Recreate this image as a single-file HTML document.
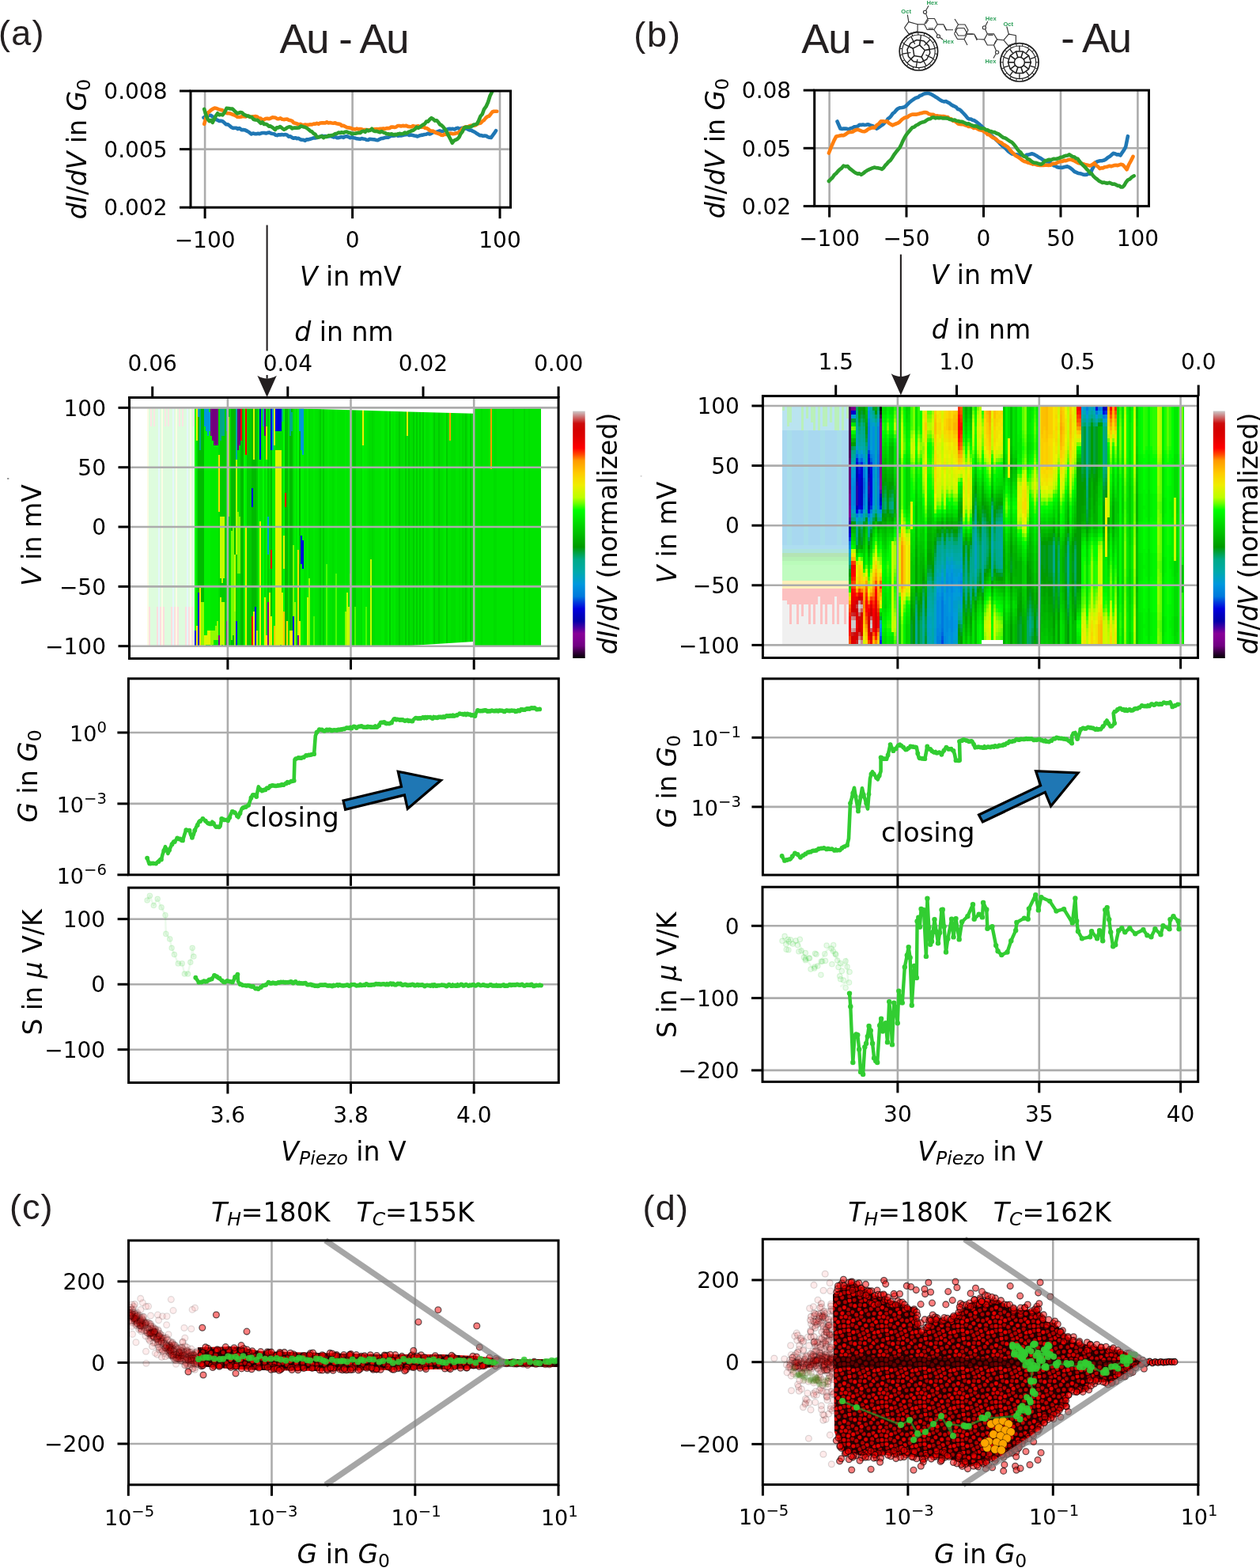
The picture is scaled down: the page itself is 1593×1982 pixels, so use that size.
<!DOCTYPE html><html><head><meta charset="utf-8"><style>html,body{margin:0;padding:0;background:#fff;}svg{display:block;}</style></head><body><svg xmlns="http://www.w3.org/2000/svg" width="1593" height="1982" viewBox="0 0 1593 1982" font-family="'DejaVu Sans', sans-serif"><rect width="1593" height="1982" fill="#fff"/>
<text x="-2.1" y="56.8" font-size="45" text-anchor="start" letter-spacing="1.3" font-family="'Liberation Sans', Arial, sans-serif" fill="#231f20">(a)</text>
<text x="801.3" y="59" font-size="45" text-anchor="start" letter-spacing="1.8" font-family="'Liberation Sans', Arial, sans-serif" fill="#231f20">(b)</text>
<text x="353.6" y="66.5" font-size="52.6" text-anchor="start" letter-spacing="-1.45" font-family="'Liberation Sans', Arial, sans-serif" fill="#231f20">Au - Au</text>
<text x="1013.2" y="66.5" font-size="52.6" text-anchor="start" letter-spacing="-1.0" font-family="'Liberation Sans', Arial, sans-serif" fill="#231f20">Au -</text>
<text x="1341.3" y="66.3" font-size="52.6" text-anchor="start" letter-spacing="-1.3" font-family="'Liberation Sans', Arial, sans-serif" fill="#231f20">- Au</text>
<line x1="259.1" y1="115" x2="259.1" y2="262.2" stroke="#acacac" stroke-width="2.6"/>
<line x1="445.6" y1="115" x2="445.6" y2="262.2" stroke="#acacac" stroke-width="2.6"/>
<line x1="632" y1="115" x2="632" y2="262.2" stroke="#acacac" stroke-width="2.6"/>
<line x1="241" y1="188.6" x2="645.5" y2="188.6" stroke="#acacac" stroke-width="2.6"/>
<line x1="1048.6" y1="114.1" x2="1048.6" y2="260.6" stroke="#acacac" stroke-width="2.6"/>
<line x1="1146" y1="114.1" x2="1146" y2="260.6" stroke="#acacac" stroke-width="2.6"/>
<line x1="1243.5" y1="114.1" x2="1243.5" y2="260.6" stroke="#acacac" stroke-width="2.6"/>
<line x1="1341" y1="114.1" x2="1341" y2="260.6" stroke="#acacac" stroke-width="2.6"/>
<line x1="1438.4" y1="114.1" x2="1438.4" y2="260.6" stroke="#acacac" stroke-width="2.6"/>
<line x1="1029.7" y1="187.3" x2="1452.5" y2="187.3" stroke="#acacac" stroke-width="2.6"/>
<line x1="287.9" y1="857.8" x2="287.9" y2="1105.8" stroke="#acacac" stroke-width="2.6"/>
<line x1="443.5" y1="857.8" x2="443.5" y2="1105.8" stroke="#acacac" stroke-width="2.6"/>
<line x1="599.2" y1="857.8" x2="599.2" y2="1105.8" stroke="#acacac" stroke-width="2.6"/>
<line x1="162.4" y1="926" x2="706.3" y2="926" stroke="#acacac" stroke-width="2.6"/>
<line x1="162.4" y1="1015.9" x2="706.3" y2="1015.9" stroke="#acacac" stroke-width="2.6"/>
<line x1="287.9" y1="1122.1" x2="287.9" y2="1368.5" stroke="#acacac" stroke-width="2.6"/>
<line x1="443.5" y1="1122.1" x2="443.5" y2="1368.5" stroke="#acacac" stroke-width="2.6"/>
<line x1="599.2" y1="1122.1" x2="599.2" y2="1368.5" stroke="#acacac" stroke-width="2.6"/>
<line x1="162.6" y1="1161.7" x2="706.3" y2="1161.7" stroke="#acacac" stroke-width="2.6"/>
<line x1="162.6" y1="1244.2" x2="706.3" y2="1244.2" stroke="#acacac" stroke-width="2.6"/>
<line x1="162.6" y1="1326.7" x2="706.3" y2="1326.7" stroke="#acacac" stroke-width="2.6"/>
<line x1="1134.9" y1="857.9" x2="1134.9" y2="1106" stroke="#acacac" stroke-width="2.6"/>
<line x1="1313.8" y1="857.9" x2="1313.8" y2="1106" stroke="#acacac" stroke-width="2.6"/>
<line x1="1492.6" y1="857.9" x2="1492.6" y2="1106" stroke="#acacac" stroke-width="2.6"/>
<line x1="964.4" y1="932.3" x2="1514.7" y2="932.3" stroke="#acacac" stroke-width="2.6"/>
<line x1="964.4" y1="1019.9" x2="1514.7" y2="1019.9" stroke="#acacac" stroke-width="2.6"/>
<line x1="1134.9" y1="1121.2" x2="1134.9" y2="1367.4" stroke="#acacac" stroke-width="2.6"/>
<line x1="1313.8" y1="1121.2" x2="1313.8" y2="1367.4" stroke="#acacac" stroke-width="2.6"/>
<line x1="1492.6" y1="1121.2" x2="1492.6" y2="1367.4" stroke="#acacac" stroke-width="2.6"/>
<line x1="964" y1="1170.3" x2="1514.7" y2="1170.3" stroke="#acacac" stroke-width="2.6"/>
<line x1="964" y1="1261.6" x2="1514.7" y2="1261.6" stroke="#acacac" stroke-width="2.6"/>
<line x1="964" y1="1352.9" x2="1514.7" y2="1352.9" stroke="#acacac" stroke-width="2.6"/>
<line x1="343.5" y1="1568" x2="343.5" y2="1876.8" stroke="#acacac" stroke-width="2.6"/>
<line x1="524.8" y1="1568" x2="524.8" y2="1876.8" stroke="#acacac" stroke-width="2.6"/>
<line x1="162.5" y1="1619.8" x2="706" y2="1619.8" stroke="#acacac" stroke-width="2.6"/>
<line x1="162.5" y1="1722.4" x2="706" y2="1722.4" stroke="#acacac" stroke-width="2.6"/>
<line x1="162.5" y1="1825" x2="706" y2="1825" stroke="#acacac" stroke-width="2.6"/>
<line x1="1147.9" y1="1566.3" x2="1147.9" y2="1876.6" stroke="#acacac" stroke-width="2.6"/>
<line x1="1331.3" y1="1566.3" x2="1331.3" y2="1876.6" stroke="#acacac" stroke-width="2.6"/>
<line x1="964.3" y1="1618" x2="1515" y2="1618" stroke="#acacac" stroke-width="2.6"/>
<line x1="964.3" y1="1721.7" x2="1515" y2="1721.7" stroke="#acacac" stroke-width="2.6"/>
<line x1="964.3" y1="1825.4" x2="1515" y2="1825.4" stroke="#acacac" stroke-width="2.6"/>
<polyline points="257.5,148.6 259.7,147.5 261.9,147.5 264.1,145.8 266.3,145.8 268.5,147.2 270.7,148.4 272.9,150.9 275.1,151.9 277.2,152.9 279.3,152.8 281.4,153.2 283.7,155.2 285.9,157.2 288.2,157.4 290.4,159 292.7,161 294.7,161.9 296.7,161.7 298.7,161.8 300.7,163.1 302.7,162 305.2,164.1 307.8,164 310.3,164.6 312.8,165.9 315.3,167.4 317.8,169.5 319.9,168.5 322,169.1 324.1,169.2 326.2,168.8 328.3,169.1 330.4,168.3 332.4,168 334.4,168 336.4,168.5 338.4,167.8 340.4,167.4 342.4,168.5 344.4,168.9 346.4,169.2 348.4,170.7 350.4,171.1 352.4,170.2 354.4,170.4 356.5,170.1 358.5,170.4 360.5,170 362.7,170.4 364.9,172.6 367.1,172.3 369.3,173.9 371.3,174.8 373.4,174.2 375.4,175.1 377.5,174.8 379.5,176.2 381.5,176.7 383.6,176.8 385.6,177.7 387.8,176.3 389.9,176.4 392.1,175.7 394.2,175.1 396.4,174.4 398.5,174.5 400.7,174.1 402.8,173 404.9,173 406.9,171.7 409,172.5 411.1,172.1 413.2,172.3 415.4,172.5 417.5,172 419.7,172.6 421.8,173.5 424,173 426.1,174.1 428.3,174.1 430.3,173.6 432.3,173.1 434.3,173.9 436.3,172.5 438.3,172.3 440.5,173 442.8,174.2 445,173.3 447,174.2 449.1,174.6 451.1,175.3 453.1,175.5 455.2,175.8 457.2,175.1 459.3,175.5 461.3,175.7 463.3,176.7 465.4,177 467.4,175.8 469.5,176 471.5,176.3 473.5,176.4 475.6,177 477.6,177.3 479.8,176.1 482,175 484.2,174.9 486.4,174.1 488.6,173.7 490.8,173.6 493,172.5 495.2,171.5 497.2,171.6 499.2,171.5 501.2,170.4 503.2,171.7 505.2,171.3 507.3,171.4 509.3,171.1 511.3,170.4 513.3,170.3 515.3,169.7 517.4,170.9 519.5,170.4 521.6,170.9 523.7,171.5 525.8,171.8 527.9,172.5 530.1,171.5 532.3,170.9 534.5,170.6 536.6,170 538.8,169.8 541,168.7 543.2,169.5 545.4,168.6 547.5,167.3 549.6,167 551.7,166.7 553.8,166.2 555.9,165.4 558,166 560.1,165.8 562.2,164.4 564.3,164 566.4,163.1 568.5,162.9 570.6,163.1 572.7,162.8 574.7,163.5 576.8,162.2 578.9,161.8 581,163 583.1,162.1 585.2,161.9 587.3,162.8 589.4,162.3 591.5,163.4 593.6,164.4 595.7,164.6 597.9,165.9 600.1,166.8 602.3,168.5 604.5,169.8 606.5,171.1 608.6,171.1 610.6,171.9 612.6,171.6 614.7,171.8 616.7,173.1 618.8,173.8 620.8,174 622.9,171.2 624.9,168.4 627,165.2" fill="none" stroke="#1f77b4" stroke-width="4.6" stroke-linejoin="round" stroke-linecap="round"/>
<polyline points="258.2,156.8 260.4,149.1 262.6,142.6 264.8,141 267,139 269.1,137.6 271.3,136.6 273.8,137 276.4,138.1 278.9,138.9 281.1,139.2 283.3,141.1 285.5,142.3 287.7,143.3 289.8,143.2 291.9,143.8 293.9,144.7 296,145.4 298.1,146.3 300.2,147.8 302.3,148 304.4,147.7 306.5,147 308.5,147.2 310.6,147.5 312.6,146.3 314.6,147.3 316.7,147.7 318.7,147.5 320.8,147.4 322.8,147 325,147.4 327.2,149.4 329.4,149.6 331.6,151.3 333.7,151.2 335.8,150 337.9,149.7 340,150.2 342.1,149.6 344.2,148.4 346.3,148.5 348.4,148.8 350.5,150.2 352.6,150.2 354.6,149.4 356.7,150.7 358.8,151.1 360.9,150.8 363,150.6 365.1,151.8 367.2,152.1 369.2,152.8 371.3,155.3 373.4,155.7 375.5,156.4 377.6,157.4 379.7,156.9 381.8,157.9 383.9,158.2 386,157.5 388.1,157.9 390.2,157.7 392.3,157.3 394.4,157.5 396.5,156.6 398.6,156.6 400.6,155.8 402.7,156.7 404.8,155.5 406.9,155.4 409,155.3 411.1,155.5 413.2,154.4 415.3,155.5 417.4,155.1 419.5,155.5 421.6,155.8 423.7,155.3 425.8,156.3 427.9,156.6 430.1,157 432.2,159 434.3,158.7 436.5,159.9 438.6,161 440.7,161.4 442.9,161.7 445,162.7 447,163 449.1,163.5 451.1,162.6 453.1,163.4 455.2,163.1 457.2,163.3 459.3,164.3 461.3,164 463.4,164 465.6,164.2 467.7,164.3 469.9,163.4 472,163.5 474.1,163.2 476.3,163.1 478.4,163.3 480.6,162.8 482.7,162.8 484.7,162.4 486.7,162.8 488.7,162.1 490.7,162.1 492.8,161.9 494.8,160.5 496.8,160.6 498.8,160.9 500.8,160.5 502.8,159 505,159 507.1,159.5 509.3,158.9 511.5,159.2 513.6,158.9 515.8,159.9 517.9,160.1 520.1,160.2 522.3,159 524.4,159.9 526.6,159.9 528.8,159.2 531,160.5 533.2,160.8 535.4,159.8 537.4,161.9 539.4,162 541.4,163.2 543.4,165 545.4,165.7 547.5,165.6 549.6,167 551.7,168.1 553.8,168.7 555.9,169.5 558,170.6 560.1,170.9 562.2,169.5 564.3,170 566.4,169.5 568.5,168.5 570.6,168.7 572.7,169.2 574.7,169 576.8,168.3 578.8,168.3 580.8,166.5 582.9,165.3 584.9,162.4 586.9,161.1 589,160.2 591.1,160.8 593.2,159.5 595.3,158.7 597.3,158.6 599.4,158.8 601.5,158.1 603.6,156.7 605.7,155.9 607.8,155.5 609.9,153.2 612,151.8 614.1,149.1 616.2,147.4 618.3,146.7 620.4,144.2 622.4,141.5 624.5,140.8 628.3,140.8" fill="none" stroke="#ff7f0e" stroke-width="4.6" stroke-linejoin="round" stroke-linecap="round"/>
<polyline points="258.2,137.9 260.4,145.3 262.6,150.3 264.7,153.2 266.7,151.9 268.8,154.8 270.9,150.2 273,146.3 275.1,143.3 277.2,145.4 279.3,144.7 281.4,145.4 283.9,142.1 286.4,136.9 288.9,137 291.4,137.5 293.9,137.6 296,139.7 298.1,141.7 300.2,143.4 304,142 306.1,142.5 308.2,144.7 310.3,145.6 312.3,146.7 314.3,146.6 316.3,148 318.3,148.1 320.3,150.7 322.8,151.5 325.3,151.8 327.8,153.8 329.8,155.8 331.8,154.4 333.9,157 335.9,156.8 337.9,157.7 339.9,159.6 341.9,159.4 343.9,160.7 345.9,162.2 347.9,164 350,161.2 352.1,161.4 354.2,160 356.7,162.1 359.2,163.7 361.3,162.7 363.4,161.1 365.5,160.4 367.5,160.5 369.5,162.5 371.5,161.5 373.5,161.6 375.5,161.6 378.1,161.4 380.6,159.3 383.1,160.2 385.6,160.7 388.1,162 390.2,163.7 392.3,165.7 394.4,166.5 396.5,168.8 398.6,169.9 400.7,173.3 402.8,173.5 404.9,172.7 406.9,172.1 409,174.2 411.1,172.7 413.2,173 415.3,171.4 417.4,171.6 419.5,171.1 421.6,170.5 423.7,169 425.8,169 427.9,167.5 430,168 432.1,167.3 434.1,167.9 436.2,166.7 438.3,166.5 440.5,167.6 442.8,167.9 445,169.2 447.1,168.7 449.2,168.8 451.3,168.2 453.4,167.9 455.5,167.9 457.6,166.2 459.6,165.6 461.7,166.9 463.8,164.3 465.9,165.4 468,164.8 470.1,162.8 472.2,165.4 474.3,166 476.4,165.8 478.5,166.6 480.5,167.3 482.6,166 484.7,167.5 486.8,167.9 488.9,169.3 491,169.4 493.1,169.7 495.2,169.3 497.3,170.3 499.4,169.9 501.5,170.2 503.6,169.2 505.7,168.9 507.8,169.3 509.9,169 512.1,167.5 514.2,168.5 516.4,166.9 518.5,166.1 520.7,165.2 522.8,164.5 524.8,163 526.8,160.7 528.9,161.8 530.9,160.6 532.9,159 535,157.6 537.1,156.5 539.1,153.5 541.2,153.7 543.3,151 545.4,149.1 547.6,150.5 549.8,152.6 552,152.2 554.2,154.5 556.2,157.4 558.2,158.4 560.3,160.4 562.3,162.9 564.3,165.7 566.8,170.9 569.3,175.6 571.8,180.7 573.9,177.9 576,176.8 578.1,175.9 580.3,173.7 582.5,169.1 584.7,166.3 586.9,161.4 588.9,160.8 591,160.5 593,160.8 595,160.1 597.1,159.3 599.1,157.5 601.2,157.3 603.2,156.4 605.4,152 607.6,146.7 609.8,144.3 612,138.1 614.5,134.7 617,129.2 619.5,121.3 622,116.3" fill="none" stroke="#2ca02c" stroke-width="4.6" stroke-linejoin="round" stroke-linecap="round"/>
<polyline points="1058.5,153.5 1062.4,162.5 1064.5,162.9 1066.6,162.6 1068.8,162.6 1070.9,162.8 1073,163.9 1075.3,162.2 1077.5,161.8 1079.8,160.4 1082,160.1 1084.3,159.7 1086.5,157.9 1088.8,157.9 1090.9,157.5 1093,158 1095.1,157.7 1097.2,157.2 1099.3,158 1101.6,158.8 1103.9,159.5 1106.2,160.8 1108.5,162.7 1110.5,161.3 1112.5,159.9 1114.5,158.4 1116.5,157.3 1118.5,155 1120.6,153.4 1122.6,150.1 1124.7,148.7 1126.7,146.5 1128.8,143.4 1130.8,142.1 1132.9,139.5 1134.9,137.5 1137.5,136.3 1140.2,136 1142.8,135.6 1145.1,134.3 1147.4,131.9 1149.7,129.6 1152,127.7 1154.2,126.2 1156.4,124.6 1158.6,123.4 1160.8,122.9 1163,121 1165.2,120.4 1167.4,118.9 1169.6,118.3 1171.8,117.9 1174,118 1176.2,118.6 1178.4,119.7 1180.6,121.1 1182.8,122.4 1185,123.7 1187.2,125.4 1189.4,126.9 1191.6,127.9 1193.8,128.5 1196,128.1 1198.2,129.4 1200.3,130.4 1202.5,132.2 1204.6,133.5 1206.8,134.4 1208.9,135.6 1211,138 1213.2,138.5 1215.3,140.3 1217.9,143 1220.6,145.8 1223.2,149.2 1225.3,150.4 1227.4,150.5 1229.6,151.8 1231.7,152.3 1233.8,153.6 1236,155.3 1238.1,157 1240.3,158.9 1242.4,160.9 1244.6,163.7 1246.7,165.1 1248.9,166.7 1251,169.5 1253.2,171.5 1255.4,173 1257.6,174.8 1259.8,177.1 1262,179.1 1264.2,181.6 1266.4,183.5 1268.6,185.5 1270.8,187.2 1273,189.4 1275.1,191.5 1277.3,193.1 1279.5,194.5 1281.8,194.9 1284,195.4 1286.3,195.6 1288.6,195.9 1290.9,195.9 1293.1,196.6 1295.4,197.8 1297.7,195.9 1300,195.6 1302.3,194.9 1304.6,194.3 1306.9,194.9 1309.2,196.3 1311.5,197.6 1313.8,199.1 1316.2,200.3 1318.6,202.1 1320.9,203.2 1323.3,204.4 1325.7,204.5 1327.9,205.8 1330.1,207.8 1332.3,209.2 1334.5,209.9 1336.7,211.3 1338.9,211.8 1341,211.7 1343.1,211.9 1345.2,211.2 1347.3,210.7 1349.4,210.4 1351.7,211.3 1354,212.9 1356.3,214.8 1358.6,217 1360.8,217.9 1363,218.9 1365.2,219.3 1367.4,219.8 1369.6,220.7 1371.8,220.9 1374,220.6 1376.2,219.5 1378.4,219.9 1380.6,214.4 1382.8,210.4 1385,205.3 1387.2,204.3 1389.4,203.6 1391.6,203.2 1393.8,203.1 1396,202.6 1398.2,201.3 1400.5,199.3 1402.8,197.9 1405.1,196 1407.4,193.8 1409.7,194.2 1412,195.4 1414.3,195.3 1416.6,196.4 1418.8,192.8 1421,189.7 1423.2,185.6 1425.9,172.2" fill="none" stroke="#1f77b4" stroke-width="4.6" stroke-linejoin="round" stroke-linecap="round"/>
<polyline points="1047.9,193.5 1049.9,188.4 1051.9,183.5 1054.5,177.6 1057.1,172.6 1059.4,172.1 1061.8,171.4 1064.1,170.9 1066.4,171.3 1069,169.9 1071.6,167.9 1073.8,167 1076,166.9 1078.2,166.5 1080.4,165 1082.6,164.1 1084.8,163.8 1087.4,164.8 1090.1,166 1092.7,166.3 1095.3,165.1 1098,163 1100.6,162.1 1103.3,161.1 1105.9,161.4 1108.5,158.1 1111.2,156.3 1113.8,153.2 1116.4,153.2 1119.1,153.8 1121.7,153.3 1123.9,155.8 1126.1,157 1128.3,158.4 1130.5,157.4 1132.7,156.5 1134.9,155.7 1137.5,154 1140.2,151.1 1142.8,149.4 1145.1,148.2 1147.4,148.1 1149.7,146.1 1152,145.1 1154.3,144.6 1156.7,144.5 1159,144.6 1161.3,144.1 1163.5,143.2 1165.7,142.9 1167.9,142.1 1170.1,142.1 1172.3,142.6 1174.5,144.1 1177.1,144.8 1179.8,144.8 1182.4,146.5 1184.7,146.4 1186.9,146.7 1189.2,146.9 1191.4,147 1193.7,147.1 1195.9,147.7 1198.2,148 1200.4,150.1 1202.6,150.4 1204.8,152.7 1207,153.1 1209.2,154.6 1211.4,156.5 1213.6,157 1215.8,157.1 1218,157.2 1220.2,158.3 1222.4,158.7 1224.6,159.9 1226.8,159.7 1229,160.6 1231.2,162 1233.4,161.6 1235.6,162.8 1237.8,164 1240,164.6 1242.2,165.1 1244.4,166.4 1246.6,167.7 1248.8,170.1 1251,170.6 1253.2,172.5 1255.4,174.1 1257.6,174.9 1259.8,176.3 1262,178.6 1264.2,179.7 1266.4,180.7 1268.6,182.7 1270.8,183.7 1273,185.1 1275.2,187 1277.4,190.1 1279.5,192.4 1281.7,194.3 1283.9,196.8 1286.1,197.9 1288.3,199.4 1290.5,200.9 1292.7,202.7 1294.9,203.9 1297.1,204.4 1299.3,205.5 1301.5,206.1 1303.7,206.7 1305.9,207.6 1308.1,207.2 1310.3,208.3 1312.5,208.7 1314.7,208.9 1316.9,209 1319.1,208.9 1321.3,208.7 1323.5,208.8 1325.7,208.9 1327.9,208.8 1330.1,207.3 1332.3,206.7 1334.5,206.7 1336.7,205.5 1338.9,204.6 1341.1,203.9 1343.3,203.9 1345.5,202.9 1347.6,203.1 1349.8,202.3 1352,201.8 1354.2,201.8 1356.4,202.5 1358.6,203.4 1360.8,204.7 1363,205.9 1365.2,206.4 1367.4,206.6 1369.6,207.3 1371.8,207.9 1374,208.4 1376.2,209 1378.4,209.5 1381.1,208 1383.7,206 1385.9,209.1 1388.1,210.6 1390.3,213.1 1392.4,212.4 1394.4,212.4 1396.5,211.3 1398.6,210.9 1400.7,210.4 1402.7,209.8 1404.8,210.3 1406.9,209.6 1408.9,209 1411,208.8 1413.1,209.2 1415.2,208.4 1417.2,207.8 1419.3,208.2 1421.9,210.9 1424.6,214.3 1427.2,208 1429.9,203.1 1432.5,197.9" fill="none" stroke="#ff7f0e" stroke-width="4.6" stroke-linejoin="round" stroke-linecap="round"/>
<polyline points="1047.9,229 1050.2,226.7 1052.5,224.5 1054.8,221.1 1057.1,219.2 1059.4,216.5 1061.8,214.1 1064.1,212.5 1066.4,209.6 1069,210.4 1071.6,210 1074.2,213 1076.9,214.9 1079.5,217.1 1081.8,218.6 1084.2,219.6 1086.5,219.4 1088.8,220.8 1091.4,219.1 1094.1,216.9 1096.7,215.3 1099,214.1 1101.3,213.1 1103.6,212.2 1105.9,211.6 1108.2,212.3 1110.5,212.4 1112.8,212.9 1115.1,213.9 1117.2,212 1119.3,209 1121.5,206.8 1123.6,204.3 1125.7,202.7 1128.1,199.2 1130.4,195.5 1132.8,192.3 1135.1,189.5 1137.5,186.6 1139.5,182.7 1141.5,178.1 1143.5,174.2 1145.5,170.8 1148.1,167.4 1150.8,164.2 1153.4,161.2 1155.8,160.6 1158.1,158.5 1160.5,157.5 1162.8,155.9 1165.2,154.7 1167.4,154.3 1169.6,153.4 1171.8,151.7 1174,150.5 1176.2,150.2 1178.4,148.5 1180.6,148.3 1182.8,149.4 1185,148.8 1187.2,149.3 1189.4,148.8 1191.6,149.4 1193.8,149.3 1196,149.4 1198.2,149.6 1200.4,150.7 1202.6,151.2 1204.8,152 1207,151.6 1209.2,152.7 1211.4,153 1213.6,153.7 1215.8,153.8 1218,154.5 1220.2,155.5 1222.4,156.6 1224.5,156.3 1226.7,157.5 1228.9,158.5 1231.1,159.4 1233.3,159.1 1235.5,159.8 1237.8,161.4 1240,162.2 1242.2,162.3 1244.4,162.5 1246.6,164.3 1248.8,164.4 1251,165.8 1253.2,166.1 1255.4,167.1 1257.6,167.1 1259.8,168.5 1262,169.2 1264.2,170.7 1266.4,172.6 1268.6,173.9 1270.7,174.4 1272.9,175.8 1275.1,177.3 1277.3,178.8 1279.5,180 1281.7,182.3 1283.9,185.1 1286.1,188.3 1288.3,191.1 1290.5,192.7 1292.7,196 1294.9,197.7 1297.1,198.4 1299.3,200.9 1301.5,201.6 1303.7,203.7 1305.9,205.2 1308,205.8 1310.1,205.9 1312.3,206.6 1314.4,207.4 1316.5,207.7 1319.1,205.7 1321.7,203.1 1323.9,202.7 1326,201.8 1328.2,202.1 1330.3,201.5 1332.5,200.8 1334.6,201 1336.8,200.6 1338.9,199.8 1341.1,198.8 1343.3,198.5 1345.5,197.4 1347.6,196.8 1349.8,196.5 1352,195.4 1354.1,196.9 1356.2,198 1358.4,198.5 1360.5,200.3 1362.6,200.7 1364.9,204.1 1367.2,206.8 1369.5,209.1 1371.8,211.2 1373.9,213.8 1376,215.8 1378.2,218.6 1380.3,219.7 1382.4,222.7 1384.7,224.9 1387,226.5 1389.3,228.6 1391.6,229.8 1393.8,231 1396,230.6 1398.2,231.4 1400.4,231.6 1402.6,230.9 1404.8,231.8 1406.9,232.8 1408.9,232.5 1411,233.6 1413.1,234.8 1415.2,234.9 1417.2,236.5 1419.3,236.5 1421.5,234.1 1423.7,230.2 1425.9,227.5 1428.5,226.3 1431.2,223.7 1433.8,222.3" fill="none" stroke="#2ca02c" stroke-width="4.6" stroke-linejoin="round" stroke-linecap="round"/>
<path d="M186 515h2v303h-2zM204 515h2v303h-2zM222 515h2v303h-2zM240 515h2v303h-2z" fill="#fcfce4" shape-rendering="crispEdges"/>
<path d="M188 515h2v252h-2zM190 539h2v279h-2zM192 515h2v303h-2zM194 539h2v279h-2zM196 515h2v303h-2zM198 515h2v252h-2zM202 515h2v252h-2zM206 515h2v252h-2zM208 539h2v279h-2zM210 515h2v303h-2zM212 539h2v279h-2zM214 515h2v303h-2zM216 515h2v252h-2zM220 515h2v252h-2zM224 515h2v252h-2zM226 539h2v279h-2zM228 515h2v303h-2zM230 539h2v279h-2zM232 515h2v303h-2zM234 515h2v252h-2zM238 515h2v252h-2zM242 515h2v252h-2zM244 539h2v279h-2z" fill="#defcde" shape-rendering="crispEdges"/>
<path d="M188 767h2v51h-2zM198 767h2v51h-2zM202 767h2v51h-2zM206 767h2v51h-2zM216 767h2v51h-2zM220 767h2v51h-2zM224 767h2v51h-2zM234 767h2v51h-2zM238 767h2v51h-2zM242 767h2v51h-2z" fill="#fcdede" shape-rendering="crispEdges"/>
<path d="M190 515h2v24h-2zM194 515h2v24h-2zM208 515h2v24h-2zM212 515h2v24h-2zM226 515h2v24h-2zM230 515h2v24h-2zM244 515h2v24h-2z" fill="#fce4e4" shape-rendering="crispEdges"/>
<path d="M200 515h2v303h-2zM218 515h2v303h-2zM236 515h2v303h-2z" fill="#e4f6fc" shape-rendering="crispEdges"/>
<path d="M246 515h2v282h-2zM308 515h2v303h-2zM332 539h2v279h-2zM358 515h2v162h-2zM358 719h2v54h-2zM376 515h2v180h-2z" fill="#00fc00" shape-rendering="crispEdges"/>
<path d="M246 797h2v21h-2zM250 749h2v69h-2zM298 785h2v33h-2zM318 617h2v24h-2zM322 767h2v51h-2zM328 515h2v66h-2zM342 515h2v54h-2zM348 515h2v30h-2zM350 515h2v30h-2zM352 515h2v30h-2zM354 515h2v30h-2zM370 779h2v39h-2zM380 677h2v36h-2zM382 683h2v36h-2z" fill="#0000de" shape-rendering="crispEdges"/>
<path d="M248 515h2v42h-2zM248 791h2v27h-2zM310 665h2v153h-2zM320 773h2v45h-2zM328 659h2v159h-2zM334 755h2v63h-2zM336 803h2v15h-2zM342 779h2v39h-2zM346 515h2v48h-2zM366 797h2v21h-2zM368 797h2v21h-2zM378 785h2v33h-2zM458 515h2v48h-2zM514 515h2v36h-2z" fill="#f0f000" shape-rendering="crispEdges"/>
<path d="M248 557h2v234h-2zM276 515h2v60h-2zM276 647h2v156h-2zM286 545h2v240h-2zM290 515h2v303h-2zM300 569h2v78h-2zM300 725h2v93h-2zM302 563h2v90h-2zM302 725h2v93h-2zM334 551h2v204h-2zM340 515h2v234h-2zM348 545h2v24h-2zM350 545h2v24h-2zM352 545h2v24h-2zM354 545h2v24h-2zM354 815h2v3h-2zM356 533h2v216h-2zM364 515h2v303h-2zM370 515h2v174h-2zM390 515h2v216h-2zM402 515h2v303h-2zM420 515h2v303h-2zM456 515h2v303h-2zM466 515h2v303h-2zM468 515h2v192h-2zM472 515h2v303h-2zM486 515h2v303h-2zM488 515h2v303h-2zM500 515h2v303h-2zM502 515h2v303h-2zM506 515h2v303h-2zM508 515h2v303h-2zM518 515h2v303h-2zM520 515h2v303h-2zM538 515h2v303h-2zM540 515h2v303h-2zM550 515h2v303h-2zM552 515h2v303h-2zM556 515h2v303h-2zM558 515h2v303h-2zM570 515h2v303h-2zM572 515h2v303h-2zM574 515h2v303h-2zM580 515h2v303h-2zM586 515h2v303h-2zM590 515h2v303h-2zM596 515h2v303h-2zM608 515h2v303h-2zM624 515h2v303h-2zM626 515h2v303h-2zM668 515h2v303h-2z" fill="#00de00" shape-rendering="crispEdges"/>
<path d="M250 515h2v12h-2zM332 515h2v24h-2zM344 515h2v54h-2zM378 515h2v30h-2z" fill="#00a2c0" shape-rendering="crispEdges"/>
<path d="M250 527h2v222h-2zM252 569h2v174h-2zM254 515h2v246h-2zM256 515h2v246h-2zM292 515h2v156h-2zM292 809h2v9h-2zM294 515h2v150h-2zM294 803h2v15h-2zM296 515h2v186h-2zM304 557h2v261h-2zM306 515h2v303h-2zM318 515h2v102h-2zM318 641h2v138h-2zM320 581h2v192h-2zM322 515h2v252h-2zM342 569h2v126h-2zM342 719h2v60h-2zM360 515h2v108h-2zM360 641h2v177h-2zM362 515h2v270h-2zM366 551h2v246h-2zM368 515h2v6h-2zM368 545h2v252h-2zM378 545h2v240h-2z" fill="#00ba00" shape-rendering="crispEdges"/>
<path d="M252 515h2v54h-2zM278 515h2v42h-2zM280 515h2v36h-2zM282 515h2v36h-2zM356 515h2v18h-2zM366 515h2v36h-2zM368 521h2v24h-2z" fill="#00a88a" shape-rendering="crispEdges"/>
<path d="M252 743h2v75h-2zM276 575h2v72h-2zM336 539h2v42h-2zM362 785h2v33h-2zM376 695h2v108h-2z" fill="#f6de00" shape-rendering="crispEdges"/>
<path d="M254 761h2v57h-2zM256 761h2v57h-2zM266 797h2v21h-2zM268 797h2v18h-2zM270 797h2v12h-2zM272 791h2v18h-2zM274 785h2v24h-2zM296 773h2v45h-2zM372 761h2v57h-2zM390 731h2v87h-2zM436 773h2v45h-2zM442 725h2v93h-2z" fill="#90fc00" shape-rendering="crispEdges"/>
<path d="M258 515h2v24h-2zM260 515h2v30h-2zM262 515h2v36h-2zM264 521h2v24h-2zM286 515h2v30h-2zM338 653h2v48h-2zM380 515h2v54h-2zM382 515h2v60h-2z" fill="#0096de" shape-rendering="crispEdges"/>
<path d="M258 539h2v264h-2zM260 545h2v258h-2zM260 815h2v3h-2zM262 551h2v246h-2zM262 815h2v3h-2zM264 515h2v6h-2zM264 545h2v252h-2zM264 815h2v3h-2zM310 575h2v90h-2zM326 515h2v303h-2zM336 515h2v24h-2zM336 581h2v222h-2zM344 569h2v249h-2zM372 515h2v246h-2zM380 569h2v108h-2zM380 713h2v105h-2zM382 575h2v108h-2zM382 719h2v99h-2zM388 515h2v240h-2zM458 563h2v255h-2zM490 515h2v303h-2z" fill="#00f000" shape-rendering="crispEdges"/>
<path d="M258 803h2v15h-2zM260 803h2v12h-2zM262 797h2v18h-2zM264 797h2v18h-2zM320 515h2v66h-2zM340 749h2v69h-2zM348 569h2v249h-2zM350 569h2v249h-2zM352 569h2v249h-2zM354 569h2v246h-2zM356 749h2v69h-2zM358 677h2v42h-2z" fill="#def600" shape-rendering="crispEdges"/>
<path d="M266 515h2v36h-2zM268 515h2v42h-2zM270 515h2v48h-2zM272 515h2v48h-2zM274 515h2v48h-2zM300 515h2v54h-2zM302 515h2v48h-2zM334 515h2v36h-2z" fill="#72007e" shape-rendering="crispEdges"/>
<path d="M266 551h2v246h-2zM268 557h2v240h-2zM268 815h2v3h-2zM270 563h2v234h-2zM270 809h2v9h-2zM272 563h2v228h-2zM272 809h2v9h-2zM274 563h2v222h-2zM274 809h2v9h-2zM346 563h2v228h-2zM396 515h2v264h-2zM414 515h2v303h-2zM424 515h2v210h-2zM436 515h2v258h-2zM442 515h2v210h-2zM460 515h2v303h-2zM462 515h2v252h-2zM482 515h2v303h-2zM484 515h2v303h-2zM494 515h2v303h-2zM498 515h2v303h-2zM536 515h2v303h-2zM544 515h2v303h-2zM562 515h2v303h-2zM592 515h2v303h-2z" fill="#00ea00" shape-rendering="crispEdges"/>
<path d="M276 803h2v15h-2zM286 785h2v33h-2zM338 761h2v57h-2zM376 803h2v15h-2z" fill="#840096" shape-rendering="crispEdges"/>
<path d="M278 557h2v96h-2zM278 731h2v24h-2zM280 551h2v102h-2zM280 737h2v24h-2zM280 815h2v3h-2zM282 551h2v102h-2zM282 731h2v30h-2zM284 515h2v303h-2zM288 515h2v12h-2zM288 653h2v165h-2zM298 701h2v84h-2zM312 515h2v303h-2zM314 515h2v303h-2zM316 515h2v303h-2zM324 515h2v282h-2zM338 515h2v138h-2zM338 701h2v60h-2zM404 515h2v303h-2zM408 515h2v303h-2zM446 515h2v303h-2zM448 515h2v252h-2zM492 515h2v303h-2zM504 515h2v303h-2zM512 515h2v303h-2zM516 515h2v303h-2zM522 515h2v303h-2zM526 515h2v303h-2zM530 515h2v303h-2zM534 515h2v303h-2zM548 515h2v303h-2zM554 515h2v303h-2zM564 515h2v303h-2zM588 515h2v303h-2zM594 515h2v303h-2z" fill="#00cc00" shape-rendering="crispEdges"/>
<path d="M278 653h2v78h-2zM278 755h2v63h-2zM280 653h2v84h-2zM280 761h2v54h-2zM282 653h2v78h-2zM282 761h2v57h-2zM288 527h2v126h-2zM324 797h2v21h-2zM388 755h2v63h-2zM438 749h2v69h-2zM440 767h2v51h-2zM468 707h2v111h-2z" fill="#c6fc00" shape-rendering="crispEdges"/>
<path d="M292 671h2v138h-2zM294 665h2v138h-2zM300 647h2v78h-2zM302 653h2v72h-2zM370 689h2v90h-2z" fill="#78fc00" shape-rendering="crispEdges"/>
<path d="M296 701h2v72h-2zM298 581h2v120h-2z" fill="#bafc00" shape-rendering="crispEdges"/>
<path d="M298 515h2v66h-2z" fill="#00a8a8" shape-rendering="crispEdges"/>
<path d="M304 515h2v42h-2zM310 515h2v60h-2zM318 779h2v39h-2zM342 695h2v24h-2zM360 623h2v18h-2z" fill="#fc0000" shape-rendering="crispEdges"/>
<path d="M328 581h2v78h-2zM330 515h2v303h-2zM374 515h2v303h-2zM384 515h2v303h-2zM386 515h2v303h-2zM392 515h2v303h-2zM394 515h2v303h-2zM398 515h2v303h-2zM400 515h2v303h-2zM406 515h2v303h-2zM410 515h2v303h-2zM412 515h2v198h-2zM416 515h2v303h-2zM418 515h2v303h-2zM422 515h2v303h-2zM426 515h2v303h-2zM428 515h2v303h-2zM430 515h2v303h-2zM432 515h2v303h-2zM434 515h2v303h-2zM438 515h2v234h-2zM440 515h2v252h-2zM444 515h2v303h-2zM450 515h2v303h-2zM452 515h2v303h-2zM454 515h2v303h-2zM464 515h2v303h-2zM474 515h2v303h-2zM476 515h2v303h-2zM478 515h2v303h-2zM480 515h2v303h-2zM496 515h2v303h-2zM510 515h2v303h-2zM514 551h2v267h-2zM524 515h2v303h-2zM528 515h2v303h-2zM532 515h2v303h-2zM542 515h2v303h-2zM546 515h2v303h-2zM560 515h2v303h-2zM566 515h2v303h-2zM568 557h2v261h-2zM576 515h2v303h-2zM578 515h2v303h-2zM582 515h2v303h-2zM598 515h2v303h-2zM600 515h2v303h-2zM602 515h2v303h-2zM604 515h2v303h-2zM606 515h2v303h-2zM610 515h2v303h-2zM612 515h2v303h-2zM614 515h2v303h-2zM616 515h2v303h-2zM618 515h2v303h-2zM620 593h2v225h-2zM622 515h2v303h-2zM628 515h2v303h-2zM630 515h2v303h-2zM632 515h2v303h-2zM634 515h2v303h-2zM636 515h2v303h-2zM638 515h2v303h-2zM640 515h2v303h-2zM642 515h2v303h-2zM644 515h2v303h-2zM646 515h2v303h-2zM650 515h2v303h-2zM652 515h2v303h-2zM654 515h2v303h-2zM656 515h2v303h-2zM658 515h2v303h-2zM660 515h2v303h-2zM664 515h2v303h-2zM666 515h2v303h-2zM670 515h2v303h-2zM672 515h2v303h-2zM674 515h2v303h-2zM676 515h2v303h-2zM678 515h2v303h-2zM680 515h2v303h-2zM682 515h2v303h-2z" fill="#00e400" shape-rendering="crispEdges"/>
<path d="M346 791h2v27h-2zM358 773h2v45h-2z" fill="#fccc00" shape-rendering="crispEdges"/>
<path d="M396 779h2v39h-2zM412 713h2v105h-2zM424 725h2v93h-2zM448 767h2v51h-2zM462 767h2v51h-2z" fill="#48fc00" shape-rendering="crispEdges"/>
<path d="M470 515h2v303h-2zM584 515h2v303h-2zM648 515h2v303h-2zM662 515h2v303h-2z" fill="#00d800" shape-rendering="crispEdges"/>
<path d="M568 515h2v42h-2zM620 515h2v78h-2z" fill="#fc9c00" shape-rendering="crispEdges"/>
<polygon points="384,514 599,514 599,522.8 384,516.6" fill="#fff"/>
<polygon points="520,818 599,818 599,811 520,816" fill="#fff"/>
<rect x="246" y="816.8" width="440" height="2" fill="#fff"/>
<rect x="186" y="514" width="500" height="2.2" fill="#fff"/>
<path d="M989 514h3v5h-3zM995 514h3v25h-3zM998 514h3v20h-3zM1013 514h3v30h-3zM1019 514h3v15h-3zM1025 514h3v20h-3zM1028 514h3v30h-3zM1034 514h3v30h-3zM1040 514h3v25h-3zM1043 514h3v25h-3zM1049 514h3v20h-3zM1055 514h3v30h-3zM1058 514h3v30h-3zM1064 514h3v30h-3zM1070 514h3v15h-3z" fill="#baf0ba" shape-rendering="crispEdges"/>
<path d="M989 519h3v25h-3zM992 514h3v30h-3zM995 539h3v5h-3zM998 534h3v10h-3zM1001 514h3v30h-3zM1004 514h3v30h-3zM1007 514h3v30h-3zM1010 514h3v30h-3zM1016 514h3v30h-3zM1019 529h3v15h-3zM1022 514h3v30h-3zM1025 534h3v10h-3zM1031 514h3v30h-3zM1037 514h3v30h-3zM1040 539h3v5h-3zM1043 539h3v5h-3zM1046 514h3v30h-3zM1049 534h3v10h-3zM1052 514h3v30h-3zM1061 514h3v30h-3zM1067 514h3v30h-3zM1070 529h3v15h-3z" fill="#bae4f0" shape-rendering="crispEdges"/>
<path d="M989 544h3v145h-3zM992 544h3v145h-3zM1001 544h3v145h-3zM1004 544h3v145h-3zM1007 544h3v145h-3zM1010 544h3v145h-3zM1013 544h3v145h-3zM1022 544h3v145h-3zM1025 544h3v145h-3zM1028 544h3v145h-3zM1031 544h3v145h-3zM1034 544h3v145h-3zM1043 544h3v145h-3zM1046 544h3v145h-3zM1049 544h3v145h-3zM1052 544h3v145h-3zM1055 544h3v145h-3zM1064 544h3v145h-3zM1067 544h3v145h-3zM1070 544h3v145h-3z" fill="#a8d8f0" shape-rendering="crispEdges"/>
<path d="M989 689h3v5h-3zM992 689h3v5h-3zM995 689h3v5h-3zM998 689h3v5h-3zM1001 689h3v5h-3zM1004 689h3v5h-3zM1007 689h3v5h-3zM1010 689h3v5h-3zM1013 689h3v5h-3zM1016 689h3v5h-3zM1019 689h3v5h-3zM1022 689h3v5h-3zM1025 689h3v5h-3zM1028 689h3v5h-3zM1031 689h3v5h-3zM1034 689h3v5h-3zM1037 689h3v5h-3zM1040 689h3v5h-3zM1043 689h3v5h-3zM1046 689h3v5h-3zM1049 689h3v5h-3zM1052 689h3v5h-3zM1055 689h3v5h-3zM1058 689h3v5h-3zM1061 689h3v5h-3zM1064 689h3v5h-3zM1067 689h3v5h-3zM1070 689h3v5h-3z" fill="#aedef0" shape-rendering="crispEdges"/>
<path d="M989 694h3v5h-3zM992 694h3v5h-3zM995 694h3v5h-3zM998 694h3v5h-3zM1001 694h3v5h-3zM1004 694h3v5h-3zM1007 694h3v5h-3zM1010 694h3v5h-3zM1013 694h3v5h-3zM1016 694h3v5h-3zM1019 694h3v5h-3zM1022 694h3v5h-3zM1025 694h3v5h-3zM1028 694h3v5h-3zM1031 694h3v5h-3zM1034 694h3v5h-3zM1037 694h3v5h-3zM1040 694h3v5h-3zM1043 694h3v5h-3zM1046 694h3v5h-3zM1049 694h3v5h-3zM1052 694h3v5h-3zM1055 694h3v5h-3zM1058 694h3v5h-3zM1061 694h3v5h-3zM1064 694h3v5h-3zM1067 694h3v5h-3zM1070 694h3v5h-3z" fill="#aee4de" shape-rendering="crispEdges"/>
<path d="M989 699h3v5h-3zM992 699h3v5h-3zM995 699h3v5h-3zM998 699h3v5h-3zM1001 699h3v5h-3zM1004 699h3v5h-3zM1007 699h3v5h-3zM1010 699h3v5h-3zM1013 699h3v5h-3zM1016 699h3v5h-3zM1019 699h3v5h-3zM1022 699h3v5h-3zM1025 699h3v5h-3zM1028 699h3v5h-3zM1031 699h3v5h-3zM1034 699h3v5h-3zM1037 699h3v5h-3zM1040 699h3v5h-3zM1043 699h3v5h-3zM1046 699h3v5h-3zM1049 699h3v5h-3zM1052 699h3v5h-3zM1055 699h3v5h-3zM1058 699h3v5h-3zM1061 699h3v5h-3zM1064 699h3v5h-3zM1067 699h3v5h-3zM1070 699h3v5h-3z" fill="#b4e4b4" shape-rendering="crispEdges"/>
<path d="M989 704h3v5h-3zM992 704h3v5h-3zM995 704h3v5h-3zM998 704h3v5h-3zM1001 704h3v5h-3zM1004 704h3v5h-3zM1007 704h3v5h-3zM1010 704h3v5h-3zM1013 704h3v5h-3zM1016 704h3v5h-3zM1019 704h3v5h-3zM1022 704h3v5h-3zM1025 704h3v5h-3zM1028 704h3v5h-3zM1031 704h3v5h-3zM1034 704h3v5h-3zM1037 704h3v5h-3zM1040 704h3v5h-3zM1043 704h3v5h-3zM1046 704h3v5h-3zM1049 704h3v5h-3zM1052 704h3v5h-3zM1055 704h3v5h-3zM1058 704h3v5h-3zM1061 704h3v5h-3zM1064 704h3v5h-3zM1067 704h3v5h-3zM1070 704h3v5h-3z" fill="#b4f0b4" shape-rendering="crispEdges"/>
<path d="M989 709h3v5h-3zM992 709h3v5h-3zM995 709h3v5h-3zM998 709h3v5h-3zM1001 709h3v5h-3zM1004 709h3v5h-3zM1007 709h3v5h-3zM1010 709h3v5h-3zM1013 709h3v5h-3zM1016 709h3v5h-3zM1019 709h3v5h-3zM1022 709h3v5h-3zM1025 709h3v5h-3zM1028 709h3v5h-3zM1031 709h3v5h-3zM1034 709h3v5h-3zM1037 709h3v5h-3zM1040 709h3v5h-3zM1043 709h3v5h-3zM1046 709h3v5h-3zM1049 709h3v5h-3zM1052 709h3v5h-3zM1055 709h3v5h-3zM1058 709h3v5h-3zM1061 709h3v5h-3zM1064 709h3v5h-3zM1067 709h3v5h-3zM1070 709h3v5h-3z" fill="#bafcba" shape-rendering="crispEdges"/>
<path d="M989 714h3v20h-3zM992 714h3v20h-3zM995 714h3v20h-3zM998 714h3v20h-3zM1001 714h3v20h-3zM1004 714h3v20h-3zM1007 714h3v20h-3zM1010 714h3v20h-3zM1013 714h3v20h-3zM1016 714h3v20h-3zM1019 714h3v20h-3zM1022 714h3v20h-3zM1025 714h3v20h-3zM1028 714h3v20h-3zM1031 714h3v20h-3zM1034 714h3v20h-3zM1037 714h3v20h-3zM1040 714h3v20h-3zM1043 714h3v20h-3zM1046 714h3v20h-3zM1049 714h3v20h-3zM1052 714h3v20h-3zM1055 714h3v20h-3zM1058 714h3v20h-3zM1061 714h3v20h-3zM1064 714h3v20h-3zM1067 714h3v20h-3zM1070 714h3v20h-3z" fill="#c0fcc0" shape-rendering="crispEdges"/>
<path d="M989 734h3v10h-3zM992 734h3v10h-3zM995 734h3v10h-3zM998 734h3v10h-3zM1001 734h3v10h-3zM1004 734h3v10h-3zM1007 734h3v10h-3zM1010 734h3v10h-3zM1013 734h3v10h-3zM1016 734h3v10h-3zM1019 734h3v10h-3zM1022 734h3v10h-3zM1025 734h3v10h-3zM1028 734h3v10h-3zM1031 734h3v10h-3zM1034 734h3v10h-3zM1037 734h3v10h-3zM1040 734h3v10h-3zM1043 734h3v10h-3zM1046 734h3v10h-3zM1049 734h3v10h-3zM1052 734h3v10h-3zM1055 734h3v10h-3zM1058 734h3v10h-3zM1061 734h3v10h-3zM1064 734h3v10h-3zM1067 734h3v10h-3zM1070 734h3v10h-3z" fill="#fcf0ba" shape-rendering="crispEdges"/>
<path d="M989 744h3v15h-3zM992 744h3v15h-3zM995 744h3v20h-3zM998 744h3v45h-3zM1001 744h3v20h-3zM1004 744h3v20h-3zM1007 744h3v45h-3zM1010 744h3v20h-3zM1013 744h3v35h-3zM1016 744h3v20h-3zM1019 744h3v20h-3zM1022 744h3v45h-3zM1025 744h3v20h-3zM1028 744h3v45h-3zM1031 744h3v20h-3zM1034 744h3v10h-3zM1037 744h3v45h-3zM1040 744h3v20h-3zM1043 744h3v45h-3zM1046 744h3v20h-3zM1049 744h3v20h-3zM1052 744h3v45h-3zM1055 744h3v10h-3zM1058 744h3v45h-3zM1061 744h3v20h-3zM1064 744h3v20h-3zM1067 744h3v45h-3zM1070 744h3v20h-3z" fill="#fcc0c0" shape-rendering="crispEdges"/>
<path d="M989 759h3v57h-3zM992 759h3v57h-3zM995 764h3v52h-3zM998 789h3v27h-3zM1001 764h3v52h-3zM1004 764h3v52h-3zM1007 789h3v27h-3zM1010 764h3v52h-3zM1013 779h3v37h-3zM1016 764h3v52h-3zM1019 764h3v52h-3zM1022 789h3v27h-3zM1025 764h3v52h-3zM1028 789h3v27h-3zM1031 764h3v52h-3zM1034 754h3v62h-3zM1037 789h3v27h-3zM1040 764h3v52h-3zM1043 789h3v27h-3zM1046 764h3v52h-3zM1049 764h3v52h-3zM1052 789h3v27h-3zM1055 754h3v62h-3zM1058 789h3v27h-3zM1061 764h3v52h-3zM1064 764h3v52h-3zM1067 789h3v27h-3zM1070 764h3v52h-3z" fill="#f0f0f0" shape-rendering="crispEdges"/>
<path d="M995 544h3v145h-3zM998 544h3v145h-3zM1016 544h3v145h-3zM1019 544h3v145h-3zM1037 544h3v145h-3zM1040 544h3v145h-3zM1058 544h3v145h-3zM1061 544h3v145h-3z" fill="#a8deea" shape-rendering="crispEdges"/>
<path d="M1073 514h3v55h-3z" fill="#480054" shape-rendering="crispEdges"/>
<path d="M1073 569h3v10h-3z" fill="#540060" shape-rendering="crispEdges"/>
<path d="M1073 579h3v10h-3z" fill="#60006c" shape-rendering="crispEdges"/>
<path d="M1073 589h3v30h-3zM1112 529h3v5h-3z" fill="#660078" shape-rendering="crispEdges"/>
<path d="M1073 619h3v5h-3z" fill="#72007e" shape-rendering="crispEdges"/>
<path d="M1073 624h3v15h-3zM1076 514h3v5h-3zM1079 514h3v5h-3zM1112 534h3v5h-3z" fill="#78008a" shape-rendering="crispEdges"/>
<path d="M1073 639h3v5h-3zM1112 539h3v60h-3z" fill="#7e0090" shape-rendering="crispEdges"/>
<path d="M1073 644h3v5h-3zM1112 599h3v5h-3z" fill="#840090" shape-rendering="crispEdges"/>
<path d="M1073 649h3v5h-3zM1112 604h3v10h-3z" fill="#840096" shape-rendering="crispEdges"/>
<path d="M1073 654h3v5h-3z" fill="#60009c" shape-rendering="crispEdges"/>
<path d="M1073 659h3v5h-3z" fill="#3600a2" shape-rendering="crispEdges"/>
<path d="M1073 664h3v5h-3zM1097 594h3v5h-3zM1097 634h3v5h-3z" fill="#0000a8" shape-rendering="crispEdges"/>
<path d="M1073 669h3v5h-3zM1088 604h3v10h-3zM1097 584h3v5h-3zM1397 514h3v5h-3z" fill="#0000c0" shape-rendering="crispEdges"/>
<path d="M1073 674h3v5h-3zM1085 604h3v5h-3zM1088 589h3v5h-3zM1100 604h3v20h-3zM1112 814h3v2h-3z" fill="#0000d8" shape-rendering="crispEdges"/>
<path d="M1073 679h3v5h-3zM1100 584h3v5h-3zM1100 639h3v5h-3z" fill="#0036de" shape-rendering="crispEdges"/>
<path d="M1073 684h3v5h-3zM1082 574h3v5h-3zM1091 624h3v5h-3zM1097 564h3v5h-3zM1097 649h3v5h-3zM1109 584h3v10h-3zM1190 794h3v5h-3z" fill="#0072de" shape-rendering="crispEdges"/>
<path d="M1073 689h3v5h-3zM1079 614h3v25h-3zM1085 579h3v5h-3zM1091 584h3v5h-3zM1091 639h3v5h-3zM1097 529h3v5h-3zM1103 584h3v10h-3zM1109 539h3v30h-3zM1109 614h3v25h-3zM1112 794h3v5h-3zM1184 794h3v10h-3zM1187 799h3v10h-3zM1190 749h3v5h-3zM1193 814h3v2h-3zM1214 734h3v10h-3zM1397 524h3v5h-3z" fill="#0084de" shape-rendering="crispEdges"/>
<path d="M1073 694h3v5h-3zM1076 599h3v5h-3zM1079 524h3v5h-3zM1079 594h3v5h-3zM1082 654h3v5h-3zM1085 649h3v5h-3zM1088 569h3v5h-3zM1094 594h3v5h-3zM1094 629h3v10h-3zM1097 514h3v5h-3zM1100 564h3v5h-3zM1100 649h3v5h-3zM1103 639h3v5h-3zM1181 809h3v7h-3zM1184 739h3v5h-3zM1187 744h3v5h-3zM1190 724h3v5h-3zM1193 749h3v10h-3zM1196 714h3v5h-3zM1199 724h3v5h-3zM1199 754h3v20h-3zM1199 804h3v10h-3zM1202 714h3v5h-3zM1205 729h3v5h-3zM1205 749h3v10h-3zM1205 774h3v10h-3zM1205 799h3v10h-3zM1208 729h3v10h-3zM1208 744h3v10h-3zM1208 774h3v10h-3zM1208 794h3v10h-3zM1211 724h3v5h-3zM1211 749h3v5h-3zM1214 719h3v5h-3zM1367 514h3v5h-3zM1385 524h3v5h-3zM1388 519h3v5h-3z" fill="#009cd8" shape-rendering="crispEdges"/>
<path d="M1073 699h3v5h-3zM1079 584h3v5h-3zM1082 554h3v5h-3zM1091 569h3v5h-3zM1106 539h3v30h-3zM1106 609h3v30h-3zM1112 649h3v5h-3zM1172 779h3v5h-3zM1172 799h3v5h-3zM1175 779h3v5h-3zM1175 804h3v5h-3zM1181 754h3v5h-3zM1184 724h3v5h-3zM1205 709h3v5h-3zM1214 704h3v5h-3zM1232 684h3v5h-3zM1232 714h3v5h-3zM1373 529h3v5h-3z" fill="#00a2ba" shape-rendering="crispEdges"/>
<path d="M1073 704h3v5h-3zM1076 649h3v5h-3zM1079 649h3v5h-3zM1082 539h3v5h-3zM1088 554h3v5h-3zM1091 559h3v5h-3zM1094 574h3v5h-3zM1094 644h3v5h-3zM1097 664h3v5h-3zM1166 789h3v5h-3zM1172 754h3v5h-3zM1175 754h3v5h-3zM1178 769h3v5h-3zM1178 809h3v7h-3zM1184 709h3v5h-3zM1190 694h3v5h-3zM1205 699h3v5h-3zM1208 699h3v5h-3zM1214 689h3v5h-3zM1214 774h3v5h-3zM1232 664h3v5h-3zM1241 689h3v25h-3zM1253 659h3v5h-3zM1253 714h3v5h-3zM1265 689h3v5h-3zM1370 524h3v5h-3zM1376 524h3v5h-3zM1382 524h3v5h-3zM1391 524h3v5h-3zM1394 534h3v5h-3z" fill="#00a8a2" shape-rendering="crispEdges"/>
<path d="M1073 709h3v5h-3zM1082 529h3v5h-3zM1082 664h3v5h-3zM1085 549h3v10h-3zM1088 539h3v5h-3zM1091 549h3v5h-3zM1091 654h3v5h-3zM1094 569h3v5h-3zM1106 529h3v5h-3zM1106 644h3v5h-3zM1157 779h3v10h-3zM1166 764h3v10h-3zM1166 814h3v2h-3zM1172 739h3v10h-3zM1175 739h3v5h-3zM1178 749h3v10h-3zM1181 719h3v5h-3zM1184 689h3v10h-3zM1187 694h3v10h-3zM1193 699h3v10h-3zM1196 684h3v5h-3zM1199 689h3v5h-3zM1202 684h3v5h-3zM1205 689h3v5h-3zM1208 689h3v5h-3zM1211 684h3v5h-3zM1214 674h3v5h-3zM1220 709h3v15h-3zM1220 749h3v5h-3zM1226 714h3v10h-3zM1226 744h3v10h-3zM1229 679h3v45h-3zM1232 649h3v5h-3zM1232 744h3v5h-3zM1241 669h3v10h-3zM1241 729h3v10h-3zM1244 679h3v20h-3zM1253 644h3v10h-3zM1253 719h3v5h-3zM1259 669h3v15h-3zM1259 694h3v15h-3zM1262 664h3v10h-3zM1262 704h3v10h-3zM1265 659h3v10h-3zM1265 714h3v5h-3zM1301 789h3v5h-3zM1313 684h3v5h-3zM1313 714h3v15h-3zM1349 699h3v30h-3zM1370 529h3v5h-3zM1373 594h3v10h-3zM1376 529h3v5h-3zM1382 529h3v5h-3z" fill="#00a890" shape-rendering="crispEdges"/>
<path d="M1073 714h3v5h-3zM1076 564h3v5h-3zM1097 679h3v5h-3zM1103 654h3v5h-3zM1115 634h3v10h-3zM1118 624h3v5h-3zM1124 629h3v5h-3zM1127 624h3v5h-3zM1127 644h3v5h-3zM1133 644h3v5h-3zM1157 759h3v5h-3zM1163 779h3v5h-3zM1169 789h3v5h-3zM1172 724h3v5h-3zM1175 724h3v5h-3zM1178 734h3v5h-3zM1211 669h3v5h-3zM1214 789h3v5h-3zM1217 724h3v5h-3zM1223 734h3v10h-3zM1226 689h3v5h-3zM1229 659h3v5h-3zM1229 739h3v5h-3zM1232 634h3v5h-3zM1235 669h3v5h-3zM1235 729h3v5h-3zM1238 684h3v5h-3zM1247 674h3v5h-3zM1253 634h3v5h-3zM1256 669h3v5h-3zM1256 709h3v5h-3zM1262 649h3v5h-3zM1298 779h3v5h-3zM1301 764h3v5h-3zM1301 814h3v2h-3zM1304 779h3v5h-3zM1304 794h3v5h-3zM1310 779h3v5h-3zM1310 794h3v5h-3zM1313 759h3v5h-3zM1331 739h3v5h-3zM1337 739h3v5h-3zM1349 764h3v5h-3zM1358 689h3v5h-3zM1358 734h3v10h-3zM1367 539h3v50h-3zM1373 644h3v5h-3zM1379 529h3v5h-3zM1394 609h3v5h-3zM1397 599h3v5h-3z" fill="#00a254" shape-rendering="crispEdges"/>
<path d="M1073 719h3v5h-3zM1085 664h3v5h-3zM1088 684h3v5h-3zM1097 684h3v5h-3zM1109 659h3v5h-3zM1115 619h3v5h-3zM1121 634h3v10h-3zM1124 619h3v5h-3zM1127 649h3v5h-3zM1151 784h3v5h-3zM1157 749h3v5h-3zM1163 764h3v5h-3zM1169 769h3v5h-3zM1169 814h3v2h-3zM1172 714h3v5h-3zM1175 714h3v5h-3zM1178 724h3v5h-3zM1181 689h3v5h-3zM1184 674h3v5h-3zM1193 679h3v5h-3zM1205 674h3v5h-3zM1208 674h3v5h-3zM1211 659h3v5h-3zM1214 799h3v5h-3zM1217 704h3v5h-3zM1220 684h3v5h-3zM1223 709h3v5h-3zM1223 749h3v5h-3zM1229 649h3v5h-3zM1229 744h3v5h-3zM1232 624h3v5h-3zM1238 669h3v5h-3zM1250 679h3v5h-3zM1250 694h3v5h-3zM1253 629h3v5h-3zM1256 654h3v5h-3zM1262 639h3v5h-3zM1262 724h3v5h-3zM1277 709h3v5h-3zM1277 719h3v5h-3zM1286 789h3v27h-3zM1298 764h3v5h-3zM1301 749h3v5h-3zM1304 764h3v5h-3zM1304 814h3v2h-3zM1310 764h3v5h-3zM1310 814h3v2h-3zM1313 669h3v5h-3zM1313 784h3v5h-3zM1319 689h3v30h-3zM1325 724h3v5h-3zM1328 724h3v5h-3zM1331 674h3v5h-3zM1331 764h3v5h-3zM1337 679h3v5h-3zM1337 764h3v5h-3zM1346 699h3v5h-3zM1346 724h3v10h-3zM1349 779h3v5h-3zM1355 709h3v15h-3zM1358 759h3v5h-3zM1367 604h3v5h-3zM1370 594h3v5h-3zM1376 599h3v5h-3zM1385 539h3v50h-3zM1394 629h3v5h-3zM1397 614h3v5h-3z" fill="#009c1e" shape-rendering="crispEdges"/>
<path d="M1073 724h3v5h-3zM1076 559h3v5h-3zM1079 559h3v5h-3zM1085 519h3v5h-3zM1085 674h3v10h-3zM1091 514h3v5h-3zM1094 539h3v5h-3zM1097 689h3v5h-3zM1100 674h3v5h-3zM1112 659h3v5h-3zM1115 609h3v5h-3zM1115 649h3v5h-3zM1118 604h3v5h-3zM1118 654h3v5h-3zM1121 619h3v10h-3zM1121 644h3v5h-3zM1124 609h3v10h-3zM1127 609h3v5h-3zM1127 654h3v5h-3zM1133 609h3v5h-3zM1151 769h3v10h-3zM1154 779h3v37h-3zM1157 739h3v5h-3zM1160 764h3v10h-3zM1163 754h3v5h-3zM1166 729h3v5h-3zM1169 759h3v5h-3zM1172 699h3v10h-3zM1175 699h3v10h-3zM1178 714h3v10h-3zM1181 684h3v5h-3zM1184 669h3v5h-3zM1193 674h3v5h-3zM1205 669h3v5h-3zM1208 669h3v5h-3zM1211 649h3v5h-3zM1211 799h3v5h-3zM1214 644h3v5h-3zM1214 809h3v5h-3zM1217 689h3v10h-3zM1217 759h3v5h-3zM1220 779h3v5h-3zM1223 694h3v10h-3zM1223 759h3v5h-3zM1226 779h3v5h-3zM1229 639h3v10h-3zM1229 749h3v5h-3zM1232 614h3v5h-3zM1235 649h3v5h-3zM1235 744h3v5h-3zM1238 659h3v5h-3zM1238 739h3v5h-3zM1241 634h3v5h-3zM1244 639h3v5h-3zM1244 724h3v5h-3zM1247 649h3v5h-3zM1247 719h3v5h-3zM1250 659h3v10h-3zM1250 709h3v10h-3zM1256 644h3v10h-3zM1256 719h3v5h-3zM1262 634h3v5h-3zM1262 729h3v5h-3zM1265 634h3v5h-3zM1265 729h3v5h-3zM1277 589h3v5h-3zM1277 689h3v10h-3zM1277 729h3v15h-3zM1277 789h3v27h-3zM1286 769h3v10h-3zM1289 759h3v15h-3zM1298 714h3v40h-3zM1301 729h3v15h-3zM1304 749h3v10h-3zM1307 779h3v20h-3zM1310 749h3v10h-3zM1313 664h3v5h-3zM1313 799h3v15h-3zM1316 684h3v5h-3zM1316 719h3v15h-3zM1319 684h3v5h-3zM1319 729h3v15h-3zM1322 684h3v5h-3zM1322 714h3v15h-3zM1325 679h3v5h-3zM1325 739h3v15h-3zM1328 679h3v5h-3zM1328 739h3v15h-3zM1331 669h3v5h-3zM1331 779h3v15h-3zM1337 674h3v5h-3zM1337 774h3v10h-3zM1346 684h3v5h-3zM1346 744h3v15h-3zM1349 669h3v5h-3zM1355 684h3v5h-3zM1355 739h3v15h-3zM1358 674h3v5h-3zM1358 774h3v10h-3zM1361 589h3v155h-3zM1364 589h3v155h-3zM1367 614h3v25h-3zM1370 604h3v15h-3zM1376 609h3v20h-3zM1379 539h3v50h-3zM1382 609h3v10h-3zM1385 599h3v10h-3zM1388 534h3v5h-3zM1394 664h3v5h-3z" fill="#009c00" shape-rendering="crispEdges"/>
<path d="M1073 729h3v5h-3zM1076 664h3v5h-3zM1079 664h3v5h-3zM1085 689h3v5h-3zM1091 674h3v5h-3zM1094 529h3v5h-3zM1094 659h3v5h-3zM1097 694h3v5h-3zM1100 679h3v5h-3zM1106 514h3v5h-3zM1115 594h3v5h-3zM1115 659h3v5h-3zM1118 589h3v5h-3zM1121 604h3v5h-3zM1124 599h3v5h-3zM1127 594h3v5h-3zM1127 659h3v5h-3zM1130 624h3v5h-3zM1130 644h3v5h-3zM1133 594h3v5h-3zM1133 659h3v5h-3zM1151 754h3v5h-3zM1154 764h3v5h-3zM1157 689h3v5h-3zM1160 754h3v5h-3zM1163 744h3v5h-3zM1166 714h3v5h-3zM1169 744h3v5h-3zM1172 674h3v10h-3zM1175 674h3v10h-3zM1178 699h3v5h-3zM1187 664h3v5h-3zM1211 639h3v5h-3zM1211 814h3v2h-3zM1214 634h3v5h-3zM1217 684h3v5h-3zM1217 774h3v5h-3zM1220 519h3v5h-3zM1220 794h3v5h-3zM1223 769h3v5h-3zM1226 519h3v5h-3zM1226 794h3v5h-3zM1229 629h3v5h-3zM1229 754h3v5h-3zM1238 644h3v5h-3zM1241 619h3v5h-3zM1241 759h3v5h-3zM1250 649h3v5h-3zM1250 719h3v5h-3zM1253 619h3v5h-3zM1253 744h3v5h-3zM1259 629h3v5h-3zM1262 734h3v5h-3zM1268 589h3v5h-3zM1268 689h3v5h-3zM1268 734h3v10h-3zM1268 789h3v27h-3zM1277 574h3v5h-3zM1277 599h3v5h-3zM1277 674h3v5h-3zM1277 749h3v5h-3zM1277 774h3v5h-3zM1283 699h3v10h-3zM1283 719h3v10h-3zM1286 744h3v10h-3zM1289 709h3v30h-3zM1292 779h3v10h-3zM1298 704h3v5h-3zM1301 699h3v10h-3zM1304 724h3v10h-3zM1307 759h3v5h-3zM1307 814h3v2h-3zM1310 724h3v10h-3zM1316 754h3v10h-3zM1319 674h3v5h-3zM1319 764h3v10h-3zM1322 749h3v10h-3zM1325 774h3v10h-3zM1328 774h3v5h-3zM1331 814h3v2h-3zM1334 684h3v5h-3zM1334 749h3v10h-3zM1337 664h3v5h-3zM1343 704h3v20h-3zM1346 674h3v5h-3zM1346 774h3v10h-3zM1349 654h3v5h-3zM1355 774h3v5h-3zM1361 749h3v5h-3zM1364 584h3v5h-3zM1364 749h3v5h-3zM1367 659h3v5h-3zM1370 649h3v10h-3zM1373 674h3v5h-3zM1376 654h3v10h-3zM1379 604h3v5h-3zM1382 649h3v10h-3zM1385 624h3v10h-3zM1406 634h3v5h-3z" fill="#00ae00" shape-rendering="crispEdges"/>
<path d="M1073 734h3v5h-3zM1076 554h3v5h-3zM1076 669h3v5h-3zM1079 669h3v5h-3zM1091 684h3v5h-3zM1094 519h3v5h-3zM1097 699h3v5h-3zM1100 684h3v5h-3zM1112 664h3v5h-3zM1115 584h3v5h-3zM1115 664h3v5h-3zM1118 579h3v5h-3zM1118 669h3v5h-3zM1121 594h3v5h-3zM1121 659h3v5h-3zM1124 564h3v30h-3zM1127 664h3v5h-3zM1130 614h3v5h-3zM1130 649h3v5h-3zM1133 664h3v5h-3zM1151 744h3v5h-3zM1154 754h3v5h-3zM1157 669h3v10h-3zM1160 744h3v5h-3zM1163 699h3v10h-3zM1166 699h3v5h-3zM1172 659h3v5h-3zM1175 659h3v5h-3zM1178 674h3v10h-3zM1181 669h3v5h-3zM1184 659h3v5h-3zM1187 659h3v5h-3zM1190 654h3v5h-3zM1214 629h3v5h-3zM1217 784h3v5h-3zM1220 529h3v5h-3zM1220 674h3v5h-3zM1220 804h3v5h-3zM1223 779h3v5h-3zM1226 674h3v5h-3zM1229 619h3v5h-3zM1229 759h3v5h-3zM1232 599h3v5h-3zM1235 629h3v5h-3zM1238 634h3v5h-3zM1241 764h3v5h-3zM1250 639h3v5h-3zM1250 724h3v5h-3zM1253 614h3v5h-3zM1253 749h3v5h-3zM1259 624h3v5h-3zM1262 739h3v5h-3zM1268 579h3v5h-3zM1268 599h3v5h-3zM1268 679h3v5h-3zM1268 749h3v5h-3zM1268 779h3v5h-3zM1274 699h3v10h-3zM1274 724h3v10h-3zM1277 564h3v5h-3zM1277 609h3v5h-3zM1277 664h3v5h-3zM1277 759h3v10h-3zM1280 689h3v10h-3zM1280 729h3v10h-3zM1283 584h3v5h-3zM1283 684h3v5h-3zM1283 784h3v5h-3zM1292 764h3v5h-3zM1295 774h3v5h-3zM1298 694h3v5h-3zM1301 679h3v5h-3zM1304 699h3v10h-3zM1307 744h3v5h-3zM1310 699h3v10h-3zM1316 669h3v5h-3zM1316 779h3v10h-3zM1319 669h3v5h-3zM1319 784h3v10h-3zM1322 774h3v10h-3zM1325 799h3v10h-3zM1328 794h3v10h-3zM1334 769h3v5h-3zM1337 649h3v10h-3zM1343 684h3v5h-3zM1343 749h3v10h-3zM1349 639h3v5h-3zM1352 739h3v10h-3zM1355 669h3v5h-3zM1355 789h3v27h-3zM1358 654h3v5h-3zM1358 784h3v32h-3zM1361 759h3v5h-3zM1364 759h3v5h-3zM1373 679h3v5h-3zM1379 629h3v15h-3zM1385 664h3v5h-3zM1388 594h3v10h-3zM1391 539h3v55h-3zM1406 624h3v5h-3zM1436 609h3v15h-3zM1436 659h3v15h-3zM1436 729h3v20h-3zM1493 714h3v35h-3z" fill="#00ba00" shape-rendering="crispEdges"/>
<path d="M1073 739h3v5h-3zM1079 679h3v5h-3zM1085 694h3v5h-3zM1091 699h3v5h-3zM1094 674h3v5h-3zM1100 694h3v5h-3zM1103 674h3v5h-3zM1109 679h3v5h-3zM1115 569h3v5h-3zM1115 684h3v5h-3zM1118 564h3v5h-3zM1118 689h3v5h-3zM1118 764h3v5h-3zM1118 814h3v2h-3zM1121 579h3v5h-3zM1121 674h3v5h-3zM1124 554h3v5h-3zM1127 674h3v5h-3zM1130 599h3v5h-3zM1133 674h3v5h-3zM1136 529h3v5h-3zM1136 644h3v5h-3zM1145 514h3v5h-3zM1145 589h3v55h-3zM1145 789h3v27h-3zM1151 689h3v10h-3zM1154 704h3v10h-3zM1157 619h3v5h-3zM1160 684h3v5h-3zM1163 669h3v5h-3zM1166 664h3v5h-3zM1169 714h3v5h-3zM1175 639h3v5h-3zM1187 654h3v5h-3zM1190 649h3v5h-3zM1199 649h3v5h-3zM1211 624h3v5h-3zM1217 524h3v5h-3zM1217 799h3v5h-3zM1220 544h3v5h-3zM1223 524h3v5h-3zM1223 799h3v5h-3zM1226 669h3v5h-3zM1229 604h3v5h-3zM1229 774h3v5h-3zM1235 609h3v5h-3zM1235 764h3v5h-3zM1238 619h3v5h-3zM1238 759h3v5h-3zM1241 599h3v5h-3zM1244 619h3v5h-3zM1244 744h3v5h-3zM1247 624h3v5h-3zM1247 739h3v5h-3zM1250 629h3v5h-3zM1253 599h3v5h-3zM1262 614h3v5h-3zM1262 749h3v5h-3zM1265 749h3v5h-3zM1268 614h3v5h-3zM1268 659h3v5h-3zM1271 689h3v10h-3zM1271 729h3v10h-3zM1271 789h3v27h-3zM1274 674h3v5h-3zM1274 749h3v5h-3zM1274 774h3v5h-3zM1277 649h3v5h-3zM1280 574h3v5h-3zM1280 604h3v5h-3zM1280 674h3v5h-3zM1280 754h3v5h-3zM1280 774h3v5h-3zM1283 609h3v5h-3zM1283 759h3v5h-3zM1286 689h3v5h-3zM1295 714h3v30h-3zM1301 654h3v5h-3zM1304 664h3v10h-3zM1307 699h3v10h-3zM1310 669h3v5h-3zM1313 639h3v5h-3zM1316 659h3v5h-3zM1325 654h3v5h-3zM1328 654h3v5h-3zM1331 644h3v5h-3zM1334 664h3v5h-3zM1340 679h3v5h-3zM1340 764h3v5h-3zM1343 784h3v5h-3zM1346 644h3v5h-3zM1349 624h3v5h-3zM1352 674h3v5h-3zM1352 779h3v5h-3zM1355 649h3v5h-3zM1361 574h3v5h-3zM1364 574h3v5h-3zM1364 769h3v5h-3zM1370 674h3v5h-3zM1373 689h3v5h-3zM1376 674h3v5h-3zM1382 674h3v5h-3zM1385 674h3v5h-3zM1388 629h3v10h-3zM1391 619h3v10h-3zM1394 684h3v5h-3zM1400 704h3v10h-3zM1403 639h3v30h-3zM1406 599h3v10h-3zM1406 699h3v5h-3zM1409 629h3v5h-3zM1409 669h3v5h-3zM1412 599h3v10h-3zM1412 679h3v50h-3zM1412 754h3v15h-3zM1412 809h3v7h-3zM1418 614h3v15h-3zM1418 649h3v20h-3zM1418 734h3v10h-3zM1427 604h3v10h-3zM1427 669h3v20h-3zM1427 719h3v20h-3zM1427 744h3v20h-3zM1436 529h3v10h-3zM1436 564h3v10h-3z" fill="#00d200" shape-rendering="crispEdges"/>
<path d="M1073 744h3v5h-3zM1076 689h3v5h-3zM1082 704h3v5h-3zM1085 699h3v5h-3zM1094 704h3v5h-3zM1097 724h3v5h-3zM1100 709h3v5h-3zM1103 689h3v5h-3zM1109 694h3v5h-3zM1112 689h3v5h-3zM1112 769h3v5h-3zM1115 529h3v5h-3zM1115 544h3v5h-3zM1115 714h3v10h-3zM1115 789h3v5h-3zM1118 534h3v10h-3zM1121 524h3v5h-3zM1121 704h3v5h-3zM1121 734h3v10h-3zM1121 779h3v5h-3zM1121 799h3v5h-3zM1124 534h3v10h-3zM1124 689h3v30h-3zM1124 774h3v10h-3zM1124 794h3v5h-3zM1130 674h3v5h-3zM1133 779h3v10h-3zM1133 794h3v5h-3zM1142 524h3v10h-3zM1142 579h3v5h-3zM1142 644h3v5h-3zM1142 779h3v5h-3zM1145 659h3v5h-3zM1145 759h3v5h-3zM1148 559h3v5h-3zM1151 609h3v10h-3zM1154 624h3v5h-3zM1157 554h3v5h-3zM1157 569h3v5h-3zM1160 604h3v15h-3zM1163 519h3v25h-3zM1163 584h3v5h-3zM1166 629h3v10h-3zM1169 659h3v5h-3zM1172 564h3v10h-3zM1172 604h3v15h-3zM1175 559h3v20h-3zM1175 604h3v10h-3zM1178 619h3v10h-3zM1187 644h3v5h-3zM1190 639h3v5h-3zM1196 629h3v5h-3zM1199 634h3v5h-3zM1202 629h3v5h-3zM1208 639h3v5h-3zM1217 549h3v5h-3zM1217 664h3v5h-3zM1220 564h3v5h-3zM1220 654h3v5h-3zM1223 549h3v5h-3zM1226 564h3v5h-3zM1226 654h3v5h-3zM1229 584h3v5h-3zM1232 529h3v5h-3zM1232 554h3v10h-3zM1235 589h3v5h-3zM1238 594h3v5h-3zM1238 789h3v27h-3zM1241 574h3v5h-3zM1244 594h3v5h-3zM1244 759h3v5h-3zM1247 604h3v5h-3zM1247 754h3v5h-3zM1250 614h3v5h-3zM1250 749h3v5h-3zM1253 579h3v5h-3zM1253 779h3v10h-3zM1253 794h3v10h-3zM1256 599h3v10h-3zM1259 589h3v5h-3zM1259 764h3v5h-3zM1262 764h3v5h-3zM1265 584h3v5h-3zM1265 769h3v5h-3zM1271 614h3v10h-3zM1271 659h3v5h-3zM1274 629h3v5h-3zM1274 644h3v5h-3zM1280 634h3v5h-3zM1280 644h3v5h-3zM1283 639h3v5h-3zM1286 589h3v5h-3zM1286 674h3v5h-3zM1289 594h3v5h-3zM1289 669h3v5h-3zM1295 684h3v5h-3zM1298 599h3v5h-3zM1301 589h3v5h-3zM1301 629h3v5h-3zM1304 579h3v5h-3zM1304 634h3v5h-3zM1307 654h3v5h-3zM1310 539h3v5h-3zM1310 579h3v5h-3zM1310 634h3v5h-3zM1313 624h3v5h-3zM1316 639h3v5h-3zM1319 639h3v5h-3zM1331 629h3v5h-3zM1334 629h3v5h-3zM1337 604h3v10h-3zM1340 649h3v10h-3zM1343 634h3v5h-3zM1346 619h3v5h-3zM1349 594h3v10h-3zM1352 639h3v5h-3zM1355 619h3v5h-3zM1358 609h3v5h-3zM1361 564h3v5h-3zM1361 784h3v5h-3zM1361 794h3v5h-3zM1364 564h3v5h-3zM1364 784h3v5h-3zM1364 794h3v5h-3zM1367 704h3v40h-3zM1370 689h3v15h-3zM1373 769h3v5h-3zM1376 694h3v15h-3zM1382 689h3v15h-3zM1385 689h3v15h-3zM1391 674h3v5h-3zM1394 754h3v10h-3zM1397 749h3v5h-3zM1400 559h3v5h-3zM1400 769h3v5h-3zM1403 599h3v10h-3zM1403 694h3v10h-3zM1406 764h3v5h-3zM1409 589h3v10h-3zM1409 704h3v10h-3zM1415 604h3v15h-3zM1415 659h3v105h-3zM1415 814h3v2h-3zM1424 524h3v55h-3zM1430 519h3v15h-3zM1430 569h3v15h-3zM1442 514h3v60h-3zM1445 579h3v40h-3zM1445 664h3v30h-3zM1445 739h3v30h-3zM1445 814h3v2h-3zM1448 569h3v15h-3zM1454 569h3v15h-3zM1457 579h3v45h-3zM1457 659h3v40h-3zM1457 734h3v40h-3zM1457 809h3v7h-3zM1460 579h3v45h-3zM1460 659h3v40h-3zM1460 734h3v40h-3zM1460 809h3v7h-3zM1472 574h3v15h-3zM1475 614h3v50h-3zM1475 689h3v50h-3zM1475 764h3v50h-3zM1478 574h3v40h-3zM1478 664h3v25h-3zM1478 739h3v25h-3zM1478 814h3v2h-3zM1481 514h3v65h-3zM1490 579h3v45h-3zM1490 659h3v40h-3zM1490 734h3v40h-3zM1490 809h3v7h-3z" fill="#00fc00" shape-rendering="crispEdges"/>
<path d="M1073 749h3v5h-3zM1079 694h3v5h-3zM1082 709h3v5h-3zM1091 724h3v5h-3zM1130 534h3v10h-3zM1130 779h3v5h-3zM1130 794h3v5h-3zM1136 679h3v5h-3zM1139 534h3v5h-3zM1139 574h3v5h-3zM1139 774h3v5h-3zM1145 674h3v5h-3zM1151 554h3v5h-3zM1160 569h3v5h-3zM1166 584h3v5h-3zM1166 594h3v5h-3zM1172 539h3v5h-3zM1178 524h3v5h-3zM1187 629h3v5h-3zM1193 634h3v5h-3zM1199 619h3v5h-3zM1220 589h3v5h-3zM1220 634h3v5h-3zM1223 569h3v5h-3zM1229 554h3v5h-3zM1235 524h3v5h-3zM1238 514h3v5h-3zM1238 574h3v5h-3zM1244 784h3v5h-3zM1244 794h3v5h-3zM1247 774h3v5h-3zM1250 589h3v5h-3zM1253 564h3v5h-3zM1298 624h3v5h-3zM1307 589h3v5h-3zM1331 614h3v5h-3zM1337 574h3v5h-3zM1340 624h3v5h-3zM1346 589h3v5h-3zM1349 514h3v5h-3zM1349 559h3v5h-3zM1358 574h3v5h-3zM1373 804h3v5h-3zM1379 749h3v5h-3zM1388 699h3v5h-3zM1400 799h3v5h-3zM1403 564h3v5h-3zM1403 759h3v5h-3zM1421 524h3v5h-3zM1421 574h3v5h-3zM1433 589h3v5h-3zM1433 779h3v20h-3zM1463 569h3v5h-3z" fill="#bafc00" shape-rendering="crispEdges"/>
<path d="M1073 754h3v5h-3zM1076 699h3v5h-3zM1079 699h3v5h-3zM1082 729h3v10h-3zM1091 799h3v5h-3zM1094 814h3v2h-3zM1109 724h3v5h-3zM1139 754h3v5h-3zM1142 679h3v5h-3zM1148 689h3v50h-3zM1169 554h3v5h-3zM1169 589h3v5h-3zM1181 619h3v5h-3zM1184 524h3v5h-3zM1184 544h3v5h-3zM1187 519h3v5h-3zM1187 549h3v5h-3zM1193 554h3v5h-3zM1193 584h3v10h-3zM1196 554h3v5h-3zM1199 564h3v5h-3zM1202 554h3v5h-3zM1205 564h3v10h-3zM1208 569h3v10h-3zM1217 614h3v5h-3zM1223 604h3v20h-3zM1244 554h3v10h-3zM1250 574h3v5h-3zM1259 544h3v10h-3zM1262 539h3v5h-3zM1265 534h3v5h-3zM1292 619h3v10h-3zM1292 644h3v5h-3zM1295 649h3v5h-3zM1316 609h3v5h-3zM1319 604h3v5h-3zM1322 609h3v5h-3zM1325 599h3v5h-3zM1328 599h3v5h-3zM1331 544h3v10h-3zM1334 569h3v5h-3zM1340 594h3v5h-3zM1343 579h3v5h-3zM1346 529h3v20h-3zM1352 584h3v5h-3zM1355 524h3v10h-3zM1355 544h3v10h-3zM1361 549h3v5h-3zM1364 549h3v5h-3zM1370 809h3v7h-3zM1379 784h3v5h-3zM1382 814h3v2h-3zM1385 789h3v27h-3zM1391 764h3v5h-3zM1403 789h3v5h-3zM1406 539h3v5h-3zM1409 549h3v5h-3zM1409 799h3v10h-3z" fill="#f0e400" shape-rendering="crispEdges"/>
<path d="M1073 759h3v5h-3zM1076 704h3v5h-3zM1091 744h3v5h-3zM1091 779h3v5h-3zM1097 754h3v5h-3zM1103 734h3v5h-3zM1109 739h3v5h-3zM1205 534h3v10h-3zM1208 534h3v10h-3zM1214 574h3v5h-3zM1247 519h3v5h-3zM1250 539h3v5h-3zM1340 524h3v10h-3zM1340 549h3v10h-3zM1403 539h3v5h-3zM1406 519h3v5h-3z" fill="#fcb400" shape-rendering="crispEdges"/>
<path d="M1073 764h3v5h-3zM1094 784h3v5h-3zM1109 764h3v5h-3zM1112 734h3v5h-3zM1214 514h3v5h-3zM1214 559h3v5h-3z" fill="#fc6000" shape-rendering="crispEdges"/>
<path d="M1073 769h3v5h-3zM1079 734h3v10h-3zM1094 779h3v5h-3zM1097 809h3v5h-3zM1109 794h3v5h-3zM1211 564h3v5h-3zM1214 554h3v5h-3z" fill="#fc4800" shape-rendering="crispEdges"/>
<path d="M1073 774h3v5h-3zM1079 729h3v5h-3zM1094 774h3v5h-3zM1106 739h3v5h-3zM1106 804h3v5h-3zM1112 739h3v5h-3zM1211 519h3v5h-3zM1214 544h3v5h-3zM1409 514h3v5h-3z" fill="#fc2400" shape-rendering="crispEdges"/>
<path d="M1073 779h3v5h-3zM1076 744h3v5h-3zM1094 769h3v5h-3zM1211 524h3v5h-3zM1214 539h3v5h-3z" fill="#fc0c00" shape-rendering="crispEdges"/>
<path d="M1073 784h3v5h-3zM1073 794h3v5h-3zM1076 724h3v5h-3zM1079 719h3v10h-3zM1079 749h3v5h-3zM1094 759h3v10h-3zM1097 804h3v5h-3zM1103 769h3v5h-3zM1103 794h3v5h-3zM1106 744h3v10h-3zM1109 779h3v5h-3zM1109 789h3v5h-3zM1211 529h3v10h-3zM1211 544h3v10h-3zM1361 514h3v5h-3zM1364 514h3v5h-3zM1403 514h3v5h-3z" fill="#fc0000" shape-rendering="crispEdges"/>
<path d="M1073 789h3v5h-3zM1076 719h3v5h-3zM1076 749h3v5h-3zM1088 749h3v5h-3zM1097 769h3v5h-3zM1100 759h3v5h-3zM1100 814h3v2h-3zM1103 774h3v5h-3zM1106 799h3v5h-3zM1109 784h3v5h-3zM1211 539h3v5h-3z" fill="#f60000" shape-rendering="crispEdges"/>
<path d="M1073 799h3v5h-3zM1076 729h3v5h-3zM1079 744h3v5h-3zM1094 754h3v5h-3zM1097 764h3v5h-3zM1103 764h3v5h-3zM1109 774h3v5h-3zM1211 554h3v5h-3zM1214 534h3v5h-3zM1361 519h3v5h-3zM1364 519h3v5h-3z" fill="#fc1800" shape-rendering="crispEdges"/>
<path d="M1073 804h3v5h-3zM1076 734h3v10h-3zM1079 709h3v5h-3zM1085 744h3v5h-3zM1100 754h3v5h-3zM1109 769h3v5h-3zM1214 524h3v5h-3zM1214 549h3v5h-3zM1361 524h3v5h-3z" fill="#fc3c00" shape-rendering="crispEdges"/>
<path d="M1073 809h3v5h-3zM1094 744h3v5h-3zM1103 754h3v5h-3zM1103 799h3v5h-3zM1106 734h3v5h-3zM1214 519h3v5h-3zM1361 529h3v5h-3zM1364 529h3v5h-3zM1403 524h3v5h-3zM1409 519h3v5h-3z" fill="#fc5400" shape-rendering="crispEdges"/>
<path d="M1073 814h3v2h-3zM1094 739h3v5h-3zM1364 534h3v5h-3z" fill="#fc6c00" shape-rendering="crispEdges"/>
<path d="M1076 519h3v5h-3zM1079 519h3v5h-3zM1085 614h3v25h-3zM1088 594h3v10h-3zM1088 639h3v5h-3zM1112 634h3v5h-3z" fill="#0000cc" shape-rendering="crispEdges"/>
<path d="M1076 524h3v5h-3zM1076 594h3v5h-3zM1082 564h3v5h-3zM1091 644h3v5h-3zM1094 589h3v5h-3zM1100 539h3v25h-3zM1103 534h3v5h-3zM1181 804h3v5h-3zM1184 734h3v5h-3zM1187 739h3v5h-3zM1199 719h3v5h-3zM1199 814h3v2h-3zM1205 724h3v5h-3zM1205 769h3v5h-3zM1208 754h3v5h-3zM1208 769h3v5h-3zM1208 804h3v5h-3zM1214 759h3v5h-3zM1373 524h3v5h-3zM1391 519h3v5h-3zM1394 529h3v5h-3z" fill="#009cd2" shape-rendering="crispEdges"/>
<path d="M1076 529h3v5h-3zM1082 689h3v5h-3zM1085 529h3v5h-3zM1088 679h3v5h-3zM1091 524h3v5h-3zM1094 549h3v5h-3zM1100 669h3v5h-3zM1115 644h3v5h-3zM1151 789h3v27h-3zM1160 784h3v5h-3zM1169 774h3v5h-3zM1169 809h3v5h-3zM1211 789h3v5h-3zM1217 709h3v5h-3zM1223 714h3v5h-3zM1226 769h3v5h-3zM1235 659h3v5h-3zM1235 739h3v5h-3zM1238 729h3v5h-3zM1241 644h3v5h-3zM1244 649h3v5h-3zM1244 719h3v5h-3zM1247 659h3v5h-3zM1247 714h3v5h-3zM1250 684h3v10h-3zM1259 644h3v5h-3zM1277 714h3v5h-3zM1289 779h3v5h-3zM1304 809h3v5h-3zM1310 809h3v5h-3zM1313 779h3v5h-3zM1325 719h3v5h-3zM1328 719h3v5h-3zM1331 759h3v5h-3zM1337 759h3v5h-3zM1346 704h3v20h-3zM1349 674h3v5h-3zM1358 754h3v5h-3zM1367 599h3v5h-3zM1382 594h3v5h-3zM1394 624h3v5h-3z" fill="#009c2a" shape-rendering="crispEdges"/>
<path d="M1076 534h3v5h-3zM1076 684h3v5h-3zM1079 684h3v5h-3zM1094 689h3v5h-3zM1097 714h3v5h-3zM1100 699h3v5h-3zM1103 679h3v5h-3zM1106 669h3v5h-3zM1112 679h3v5h-3zM1115 519h3v5h-3zM1115 559h3v5h-3zM1115 694h3v5h-3zM1115 749h3v10h-3zM1115 769h3v5h-3zM1115 804h3v5h-3zM1118 554h3v5h-3zM1118 699h3v5h-3zM1118 739h3v10h-3zM1118 774h3v5h-3zM1118 799h3v5h-3zM1121 564h3v5h-3zM1121 684h3v5h-3zM1121 814h3v2h-3zM1124 514h3v10h-3zM1124 549h3v5h-3zM1124 679h3v5h-3zM1124 734h3v5h-3zM1124 744h3v15h-3zM1124 809h3v5h-3zM1127 519h3v5h-3zM1127 804h3v5h-3zM1130 564h3v25h-3zM1130 664h3v5h-3zM1133 519h3v5h-3zM1133 679h3v5h-3zM1133 729h3v5h-3zM1133 749h3v15h-3zM1133 804h3v5h-3zM1136 554h3v15h-3zM1136 654h3v5h-3zM1136 764h3v5h-3zM1145 534h3v10h-3zM1145 574h3v5h-3zM1145 649h3v5h-3zM1145 774h3v5h-3zM1148 524h3v10h-3zM1148 579h3v5h-3zM1148 644h3v5h-3zM1148 779h3v5h-3zM1151 669h3v5h-3zM1154 674h3v10h-3zM1157 514h3v30h-3zM1157 589h3v10h-3zM1160 634h3v35h-3zM1163 619h3v10h-3zM1166 649h3v5h-3zM1169 694h3v10h-3zM1172 629h3v5h-3zM1175 629h3v5h-3zM1178 639h3v5h-3zM1184 649h3v5h-3zM1187 649h3v5h-3zM1190 644h3v5h-3zM1196 639h3v5h-3zM1199 644h3v5h-3zM1202 639h3v5h-3zM1205 644h3v5h-3zM1208 644h3v5h-3zM1211 619h3v5h-3zM1214 614h3v5h-3zM1217 539h3v5h-3zM1217 814h3v2h-3zM1220 554h3v5h-3zM1220 664h3v5h-3zM1223 534h3v5h-3zM1223 809h3v7h-3zM1226 664h3v5h-3zM1229 594h3v5h-3zM1229 784h3v32h-3zM1232 514h3v5h-3zM1232 574h3v5h-3zM1235 779h3v5h-3zM1238 609h3v5h-3zM1238 769h3v5h-3zM1241 589h3v5h-3zM1244 609h3v5h-3zM1247 744h3v5h-3zM1250 624h3v5h-3zM1250 739h3v5h-3zM1253 764h3v5h-3zM1259 604h3v10h-3zM1259 754h3v5h-3zM1262 604h3v5h-3zM1262 754h3v5h-3zM1265 599h3v5h-3zM1268 629h3v5h-3zM1268 649h3v5h-3zM1271 574h3v10h-3zM1271 599h3v5h-3zM1271 674h3v10h-3zM1271 749h3v5h-3zM1271 774h3v10h-3zM1274 514h3v40h-3zM1274 614h3v5h-3zM1274 664h3v5h-3zM1274 764h3v5h-3zM1280 514h3v50h-3zM1280 614h3v5h-3zM1280 659h3v5h-3zM1283 619h3v10h-3zM1283 654h3v5h-3zM1289 554h3v25h-3zM1289 679h3v5h-3zM1292 694h3v5h-3zM1295 699h3v5h-3zM1298 514h3v35h-3zM1298 584h3v10h-3zM1298 674h3v5h-3zM1301 519h3v15h-3zM1301 549h3v10h-3zM1301 569h3v5h-3zM1301 644h3v5h-3zM1304 654h3v5h-3zM1307 674h3v10h-3zM1310 654h3v5h-3zM1313 634h3v5h-3zM1319 649h3v5h-3zM1322 654h3v5h-3zM1334 644h3v10h-3zM1337 624h3v5h-3zM1340 669h3v5h-3zM1340 784h3v32h-3zM1343 659h3v10h-3zM1349 614h3v5h-3zM1352 664h3v5h-3zM1355 634h3v5h-3zM1358 624h3v5h-3zM1361 569h3v5h-3zM1361 809h3v7h-3zM1364 809h3v7h-3zM1367 684h3v5h-3zM1370 679h3v5h-3zM1373 714h3v40h-3zM1379 674h3v5h-3zM1382 679h3v5h-3zM1385 679h3v5h-3zM1388 669h3v5h-3zM1394 704h3v35h-3zM1400 574h3v10h-3zM1400 729h3v15h-3zM1403 624h3v5h-3zM1403 674h3v5h-3zM1406 579h3v10h-3zM1406 719h3v15h-3zM1409 619h3v5h-3zM1409 684h3v5h-3zM1412 524h3v15h-3zM1412 564h3v15h-3zM1418 514h3v15h-3zM1418 579h3v15h-3zM1418 784h3v10h-3zM1424 609h3v20h-3zM1424 649h3v30h-3zM1424 729h3v25h-3zM1427 519h3v15h-3zM1427 569h3v15h-3zM1430 614h3v55h-3zM1430 739h3v5h-3zM1439 624h3v35h-3zM1439 699h3v35h-3zM1439 774h3v35h-3zM1451 619h3v40h-3zM1451 694h3v40h-3zM1451 769h3v40h-3zM1469 579h3v50h-3zM1469 654h3v50h-3zM1469 729h3v50h-3zM1469 804h3v12h-3zM1484 574h3v10h-3zM1487 574h3v15h-3zM1496 619h1v45h-1zM1496 694h1v45h-1zM1496 769h1v45h-1z" fill="#00e400" shape-rendering="crispEdges"/>
<path d="M1076 539h3v5h-3zM1112 704h3v5h-3zM1121 539h3v5h-3zM1130 544h3v5h-3zM1136 674h3v5h-3zM1139 519h3v5h-3zM1139 584h3v5h-3zM1139 784h3v5h-3zM1151 544h3v5h-3zM1154 514h3v30h-3zM1166 614h3v5h-3zM1172 524h3v5h-3zM1175 524h3v5h-3zM1178 584h3v10h-3zM1184 634h3v5h-3zM1196 619h3v5h-3zM1199 624h3v5h-3zM1202 619h3v5h-3zM1211 604h3v5h-3zM1226 579h3v5h-3zM1226 644h3v5h-3zM1235 514h3v5h-3zM1235 574h3v5h-3zM1241 529h3v5h-3zM1241 559h3v5h-3zM1244 774h3v5h-3zM1247 764h3v5h-3zM1250 599h3v5h-3zM1253 569h3v5h-3zM1259 579h3v5h-3zM1259 779h3v5h-3zM1271 634h3v5h-3zM1286 664h3v5h-3zM1289 604h3v5h-3zM1295 544h3v5h-3zM1295 579h3v5h-3zM1298 609h3v5h-3zM1304 599h3v5h-3zM1310 599h3v5h-3zM1331 619h3v5h-3zM1349 574h3v5h-3zM1355 604h3v5h-3zM1361 559h3v5h-3zM1376 764h3v5h-3zM1379 704h3v5h-3zM1385 749h3v5h-3zM1397 769h3v5h-3zM1403 734h3v5h-3zM1406 779h3v5h-3zM1409 569h3v5h-3zM1409 749h3v5h-3zM1415 539h3v30h-3zM1421 599h3v5h-3zM1421 684h3v35h-3zM1421 759h3v10h-3zM1421 809h3v7h-3zM1433 614h3v10h-3zM1433 659h3v10h-3zM1433 739h3v5h-3zM1463 624h3v10h-3zM1463 644h3v10h-3zM1463 699h3v10h-3zM1463 719h3v10h-3zM1463 774h3v10h-3zM1463 794h3v10h-3zM1466 584h3v5h-3zM1493 514h3v55h-3z" fill="#78fc00" shape-rendering="crispEdges"/>
<path d="M1076 544h3v5h-3zM1079 544h3v5h-3zM1079 689h3v5h-3zM1094 699h3v5h-3zM1112 684h3v5h-3zM1115 549h3v5h-3zM1115 709h3v5h-3zM1115 724h3v10h-3zM1115 784h3v5h-3zM1115 794h3v5h-3zM1118 544h3v5h-3zM1118 714h3v5h-3zM1118 789h3v5h-3zM1121 519h3v5h-3zM1121 554h3v5h-3zM1121 699h3v5h-3zM1121 744h3v5h-3zM1121 774h3v5h-3zM1124 529h3v5h-3zM1124 719h3v5h-3zM1124 769h3v5h-3zM1124 799h3v5h-3zM1127 534h3v10h-3zM1130 554h3v5h-3zM1133 534h3v10h-3zM1133 689h3v30h-3zM1133 774h3v5h-3zM1136 664h3v5h-3zM1142 519h3v5h-3zM1142 584h3v5h-3zM1142 784h3v5h-3zM1148 554h3v5h-3zM1148 564h3v5h-3zM1148 654h3v5h-3zM1148 764h3v5h-3zM1151 619h3v10h-3zM1154 629h3v10h-3zM1157 549h3v5h-3zM1157 574h3v5h-3zM1160 619h3v5h-3zM1163 589h3v10h-3zM1169 664h3v10h-3zM1175 614h3v5h-3zM1184 644h3v5h-3zM1196 634h3v5h-3zM1199 639h3v5h-3zM1202 634h3v5h-3zM1205 639h3v5h-3zM1214 609h3v5h-3zM1223 544h3v5h-3zM1226 659h3v5h-3zM1232 524h3v5h-3zM1232 564h3v5h-3zM1238 599h3v5h-3zM1238 784h3v5h-3zM1241 579h3v5h-3zM1244 599h3v5h-3zM1247 609h3v5h-3zM1253 804h3v5h-3zM1256 754h3v5h-3zM1259 594h3v5h-3zM1259 759h3v5h-3zM1262 589h3v5h-3zM1265 589h3v5h-3zM1265 764h3v5h-3zM1271 514h3v55h-3zM1271 664h3v5h-3zM1271 764h3v5h-3zM1274 624h3v5h-3zM1274 649h3v5h-3zM1280 629h3v5h-3zM1283 634h3v5h-3zM1286 514h3v35h-3zM1286 584h3v5h-3zM1292 684h3v5h-3zM1295 689h3v5h-3zM1298 669h3v5h-3zM1301 584h3v5h-3zM1304 529h3v20h-3zM1304 574h3v5h-3zM1304 639h3v5h-3zM1307 659h3v5h-3zM1310 529h3v10h-3zM1310 544h3v5h-3zM1310 574h3v5h-3zM1310 639h3v5h-3zM1316 644h3v5h-3zM1322 644h3v5h-3zM1325 639h3v5h-3zM1328 639h3v5h-3zM1337 614h3v5h-3zM1340 659h3v5h-3zM1343 639h3v10h-3zM1349 604h3v5h-3zM1352 644h3v10h-3zM1355 624h3v5h-3zM1358 614h3v5h-3zM1364 799h3v5h-3zM1367 694h3v10h-3zM1376 689h3v5h-3zM1379 679h3v5h-3zM1388 674h3v5h-3zM1394 749h3v5h-3zM1397 744h3v5h-3zM1400 764h3v5h-3zM1403 609h3v5h-3zM1403 689h3v5h-3zM1406 564h3v5h-3zM1406 754h3v10h-3zM1409 599h3v5h-3zM1409 699h3v5h-3zM1415 619h3v40h-3zM1424 514h3v10h-3zM1424 579h3v10h-3zM1430 514h3v5h-3zM1430 584h3v10h-3zM1430 784h3v15h-3zM1439 514h3v60h-3zM1442 574h3v10h-3zM1445 619h3v20h-3zM1445 644h3v20h-3zM1445 694h3v20h-3zM1445 719h3v20h-3zM1445 769h3v20h-3zM1445 794h3v20h-3zM1448 584h3v40h-3zM1448 654h3v45h-3zM1448 729h3v45h-3zM1448 804h3v12h-3zM1451 514h3v60h-3zM1454 584h3v40h-3zM1454 654h3v45h-3zM1454 729h3v45h-3zM1454 804h3v12h-3zM1457 624h3v35h-3zM1457 699h3v35h-3zM1457 774h3v35h-3zM1460 624h3v35h-3zM1460 699h3v35h-3zM1460 774h3v35h-3zM1472 589h3v40h-3zM1472 649h3v55h-3zM1472 724h3v55h-3zM1472 799h3v17h-3zM1478 614h3v20h-3zM1478 644h3v20h-3zM1478 689h3v20h-3zM1478 719h3v20h-3zM1478 764h3v20h-3zM1478 794h3v20h-3zM1481 579h3v5h-3zM1490 624h3v35h-3zM1490 699h3v35h-3zM1490 774h3v35h-3zM1496 514h1v60h-1z" fill="#00f600" shape-rendering="crispEdges"/>
<path d="M1076 549h3v5h-3zM1076 679h3v5h-3zM1079 549h3v5h-3zM1082 699h3v5h-3zM1091 704h3v5h-3zM1094 679h3v5h-3zM1097 709h3v5h-3zM1106 664h3v5h-3zM1112 674h3v5h-3zM1115 564h3v5h-3zM1115 814h3v2h-3zM1118 514h3v5h-3zM1118 559h3v5h-3zM1118 754h3v10h-3zM1118 809h3v5h-3zM1121 574h3v5h-3zM1124 674h3v5h-3zM1127 814h3v2h-3zM1130 594h3v5h-3zM1130 659h3v5h-3zM1133 739h3v5h-3zM1133 814h3v2h-3zM1136 534h3v10h-3zM1136 574h3v5h-3zM1136 649h3v5h-3zM1136 774h3v5h-3zM1145 519h3v10h-3zM1145 584h3v5h-3zM1145 784h3v5h-3zM1148 514h3v5h-3zM1148 589h3v50h-3zM1148 789h3v27h-3zM1151 679h3v10h-3zM1154 694h3v10h-3zM1157 609h3v10h-3zM1160 679h3v5h-3zM1163 634h3v35h-3zM1166 659h3v5h-3zM1169 709h3v5h-3zM1172 639h3v5h-3zM1178 649h3v5h-3zM1181 659h3v5h-3zM1193 654h3v5h-3zM1196 644h3v5h-3zM1202 644h3v5h-3zM1205 649h3v5h-3zM1208 649h3v5h-3zM1214 619h3v5h-3zM1217 529h3v5h-3zM1217 674h3v5h-3zM1217 804h3v5h-3zM1223 674h3v5h-3zM1226 544h3v5h-3zM1229 779h3v5h-3zM1232 584h3v5h-3zM1235 769h3v5h-3zM1238 614h3v5h-3zM1241 784h3v5h-3zM1250 734h3v5h-3zM1253 594h3v5h-3zM1253 759h3v5h-3zM1259 614h3v5h-3zM1259 749h3v5h-3zM1265 609h3v5h-3zM1268 619h3v5h-3zM1271 584h3v10h-3zM1271 684h3v5h-3zM1271 739h3v5h-3zM1271 784h3v5h-3zM1274 604h3v5h-3zM1274 754h3v5h-3zM1277 629h3v5h-3zM1277 644h3v5h-3zM1280 569h3v5h-3zM1280 669h3v5h-3zM1280 769h3v5h-3zM1283 514h3v55h-3zM1283 614h3v5h-3zM1283 664h3v5h-3zM1283 764h3v5h-3zM1289 684h3v5h-3zM1292 704h3v5h-3zM1295 709h3v5h-3zM1298 559h3v15h-3zM1298 679h3v5h-3zM1307 689h3v10h-3zM1310 664h3v5h-3zM1319 654h3v5h-3zM1322 659h3v5h-3zM1334 659h3v5h-3zM1337 629h3v5h-3zM1340 769h3v5h-3zM1343 669h3v5h-3zM1343 789h3v27h-3zM1346 639h3v5h-3zM1352 784h3v32h-3zM1355 639h3v10h-3zM1358 629h3v5h-3zM1367 679h3v5h-3zM1373 694h3v10h-3zM1379 669h3v5h-3zM1388 639h3v30h-3zM1391 629h3v10h-3zM1394 689h3v5h-3zM1400 714h3v5h-3zM1403 634h3v5h-3zM1403 669h3v5h-3zM1406 594h3v5h-3zM1406 704h3v5h-3zM1409 674h3v5h-3zM1412 589h3v10h-3zM1412 769h3v40h-3zM1418 604h3v10h-3zM1418 669h3v65h-3zM1418 744h3v20h-3zM1418 814h3v2h-3zM1427 594h3v10h-3zM1427 689h3v30h-3zM1427 764h3v20h-3zM1427 799h3v17h-3zM1436 539h3v25h-3zM1484 709h3v20h-3zM1484 779h3v25h-3zM1487 629h3v20h-3zM1487 704h3v20h-3zM1487 779h3v20h-3z" fill="#00d800" shape-rendering="crispEdges"/>
<path d="M1076 569h3v5h-3zM1079 569h3v5h-3zM1082 524h3v5h-3zM1082 669h3v10h-3zM1085 659h3v5h-3zM1088 534h3v5h-3zM1091 544h3v5h-3zM1094 649h3v5h-3zM1097 674h3v5h-3zM1103 519h3v5h-3zM1109 654h3v5h-3zM1112 654h3v5h-3zM1127 634h3v10h-3zM1133 639h3v5h-3zM1157 774h3v5h-3zM1166 759h3v5h-3zM1172 734h3v5h-3zM1175 734h3v5h-3zM1181 714h3v5h-3zM1187 689h3v5h-3zM1190 679h3v5h-3zM1193 694h3v5h-3zM1196 679h3v5h-3zM1199 684h3v5h-3zM1202 679h3v5h-3zM1211 679h3v5h-3zM1211 779h3v5h-3zM1214 784h3v5h-3zM1220 704h3v5h-3zM1220 754h3v5h-3zM1226 704h3v10h-3zM1229 674h3v5h-3zM1229 724h3v5h-3zM1232 644h3v5h-3zM1235 689h3v30h-3zM1241 664h3v5h-3zM1244 674h3v5h-3zM1244 699h3v10h-3zM1259 664h3v5h-3zM1259 709h3v5h-3zM1262 659h3v5h-3zM1262 714h3v5h-3zM1301 779h3v10h-3zM1301 794h3v5h-3zM1313 729h3v10h-3zM1331 689h3v35h-3zM1349 689h3v10h-3zM1349 729h3v15h-3zM1373 604h3v10h-3zM1379 524h3v5h-3zM1394 539h3v55h-3z" fill="#00a88a" shape-rendering="crispEdges"/>
<path d="M1076 574h3v5h-3zM1088 544h3v5h-3zM1088 659h3v5h-3zM1091 554h3v5h-3zM1097 669h3v5h-3zM1100 659h3v5h-3zM1103 649h3v5h-3zM1109 519h3v5h-3zM1157 789h3v27h-3zM1166 774h3v5h-3zM1166 804h3v10h-3zM1172 749h3v5h-3zM1175 744h3v5h-3zM1178 759h3v5h-3zM1181 724h3v5h-3zM1184 699h3v5h-3zM1187 704h3v5h-3zM1190 684h3v5h-3zM1193 709h3v5h-3zM1205 694h3v5h-3zM1208 694h3v5h-3zM1211 689h3v5h-3zM1211 774h3v5h-3zM1214 679h3v5h-3zM1214 779h3v5h-3zM1220 724h3v10h-3zM1220 744h3v5h-3zM1226 724h3v10h-3zM1232 654h3v5h-3zM1241 679h3v5h-3zM1241 724h3v5h-3zM1259 684h3v10h-3zM1262 674h3v10h-3zM1262 694h3v10h-3zM1265 669h3v10h-3zM1265 704h3v10h-3zM1313 689h3v25h-3zM1367 529h3v5h-3zM1373 539h3v55h-3z" fill="#00a896" shape-rendering="crispEdges"/>
<path d="M1076 579h3v5h-3zM1079 579h3v5h-3zM1082 544h3v5h-3zM1082 659h3v5h-3zM1085 564h3v5h-3zM1085 654h3v5h-3zM1088 559h3v5h-3zM1091 564h3v5h-3zM1091 649h3v5h-3zM1100 514h3v10h-3zM1106 534h3v5h-3zM1106 639h3v5h-3zM1109 524h3v5h-3zM1109 649h3v5h-3zM1112 784h3v5h-3zM1172 759h3v10h-3zM1175 759h3v10h-3zM1178 774h3v10h-3zM1178 794h3v15h-3zM1181 734h3v10h-3zM1184 714h3v5h-3zM1187 714h3v10h-3zM1190 699h3v5h-3zM1193 719h3v10h-3zM1196 694h3v5h-3zM1199 699h3v5h-3zM1202 694h3v5h-3zM1205 704h3v5h-3zM1208 704h3v5h-3zM1211 699h3v10h-3zM1211 769h3v5h-3zM1214 694h3v5h-3zM1232 669h3v5h-3zM1232 729h3v10h-3zM1253 664h3v15h-3zM1253 704h3v10h-3zM1367 524h3v5h-3zM1373 534h3v5h-3zM1385 529h3v5h-3zM1388 524h3v5h-3z" fill="#00a8a8" shape-rendering="crispEdges"/>
<path d="M1076 584h3v5h-3zM1088 564h3v5h-3zM1100 524h3v5h-3zM1100 654h3v5h-3zM1103 529h3v5h-3zM1103 644h3v5h-3zM1172 774h3v5h-3zM1172 804h3v12h-3zM1175 774h3v5h-3zM1175 809h3v7h-3zM1181 749h3v5h-3zM1184 719h3v5h-3zM1187 724h3v5h-3zM1190 709h3v5h-3zM1193 729h3v5h-3zM1196 699h3v5h-3zM1199 704h3v5h-3zM1202 699h3v5h-3zM1208 709h3v5h-3zM1211 709h3v5h-3zM1211 764h3v5h-3zM1214 699h3v5h-3zM1214 769h3v5h-3zM1232 679h3v5h-3zM1232 719h3v5h-3zM1253 684h3v15h-3zM1370 519h3v5h-3zM1376 519h3v5h-3zM1382 519h3v5h-3z" fill="#00a8b4" shape-rendering="crispEdges"/>
<path d="M1076 589h3v5h-3zM1079 644h3v5h-3zM1094 584h3v5h-3zM1094 639h3v5h-3zM1106 579h3v5h-3zM1106 594h3v5h-3zM1175 789h3v5h-3zM1181 764h3v30h-3zM1184 729h3v5h-3zM1205 714h3v5h-3zM1214 709h3v5h-3zM1214 764h3v5h-3zM1397 529h3v5h-3z" fill="#00a2c6" shape-rendering="crispEdges"/>
<path d="M1076 604h3v10h-3zM1076 639h3v5h-3zM1079 604h3v5h-3zM1079 639h3v5h-3zM1094 609h3v10h-3zM1097 519h3v10h-3zM1097 654h3v5h-3zM1100 569h3v5h-3zM1103 539h3v35h-3zM1103 604h3v35h-3zM1109 534h3v5h-3zM1112 789h3v5h-3zM1184 749h3v10h-3zM1187 754h3v35h-3zM1190 734h3v5h-3zM1193 764h3v40h-3zM1196 724h3v10h-3zM1196 749h3v30h-3zM1196 799h3v17h-3zM1199 739h3v5h-3zM1199 784h3v10h-3zM1202 724h3v10h-3zM1202 749h3v30h-3zM1202 799h3v17h-3zM1211 734h3v10h-3zM1214 724h3v10h-3zM1214 749h3v5h-3zM1373 519h3v5h-3z" fill="#0090de" shape-rendering="crispEdges"/>
<path d="M1076 614h3v25h-3zM1079 609h3v5h-3zM1082 569h3v5h-3zM1088 574h3v5h-3zM1088 649h3v5h-3zM1103 574h3v10h-3zM1103 594h3v10h-3zM1109 639h3v5h-3zM1112 644h3v5h-3zM1184 759h3v35h-3zM1187 789h3v10h-3zM1190 739h3v10h-3zM1193 804h3v10h-3zM1196 734h3v15h-3zM1196 779h3v20h-3zM1202 734h3v15h-3zM1202 779h3v20h-3zM1214 744h3v5h-3z" fill="#008ade" shape-rendering="crispEdges"/>
<path d="M1076 644h3v5h-3zM1082 559h3v5h-3zM1085 569h3v5h-3zM1088 654h3v5h-3zM1097 659h3v5h-3zM1100 529h3v5h-3zM1106 569h3v10h-3zM1106 599h3v10h-3zM1172 784h3v15h-3zM1175 784h3v5h-3zM1175 794h3v10h-3zM1181 759h3v5h-3zM1187 729h3v5h-3zM1190 714h3v5h-3zM1193 734h3v5h-3zM1196 704h3v5h-3zM1199 709h3v5h-3zM1202 704h3v5h-3zM1208 714h3v5h-3zM1211 714h3v5h-3zM1211 759h3v5h-3zM1232 689h3v25h-3zM1367 519h3v5h-3z" fill="#00a2c0" shape-rendering="crispEdges"/>
<path d="M1076 654h3v5h-3zM1082 679h3v5h-3zM1109 514h3v5h-3zM1118 634h3v10h-3zM1124 634h3v10h-3zM1157 764h3v5h-3zM1166 754h3v5h-3zM1175 729h3v5h-3zM1181 709h3v5h-3zM1184 684h3v5h-3zM1193 689h3v5h-3zM1205 684h3v5h-3zM1208 684h3v5h-3zM1211 674h3v5h-3zM1226 699h3v5h-3zM1229 734h3v5h-3zM1232 639h3v5h-3zM1232 749h3v5h-3zM1235 679h3v5h-3zM1235 719h3v5h-3zM1244 664h3v5h-3zM1247 689h3v5h-3zM1256 694h3v5h-3zM1262 654h3v5h-3zM1301 774h3v5h-3zM1313 679h3v5h-3zM1313 744h3v5h-3zM1331 684h3v5h-3zM1331 724h3v5h-3zM1337 709h3v15h-3zM1349 684h3v5h-3zM1349 749h3v5h-3zM1373 619h3v10h-3zM1376 534h3v5h-3zM1394 599h3v5h-3zM1397 539h3v55h-3z" fill="#00a872" shape-rendering="crispEdges"/>
<path d="M1076 659h3v5h-3zM1091 519h3v5h-3zM1094 544h3v5h-3zM1106 519h3v5h-3zM1124 649h3v5h-3zM1151 779h3v5h-3zM1157 744h3v5h-3zM1160 774h3v5h-3zM1163 759h3v5h-3zM1169 764h3v5h-3zM1172 709h3v5h-3zM1175 709h3v5h-3zM1187 674h3v5h-3zM1190 664h3v5h-3zM1196 664h3v5h-3zM1199 669h3v5h-3zM1202 664h3v5h-3zM1211 654h3v5h-3zM1214 804h3v5h-3zM1217 699h3v5h-3zM1223 704h3v5h-3zM1223 754h3v5h-3zM1232 619h3v5h-3zM1232 759h3v5h-3zM1235 654h3v5h-3zM1247 654h3v5h-3zM1250 669h3v5h-3zM1250 704h3v5h-3zM1259 639h3v5h-3zM1277 699h3v5h-3zM1277 724h3v5h-3zM1286 779h3v5h-3zM1298 754h3v5h-3zM1310 759h3v5h-3zM1313 794h3v5h-3zM1316 714h3v5h-3zM1319 724h3v5h-3zM1322 689h3v25h-3zM1325 734h3v5h-3zM1328 734h3v5h-3zM1331 774h3v5h-3zM1349 789h3v27h-3zM1355 689h3v10h-3zM1355 734h3v5h-3zM1358 769h3v5h-3zM1367 609h3v5h-3zM1376 604h3v5h-3zM1382 604h3v5h-3zM1385 594h3v5h-3zM1394 639h3v25h-3zM1397 624h3v5h-3z" fill="#009c06" shape-rendering="crispEdges"/>
<path d="M1076 674h3v5h-3zM1091 694h3v5h-3zM1094 669h3v5h-3zM1097 704h3v5h-3zM1112 669h3v5h-3zM1115 574h3v5h-3zM1115 679h3v5h-3zM1118 569h3v5h-3zM1118 684h3v5h-3zM1121 584h3v5h-3zM1121 669h3v5h-3zM1124 669h3v5h-3zM1127 554h3v5h-3zM1130 604h3v5h-3zM1130 654h3v5h-3zM1133 554h3v5h-3zM1136 519h3v10h-3zM1136 579h3v10h-3zM1136 779h3v10h-3zM1151 699h3v10h-3zM1154 714h3v30h-3zM1157 624h3v10h-3zM1160 689h3v15h-3zM1163 674h3v10h-3zM1166 669h3v15h-3zM1169 719h3v5h-3zM1172 644h3v10h-3zM1175 644h3v5h-3zM1178 654h3v10h-3zM1184 654h3v5h-3zM1214 624h3v5h-3zM1217 519h3v5h-3zM1217 794h3v5h-3zM1220 539h3v5h-3zM1220 669h3v5h-3zM1223 519h3v5h-3zM1223 794h3v5h-3zM1226 539h3v5h-3zM1226 814h3v2h-3zM1229 609h3v5h-3zM1229 769h3v5h-3zM1232 589h3v5h-3zM1235 614h3v5h-3zM1238 624h3v5h-3zM1241 604h3v5h-3zM1241 774h3v10h-3zM1250 729h3v5h-3zM1253 604h3v5h-3zM1253 754h3v5h-3zM1256 624h3v5h-3zM1256 739h3v5h-3zM1259 619h3v5h-3zM1259 744h3v5h-3zM1265 614h3v5h-3zM1268 514h3v55h-3zM1268 609h3v5h-3zM1268 664h3v5h-3zM1268 759h3v10h-3zM1271 699h3v15h-3zM1271 719h3v10h-3zM1274 679h3v5h-3zM1274 744h3v5h-3zM1274 779h3v5h-3zM1277 624h3v5h-3zM1277 654h3v5h-3zM1280 579h3v5h-3zM1280 599h3v5h-3zM1280 679h3v5h-3zM1280 749h3v5h-3zM1280 779h3v5h-3zM1283 569h3v10h-3zM1283 604h3v5h-3zM1283 669h3v10h-3zM1283 754h3v5h-3zM1283 769h3v10h-3zM1286 694h3v5h-3zM1289 689h3v5h-3zM1292 709h3v35h-3zM1295 744h3v15h-3zM1298 684h3v5h-3zM1301 659h3v10h-3zM1304 674h3v10h-3zM1307 709h3v15h-3zM1310 674h3v10h-3zM1313 644h3v5h-3zM1316 664h3v5h-3zM1316 809h3v7h-3zM1319 659h3v5h-3zM1322 664h3v5h-3zM1322 804h3v12h-3zM1325 659h3v5h-3zM1328 659h3v5h-3zM1331 649h3v5h-3zM1334 669h3v5h-3zM1334 789h3v27h-3zM1337 634h3v5h-3zM1340 684h3v5h-3zM1340 749h3v15h-3zM1343 674h3v5h-3zM1343 774h3v10h-3zM1346 649h3v10h-3zM1349 629h3v5h-3zM1352 679h3v5h-3zM1352 769h3v10h-3zM1355 654h3v10h-3zM1358 634h3v5h-3zM1361 769h3v5h-3zM1367 674h3v5h-3zM1373 684h3v5h-3zM1379 664h3v5h-3zM1388 614h3v15h-3zM1391 609h3v10h-3zM1400 694h3v10h-3zM1406 609h3v5h-3zM1406 689h3v10h-3zM1409 634h3v35h-3zM1412 609h3v25h-3zM1412 649h3v30h-3zM1412 729h3v25h-3zM1418 629h3v20h-3zM1427 614h3v55h-3zM1427 739h3v5h-3zM1436 514h3v15h-3zM1436 574h3v15h-3z" fill="#00cc00" shape-rendering="crispEdges"/>
<path d="M1076 694h3v5h-3zM1103 704h3v5h-3zM1109 709h3v5h-3zM1136 744h3v5h-3zM1139 539h3v5h-3zM1139 649h3v5h-3zM1142 664h3v5h-3zM1151 569h3v5h-3zM1154 549h3v5h-3zM1160 559h3v5h-3zM1166 554h3v5h-3zM1166 589h3v5h-3zM1169 629h3v5h-3zM1184 624h3v5h-3zM1190 564h3v5h-3zM1190 609h3v5h-3zM1196 609h3v5h-3zM1202 609h3v5h-3zM1205 619h3v5h-3zM1217 649h3v5h-3zM1220 594h3v5h-3zM1220 629h3v5h-3zM1226 589h3v5h-3zM1226 634h3v5h-3zM1229 549h3v5h-3zM1235 564h3v5h-3zM1244 789h3v5h-3zM1256 804h3v5h-3zM1259 574h3v5h-3zM1286 654h3v5h-3zM1289 649h3v5h-3zM1298 629h3v5h-3zM1313 604h3v5h-3zM1319 624h3v5h-3zM1334 604h3v5h-3zM1343 614h3v5h-3zM1349 519h3v5h-3zM1349 554h3v5h-3zM1355 589h3v5h-3zM1373 809h3v7h-3zM1376 774h3v5h-3zM1379 754h3v5h-3zM1385 764h3v5h-3zM1388 704h3v5h-3zM1391 694h3v5h-3zM1400 549h3v5h-3zM1400 804h3v5h-3zM1406 789h3v5h-3zM1421 529h3v5h-3zM1421 569h3v5h-3zM1433 514h3v5h-3zM1433 584h3v5h-3zM1463 564h3v5h-3z" fill="#c0fc00" shape-rendering="crispEdges"/>
<path d="M1076 709h3v5h-3zM1082 749h3v5h-3zM1094 749h3v5h-3zM1103 759h3v5h-3zM1211 514h3v5h-3zM1211 559h3v5h-3zM1214 529h3v5h-3zM1364 524h3v5h-3zM1403 519h3v5h-3z" fill="#fc3000" shape-rendering="crispEdges"/>
<path d="M1076 714h3v5h-3zM1076 814h3v2h-3zM1079 714h3v5h-3zM1079 754h3v5h-3zM1079 814h3v2h-3zM1082 789h3v5h-3zM1103 779h3v5h-3zM1106 754h3v5h-3z" fill="#f00000" shape-rendering="crispEdges"/>
<path d="M1076 754h3v5h-3zM1082 754h3v5h-3zM1082 784h3v5h-3zM1085 749h3v5h-3zM1100 809h3v5h-3zM1103 784h3v10h-3zM1106 759h3v5h-3z" fill="#ea0000" shape-rendering="crispEdges"/>
<path d="M1076 759h3v5h-3zM1079 759h3v5h-3zM1079 809h3v5h-3zM1082 794h3v5h-3zM1097 774h3v5h-3zM1097 799h3v5h-3zM1106 764h3v5h-3z" fill="#e40000" shape-rendering="crispEdges"/>
<path d="M1076 764h3v5h-3zM1079 764h3v5h-3zM1079 804h3v5h-3zM1082 774h3v5h-3zM1082 799h3v5h-3zM1088 754h3v5h-3zM1088 784h3v5h-3zM1088 794h3v5h-3zM1097 779h3v5h-3zM1097 794h3v5h-3zM1100 804h3v5h-3zM1106 774h3v10h-3z" fill="#d80000" shape-rendering="crispEdges"/>
<path d="M1076 769h3v5h-3zM1076 804h3v5h-3zM1079 769h3v5h-3zM1082 759h3v5h-3zM1082 804h3v5h-3zM1085 754h3v5h-3zM1085 784h3v10h-3zM1088 779h3v5h-3zM1100 769h3v5h-3zM1106 784h3v10h-3z" fill="#d20000" shape-rendering="crispEdges"/>
<path d="M1076 774h3v5h-3zM1088 759h3v5h-3z" fill="#cc2a2a" shape-rendering="crispEdges"/>
<path d="M1076 779h3v5h-3zM1079 794h3v5h-3zM1085 759h3v5h-3zM1085 804h3v5h-3zM1088 809h3v5h-3z" fill="#cc8a8a" shape-rendering="crispEdges"/>
<path d="M1076 784h3v10h-3zM1079 784h3v10h-3zM1085 764h3v5h-3zM1085 809h3v7h-3zM1100 789h3v5h-3z" fill="#cccccc" shape-rendering="crispEdges"/>
<path d="M1076 794h3v5h-3z" fill="#cc9c9c" shape-rendering="crispEdges"/>
<path d="M1076 799h3v5h-3zM1079 774h3v5h-3zM1082 809h3v5h-3z" fill="#cc1e1e" shape-rendering="crispEdges"/>
<path d="M1076 809h3v5h-3zM1082 779h3v5h-3zM1088 789h3v5h-3zM1100 764h3v5h-3zM1106 769h3v5h-3zM1106 794h3v5h-3z" fill="#de0000" shape-rendering="crispEdges"/>
<path d="M1079 529h3v5h-3zM1088 519h3v5h-3zM1091 659h3v5h-3zM1103 514h3v5h-3zM1112 779h3v5h-3zM1115 624h3v5h-3zM1118 614h3v5h-3zM1124 624h3v5h-3zM1127 619h3v5h-3zM1133 619h3v5h-3zM1160 789h3v27h-3zM1163 769h3v5h-3zM1166 739h3v5h-3zM1169 804h3v5h-3zM1172 719h3v5h-3zM1178 729h3v5h-3zM1181 694h3v5h-3zM1190 669h3v5h-3zM1196 669h3v5h-3zM1199 674h3v5h-3zM1202 669h3v5h-3zM1214 654h3v5h-3zM1217 749h3v5h-3zM1220 769h3v5h-3zM1223 719h3v5h-3zM1229 654h3v5h-3zM1238 674h3v5h-3zM1238 724h3v5h-3zM1256 659h3v5h-3zM1265 639h3v5h-3zM1265 724h3v5h-3zM1289 784h3v5h-3zM1298 769h3v5h-3zM1301 754h3v5h-3zM1304 769h3v5h-3zM1304 804h3v5h-3zM1310 769h3v5h-3zM1310 804h3v5h-3zM1313 774h3v5h-3zM1325 689h3v30h-3zM1328 689h3v30h-3zM1331 754h3v5h-3zM1337 754h3v5h-3zM1349 774h3v5h-3zM1358 684h3v5h-3zM1370 539h3v55h-3zM1373 659h3v5h-3zM1376 594h3v5h-3zM1382 589h3v5h-3zM1394 619h3v5h-3zM1397 609h3v5h-3z" fill="#009c30" shape-rendering="crispEdges"/>
<path d="M1079 534h3v5h-3zM1091 709h3v5h-3zM1094 684h3v5h-3zM1109 684h3v5h-3zM1115 514h3v5h-3zM1115 689h3v5h-3zM1115 759h3v10h-3zM1115 809h3v5h-3zM1118 519h3v5h-3zM1118 694h3v5h-3zM1118 749h3v5h-3zM1118 769h3v5h-3zM1118 804h3v5h-3zM1121 569h3v5h-3zM1121 679h3v5h-3zM1124 739h3v5h-3zM1124 814h3v2h-3zM1127 514h3v5h-3zM1127 549h3v5h-3zM1127 679h3v5h-3zM1127 809h3v5h-3zM1130 589h3v5h-3zM1133 514h3v5h-3zM1133 549h3v5h-3zM1133 734h3v5h-3zM1133 744h3v5h-3zM1133 809h3v5h-3zM1136 544h3v10h-3zM1136 569h3v5h-3zM1136 769h3v5h-3zM1145 529h3v5h-3zM1145 579h3v5h-3zM1145 644h3v5h-3zM1145 779h3v5h-3zM1148 519h3v5h-3zM1148 584h3v5h-3zM1148 639h3v5h-3zM1148 784h3v5h-3zM1151 674h3v5h-3zM1154 684h3v10h-3zM1157 599h3v10h-3zM1160 669h3v10h-3zM1163 629h3v5h-3zM1166 654h3v5h-3zM1169 704h3v5h-3zM1172 634h3v5h-3zM1175 634h3v5h-3zM1178 644h3v5h-3zM1217 534h3v5h-3zM1217 809h3v5h-3zM1220 549h3v5h-3zM1223 529h3v5h-3zM1223 804h3v5h-3zM1226 549h3v5h-3zM1229 599h3v5h-3zM1232 579h3v5h-3zM1235 604h3v5h-3zM1235 774h3v5h-3zM1238 764h3v5h-3zM1241 594h3v5h-3zM1241 789h3v20h-3zM1244 614h3v5h-3zM1244 749h3v5h-3zM1247 619h3v5h-3zM1253 589h3v5h-3zM1256 619h3v5h-3zM1256 744h3v5h-3zM1262 609h3v5h-3zM1265 604h3v5h-3zM1265 754h3v5h-3zM1268 624h3v5h-3zM1268 654h3v5h-3zM1271 594h3v5h-3zM1271 744h3v5h-3zM1274 609h3v5h-3zM1274 669h3v5h-3zM1274 759h3v5h-3zM1274 769h3v5h-3zM1277 634h3v10h-3zM1280 564h3v5h-3zM1280 609h3v5h-3zM1280 664h3v5h-3zM1280 759h3v10h-3zM1283 659h3v5h-3zM1286 684h3v5h-3zM1292 699h3v5h-3zM1295 704h3v5h-3zM1298 549h3v10h-3zM1298 574h3v10h-3zM1301 514h3v5h-3zM1301 559h3v10h-3zM1301 649h3v5h-3zM1304 659h3v5h-3zM1307 684h3v5h-3zM1310 659h3v5h-3zM1316 654h3v5h-3zM1325 649h3v5h-3zM1328 649h3v5h-3zM1331 639h3v5h-3zM1334 654h3v5h-3zM1340 674h3v5h-3zM1340 774h3v10h-3zM1346 634h3v5h-3zM1349 619h3v5h-3zM1352 669h3v5h-3zM1361 774h3v5h-3zM1364 774h3v5h-3zM1373 704h3v10h-3zM1376 679h3v5h-3zM1391 639h3v30h-3zM1394 694h3v10h-3zM1400 584h3v5h-3zM1400 719h3v10h-3zM1403 629h3v5h-3zM1406 589h3v5h-3zM1406 709h3v10h-3zM1409 624h3v5h-3zM1409 679h3v5h-3zM1412 514h3v10h-3zM1412 579h3v10h-3zM1418 594h3v10h-3zM1418 764h3v20h-3zM1418 794h3v20h-3zM1424 629h3v20h-3zM1427 514h3v5h-3zM1427 584h3v10h-3zM1427 784h3v15h-3zM1469 629h3v25h-3zM1469 704h3v25h-3zM1469 779h3v25h-3zM1484 584h3v45h-3zM1484 729h3v50h-3zM1484 804h3v12h-3zM1487 589h3v40h-3zM1487 649h3v55h-3zM1487 724h3v55h-3zM1487 799h3v17h-3z" fill="#00de00" shape-rendering="crispEdges"/>
<path d="M1079 539h3v5h-3zM1121 534h3v5h-3zM1130 524h3v5h-3zM1130 724h3v5h-3zM1130 764h3v5h-3zM1130 804h3v5h-3zM1136 749h3v5h-3zM1139 639h3v5h-3zM1145 669h3v5h-3zM1154 589h3v5h-3zM1160 579h3v5h-3zM1163 569h3v5h-3zM1169 644h3v5h-3zM1172 549h3v5h-3zM1178 579h3v5h-3zM1178 594h3v5h-3zM1190 624h3v5h-3zM1220 579h3v5h-3zM1220 644h3v5h-3zM1223 559h3v5h-3zM1223 659h3v5h-3zM1229 519h3v5h-3zM1229 569h3v5h-3zM1247 589h3v5h-3zM1256 764h3v5h-3zM1259 804h3v5h-3zM1262 579h3v5h-3zM1262 799h3v5h-3zM1265 784h3v5h-3zM1265 794h3v5h-3zM1271 644h3v5h-3zM1286 599h3v5h-3zM1292 589h3v5h-3zM1292 674h3v5h-3zM1295 549h3v5h-3zM1298 654h3v5h-3zM1301 609h3v10h-3zM1307 539h3v5h-3zM1307 574h3v5h-3zM1328 629h3v5h-3zM1343 624h3v5h-3zM1346 604h3v5h-3zM1358 589h3v5h-3zM1370 759h3v5h-3zM1373 784h3v5h-3zM1379 699h3v5h-3zM1382 759h3v5h-3zM1388 684h3v5h-3zM1400 554h3v5h-3zM1403 579h3v5h-3zM1403 729h3v5h-3zM1409 744h3v5h-3zM1415 534h3v5h-3zM1415 569h3v5h-3zM1421 604h3v5h-3zM1421 674h3v10h-3zM1421 719h3v10h-3zM1421 749h3v10h-3zM1433 624h3v10h-3zM1433 649h3v10h-3zM1463 634h3v10h-3zM1463 709h3v10h-3zM1463 784h3v10h-3zM1466 589h3v35h-3zM1466 659h3v40h-3zM1466 734h3v40h-3zM1466 809h3v7h-3zM1493 569h3v5h-3z" fill="#66fc00" shape-rendering="crispEdges"/>
<path d="M1079 554h3v5h-3zM1082 694h3v5h-3zM1091 679h3v5h-3zM1094 524h3v5h-3zM1103 664h3v5h-3zM1109 669h3v5h-3zM1115 589h3v5h-3zM1118 584h3v5h-3zM1118 664h3v5h-3zM1121 599h3v5h-3zM1121 654h3v5h-3zM1124 594h3v5h-3zM1124 659h3v5h-3zM1127 564h3v30h-3zM1130 619h3v5h-3zM1133 564h3v30h-3zM1151 749h3v5h-3zM1154 759h3v5h-3zM1157 679h3v10h-3zM1160 749h3v5h-3zM1163 709h3v35h-3zM1166 704h3v10h-3zM1169 734h3v10h-3zM1172 664h3v10h-3zM1175 664h3v10h-3zM1178 684h3v15h-3zM1181 674h3v5h-3zM1193 664h3v5h-3zM1196 654h3v5h-3zM1199 659h3v5h-3zM1202 654h3v5h-3zM1205 659h3v5h-3zM1208 659h3v5h-3zM1211 634h3v5h-3zM1217 779h3v5h-3zM1220 524h3v5h-3zM1220 799h3v5h-3zM1223 684h3v5h-3zM1223 774h3v5h-3zM1226 524h3v5h-3zM1226 799h3v5h-3zM1229 624h3v5h-3zM1232 604h3v5h-3zM1232 774h3v10h-3zM1235 634h3v5h-3zM1235 754h3v5h-3zM1238 639h3v5h-3zM1238 749h3v5h-3zM1241 614h3v5h-3zM1244 629h3v5h-3zM1244 734h3v5h-3zM1247 634h3v5h-3zM1247 729h3v5h-3zM1250 644h3v5h-3zM1256 634h3v5h-3zM1256 729h3v5h-3zM1259 734h3v5h-3zM1262 624h3v5h-3zM1265 624h3v5h-3zM1265 739h3v5h-3zM1268 584h3v5h-3zM1268 594h3v5h-3zM1268 684h3v5h-3zM1268 744h3v5h-3zM1268 784h3v5h-3zM1274 709h3v15h-3zM1277 569h3v5h-3zM1277 604h3v5h-3zM1277 669h3v5h-3zM1277 754h3v5h-3zM1277 769h3v5h-3zM1280 699h3v30h-3zM1283 589h3v5h-3zM1283 689h3v10h-3zM1283 729h3v15h-3zM1283 789h3v27h-3zM1286 709h3v35h-3zM1289 704h3v5h-3zM1292 769h3v10h-3zM1295 779h3v37h-3zM1298 699h3v5h-3zM1301 684h3v15h-3zM1304 709h3v15h-3zM1307 749h3v10h-3zM1310 709h3v15h-3zM1313 654h3v5h-3zM1316 674h3v5h-3zM1316 764h3v15h-3zM1319 774h3v10h-3zM1322 674h3v5h-3zM1322 759h3v15h-3zM1325 669h3v5h-3zM1325 784h3v15h-3zM1328 669h3v5h-3zM1328 779h3v15h-3zM1331 659h3v5h-3zM1334 679h3v5h-3zM1334 759h3v10h-3zM1337 659h3v5h-3zM1343 689h3v15h-3zM1343 724h3v25h-3zM1346 669h3v5h-3zM1346 784h3v32h-3zM1349 644h3v10h-3zM1352 689h3v50h-3zM1355 674h3v5h-3zM1355 779h3v10h-3zM1358 659h3v10h-3zM1361 754h3v5h-3zM1364 754h3v5h-3zM1367 664h3v5h-3zM1370 659h3v10h-3zM1376 664h3v5h-3zM1379 609h3v20h-3zM1382 659h3v10h-3zM1385 634h3v30h-3zM1388 539h3v55h-3zM1394 674h3v5h-3zM1400 674h3v10h-3zM1406 629h3v5h-3zM1406 669h3v10h-3zM1436 624h3v35h-3z" fill="#00b400" shape-rendering="crispEdges"/>
<path d="M1079 564h3v5h-3zM1082 514h3v5h-3zM1088 664h3v5h-3zM1091 534h3v5h-3zM1094 559h3v5h-3zM1100 664h3v5h-3zM1106 524h3v5h-3zM1118 629h3v5h-3zM1163 784h3v5h-3zM1166 749h3v5h-3zM1181 704h3v5h-3zM1190 674h3v5h-3zM1196 674h3v5h-3zM1199 679h3v5h-3zM1202 674h3v5h-3zM1211 784h3v5h-3zM1217 729h3v5h-3zM1220 689h3v5h-3zM1226 759h3v5h-3zM1235 674h3v5h-3zM1238 689h3v30h-3zM1244 659h3v5h-3zM1247 679h3v5h-3zM1247 699h3v5h-3zM1256 674h3v5h-3zM1256 704h3v5h-3zM1259 654h3v5h-3zM1262 719h3v5h-3zM1298 784h3v5h-3zM1301 809h3v5h-3zM1304 784h3v5h-3zM1310 784h3v5h-3zM1313 754h3v5h-3zM1331 734h3v5h-3zM1337 689h3v10h-3zM1337 734h3v5h-3zM1349 759h3v5h-3zM1358 694h3v10h-3zM1358 724h3v10h-3zM1373 634h3v10h-3zM1394 604h3v5h-3zM1397 594h3v5h-3z" fill="#00a860" shape-rendering="crispEdges"/>
<path d="M1079 574h3v5h-3zM1082 534h3v5h-3zM1085 559h3v5h-3zM1088 549h3v5h-3zM1103 524h3v5h-3zM1166 779h3v10h-3zM1166 794h3v10h-3zM1175 749h3v5h-3zM1178 764h3v5h-3zM1181 729h3v5h-3zM1184 704h3v5h-3zM1187 709h3v5h-3zM1190 689h3v5h-3zM1193 714h3v5h-3zM1196 689h3v5h-3zM1199 694h3v5h-3zM1202 689h3v5h-3zM1211 694h3v5h-3zM1214 684h3v5h-3zM1220 734h3v10h-3zM1226 734h3v10h-3zM1232 659h3v5h-3zM1232 739h3v5h-3zM1241 684h3v5h-3zM1241 714h3v10h-3zM1253 654h3v5h-3zM1262 684h3v10h-3zM1265 679h3v10h-3zM1265 694h3v10h-3zM1379 519h3v5h-3zM1397 534h3v5h-3z" fill="#00a89c" shape-rendering="crispEdges"/>
<path d="M1079 589h3v5h-3zM1091 574h3v5h-3zM1100 534h3v5h-3zM1106 584h3v10h-3zM1109 529h3v5h-3zM1109 644h3v5h-3zM1181 794h3v10h-3zM1187 734h3v5h-3zM1190 719h3v5h-3zM1193 739h3v10h-3zM1196 709h3v5h-3zM1199 714h3v5h-3zM1202 709h3v5h-3zM1205 719h3v5h-3zM1205 759h3v10h-3zM1205 809h3v7h-3zM1208 719h3v10h-3zM1208 759h3v10h-3zM1208 809h3v7h-3zM1211 719h3v5h-3zM1211 754h3v5h-3zM1214 714h3v5h-3zM1370 514h3v5h-3zM1376 514h3v5h-3zM1382 514h3v5h-3z" fill="#009ccc" shape-rendering="crispEdges"/>
<path d="M1079 599h3v5h-3zM1085 574h3v5h-3zM1091 579h3v5h-3zM1094 599h3v10h-3zM1094 619h3v10h-3zM1184 744h3v5h-3zM1187 749h3v5h-3zM1190 729h3v5h-3zM1193 759h3v5h-3zM1196 719h3v5h-3zM1199 729h3v10h-3zM1199 744h3v10h-3zM1199 774h3v10h-3zM1199 794h3v10h-3zM1202 719h3v5h-3zM1205 734h3v15h-3zM1205 784h3v15h-3zM1208 739h3v5h-3zM1208 784h3v10h-3zM1211 729h3v5h-3zM1211 744h3v5h-3zM1214 754h3v5h-3z" fill="#0096de" shape-rendering="crispEdges"/>
<path d="M1079 654h3v5h-3zM1082 519h3v5h-3zM1085 544h3v5h-3zM1091 539h3v5h-3zM1094 564h3v5h-3zM1133 634h3v5h-3zM1157 769h3v5h-3zM1178 744h3v5h-3zM1214 669h3v5h-3zM1220 699h3v5h-3zM1226 754h3v5h-3zM1229 669h3v5h-3zM1229 729h3v5h-3zM1235 684h3v5h-3zM1241 659h3v5h-3zM1241 739h3v5h-3zM1244 669h3v5h-3zM1244 709h3v5h-3zM1253 639h3v5h-3zM1253 724h3v5h-3zM1256 684h3v10h-3zM1259 659h3v5h-3zM1259 714h3v5h-3zM1265 654h3v5h-3zM1301 799h3v5h-3zM1313 739h3v5h-3zM1349 744h3v5h-3zM1367 534h3v5h-3zM1373 614h3v5h-3zM1385 534h3v5h-3zM1388 529h3v5h-3zM1394 594h3v5h-3z" fill="#00a87e" shape-rendering="crispEdges"/>
<path d="M1079 659h3v5h-3zM1085 524h3v5h-3zM1085 669h3v5h-3zM1088 514h3v5h-3zM1094 654h3v5h-3zM1115 614h3v5h-3zM1118 609h3v5h-3zM1118 649h3v5h-3zM1121 629h3v5h-3zM1127 614h3v5h-3zM1133 614h3v5h-3zM1133 649h3v5h-3zM1160 779h3v5h-3zM1166 734h3v5h-3zM1211 794h3v5h-3zM1214 649h3v5h-3zM1217 754h3v5h-3zM1220 774h3v5h-3zM1226 684h3v5h-3zM1226 774h3v5h-3zM1238 664h3v5h-3zM1238 734h3v5h-3zM1241 639h3v5h-3zM1241 749h3v5h-3zM1244 644h3v5h-3zM1250 674h3v5h-3zM1250 699h3v5h-3zM1253 734h3v5h-3zM1259 724h3v5h-3zM1277 704h3v5h-3zM1286 784h3v5h-3zM1289 774h3v5h-3zM1298 759h3v5h-3zM1301 744h3v5h-3zM1304 759h3v5h-3zM1313 789h3v5h-3zM1316 689h3v25h-3zM1319 719h3v5h-3zM1325 684h3v5h-3zM1325 729h3v5h-3zM1328 684h3v5h-3zM1328 729h3v5h-3zM1331 769h3v5h-3zM1337 769h3v5h-3zM1346 689h3v10h-3zM1346 734h3v10h-3zM1349 784h3v5h-3zM1355 699h3v10h-3zM1355 724h3v10h-3zM1358 679h3v5h-3zM1358 764h3v5h-3zM1370 599h3v5h-3zM1373 664h3v5h-3zM1379 534h3v5h-3zM1382 599h3v5h-3zM1385 589h3v5h-3zM1394 634h3v5h-3zM1397 619h3v5h-3z" fill="#009c12" shape-rendering="crispEdges"/>
<path d="M1079 674h3v5h-3zM1088 694h3v5h-3zM1091 689h3v5h-3zM1094 664h3v5h-3zM1100 689h3v5h-3zM1103 669h3v5h-3zM1109 674h3v5h-3zM1112 774h3v5h-3zM1115 579h3v5h-3zM1115 674h3v5h-3zM1118 574h3v5h-3zM1118 679h3v5h-3zM1121 589h3v5h-3zM1121 664h3v5h-3zM1124 559h3v5h-3zM1127 669h3v5h-3zM1130 609h3v5h-3zM1133 669h3v5h-3zM1136 514h3v5h-3zM1136 589h3v55h-3zM1136 789h3v27h-3zM1151 709h3v35h-3zM1154 744h3v5h-3zM1157 634h3v5h-3zM1160 704h3v10h-3zM1163 684h3v5h-3zM1166 684h3v10h-3zM1169 724h3v5h-3zM1175 649h3v5h-3zM1181 664h3v5h-3zM1193 659h3v5h-3zM1196 649h3v5h-3zM1202 649h3v5h-3zM1205 654h3v5h-3zM1208 654h3v5h-3zM1211 629h3v5h-3zM1217 514h3v5h-3zM1217 789h3v5h-3zM1220 534h3v5h-3zM1220 809h3v7h-3zM1223 514h3v5h-3zM1223 679h3v5h-3zM1223 789h3v5h-3zM1226 534h3v5h-3zM1226 809h3v5h-3zM1229 764h3v5h-3zM1232 594h3v5h-3zM1235 619h3v5h-3zM1235 759h3v5h-3zM1238 629h3v5h-3zM1238 754h3v5h-3zM1244 739h3v5h-3zM1247 629h3v5h-3zM1247 734h3v5h-3zM1250 634h3v5h-3zM1253 609h3v5h-3zM1262 619h3v5h-3zM1262 744h3v5h-3zM1268 569h3v5h-3zM1268 604h3v5h-3zM1268 669h3v5h-3zM1268 754h3v5h-3zM1268 769h3v5h-3zM1271 714h3v5h-3zM1274 684h3v5h-3zM1274 739h3v5h-3zM1274 784h3v5h-3zM1277 619h3v5h-3zM1277 659h3v5h-3zM1280 584h3v5h-3zM1280 594h3v5h-3zM1280 684h3v5h-3zM1280 744h3v5h-3zM1280 784h3v5h-3zM1283 599h3v5h-3zM1283 749h3v5h-3zM1286 699h3v5h-3zM1289 694h3v5h-3zM1292 744h3v10h-3zM1295 759h3v10h-3zM1301 669h3v5h-3zM1304 684h3v5h-3zM1307 724h3v10h-3zM1310 684h3v5h-3zM1316 799h3v10h-3zM1319 664h3v5h-3zM1319 804h3v12h-3zM1322 794h3v10h-3zM1334 784h3v5h-3zM1337 639h3v5h-3zM1340 689h3v5h-3zM1340 734h3v15h-3zM1343 679h3v5h-3zM1343 764h3v10h-3zM1346 659h3v5h-3zM1352 759h3v10h-3zM1355 664h3v5h-3zM1358 639h3v10h-3zM1364 764h3v5h-3zM1370 669h3v5h-3zM1379 654h3v10h-3zM1382 669h3v5h-3zM1385 669h3v5h-3zM1388 609h3v5h-3zM1391 604h3v5h-3zM1400 689h3v5h-3zM1406 614h3v5h-3zM1406 684h3v5h-3zM1412 634h3v15h-3zM1436 589h3v10h-3zM1436 769h3v40h-3z" fill="#00c600" shape-rendering="crispEdges"/>
<path d="M1079 704h3v5h-3zM1091 784h3v5h-3zM1109 804h3v5h-3zM1181 534h3v10h-3zM1199 539h3v5h-3zM1208 529h3v5h-3zM1250 544h3v5h-3zM1322 514h3v30h-3zM1340 519h3v5h-3zM1340 559h3v5h-3zM1391 789h3v27h-3z" fill="#fcba00" shape-rendering="crispEdges"/>
<path d="M1079 779h3v5h-3z" fill="#cc7e7e" shape-rendering="crispEdges"/>
<path d="M1079 799h3v5h-3zM1085 779h3v5h-3z" fill="#cc0c0c" shape-rendering="crispEdges"/>
<path d="M1082 549h3v5h-3zM1094 579h3v5h-3zM1172 769h3v5h-3zM1175 769h3v5h-3zM1178 784h3v10h-3zM1181 744h3v5h-3zM1190 704h3v5h-3zM1232 674h3v5h-3zM1232 724h3v5h-3zM1253 679h3v5h-3zM1253 699h3v5h-3zM1379 514h3v5h-3z" fill="#00a8ae" shape-rendering="crispEdges"/>
<path d="M1082 579h3v5h-3zM1085 589h3v5h-3zM1088 584h3v5h-3zM1112 639h3v5h-3z" fill="#0024de" shape-rendering="crispEdges"/>
<path d="M1082 584h3v5h-3zM1085 609h3v5h-3zM1097 579h3v5h-3z" fill="#0000d2" shape-rendering="crispEdges"/>
<path d="M1082 589h3v5h-3zM1088 614h3v25h-3zM1097 639h3v5h-3z" fill="#0000ba" shape-rendering="crispEdges"/>
<path d="M1082 594h3v5h-3zM1112 629h3v5h-3zM1394 514h3v5h-3z" fill="#0000b4" shape-rendering="crispEdges"/>
<path d="M1082 599h3v5h-3zM1082 639h3v5h-3zM1097 589h3v5h-3z" fill="#0000ae" shape-rendering="crispEdges"/>
<path d="M1082 604h3v5h-3zM1097 599h3v5h-3zM1097 629h3v5h-3z" fill="#0c00a8" shape-rendering="crispEdges"/>
<path d="M1082 609h3v5h-3zM1097 604h3v5h-3zM1097 624h3v5h-3zM1112 624h3v5h-3z" fill="#1800a8" shape-rendering="crispEdges"/>
<path d="M1082 614h3v25h-3zM1097 609h3v5h-3zM1097 619h3v5h-3z" fill="#2400a8" shape-rendering="crispEdges"/>
<path d="M1082 644h3v5h-3zM1085 599h3v5h-3zM1085 639h3v5h-3zM1100 599h3v5h-3zM1100 624h3v5h-3z" fill="#0000de" shape-rendering="crispEdges"/>
<path d="M1082 649h3v5h-3zM1085 644h3v5h-3zM1091 594h3v10h-3zM1091 629h3v10h-3zM1097 539h3v25h-3zM1109 574h3v10h-3zM1109 594h3v10h-3zM1112 799h3v5h-3zM1184 814h3v2h-3zM1190 759h3v35h-3zM1385 519h3v5h-3zM1388 514h3v5h-3z" fill="#0078de" shape-rendering="crispEdges"/>
<path d="M1082 684h3v5h-3zM1085 539h3v5h-3zM1088 529h3v5h-3zM1127 629h3v5h-3zM1133 629h3v5h-3zM1163 789h3v27h-3zM1172 729h3v5h-3zM1178 739h3v5h-3zM1187 684h3v5h-3zM1214 664h3v5h-3zM1217 734h3v10h-3zM1220 694h3v5h-3zM1220 759h3v5h-3zM1226 694h3v5h-3zM1229 664h3v5h-3zM1235 724h3v5h-3zM1241 654h3v5h-3zM1244 714h3v5h-3zM1247 684h3v5h-3zM1247 694h3v5h-3zM1256 679h3v5h-3zM1256 699h3v5h-3zM1265 649h3v5h-3zM1265 719h3v5h-3zM1298 789h3v27h-3zM1301 769h3v5h-3zM1301 804h3v5h-3zM1304 789h3v5h-3zM1310 789h3v5h-3zM1313 749h3v5h-3zM1331 729h3v5h-3zM1337 699h3v10h-3zM1337 724h3v10h-3zM1349 754h3v5h-3zM1358 704h3v20h-3zM1370 534h3v5h-3zM1373 629h3v5h-3zM1382 534h3v5h-3zM1391 529h3v5h-3z" fill="#00a866" shape-rendering="crispEdges"/>
<path d="M1082 714h3v5h-3zM1091 729h3v5h-3zM1139 759h3v5h-3zM1145 684h3v5h-3zM1166 534h3v10h-3zM1169 564h3v5h-3zM1169 609h3v5h-3zM1181 629h3v5h-3zM1184 579h3v5h-3zM1184 594h3v5h-3zM1187 559h3v5h-3zM1187 569h3v5h-3zM1187 604h3v5h-3zM1190 529h3v5h-3zM1190 544h3v5h-3zM1193 614h3v5h-3zM1196 569h3v5h-3zM1199 589h3v5h-3zM1202 569h3v5h-3zM1205 594h3v5h-3zM1208 599h3v5h-3zM1217 589h3v5h-3zM1223 639h3v5h-3zM1238 534h3v5h-3zM1238 544h3v5h-3zM1250 579h3v5h-3zM1250 799h3v5h-3zM1265 559h3v5h-3zM1292 654h3v5h-3zM1295 604h3v5h-3zM1313 554h3v5h-3zM1340 609h3v5h-3zM1343 594h3v5h-3zM1355 569h3v5h-3zM1358 534h3v10h-3zM1367 799h3v5h-3zM1370 789h3v5h-3zM1376 794h3v5h-3zM1382 789h3v5h-3zM1385 779h3v5h-3zM1406 544h3v5h-3z" fill="#e4f000" shape-rendering="crispEdges"/>
<path d="M1082 719h3v5h-3zM1085 709h3v5h-3zM1091 804h3v5h-3zM1100 734h3v5h-3zM1103 714h3v5h-3zM1109 719h3v5h-3zM1139 664h3v5h-3zM1142 674h3v5h-3zM1142 749h3v5h-3zM1145 739h3v5h-3zM1148 684h3v5h-3zM1169 559h3v5h-3zM1169 569h3v10h-3zM1169 604h3v5h-3zM1184 554h3v5h-3zM1184 584h3v10h-3zM1187 574h3v10h-3zM1187 594h3v10h-3zM1190 534h3v10h-3zM1193 559h3v15h-3zM1193 604h3v10h-3zM1196 564h3v5h-3zM1199 579h3v10h-3zM1202 564h3v5h-3zM1205 584h3v10h-3zM1208 589h3v10h-3zM1211 594h3v5h-3zM1217 594h3v10h-3zM1217 629h3v10h-3zM1223 589h3v5h-3zM1223 634h3v5h-3zM1238 539h3v5h-3zM1250 784h3v5h-3zM1250 794h3v5h-3zM1253 519h3v10h-3zM1256 569h3v5h-3zM1259 564h3v5h-3zM1262 554h3v10h-3zM1265 549h3v10h-3zM1292 609h3v5h-3zM1295 659h3v5h-3zM1313 544h3v10h-3zM1316 614h3v5h-3zM1319 614h3v5h-3zM1325 609h3v5h-3zM1328 609h3v5h-3zM1331 564h3v30h-3zM1334 579h3v5h-3zM1340 604h3v5h-3zM1343 589h3v5h-3zM1346 514h3v5h-3zM1346 559h3v10h-3zM1352 594h3v5h-3zM1355 564h3v5h-3zM1367 804h3v10h-3zM1370 794h3v10h-3zM1376 799h3v10h-3zM1379 779h3v5h-3zM1382 794h3v10h-3zM1388 759h3v5h-3zM1391 754h3v5h-3zM1403 554h3v5h-3zM1403 779h3v5h-3zM1409 784h3v5h-3z" fill="#eaf000" shape-rendering="crispEdges"/>
<path d="M1082 724h3v5h-3zM1094 724h3v5h-3zM1097 744h3v5h-3zM1106 704h3v5h-3zM1112 719h3v5h-3zM1145 689h3v50h-3zM1151 634h3v35h-3zM1169 579h3v5h-3zM1169 599h3v5h-3zM1181 624h3v5h-3zM1184 549h3v5h-3zM1187 554h3v5h-3zM1187 584h3v10h-3zM1193 574h3v5h-3zM1193 599h3v5h-3zM1196 559h3v5h-3zM1199 574h3v5h-3zM1202 559h3v5h-3zM1205 579h3v5h-3zM1208 584h3v5h-3zM1217 604h3v5h-3zM1217 624h3v5h-3zM1223 594h3v5h-3zM1223 629h3v5h-3zM1244 564h3v5h-3zM1247 569h3v5h-3zM1250 789h3v5h-3zM1259 559h3v5h-3zM1262 549h3v5h-3zM1265 544h3v5h-3zM1274 554h3v50h-3zM1292 649h3v5h-3zM1295 654h3v5h-3zM1313 514h3v30h-3zM1322 614h3v5h-3zM1331 559h3v5h-3zM1334 574h3v5h-3zM1346 519h3v5h-3zM1346 554h3v5h-3zM1355 514h3v5h-3zM1355 559h3v5h-3zM1367 814h3v2h-3zM1376 809h3v5h-3zM1382 804h3v5h-3zM1385 784h3v5h-3zM1391 759h3v5h-3zM1397 629h3v75h-3zM1409 789h3v5h-3z" fill="#f0f000" shape-rendering="crispEdges"/>
<path d="M1082 739h3v5h-3zM1088 729h3v5h-3zM1091 734h3v5h-3zM1091 794h3v5h-3zM1097 749h3v5h-3zM1103 724h3v5h-3zM1109 729h3v5h-3zM1109 809h3v5h-3zM1139 749h3v5h-3zM1142 684h3v5h-3zM1169 529h3v5h-3zM1169 544h3v5h-3zM1181 574h3v10h-3zM1181 594h3v10h-3zM1193 529h3v10h-3zM1196 519h3v10h-3zM1196 544h3v5h-3zM1202 519h3v10h-3zM1202 544h3v5h-3zM1205 554h3v5h-3zM1208 554h3v5h-3zM1244 529h3v10h-3zM1247 554h3v10h-3zM1256 544h3v10h-3zM1259 524h3v5h-3zM1262 519h3v5h-3zM1295 634h3v10h-3zM1316 594h3v5h-3zM1319 589h3v5h-3zM1322 594h3v5h-3zM1325 554h3v10h-3zM1328 554h3v35h-3zM1334 529h3v10h-3zM1334 544h3v10h-3zM1340 579h3v5h-3zM1343 564h3v5h-3zM1352 569h3v5h-3zM1379 804h3v10h-3zM1391 774h3v5h-3zM1400 529h3v5h-3zM1403 809h3v7h-3zM1406 534h3v5h-3zM1409 544h3v5h-3z" fill="#fcd800" shape-rendering="crispEdges"/>
<path d="M1082 744h3v5h-3zM1085 739h3v5h-3zM1091 749h3v5h-3zM1091 774h3v5h-3zM1094 734h3v5h-3zM1094 794h3v5h-3zM1106 724h3v5h-3zM1106 814h3v2h-3zM1139 739h3v5h-3zM1211 574h3v5h-3zM1250 529h3v5h-3zM1340 539h3v5h-3zM1406 514h3v5h-3zM1409 534h3v5h-3z" fill="#fca800" shape-rendering="crispEdges"/>
<path d="M1082 764h3v5h-3zM1085 799h3v5h-3zM1088 804h3v5h-3z" fill="#cc3c3c" shape-rendering="crispEdges"/>
<path d="M1082 769h3v5h-3zM1085 794h3v5h-3zM1088 774h3v5h-3zM1088 799h3v5h-3zM1097 784h3v10h-3zM1100 774h3v5h-3zM1100 799h3v5h-3z" fill="#cc0000" shape-rendering="crispEdges"/>
<path d="M1082 814h3v2h-3z" fill="#cc4e4e" shape-rendering="crispEdges"/>
<path d="M1085 514h3v5h-3zM1085 684h3v5h-3zM1088 689h3v5h-3zM1091 664h3v5h-3zM1094 534h3v5h-3zM1103 659h3v5h-3zM1106 654h3v5h-3zM1115 604h3v5h-3zM1115 654h3v5h-3zM1118 599h3v5h-3zM1121 614h3v5h-3zM1127 604h3v5h-3zM1130 634h3v10h-3zM1133 604h3v5h-3zM1133 654h3v5h-3zM1151 764h3v5h-3zM1154 774h3v5h-3zM1157 704h3v35h-3zM1160 759h3v5h-3zM1163 749h3v5h-3zM1166 724h3v5h-3zM1169 754h3v5h-3zM1172 694h3v5h-3zM1175 694h3v5h-3zM1178 709h3v5h-3zM1187 669h3v5h-3zM1199 664h3v5h-3zM1211 644h3v5h-3zM1211 804h3v5h-3zM1214 639h3v5h-3zM1214 814h3v2h-3zM1217 764h3v5h-3zM1220 784h3v5h-3zM1223 689h3v5h-3zM1223 764h3v5h-3zM1226 784h3v5h-3zM1232 764h3v5h-3zM1235 644h3v5h-3zM1238 654h3v5h-3zM1241 629h3v5h-3zM1241 754h3v5h-3zM1247 644h3v5h-3zM1253 624h3v5h-3zM1253 739h3v5h-3zM1259 634h3v5h-3zM1259 729h3v5h-3zM1268 704h3v20h-3zM1277 584h3v5h-3zM1277 684h3v5h-3zM1277 784h3v5h-3zM1286 764h3v5h-3zM1289 749h3v10h-3zM1298 709h3v5h-3zM1301 719h3v10h-3zM1304 744h3v5h-3zM1307 774h3v5h-3zM1307 799h3v10h-3zM1310 744h3v5h-3zM1313 814h3v2h-3zM1316 734h3v10h-3zM1319 679h3v5h-3zM1319 744h3v10h-3zM1322 729h3v10h-3zM1325 754h3v10h-3zM1328 754h3v10h-3zM1331 794h3v10h-3zM1334 694h3v40h-3zM1337 784h3v32h-3zM1346 679h3v5h-3zM1346 759h3v10h-3zM1349 664h3v5h-3zM1355 754h3v10h-3zM1361 744h3v5h-3zM1367 639h3v10h-3zM1370 619h3v20h-3zM1373 669h3v5h-3zM1376 629h3v15h-3zM1379 589h3v10h-3zM1382 619h3v20h-3zM1385 609h3v5h-3zM1391 534h3v5h-3zM1400 654h3v15h-3z" fill="#00a200" shape-rendering="crispEdges"/>
<path d="M1085 534h3v5h-3zM1088 524h3v5h-3zM1088 669h3v5h-3zM1115 629h3v5h-3zM1133 624h3v5h-3zM1166 744h3v5h-3zM1169 784h3v5h-3zM1169 794h3v5h-3zM1181 699h3v5h-3zM1184 679h3v5h-3zM1193 684h3v5h-3zM1205 679h3v5h-3zM1208 679h3v5h-3zM1214 659h3v5h-3zM1217 719h3v5h-3zM1217 744h3v5h-3zM1220 764h3v5h-3zM1223 729h3v5h-3zM1226 764h3v5h-3zM1235 734h3v5h-3zM1238 719h3v5h-3zM1241 649h3v5h-3zM1241 744h3v5h-3zM1244 654h3v5h-3zM1247 669h3v5h-3zM1247 704h3v5h-3zM1253 729h3v5h-3zM1256 664h3v5h-3zM1259 649h3v5h-3zM1259 719h3v5h-3zM1265 644h3v5h-3zM1304 799h3v5h-3zM1310 799h3v5h-3zM1313 674h3v5h-3zM1313 764h3v5h-3zM1331 679h3v5h-3zM1331 744h3v5h-3zM1337 744h3v5h-3zM1349 679h3v5h-3zM1358 744h3v5h-3zM1367 589h3v5h-3zM1373 649h3v5h-3zM1376 539h3v50h-3z" fill="#00a248" shape-rendering="crispEdges"/>
<path d="M1085 584h3v5h-3zM1190 804h3v5h-3z" fill="#0054de" shape-rendering="crispEdges"/>
<path d="M1085 594h3v5h-3zM1097 574h3v5h-3zM1100 589h3v5h-3zM1100 634h3v5h-3zM1394 519h3v5h-3z" fill="#0012de" shape-rendering="crispEdges"/>
<path d="M1085 704h3v5h-3zM1130 689h3v25h-3zM1145 749h3v5h-3zM1154 579h3v5h-3zM1160 554h3v5h-3zM1166 579h3v5h-3zM1166 599h3v5h-3zM1169 634h3v5h-3zM1172 534h3v5h-3zM1175 534h3v10h-3zM1178 549h3v5h-3zM1190 614h3v5h-3zM1196 614h3v5h-3zM1202 614h3v5h-3zM1214 599h3v5h-3zM1217 569h3v5h-3zM1226 639h3v5h-3zM1229 529h3v5h-3zM1229 559h3v5h-3zM1241 539h3v5h-3zM1256 774h3v5h-3zM1259 789h3v5h-3zM1262 574h3v5h-3zM1286 659h3v5h-3zM1289 609h3v5h-3zM1292 669h3v5h-3zM1298 619h3v5h-3zM1298 644h3v5h-3zM1304 609h3v10h-3zM1307 629h3v5h-3zM1310 609h3v10h-3zM1313 609h3v5h-3zM1328 624h3v5h-3zM1334 609h3v5h-3zM1349 564h3v5h-3zM1352 619h3v5h-3zM1355 594h3v5h-3zM1367 774h3v5h-3zM1370 769h3v5h-3zM1373 799h3v5h-3zM1379 744h3v5h-3zM1382 769h3v5h-3zM1385 759h3v5h-3zM1388 694h3v5h-3zM1391 689h3v5h-3zM1394 779h3v5h-3zM1397 774h3v5h-3zM1400 794h3v5h-3zM1409 764h3v5h-3zM1421 519h3v5h-3zM1421 579h3v5h-3zM1433 594h3v5h-3zM1433 769h3v10h-3zM1433 799h3v10h-3zM1463 574h3v5h-3zM1466 514h3v55h-3z" fill="#aefc00" shape-rendering="crispEdges"/>
<path d="M1085 714h3v5h-3zM1088 734h3v5h-3zM1094 729h3v5h-3zM1103 814h3v2h-3zM1106 714h3v5h-3zM1112 724h3v5h-3zM1139 674h3v5h-3zM1142 739h3v5h-3zM1181 554h3v5h-3zM1181 584h3v10h-3zM1193 539h3v5h-3zM1199 549h3v5h-3zM1247 549h3v5h-3zM1256 539h3v5h-3zM1259 519h3v5h-3zM1316 589h3v5h-3zM1319 559h3v30h-3zM1325 549h3v5h-3zM1328 549h3v5h-3zM1334 539h3v5h-3zM1343 514h3v5h-3zM1379 814h3v2h-3zM1388 779h3v5h-3z" fill="#fcd200" shape-rendering="crispEdges"/>
<path d="M1085 719h3v10h-3zM1091 789h3v5h-3zM1094 804h3v5h-3zM1109 734h3v5h-3zM1112 754h3v5h-3zM1142 689h3v50h-3zM1169 534h3v10h-3zM1181 519h3v5h-3zM1181 549h3v5h-3zM1196 529h3v15h-3zM1199 519h3v10h-3zM1199 544h3v5h-3zM1202 529h3v15h-3zM1205 519h3v5h-3zM1205 549h3v5h-3zM1208 549h3v5h-3zM1211 584h3v5h-3zM1214 579h3v5h-3zM1244 519h3v10h-3zM1247 534h3v15h-3zM1250 564h3v5h-3zM1256 529h3v10h-3zM1316 554h3v35h-3zM1319 544h3v15h-3zM1322 559h3v35h-3zM1325 514h3v35h-3zM1328 514h3v35h-3zM1340 569h3v10h-3zM1343 519h3v15h-3zM1343 549h3v15h-3zM1352 514h3v10h-3zM1352 554h3v15h-3zM1361 544h3v5h-3zM1388 784h3v5h-3zM1391 779h3v5h-3zM1400 524h3v5h-3zM1403 544h3v5h-3zM1406 529h3v5h-3z" fill="#fccc00" shape-rendering="crispEdges"/>
<path d="M1085 729h3v5h-3zM1100 744h3v5h-3zM1103 729h3v5h-3zM1181 524h3v5h-3zM1208 519h3v5h-3zM1250 559h3v5h-3zM1316 549h3v5h-3zM1319 539h3v5h-3zM1322 554h3v5h-3zM1343 534h3v5h-3zM1343 544h3v5h-3zM1352 524h3v5h-3zM1352 549h3v5h-3zM1364 544h3v5h-3z" fill="#fcc600" shape-rendering="crispEdges"/>
<path d="M1085 734h3v5h-3zM1088 739h3v5h-3zM1091 739h3v5h-3zM1094 799h3v5h-3zM1103 809h3v5h-3zM1106 719h3v5h-3zM1139 679h3v5h-3zM1139 744h3v5h-3zM1181 529h3v5h-3zM1181 544h3v5h-3zM1199 529h3v10h-3zM1205 524h3v10h-3zM1205 544h3v5h-3zM1208 524h3v5h-3zM1208 544h3v5h-3zM1211 579h3v5h-3zM1247 524h3v10h-3zM1250 549h3v10h-3zM1256 519h3v10h-3zM1316 514h3v35h-3zM1319 514h3v25h-3zM1322 544h3v10h-3zM1340 514h3v5h-3zM1340 564h3v5h-3zM1343 539h3v5h-3zM1352 529h3v20h-3zM1388 789h3v27h-3zM1391 784h3v5h-3zM1400 519h3v5h-3zM1406 524h3v5h-3zM1409 539h3v5h-3z" fill="#fcc000" shape-rendering="crispEdges"/>
<path d="M1085 769h3v5h-3zM1088 764h3v5h-3z" fill="#ccaeae" shape-rendering="crispEdges"/>
<path d="M1085 774h3v5h-3zM1088 769h3v5h-3zM1100 779h3v5h-3zM1100 794h3v5h-3z" fill="#cc5a5a" shape-rendering="crispEdges"/>
<path d="M1088 579h3v5h-3zM1091 604h3v5h-3zM1091 619h3v5h-3zM1100 579h3v5h-3zM1190 799h3v5h-3z" fill="#0066de" shape-rendering="crispEdges"/>
<path d="M1088 644h3v5h-3zM1097 569h3v5h-3z" fill="#0042de" shape-rendering="crispEdges"/>
<path d="M1088 674h3v5h-3zM1091 529h3v5h-3zM1094 554h3v5h-3zM1106 649h3v5h-3zM1118 619h3v5h-3zM1118 644h3v5h-3zM1124 644h3v5h-3zM1157 754h3v5h-3zM1163 774h3v5h-3zM1169 779h3v5h-3zM1169 799h3v5h-3zM1175 719h3v5h-3zM1187 679h3v5h-3zM1211 664h3v5h-3zM1214 794h3v5h-3zM1217 714h3v5h-3zM1223 724h3v5h-3zM1223 744h3v5h-3zM1232 629h3v5h-3zM1232 754h3v5h-3zM1235 664h3v5h-3zM1238 679h3v5h-3zM1247 664h3v5h-3zM1247 709h3v5h-3zM1256 714h3v5h-3zM1262 644h3v5h-3zM1289 789h3v27h-3zM1298 774h3v5h-3zM1301 759h3v5h-3zM1304 774h3v5h-3zM1310 774h3v5h-3zM1313 769h3v5h-3zM1331 749h3v5h-3zM1337 684h3v5h-3zM1337 749h3v5h-3zM1349 769h3v5h-3zM1358 749h3v5h-3zM1367 594h3v5h-3zM1373 654h3v5h-3zM1376 589h3v5h-3zM1382 539h3v50h-3zM1394 614h3v5h-3zM1397 604h3v5h-3z" fill="#00a23c" shape-rendering="crispEdges"/>
<path d="M1088 699h3v5h-3zM1091 714h3v5h-3zM1094 694h3v5h-3zM1109 689h3v5h-3zM1115 554h3v5h-3zM1115 699h3v5h-3zM1115 739h3v10h-3zM1115 774h3v5h-3zM1115 799h3v5h-3zM1118 524h3v5h-3zM1118 549h3v5h-3zM1118 704h3v5h-3zM1118 729h3v10h-3zM1118 779h3v5h-3zM1118 794h3v5h-3zM1121 514h3v5h-3zM1121 689h3v5h-3zM1121 759h3v10h-3zM1121 809h3v5h-3zM1124 729h3v5h-3zM1124 759h3v5h-3zM1124 804h3v5h-3zM1127 524h3v5h-3zM1127 544h3v5h-3zM1130 559h3v5h-3zM1133 524h3v5h-3zM1133 544h3v5h-3zM1133 684h3v5h-3zM1133 724h3v5h-3zM1133 764h3v5h-3zM1136 659h3v5h-3zM1145 544h3v10h-3zM1145 569h3v5h-3zM1145 769h3v5h-3zM1148 534h3v10h-3zM1148 574h3v5h-3zM1148 774h3v5h-3zM1154 669h3v5h-3zM1157 544h3v5h-3zM1157 584h3v5h-3zM1160 629h3v5h-3zM1163 609h3v10h-3zM1166 644h3v5h-3zM1169 684h3v10h-3zM1172 624h3v5h-3zM1175 624h3v5h-3zM1178 634h3v5h-3zM1181 654h3v5h-3zM1193 649h3v5h-3zM1217 669h3v5h-3zM1223 539h3v5h-3zM1226 554h3v5h-3zM1235 599h3v5h-3zM1235 784h3v5h-3zM1238 604h3v5h-3zM1238 774h3v5h-3zM1244 754h3v5h-3zM1247 614h3v5h-3zM1253 584h3v5h-3zM1253 769h3v5h-3zM1256 614h3v5h-3zM1256 749h3v5h-3zM1262 599h3v5h-3zM1265 594h3v5h-3zM1265 759h3v5h-3zM1268 634h3v5h-3zM1268 644h3v5h-3zM1271 604h3v5h-3zM1271 754h3v5h-3zM1274 619h3v5h-3zM1274 659h3v5h-3zM1280 619h3v5h-3zM1280 654h3v5h-3zM1283 649h3v5h-3zM1286 559h3v15h-3zM1286 679h3v5h-3zM1289 544h3v10h-3zM1289 579h3v5h-3zM1292 689h3v5h-3zM1295 694h3v5h-3zM1301 534h3v15h-3zM1301 574h3v5h-3zM1301 639h3v5h-3zM1304 514h3v5h-3zM1304 559h3v10h-3zM1304 649h3v5h-3zM1307 669h3v5h-3zM1310 514h3v5h-3zM1310 559h3v10h-3zM1310 649h3v5h-3zM1316 649h3v5h-3zM1322 649h3v5h-3zM1325 644h3v5h-3zM1328 644h3v5h-3zM1331 634h3v5h-3zM1334 639h3v5h-3zM1337 619h3v5h-3zM1343 654h3v5h-3zM1346 629h3v5h-3zM1352 659h3v5h-3zM1355 629h3v5h-3zM1358 619h3v5h-3zM1361 779h3v5h-3zM1361 804h3v5h-3zM1364 569h3v5h-3zM1364 779h3v5h-3zM1364 804h3v5h-3zM1373 754h3v10h-3zM1376 684h3v5h-3zM1391 669h3v5h-3zM1394 739h3v5h-3zM1397 704h3v5h-3zM1400 569h3v5h-3zM1400 744h3v10h-3zM1403 619h3v5h-3zM1403 679h3v5h-3zM1406 574h3v5h-3zM1406 734h3v10h-3zM1409 614h3v5h-3zM1409 689h3v5h-3zM1412 539h3v25h-3zM1418 529h3v10h-3zM1418 569h3v10h-3zM1424 599h3v10h-3zM1424 679h3v50h-3zM1424 754h3v20h-3zM1424 809h3v7h-3zM1427 534h3v35h-3zM1430 604h3v10h-3zM1430 669h3v20h-3zM1430 719h3v20h-3zM1430 744h3v20h-3zM1439 584h3v40h-3zM1439 659h3v40h-3zM1439 734h3v40h-3zM1439 809h3v7h-3zM1442 624h3v35h-3zM1442 699h3v35h-3zM1442 774h3v35h-3zM1451 584h3v35h-3zM1451 659h3v35h-3zM1451 734h3v35h-3zM1451 809h3v7h-3zM1469 569h3v10h-3zM1481 629h3v25h-3zM1481 704h3v25h-3zM1481 779h3v25h-3zM1484 514h3v60h-3zM1487 514h3v60h-3zM1496 579h1v40h-1zM1496 664h1v30h-1zM1496 739h1v30h-1zM1496 814h1v2h-1z" fill="#00ea00" shape-rendering="crispEdges"/>
<path d="M1088 704h3v5h-3zM1094 714h3v5h-3zM1106 684h3v5h-3zM1130 759h3v5h-3zM1139 514h3v5h-3zM1139 589h3v50h-3zM1139 789h3v27h-3zM1142 559h3v10h-3zM1142 654h3v5h-3zM1142 764h3v5h-3zM1145 754h3v5h-3zM1151 584h3v5h-3zM1154 594h3v5h-3zM1160 544h3v5h-3zM1163 554h3v5h-3zM1166 619h3v5h-3zM1172 519h3v5h-3zM1175 519h3v5h-3zM1175 549h3v5h-3zM1178 559h3v5h-3zM1178 574h3v5h-3zM1178 599h3v5h-3zM1187 639h3v5h-3zM1205 629h3v5h-3zM1208 629h3v5h-3zM1238 584h3v5h-3zM1241 564h3v5h-3zM1244 584h3v5h-3zM1259 774h3v5h-3zM1262 779h3v5h-3zM1262 804h3v5h-3zM1265 799h3v5h-3zM1271 629h3v5h-3zM1289 664h3v5h-3zM1292 514h3v30h-3zM1295 554h3v5h-3zM1295 574h3v5h-3zM1304 594h3v5h-3zM1304 624h3v5h-3zM1307 534h3v5h-3zM1307 544h3v5h-3zM1307 639h3v5h-3zM1310 594h3v5h-3zM1310 624h3v5h-3zM1322 634h3v5h-3zM1325 629h3v5h-3zM1334 619h3v5h-3zM1337 589h3v5h-3zM1340 634h3v5h-3zM1349 579h3v5h-3zM1355 609h3v5h-3zM1367 764h3v5h-3zM1370 754h3v5h-3zM1376 759h3v5h-3zM1379 694h3v5h-3zM1382 754h3v5h-3zM1385 744h3v5h-3zM1400 779h3v5h-3zM1403 724h3v5h-3zM1409 574h3v5h-3zM1409 739h3v5h-3zM1415 529h3v5h-3zM1415 574h3v5h-3zM1421 609h3v5h-3zM1421 664h3v10h-3zM1421 729h3v20h-3zM1433 634h3v15h-3zM1466 624h3v10h-3zM1466 649h3v10h-3zM1466 699h3v10h-3zM1466 724h3v10h-3zM1466 774h3v10h-3zM1466 799h3v10h-3zM1475 514h3v50h-3zM1493 574h3v5h-3z" fill="#5afc00" shape-rendering="crispEdges"/>
<path d="M1088 709h3v5h-3zM1100 729h3v5h-3zM1136 739h3v5h-3zM1148 679h3v5h-3zM1154 564h3v5h-3zM1166 544h3v5h-3zM1181 634h3v5h-3zM1184 564h3v5h-3zM1184 609h3v5h-3zM1187 614h3v5h-3zM1190 519h3v5h-3zM1190 549h3v5h-3zM1193 619h3v5h-3zM1196 579h3v5h-3zM1199 604h3v5h-3zM1202 579h3v5h-3zM1205 609h3v5h-3zM1214 594h3v5h-3zM1235 539h3v5h-3zM1238 529h3v5h-3zM1238 559h3v5h-3zM1247 789h3v5h-3zM1250 774h3v5h-3zM1253 539h3v5h-3zM1256 574h3v5h-3zM1265 564h3v5h-3zM1286 624h3v5h-3zM1292 604h3v5h-3zM1313 589h3v5h-3zM1316 619h3v5h-3zM1331 599h3v5h-3zM1334 589h3v5h-3zM1337 524h3v5h-3zM1337 549h3v5h-3zM1340 614h3v5h-3zM1352 604h3v5h-3zM1358 524h3v5h-3zM1358 554h3v5h-3zM1376 784h3v5h-3zM1385 774h3v5h-3zM1388 749h3v5h-3zM1391 744h3v5h-3zM1397 789h3v27h-3zM1400 544h3v5h-3z" fill="#d8f600" shape-rendering="crispEdges"/>
<path d="M1088 714h3v5h-3zM1103 719h3v5h-3zM1109 814h3v2h-3zM1112 759h3v5h-3zM1142 744h3v5h-3zM1184 529h3v5h-3zM1187 524h3v5h-3zM1199 559h3v5h-3zM1208 564h3v5h-3zM1244 549h3v5h-3zM1256 564h3v5h-3zM1259 539h3v5h-3zM1262 534h3v5h-3zM1265 529h3v5h-3zM1292 629h3v5h-3zM1295 614h3v5h-3zM1316 604h3v5h-3zM1331 514h3v30h-3zM1334 564h3v5h-3zM1355 534h3v10h-3zM1388 769h3v5h-3zM1403 794h3v5h-3z" fill="#f6e400" shape-rendering="crispEdges"/>
<path d="M1088 719h3v5h-3zM1094 809h3v5h-3zM1100 739h3v5h-3zM1106 709h3v5h-3zM1139 669h3v5h-3zM1169 519h3v5h-3zM1169 549h3v5h-3zM1181 564h3v5h-3zM1181 609h3v10h-3zM1184 534h3v10h-3zM1187 529h3v5h-3zM1187 544h3v5h-3zM1193 519h3v10h-3zM1193 549h3v5h-3zM1196 549h3v5h-3zM1202 549h3v5h-3zM1205 559h3v5h-3zM1208 559h3v5h-3zM1211 589h3v5h-3zM1244 539h3v10h-3zM1247 564h3v5h-3zM1256 559h3v5h-3zM1259 534h3v5h-3zM1262 529h3v5h-3zM1265 524h3v5h-3zM1292 634h3v10h-3zM1295 619h3v10h-3zM1295 644h3v5h-3zM1316 599h3v5h-3zM1319 599h3v5h-3zM1322 604h3v5h-3zM1325 594h3v5h-3zM1328 594h3v5h-3zM1334 514h3v10h-3zM1334 559h3v5h-3zM1340 589h3v5h-3zM1343 574h3v5h-3zM1352 579h3v5h-3zM1379 789h3v10h-3zM1391 769h3v5h-3zM1400 534h3v5h-3zM1403 549h3v5h-3zM1403 799h3v5h-3zM1409 809h3v7h-3z" fill="#f6de00" shape-rendering="crispEdges"/>
<path d="M1088 724h3v5h-3zM1169 524h3v5h-3zM1181 559h3v5h-3zM1181 569h3v5h-3zM1181 604h3v5h-3zM1187 534h3v10h-3zM1193 544h3v5h-3zM1199 554h3v5h-3zM1214 584h3v5h-3zM1250 569h3v5h-3zM1256 554h3v5h-3zM1259 529h3v5h-3zM1262 524h3v5h-3zM1265 519h3v5h-3zM1295 629h3v5h-3zM1319 594h3v5h-3zM1322 599h3v5h-3zM1325 564h3v30h-3zM1328 589h3v5h-3zM1334 524h3v5h-3zM1334 554h3v5h-3zM1340 584h3v5h-3zM1343 569h3v5h-3zM1352 574h3v5h-3zM1379 799h3v5h-3zM1388 774h3v5h-3zM1403 804h3v5h-3z" fill="#f6d800" shape-rendering="crispEdges"/>
<path d="M1088 744h3v5h-3zM1097 759h3v5h-3zM1103 749h3v5h-3zM1109 759h3v5h-3zM1214 564h3v5h-3zM1361 534h3v5h-3zM1409 524h3v5h-3z" fill="#fc7800" shape-rendering="crispEdges"/>
<path d="M1088 814h3v2h-3zM1100 784h3v5h-3z" fill="#ccbaba" shape-rendering="crispEdges"/>
<path d="M1091 589h3v5h-3zM1097 534h3v5h-3zM1100 574h3v5h-3zM1100 644h3v5h-3zM1109 569h3v5h-3zM1109 604h3v10h-3zM1184 804h3v10h-3zM1187 809h3v7h-3zM1190 754h3v5h-3zM1373 514h3v5h-3zM1391 514h3v5h-3zM1394 524h3v5h-3z" fill="#007ede" shape-rendering="crispEdges"/>
<path d="M1091 609h3v10h-3z" fill="#0060de" shape-rendering="crispEdges"/>
<path d="M1091 669h3v5h-3zM1109 664h3v5h-3zM1115 599h3v5h-3zM1118 594h3v5h-3zM1118 659h3v5h-3zM1121 609h3v5h-3zM1121 649h3v5h-3zM1124 604h3v5h-3zM1124 654h3v5h-3zM1127 599h3v5h-3zM1130 629h3v5h-3zM1133 599h3v5h-3zM1151 759h3v5h-3zM1154 769h3v5h-3zM1157 694h3v10h-3zM1166 719h3v5h-3zM1169 749h3v5h-3zM1172 684h3v10h-3zM1175 684h3v10h-3zM1178 704h3v5h-3zM1181 679h3v5h-3zM1184 664h3v5h-3zM1190 659h3v5h-3zM1193 669h3v5h-3zM1196 659h3v5h-3zM1202 659h3v5h-3zM1205 664h3v5h-3zM1208 664h3v5h-3zM1211 809h3v5h-3zM1217 769h3v5h-3zM1220 514h3v5h-3zM1220 679h3v5h-3zM1220 789h3v5h-3zM1226 514h3v5h-3zM1226 679h3v5h-3zM1226 789h3v5h-3zM1229 634h3v5h-3zM1232 609h3v5h-3zM1232 769h3v5h-3zM1235 639h3v5h-3zM1235 749h3v5h-3zM1238 649h3v5h-3zM1238 744h3v5h-3zM1241 624h3v5h-3zM1244 634h3v5h-3zM1244 729h3v5h-3zM1247 639h3v5h-3zM1247 724h3v5h-3zM1250 654h3v5h-3zM1256 639h3v5h-3zM1256 724h3v5h-3zM1262 629h3v5h-3zM1265 629h3v5h-3zM1265 734h3v5h-3zM1268 694h3v10h-3zM1268 724h3v10h-3zM1277 579h3v5h-3zM1277 594h3v5h-3zM1277 679h3v5h-3zM1277 744h3v5h-3zM1277 779h3v5h-3zM1283 709h3v10h-3zM1286 754h3v10h-3zM1289 739h3v10h-3zM1292 789h3v27h-3zM1301 709h3v10h-3zM1304 734h3v10h-3zM1307 764h3v10h-3zM1307 809h3v5h-3zM1310 734h3v10h-3zM1313 659h3v5h-3zM1316 679h3v5h-3zM1316 744h3v10h-3zM1319 754h3v10h-3zM1322 679h3v5h-3zM1322 739h3v10h-3zM1325 674h3v5h-3zM1325 764h3v10h-3zM1328 674h3v5h-3zM1328 764h3v10h-3zM1331 664h3v5h-3zM1331 804h3v10h-3zM1334 689h3v5h-3zM1334 734h3v15h-3zM1337 669h3v5h-3zM1346 769h3v5h-3zM1349 659h3v5h-3zM1355 679h3v5h-3zM1355 764h3v10h-3zM1358 669h3v5h-3zM1361 584h3v5h-3zM1364 744h3v5h-3zM1367 649h3v10h-3zM1370 639h3v10h-3zM1376 644h3v10h-3zM1379 599h3v5h-3zM1382 639h3v10h-3zM1385 614h3v10h-3zM1394 669h3v5h-3zM1400 669h3v5h-3zM1406 639h3v30h-3z" fill="#00a800" shape-rendering="crispEdges"/>
<path d="M1091 719h3v5h-3zM1109 699h3v5h-3zM1112 694h3v5h-3zM1115 539h3v5h-3zM1121 529h3v5h-3zM1121 719h3v5h-3zM1121 789h3v5h-3zM1124 789h3v5h-3zM1130 549h3v5h-3zM1130 734h3v5h-3zM1130 744h3v5h-3zM1136 669h3v5h-3zM1142 544h3v5h-3zM1148 759h3v5h-3zM1151 594h3v5h-3zM1154 609h3v5h-3zM1160 514h3v25h-3zM1160 589h3v5h-3zM1166 624h3v5h-3zM1172 584h3v10h-3zM1175 554h3v5h-3zM1175 589h3v5h-3zM1178 614h3v5h-3zM1220 649h3v5h-3zM1223 554h3v5h-3zM1232 539h3v5h-3zM1238 589h3v5h-3zM1241 519h3v5h-3zM1241 569h3v5h-3zM1244 764h3v5h-3zM1250 609h3v5h-3zM1253 574h3v5h-3zM1256 594h3v5h-3zM1259 584h3v5h-3zM1259 769h3v5h-3zM1271 624h3v5h-3zM1286 669h3v5h-3zM1292 554h3v5h-3zM1292 574h3v5h-3zM1298 604h3v5h-3zM1301 599h3v5h-3zM1304 589h3v5h-3zM1304 629h3v5h-3zM1307 519h3v5h-3zM1307 559h3v10h-3zM1310 629h3v5h-3zM1319 634h3v5h-3zM1331 624h3v5h-3zM1340 639h3v5h-3zM1346 614h3v5h-3zM1358 599h3v5h-3zM1367 749h3v5h-3zM1370 714h3v30h-3zM1376 744h3v5h-3zM1382 739h3v5h-3zM1385 714h3v25h-3zM1391 679h3v5h-3zM1397 759h3v5h-3zM1400 774h3v5h-3zM1403 589h3v5h-3zM1406 559h3v5h-3zM1409 724h3v5h-3zM1415 514h3v5h-3zM1415 589h3v5h-3zM1415 784h3v10h-3zM1421 634h3v10h-3zM1445 514h3v55h-3zM1457 514h3v55h-3zM1460 514h3v55h-3zM1475 574h3v5h-3zM1478 514h3v50h-3zM1490 514h3v55h-3zM1493 589h3v30h-3zM1493 659h3v35h-3zM1493 749h3v20h-3zM1493 809h3v7h-3z" fill="#2afc00" shape-rendering="crispEdges"/>
<path d="M1091 754h3v5h-3zM1103 739h3v5h-3zM1103 804h3v5h-3zM1109 749h3v5h-3zM1214 569h3v5h-3zM1250 524h3v5h-3zM1361 539h3v5h-3z" fill="#fca200" shape-rendering="crispEdges"/>
<path d="M1091 759h3v5h-3zM1094 789h3v5h-3zM1097 814h3v2h-3zM1103 744h3v5h-3zM1106 729h3v5h-3z" fill="#fc9000" shape-rendering="crispEdges"/>
<path d="M1091 764h3v5h-3zM1106 809h3v5h-3zM1112 744h3v5h-3zM1211 569h3v5h-3zM1403 529h3v5h-3z" fill="#fc8400" shape-rendering="crispEdges"/>
<path d="M1091 769h3v5h-3zM1100 749h3v5h-3zM1109 754h3v5h-3zM1109 799h3v5h-3zM1139 689h3v50h-3zM1250 519h3v5h-3zM1364 539h3v5h-3zM1403 534h3v5h-3zM1409 529h3v5h-3z" fill="#fc9c00" shape-rendering="crispEdges"/>
<path d="M1091 809h3v5h-3zM1103 709h3v5h-3zM1109 714h3v5h-3zM1112 764h3v5h-3zM1136 684h3v5h-3zM1139 559h3v10h-3zM1139 654h3v5h-3zM1139 764h3v5h-3zM1142 669h3v5h-3zM1145 679h3v5h-3zM1145 744h3v5h-3zM1154 559h3v5h-3zM1166 524h3v5h-3zM1169 619h3v5h-3zM1178 539h3v5h-3zM1184 614h3v5h-3zM1187 619h3v5h-3zM1190 554h3v5h-3zM1190 584h3v10h-3zM1193 624h3v5h-3zM1196 584h3v10h-3zM1199 609h3v5h-3zM1202 584h3v10h-3zM1205 614h3v5h-3zM1208 614h3v5h-3zM1217 579h3v5h-3zM1217 644h3v5h-3zM1223 579h3v5h-3zM1223 644h3v5h-3zM1226 609h3v10h-3zM1235 534h3v5h-3zM1235 544h3v10h-3zM1238 524h3v5h-3zM1238 564h3v5h-3zM1247 784h3v5h-3zM1247 794h3v5h-3zM1253 544h3v5h-3zM1256 789h3v5h-3zM1259 569h3v5h-3zM1286 614h3v10h-3zM1286 644h3v5h-3zM1289 629h3v15h-3zM1295 599h3v5h-3zM1307 604h3v5h-3zM1307 619h3v5h-3zM1313 594h3v5h-3zM1319 619h3v5h-3zM1331 604h3v5h-3zM1334 594h3v5h-3zM1337 514h3v10h-3zM1337 554h3v10h-3zM1343 604h3v5h-3zM1346 574h3v5h-3zM1352 609h3v5h-3zM1355 579h3v5h-3zM1358 514h3v10h-3zM1358 559h3v10h-3zM1361 554h3v5h-3zM1364 554h3v5h-3zM1367 784h3v5h-3zM1370 779h3v5h-3zM1379 769h3v5h-3zM1382 779h3v5h-3zM1388 744h3v5h-3zM1391 739h3v5h-3zM1397 784h3v5h-3zM1403 559h3v5h-3zM1403 769h3v5h-3zM1406 809h3v7h-3zM1409 774h3v5h-3zM1433 534h3v35h-3z" fill="#d2f600" shape-rendering="crispEdges"/>
<path d="M1091 814h3v2h-3zM1094 719h3v5h-3zM1100 724h3v5h-3zM1106 694h3v5h-3zM1112 714h3v5h-3zM1127 684h3v115h-3zM1130 784h3v10h-3zM1139 544h3v10h-3zM1139 569h3v5h-3zM1139 769h3v5h-3zM1148 674h3v5h-3zM1148 749h3v5h-3zM1151 559h3v10h-3zM1154 554h3v5h-3zM1154 574h3v5h-3zM1160 564h3v5h-3zM1178 529h3v5h-3zM1178 544h3v5h-3zM1181 639h3v5h-3zM1184 619h3v5h-3zM1187 624h3v5h-3zM1190 559h3v5h-3zM1190 569h3v10h-3zM1190 599h3v10h-3zM1193 629h3v5h-3zM1196 599h3v10h-3zM1202 599h3v10h-3zM1208 619h3v5h-3zM1211 599h3v5h-3zM1217 574h3v5h-3zM1220 599h3v10h-3zM1220 619h3v10h-3zM1223 574h3v5h-3zM1223 649h3v5h-3zM1226 594h3v10h-3zM1226 624h3v10h-3zM1229 534h3v15h-3zM1235 529h3v5h-3zM1235 559h3v5h-3zM1238 519h3v5h-3zM1238 569h3v5h-3zM1244 574h3v5h-3zM1247 579h3v5h-3zM1247 779h3v5h-3zM1247 804h3v5h-3zM1250 764h3v5h-3zM1253 554h3v10h-3zM1256 579h3v5h-3zM1256 779h3v5h-3zM1256 799h3v5h-3zM1265 569h3v5h-3zM1286 609h3v5h-3zM1289 614h3v10h-3zM1292 599h3v5h-3zM1295 594h3v5h-3zM1295 669h3v5h-3zM1298 634h3v10h-3zM1307 594h3v5h-3zM1307 624h3v5h-3zM1313 599h3v5h-3zM1316 624h3v5h-3zM1322 624h3v5h-3zM1331 609h3v5h-3zM1334 599h3v5h-3zM1337 569h3v5h-3zM1346 584h3v5h-3zM1349 524h3v10h-3zM1349 544h3v10h-3zM1352 614h3v5h-3zM1355 584h3v5h-3zM1358 569h3v5h-3zM1367 779h3v5h-3zM1370 774h3v5h-3zM1379 759h3v10h-3zM1382 774h3v5h-3zM1388 709h3v35h-3zM1391 699h3v10h-3zM1394 784h3v5h-3zM1397 779h3v5h-3zM1400 589h3v65h-3zM1400 809h3v7h-3zM1403 764h3v5h-3zM1406 549h3v5h-3zM1406 794h3v10h-3zM1409 559h3v5h-3zM1409 769h3v5h-3zM1421 534h3v35h-3zM1433 519h3v10h-3zM1433 574h3v10h-3zM1463 514h3v50h-3zM1484 629h3v80h-3z" fill="#c6fc00" shape-rendering="crispEdges"/>
<path d="M1094 514h3v5h-3zM1106 659h3v5h-3zM1115 669h3v5h-3zM1118 674h3v5h-3zM1124 664h3v5h-3zM1127 559h3v5h-3zM1133 559h3v5h-3zM1154 749h3v5h-3zM1157 639h3v30h-3zM1160 714h3v30h-3zM1163 689h3v10h-3zM1166 694h3v5h-3zM1169 729h3v5h-3zM1172 654h3v5h-3zM1175 654h3v5h-3zM1178 664h3v10h-3zM1199 654h3v5h-3zM1217 679h3v5h-3zM1223 784h3v5h-3zM1226 529h3v5h-3zM1226 804h3v5h-3zM1229 614h3v5h-3zM1232 784h3v32h-3zM1235 624h3v5h-3zM1241 609h3v5h-3zM1241 769h3v5h-3zM1244 624h3v5h-3zM1256 629h3v5h-3zM1256 734h3v5h-3zM1259 739h3v5h-3zM1265 619h3v5h-3zM1265 744h3v5h-3zM1268 574h3v5h-3zM1268 674h3v5h-3zM1268 774h3v5h-3zM1274 689h3v10h-3zM1274 734h3v5h-3zM1274 789h3v27h-3zM1277 514h3v50h-3zM1277 614h3v5h-3zM1280 589h3v5h-3zM1280 739h3v5h-3zM1280 789h3v27h-3zM1283 579h3v5h-3zM1283 594h3v5h-3zM1283 679h3v5h-3zM1283 744h3v5h-3zM1283 779h3v5h-3zM1286 704h3v5h-3zM1289 699h3v5h-3zM1292 754h3v10h-3zM1295 769h3v5h-3zM1298 689h3v5h-3zM1301 674h3v5h-3zM1304 689h3v10h-3zM1307 734h3v10h-3zM1310 689h3v10h-3zM1313 649h3v5h-3zM1316 789h3v10h-3zM1319 794h3v10h-3zM1322 669h3v5h-3zM1322 784h3v10h-3zM1325 664h3v5h-3zM1325 809h3v7h-3zM1328 664h3v5h-3zM1328 804h3v12h-3zM1331 654h3v5h-3zM1334 674h3v5h-3zM1334 774h3v10h-3zM1337 644h3v5h-3zM1340 694h3v40h-3zM1343 759h3v5h-3zM1346 664h3v5h-3zM1349 634h3v5h-3zM1352 684h3v5h-3zM1352 749h3v10h-3zM1358 649h3v5h-3zM1361 579h3v5h-3zM1361 764h3v5h-3zM1364 579h3v5h-3zM1367 669h3v5h-3zM1376 669h3v5h-3zM1379 644h3v10h-3zM1388 604h3v5h-3zM1391 594h3v10h-3zM1394 679h3v5h-3zM1400 684h3v5h-3zM1406 619h3v5h-3zM1406 679h3v5h-3zM1436 599h3v10h-3zM1436 674h3v55h-3zM1436 749h3v20h-3zM1436 809h3v7h-3z" fill="#00c000" shape-rendering="crispEdges"/>
<path d="M1094 709h3v5h-3zM1106 679h3v5h-3zM1121 549h3v5h-3zM1121 729h3v5h-3zM1121 794h3v5h-3zM1133 789h3v5h-3zM1136 754h3v5h-3zM1142 534h3v5h-3zM1142 574h3v5h-3zM1142 774h3v5h-3zM1148 659h3v5h-3zM1151 604h3v5h-3zM1154 619h3v5h-3zM1157 559h3v5h-3zM1160 599h3v5h-3zM1163 544h3v5h-3zM1172 559h3v5h-3zM1172 574h3v5h-3zM1172 599h3v5h-3zM1175 579h3v5h-3zM1175 599h3v5h-3zM1181 649h3v5h-3zM1193 644h3v5h-3zM1211 609h3v5h-3zM1220 569h3v5h-3zM1229 579h3v5h-3zM1232 534h3v5h-3zM1232 549h3v5h-3zM1244 589h3v5h-3zM1253 789h3v5h-3zM1262 769h3v5h-3zM1271 654h3v5h-3zM1274 634h3v5h-3zM1280 639h3v5h-3zM1292 564h3v5h-3zM1298 664h3v5h-3zM1301 594h3v5h-3zM1301 624h3v5h-3zM1304 584h3v5h-3zM1307 649h3v5h-3zM1322 639h3v5h-3zM1325 634h3v5h-3zM1328 634h3v5h-3zM1358 604h3v5h-3zM1361 789h3v5h-3zM1364 789h3v5h-3zM1370 704h3v5h-3zM1373 774h3v5h-3zM1376 709h3v5h-3zM1382 704h3v5h-3zM1385 704h3v5h-3zM1397 754h3v5h-3zM1403 704h3v5h-3zM1409 714h3v5h-3zM1415 599h3v5h-3zM1415 764h3v10h-3zM1415 804h3v10h-3zM1430 534h3v35h-3zM1445 574h3v5h-3zM1448 564h3v5h-3zM1454 564h3v5h-3zM1457 574h3v5h-3zM1460 574h3v5h-3zM1472 569h3v5h-3zM1475 584h3v30h-3zM1475 664h3v25h-3zM1475 739h3v25h-3zM1475 814h3v2h-3zM1478 569h3v5h-3zM1490 574h3v5h-3zM1493 629h3v20h-3zM1493 704h3v10h-3zM1493 779h3v20h-3z" fill="#0cfc00" shape-rendering="crispEdges"/>
<path d="M1097 614h3v5h-3z" fill="#3000a2" shape-rendering="crispEdges"/>
<path d="M1097 644h3v5h-3zM1100 594h3v5h-3zM1100 629h3v5h-3zM1385 514h3v5h-3z" fill="#000cde" shape-rendering="crispEdges"/>
<path d="M1097 719h3v5h-3zM1100 704h3v5h-3zM1103 684h3v5h-3zM1106 674h3v5h-3zM1115 524h3v5h-3zM1115 704h3v5h-3zM1115 734h3v5h-3zM1115 779h3v5h-3zM1118 529h3v5h-3zM1118 709h3v5h-3zM1118 719h3v10h-3zM1118 784h3v5h-3zM1121 559h3v5h-3zM1121 694h3v5h-3zM1121 749h3v10h-3zM1121 769h3v5h-3zM1121 804h3v5h-3zM1124 524h3v5h-3zM1124 544h3v5h-3zM1124 684h3v5h-3zM1124 724h3v5h-3zM1124 764h3v5h-3zM1127 529h3v5h-3zM1127 799h3v5h-3zM1130 669h3v5h-3zM1133 529h3v5h-3zM1133 719h3v5h-3zM1133 769h3v5h-3zM1133 799h3v5h-3zM1136 759h3v5h-3zM1142 514h3v5h-3zM1142 589h3v55h-3zM1142 789h3v27h-3zM1145 554h3v15h-3zM1145 654h3v5h-3zM1145 764h3v5h-3zM1148 544h3v10h-3zM1148 569h3v5h-3zM1148 649h3v5h-3zM1148 769h3v5h-3zM1151 629h3v5h-3zM1154 639h3v30h-3zM1157 579h3v5h-3zM1160 624h3v5h-3zM1163 599h3v10h-3zM1166 639h3v5h-3zM1169 674h3v10h-3zM1172 619h3v5h-3zM1175 619h3v5h-3zM1178 629h3v5h-3zM1211 614h3v5h-3zM1217 544h3v5h-3zM1220 559h3v5h-3zM1220 659h3v5h-3zM1223 669h3v5h-3zM1226 559h3v5h-3zM1229 589h3v5h-3zM1232 519h3v5h-3zM1232 569h3v5h-3zM1235 594h3v5h-3zM1235 789h3v27h-3zM1238 779h3v5h-3zM1241 584h3v5h-3zM1244 604h3v5h-3zM1247 749h3v5h-3zM1250 619h3v5h-3zM1250 744h3v5h-3zM1253 774h3v5h-3zM1256 609h3v5h-3zM1259 599h3v5h-3zM1262 594h3v5h-3zM1262 759h3v5h-3zM1268 639h3v5h-3zM1271 569h3v5h-3zM1271 609h3v5h-3zM1271 669h3v5h-3zM1271 759h3v5h-3zM1271 769h3v5h-3zM1274 654h3v5h-3zM1280 624h3v5h-3zM1280 649h3v5h-3zM1283 629h3v5h-3zM1283 644h3v5h-3zM1286 549h3v10h-3zM1286 574h3v10h-3zM1289 514h3v30h-3zM1289 584h3v10h-3zM1289 674h3v5h-3zM1298 594h3v5h-3zM1301 579h3v5h-3zM1301 634h3v5h-3zM1304 519h3v10h-3zM1304 549h3v10h-3zM1304 569h3v5h-3zM1304 644h3v5h-3zM1307 664h3v5h-3zM1310 519h3v10h-3zM1310 549h3v10h-3zM1310 569h3v5h-3zM1310 644h3v5h-3zM1313 629h3v5h-3zM1319 644h3v5h-3zM1334 634h3v5h-3zM1340 664h3v5h-3zM1343 649h3v5h-3zM1346 624h3v5h-3zM1349 609h3v5h-3zM1352 654h3v5h-3zM1361 799h3v5h-3zM1367 689h3v5h-3zM1370 684h3v5h-3zM1373 764h3v5h-3zM1382 684h3v5h-3zM1385 684h3v5h-3zM1394 744h3v5h-3zM1397 709h3v35h-3zM1400 564h3v5h-3zM1400 754h3v10h-3zM1403 614h3v5h-3zM1403 684h3v5h-3zM1406 569h3v5h-3zM1406 744h3v10h-3zM1409 604h3v10h-3zM1409 694h3v5h-3zM1418 539h3v30h-3zM1424 589h3v10h-3zM1424 774h3v35h-3zM1430 594h3v10h-3zM1430 689h3v30h-3zM1430 764h3v20h-3zM1430 799h3v17h-3zM1439 574h3v10h-3zM1442 584h3v40h-3zM1442 659h3v40h-3zM1442 734h3v40h-3zM1442 809h3v7h-3zM1445 639h3v5h-3zM1445 714h3v5h-3zM1445 789h3v5h-3zM1448 624h3v30h-3zM1448 699h3v30h-3zM1448 774h3v30h-3zM1451 574h3v10h-3zM1454 624h3v30h-3zM1454 699h3v30h-3zM1454 774h3v30h-3zM1469 514h3v55h-3zM1472 629h3v20h-3zM1472 704h3v20h-3zM1472 779h3v20h-3zM1478 634h3v10h-3zM1478 709h3v10h-3zM1478 784h3v10h-3zM1481 584h3v45h-3zM1481 654h3v50h-3zM1481 729h3v50h-3zM1481 804h3v12h-3zM1496 574h1v5h-1z" fill="#00f000" shape-rendering="crispEdges"/>
<path d="M1097 729h3v5h-3zM1112 699h3v5h-3zM1130 519h3v5h-3zM1130 729h3v5h-3zM1130 754h3v5h-3zM1142 554h3v5h-3zM1148 664h3v5h-3zM1151 539h3v5h-3zM1154 599h3v5h-3zM1160 584h3v5h-3zM1163 574h3v5h-3zM1178 569h3v5h-3zM1178 604h3v5h-3zM1190 629h3v5h-3zM1217 559h3v5h-3zM1217 659h3v5h-3zM1226 574h3v5h-3zM1235 579h3v5h-3zM1241 524h3v5h-3zM1244 769h3v5h-3zM1250 604h3v5h-3zM1250 754h3v5h-3zM1256 589h3v5h-3zM1265 579h3v5h-3zM1265 779h3v5h-3zM1292 544h3v5h-3zM1292 584h3v5h-3zM1295 559h3v5h-3zM1295 569h3v5h-3zM1295 679h3v5h-3zM1298 659h3v5h-3zM1301 604h3v5h-3zM1307 529h3v5h-3zM1307 549h3v5h-3zM1307 569h3v5h-3zM1316 634h3v5h-3zM1346 609h3v5h-3zM1352 629h3v5h-3zM1358 594h3v5h-3zM1367 759h3v5h-3zM1370 749h3v5h-3zM1376 754h3v5h-3zM1379 689h3v5h-3zM1382 749h3v5h-3zM1394 769h3v5h-3zM1397 764h3v5h-3zM1403 584h3v5h-3zM1403 719h3v5h-3zM1403 739h3v20h-3zM1406 774h3v5h-3zM1409 734h3v5h-3zM1415 524h3v5h-3zM1415 579h3v5h-3zM1421 614h3v10h-3zM1421 654h3v10h-3zM1466 634h3v15h-3zM1466 709h3v15h-3zM1466 784h3v15h-3zM1475 564h3v5h-3zM1493 579h3v5h-3z" fill="#48fc00" shape-rendering="crispEdges"/>
<path d="M1097 734h3v5h-3zM1100 719h3v5h-3zM1112 709h3v5h-3zM1130 529h3v5h-3zM1130 799h3v5h-3zM1139 524h3v5h-3zM1139 579h3v5h-3zM1139 779h3v5h-3zM1142 659h3v5h-3zM1148 669h3v5h-3zM1151 549h3v5h-3zM1160 574h3v5h-3zM1163 564h3v5h-3zM1166 569h3v5h-3zM1166 609h3v5h-3zM1172 529h3v5h-3zM1172 544h3v5h-3zM1175 529h3v5h-3zM1187 634h3v5h-3zM1190 619h3v5h-3zM1205 624h3v5h-3zM1208 624h3v5h-3zM1217 654h3v5h-3zM1223 564h3v5h-3zM1229 524h3v5h-3zM1229 564h3v5h-3zM1241 534h3v5h-3zM1241 549h3v5h-3zM1244 804h3v5h-3zM1250 759h3v5h-3zM1256 584h3v5h-3zM1262 789h3v5h-3zM1265 574h3v5h-3zM1295 589h3v5h-3zM1295 674h3v5h-3zM1298 649h3v5h-3zM1304 604h3v5h-3zM1310 604h3v5h-3zM1316 629h3v5h-3zM1334 614h3v5h-3zM1340 629h3v5h-3zM1349 569h3v5h-3zM1355 599h3v5h-3zM1379 709h3v30h-3zM1385 754h3v5h-3zM1409 564h3v5h-3zM1409 759h3v5h-3zM1421 589h3v5h-3zM1421 779h3v20h-3zM1433 604h3v5h-3zM1433 679h3v10h-3zM1433 719h3v10h-3zM1433 754h3v10h-3zM1463 584h3v30h-3zM1463 664h3v25h-3zM1463 739h3v25h-3zM1463 814h3v2h-3zM1466 574h3v5h-3z" fill="#90fc00" shape-rendering="crispEdges"/>
<path d="M1097 739h3v5h-3zM1139 554h3v5h-3zM1142 754h3v5h-3zM1154 569h3v5h-3zM1166 519h3v5h-3zM1166 549h3v5h-3zM1169 624h3v5h-3zM1178 534h3v5h-3zM1190 579h3v5h-3zM1190 594h3v5h-3zM1196 594h3v5h-3zM1199 614h3v5h-3zM1202 594h3v5h-3zM1220 609h3v10h-3zM1226 604h3v5h-3zM1226 619h3v5h-3zM1235 554h3v5h-3zM1247 799h3v5h-3zM1250 584h3v5h-3zM1250 769h3v5h-3zM1253 549h3v5h-3zM1256 784h3v5h-3zM1256 794h3v5h-3zM1262 569h3v5h-3zM1286 649h3v5h-3zM1289 624h3v5h-3zM1289 644h3v5h-3zM1292 664h3v5h-3zM1307 599h3v5h-3zM1325 619h3v5h-3zM1328 619h3v5h-3zM1337 564h3v5h-3zM1340 619h3v5h-3zM1343 609h3v5h-3zM1346 579h3v5h-3zM1349 534h3v10h-3zM1376 779h3v5h-3zM1385 769h3v5h-3zM1391 709h3v30h-3zM1394 789h3v27h-3zM1406 804h3v5h-3zM1433 529h3v5h-3zM1433 569h3v5h-3z" fill="#ccfc00" shape-rendering="crispEdges"/>
<path d="M1100 714h3v5h-3zM1103 694h3v5h-3zM1121 544h3v5h-3zM1121 714h3v5h-3zM1130 679h3v5h-3zM1130 749h3v5h-3zM1130 809h3v5h-3zM1142 549h3v5h-3zM1142 569h3v5h-3zM1142 769h3v5h-3zM1151 514h3v25h-3zM1151 589h3v5h-3zM1154 604h3v5h-3zM1160 539h3v5h-3zM1163 549h3v5h-3zM1169 649h3v5h-3zM1172 554h3v5h-3zM1178 564h3v5h-3zM1178 609h3v5h-3zM1184 639h3v5h-3zM1196 624h3v5h-3zM1199 629h3v5h-3zM1202 624h3v5h-3zM1214 604h3v5h-3zM1220 574h3v5h-3zM1226 649h3v5h-3zM1229 514h3v5h-3zM1229 574h3v5h-3zM1247 594h3v5h-3zM1247 759h3v5h-3zM1262 774h3v5h-3zM1265 804h3v5h-3zM1271 649h3v5h-3zM1289 599h3v5h-3zM1292 549h3v5h-3zM1292 579h3v5h-3zM1295 564h3v5h-3zM1301 619h3v5h-3zM1307 524h3v5h-3zM1307 554h3v5h-3zM1307 644h3v5h-3zM1310 589h3v5h-3zM1313 619h3v5h-3zM1337 594h3v5h-3zM1343 629h3v5h-3zM1349 584h3v5h-3zM1355 614h3v5h-3zM1367 754h3v5h-3zM1370 744h3v5h-3zM1373 779h3v5h-3zM1376 749h3v5h-3zM1382 744h3v5h-3zM1385 739h3v5h-3zM1403 714h3v5h-3zM1409 579h3v5h-3zM1409 729h3v5h-3zM1415 519h3v5h-3zM1415 584h3v5h-3zM1421 624h3v10h-3zM1421 644h3v10h-3zM1475 569h3v5h-3zM1493 584h3v5h-3z" fill="#3cfc00" shape-rendering="crispEdges"/>
<path d="M1103 699h3v5h-3zM1109 704h3v5h-3zM1130 684h3v5h-3zM1130 719h3v5h-3zM1130 769h3v5h-3zM1148 754h3v5h-3zM1151 579h3v5h-3zM1154 584h3v5h-3zM1160 549h3v5h-3zM1163 559h3v5h-3zM1166 564h3v5h-3zM1169 639h3v5h-3zM1175 544h3v5h-3zM1178 554h3v5h-3zM1181 644h3v5h-3zM1193 639h3v5h-3zM1217 564h3v5h-3zM1238 579h3v5h-3zM1241 554h3v5h-3zM1256 769h3v5h-3zM1259 799h3v5h-3zM1262 784h3v5h-3zM1262 794h3v5h-3zM1265 789h3v5h-3zM1271 639h3v5h-3zM1289 659h3v5h-3zM1295 514h3v30h-3zM1295 584h3v5h-3zM1304 619h3v5h-3zM1307 579h3v5h-3zM1307 634h3v5h-3zM1310 619h3v5h-3zM1313 614h3v5h-3zM1319 629h3v5h-3zM1337 584h3v5h-3zM1346 599h3v5h-3zM1352 624h3v5h-3zM1358 584h3v5h-3zM1364 559h3v5h-3zM1367 769h3v5h-3zM1370 764h3v5h-3zM1373 789h3v5h-3zM1382 764h3v5h-3zM1391 684h3v5h-3zM1394 774h3v5h-3zM1400 784h3v5h-3zM1403 574h3v5h-3zM1406 554h3v5h-3zM1409 754h3v5h-3zM1421 594h3v5h-3zM1421 769h3v10h-3zM1421 799h3v10h-3zM1433 609h3v5h-3zM1433 669h3v10h-3zM1433 729h3v10h-3zM1433 744h3v10h-3zM1463 614h3v10h-3zM1463 654h3v10h-3zM1463 689h3v10h-3zM1463 729h3v10h-3zM1463 764h3v10h-3zM1463 804h3v10h-3zM1466 579h3v5h-3z" fill="#84fc00" shape-rendering="crispEdges"/>
<path d="M1106 689h3v5h-3zM1130 714h3v5h-3zM1130 774h3v5h-3zM1139 529h3v5h-3zM1139 644h3v5h-3zM1142 759h3v5h-3zM1151 574h3v5h-3zM1154 544h3v5h-3zM1166 559h3v5h-3zM1166 574h3v5h-3zM1166 604h3v5h-3zM1178 519h3v5h-3zM1184 629h3v5h-3zM1220 584h3v5h-3zM1220 639h3v5h-3zM1223 654h3v5h-3zM1226 584h3v5h-3zM1235 519h3v5h-3zM1235 569h3v5h-3zM1241 544h3v5h-3zM1244 579h3v5h-3zM1244 779h3v5h-3zM1244 799h3v5h-3zM1247 584h3v5h-3zM1247 769h3v5h-3zM1250 594h3v5h-3zM1259 784h3v5h-3zM1259 794h3v5h-3zM1286 604h3v5h-3zM1289 654h3v5h-3zM1292 594h3v5h-3zM1298 614h3v5h-3zM1307 584h3v5h-3zM1322 629h3v5h-3zM1325 624h3v5h-3zM1337 579h3v5h-3zM1343 619h3v5h-3zM1346 594h3v5h-3zM1358 579h3v5h-3zM1373 794h3v5h-3zM1376 769h3v5h-3zM1379 739h3v5h-3zM1388 689h3v5h-3zM1400 789h3v5h-3zM1403 569h3v5h-3zM1406 784h3v5h-3zM1421 514h3v5h-3zM1421 584h3v5h-3zM1433 599h3v5h-3zM1433 689h3v30h-3zM1433 764h3v5h-3zM1433 809h3v7h-3zM1463 579h3v5h-3zM1466 569h3v5h-3z" fill="#a2fc00" shape-rendering="crispEdges"/>
<path d="M1106 699h3v5h-3zM1136 689h3v50h-3zM1139 659h3v5h-3zM1148 744h3v5h-3zM1166 529h3v5h-3zM1184 559h3v5h-3zM1184 569h3v5h-3zM1184 604h3v5h-3zM1187 564h3v5h-3zM1196 574h3v5h-3zM1199 599h3v5h-3zM1205 604h3v5h-3zM1208 609h3v5h-3zM1217 584h3v5h-3zM1238 554h3v5h-3zM1244 569h3v5h-3zM1247 574h3v5h-3zM1253 534h3v5h-3zM1286 629h3v5h-3zM1292 659h3v5h-3zM1295 664h3v5h-3zM1307 609h3v5h-3zM1313 564h3v25h-3zM1322 619h3v5h-3zM1337 529h3v5h-3zM1337 544h3v5h-3zM1343 599h3v5h-3zM1355 574h3v5h-3zM1358 549h3v5h-3zM1367 789h3v5h-3zM1370 784h3v5h-3zM1382 784h3v5h-3zM1403 774h3v5h-3zM1409 779h3v5h-3z" fill="#def600" shape-rendering="crispEdges"/>
<path d="M1109 744h3v5h-3zM1112 729h3v5h-3zM1112 749h3v5h-3zM1139 684h3v5h-3zM1250 534h3v5h-3zM1340 534h3v5h-3zM1340 544h3v5h-3zM1400 514h3v5h-3z" fill="#fcae00" shape-rendering="crispEdges"/>
<path d="M1112 514h3v5h-3z" fill="#000000" shape-rendering="crispEdges"/>
<path d="M1112 519h3v5h-3z" fill="#1e001e" shape-rendering="crispEdges"/>
<path d="M1112 524h3v5h-3z" fill="#420048" shape-rendering="crispEdges"/>
<path d="M1112 614h3v5h-3z" fill="#84009c" shape-rendering="crispEdges"/>
<path d="M1112 619h3v5h-3z" fill="#4e00a2" shape-rendering="crispEdges"/>
<path d="M1112 804h3v5h-3zM1190 809h3v7h-3z" fill="#0048de" shape-rendering="crispEdges"/>
<path d="M1112 809h3v5h-3z" fill="#001ede" shape-rendering="crispEdges"/>
<path d="M1115 534h3v5h-3zM1121 709h3v5h-3zM1121 724h3v5h-3zM1121 784h3v5h-3zM1124 784h3v5h-3zM1130 514h3v5h-3zM1130 739h3v5h-3zM1130 814h3v2h-3zM1142 539h3v5h-3zM1142 649h3v5h-3zM1145 664h3v5h-3zM1151 599h3v5h-3zM1154 614h3v5h-3zM1157 564h3v5h-3zM1160 594h3v5h-3zM1163 579h3v5h-3zM1169 654h3v5h-3zM1172 579h3v5h-3zM1172 594h3v5h-3zM1175 584h3v5h-3zM1175 594h3v5h-3zM1190 634h3v5h-3zM1205 634h3v5h-3zM1208 634h3v5h-3zM1217 554h3v5h-3zM1223 664h3v5h-3zM1226 569h3v5h-3zM1232 544h3v5h-3zM1235 584h3v5h-3zM1247 599h3v5h-3zM1256 759h3v5h-3zM1262 584h3v5h-3zM1265 774h3v5h-3zM1274 639h3v5h-3zM1286 594h3v5h-3zM1292 559h3v5h-3zM1292 569h3v5h-3zM1292 679h3v5h-3zM1307 514h3v5h-3zM1310 584h3v5h-3zM1334 624h3v5h-3zM1337 599h3v5h-3zM1340 644h3v5h-3zM1349 589h3v5h-3zM1352 634h3v5h-3zM1367 744h3v5h-3zM1370 709h3v5h-3zM1376 714h3v30h-3zM1379 684h3v5h-3zM1382 709h3v30h-3zM1385 709h3v5h-3zM1388 679h3v5h-3zM1394 764h3v5h-3zM1403 594h3v5h-3zM1403 709h3v5h-3zM1406 769h3v5h-3zM1409 584h3v5h-3zM1409 719h3v5h-3zM1415 594h3v5h-3zM1415 774h3v10h-3zM1415 794h3v10h-3zM1445 569h3v5h-3zM1448 514h3v50h-3zM1454 514h3v50h-3zM1457 569h3v5h-3zM1460 569h3v5h-3zM1472 514h3v55h-3zM1475 579h3v5h-3zM1478 564h3v5h-3zM1490 569h3v5h-3zM1493 619h3v10h-3zM1493 649h3v10h-3zM1493 694h3v10h-3zM1493 769h3v10h-3zM1493 799h3v10h-3z" fill="#1efc00" shape-rendering="crispEdges"/>
<path d="M1148 739h3v5h-3zM1169 584h3v5h-3zM1169 594h3v5h-3zM1184 519h3v5h-3zM1193 579h3v5h-3zM1193 594h3v5h-3zM1199 569h3v5h-3zM1205 574h3v5h-3zM1208 579h3v5h-3zM1214 589h3v5h-3zM1217 609h3v5h-3zM1217 619h3v5h-3zM1223 599h3v5h-3zM1223 624h3v5h-3zM1259 554h3v5h-3zM1262 544h3v5h-3zM1265 539h3v5h-3zM1292 614h3v5h-3zM1295 609h3v5h-3zM1319 609h3v5h-3zM1325 604h3v5h-3zM1328 604h3v5h-3zM1331 554h3v5h-3zM1340 599h3v5h-3zM1343 584h3v5h-3zM1346 524h3v5h-3zM1346 549h3v5h-3zM1352 589h3v5h-3zM1355 519h3v5h-3zM1355 554h3v5h-3zM1370 804h3v5h-3zM1376 814h3v2h-3zM1382 809h3v5h-3zM1388 764h3v5h-3zM1400 539h3v5h-3zM1403 784h3v5h-3zM1409 794h3v5h-3z" fill="#f0ea00" shape-rendering="crispEdges"/>
<path d="M1169 614h3v5h-3zM1184 574h3v5h-3zM1184 599h3v5h-3zM1187 609h3v5h-3zM1190 524h3v5h-3zM1199 594h3v5h-3zM1202 574h3v5h-3zM1205 599h3v5h-3zM1208 604h3v5h-3zM1217 639h3v5h-3zM1223 584h3v5h-3zM1238 549h3v5h-3zM1250 779h3v5h-3zM1250 804h3v5h-3zM1253 529h3v5h-3zM1262 564h3v5h-3zM1286 634h3v10h-3zM1307 614h3v5h-3zM1313 559h3v5h-3zM1325 614h3v5h-3zM1328 614h3v5h-3zM1331 594h3v5h-3zM1334 584h3v5h-3zM1337 534h3v10h-3zM1346 569h3v5h-3zM1352 599h3v5h-3zM1358 529h3v5h-3zM1358 544h3v5h-3zM1367 794h3v5h-3zM1376 789h3v5h-3zM1379 774h3v5h-3zM1388 754h3v5h-3zM1391 749h3v5h-3zM1409 554h3v5h-3z" fill="#def000" shape-rendering="crispEdges"/>
<path d="M1397 519h3v5h-3z" fill="#0030de" shape-rendering="crispEdges"/>
<defs><linearGradient id="cb1" x1="0" y1="0" x2="0" y2="1"><stop offset="0.000" stop-color="#cccccc"/><stop offset="0.025" stop-color="#cc6c6c"/><stop offset="0.050" stop-color="#cc0c0c"/><stop offset="0.075" stop-color="#d40000"/><stop offset="0.100" stop-color="#dc0000"/><stop offset="0.125" stop-color="#ec0000"/><stop offset="0.150" stop-color="#fe0000"/><stop offset="0.175" stop-color="#ff4500"/><stop offset="0.200" stop-color="#ff9900"/><stop offset="0.225" stop-color="#ffb100"/><stop offset="0.250" stop-color="#ffc900"/><stop offset="0.275" stop-color="#f7dd00"/><stop offset="0.300" stop-color="#efed00"/><stop offset="0.325" stop-color="#d4f700"/><stop offset="0.350" stop-color="#bcff00"/><stop offset="0.375" stop-color="#67ff00"/><stop offset="0.400" stop-color="#00ff00"/><stop offset="0.425" stop-color="#00ef00"/><stop offset="0.450" stop-color="#00dc00"/><stop offset="0.475" stop-color="#00cc00"/><stop offset="0.500" stop-color="#00bc00"/><stop offset="0.525" stop-color="#00aa00"/><stop offset="0.550" stop-color="#009a00"/><stop offset="0.575" stop-color="#00a248"/><stop offset="0.600" stop-color="#00aa88"/><stop offset="0.625" stop-color="#00aa98"/><stop offset="0.650" stop-color="#00aaab"/><stop offset="0.675" stop-color="#00a2c3"/><stop offset="0.700" stop-color="#0098dd"/><stop offset="0.725" stop-color="#0088dd"/><stop offset="0.750" stop-color="#0078dd"/><stop offset="0.775" stop-color="#0038dd"/><stop offset="0.800" stop-color="#0000dd"/><stop offset="0.825" stop-color="#0000c1"/><stop offset="0.850" stop-color="#0300aa"/><stop offset="0.875" stop-color="#4300a2"/><stop offset="0.900" stop-color="#870098"/><stop offset="0.925" stop-color="#7f0090"/><stop offset="0.950" stop-color="#700080"/><stop offset="0.975" stop-color="#380040"/><stop offset="1.000" stop-color="#000000"/></linearGradient></defs>
<rect x="724.2" y="519.6" width="15.5" height="312.4" fill="url(#cb1)"/>
<defs><linearGradient id="cb2" x1="0" y1="0" x2="0" y2="1"><stop offset="0.000" stop-color="#cccccc"/><stop offset="0.025" stop-color="#cc6c6c"/><stop offset="0.050" stop-color="#cc0c0c"/><stop offset="0.075" stop-color="#d40000"/><stop offset="0.100" stop-color="#dc0000"/><stop offset="0.125" stop-color="#ec0000"/><stop offset="0.150" stop-color="#fe0000"/><stop offset="0.175" stop-color="#ff4500"/><stop offset="0.200" stop-color="#ff9900"/><stop offset="0.225" stop-color="#ffb100"/><stop offset="0.250" stop-color="#ffc900"/><stop offset="0.275" stop-color="#f7dd00"/><stop offset="0.300" stop-color="#efed00"/><stop offset="0.325" stop-color="#d4f700"/><stop offset="0.350" stop-color="#bcff00"/><stop offset="0.375" stop-color="#67ff00"/><stop offset="0.400" stop-color="#00ff00"/><stop offset="0.425" stop-color="#00ef00"/><stop offset="0.450" stop-color="#00dc00"/><stop offset="0.475" stop-color="#00cc00"/><stop offset="0.500" stop-color="#00bc00"/><stop offset="0.525" stop-color="#00aa00"/><stop offset="0.550" stop-color="#009a00"/><stop offset="0.575" stop-color="#00a248"/><stop offset="0.600" stop-color="#00aa88"/><stop offset="0.625" stop-color="#00aa98"/><stop offset="0.650" stop-color="#00aaab"/><stop offset="0.675" stop-color="#00a2c3"/><stop offset="0.700" stop-color="#0098dd"/><stop offset="0.725" stop-color="#0088dd"/><stop offset="0.750" stop-color="#0078dd"/><stop offset="0.775" stop-color="#0038dd"/><stop offset="0.800" stop-color="#0000dd"/><stop offset="0.825" stop-color="#0000c1"/><stop offset="0.850" stop-color="#0300aa"/><stop offset="0.875" stop-color="#4300a2"/><stop offset="0.900" stop-color="#870098"/><stop offset="0.925" stop-color="#7f0090"/><stop offset="0.950" stop-color="#700080"/><stop offset="0.975" stop-color="#380040"/><stop offset="1.000" stop-color="#000000"/></linearGradient></defs>
<rect x="1533.8" y="519.5" width="15" height="312.5" fill="url(#cb2)"/>
<polyline points="186.1,1084.6 188.6,1091.9 190.3,1091.5 192,1091 193.7,1091.3 195.4,1091.2 197.1,1091.6 198.8,1089.9 200.5,1089.1 202.2,1086.4 203.9,1086.5 205.6,1079.8 207.3,1075.2 209,1070.1 210.7,1073.8 212.4,1079 214.1,1074.4 215.8,1070.5 217.5,1067.2 219.2,1063.9 220.8,1064 222.5,1061.6 224.2,1059.5 225.9,1060.9 227.6,1060.5 229.3,1062.6 231,1062.4 233.2,1055.1 235.3,1049.1 237.4,1049.3 239.5,1049.7 241.2,1055.5 242.9,1058.8 244.6,1055.5 246.3,1049.6 248,1045.6 249.7,1042.9 251.4,1038.7 253.1,1038 254.7,1036.4 256.4,1034.9 258.1,1036.2 259.8,1037.6 261.5,1039.7 263.2,1040.6 264.9,1041.9 266.6,1041.4 268.3,1038.6 270,1041 271.7,1044.1 273.4,1045.1 275.1,1044.8 276.8,1045.3 278.5,1044.5 280.2,1034.8 281.9,1035 283.6,1036.3 285.2,1036.8 286.9,1036.5 288.6,1037.8 290.3,1033.3 292,1028.4 293.7,1025.8 295.2,1025.9 296.8,1027.2 298.3,1028.7 299.9,1031.3 301.4,1033.2 303.5,1028 305.6,1022.2 307.3,1021.1 309,1019.7 310.7,1020.1 312.4,1019.1 314.1,1017.8 315.8,1013.6 317.5,1008.4 319.2,1004.6 320.9,1005 322.5,1004.9 324.2,1007.1 326.8,994.4 328.9,997.9 331,1000.1 332.5,998.9 334,997.7 335.5,998.3 337,995.9 338.6,996.2 340.1,996.1 341.6,993.7 343.1,992.9 344.6,992.9 346.3,992.9 348,993.3 349.7,993.9 351.4,992.8 353.1,993.2 354.8,992.5 356.5,991.2 358.2,992.2 359.8,991.3 361.5,990.4 363.2,988.2 364.9,989.2 366.6,988.6 368.3,987.6 370,987.7 371.7,986.7 372.5,960 374.1,959.1 375.7,958.8 377.3,957.9 378.9,957.9 380.6,958.2 382.2,957.5 383.8,957.2 385.4,956.4 387,954.9 388.7,955.1 390.4,954.4 392.1,954.7 393.7,953.8 395.4,952.8 397.1,953.2 398.8,930.1 400.5,925.6 402.2,924 403.8,922.2 405.3,922.6 406.9,922.5 408.5,923.5 410.1,923.8 411.6,923.3 413.2,922.5 414.8,923.5 416.3,922.3 417.9,922.1 419.5,923.4 421.1,922.8 422.6,922.8 424.2,922.7 425.8,923.1 427.3,921.9 428.9,922.4 430.4,921.9 432,922 433.6,921 435.1,921.4 436.7,920.8 438.2,920.1 439.8,919.7 441.4,920.3 442.9,919 444.5,920.4 446,918.7 447.6,918.3 449.2,918.4 450.7,920 452.3,918.7 453.9,918.3 455.5,918 457,918 458.6,919.3 460.2,919.1 461.8,919.2 463.3,919.2 464.9,917.8 466.5,918.8 468.1,918.3 469.6,919.2 471.2,919.1 472.8,919.2 474.4,917.5 475.9,919.1 477.5,919.1 479.2,917 481,913.1 482.6,913.3 484.1,913.1 485.7,913 487.2,914.6 488.8,914.5 490.3,914.2 491.9,914.6 493.4,914.2 495,913.5 497.7,908.8 499.3,908.9 500.9,910.3 502.4,909.3 504,909.7 505.6,910 507.2,909.3 508.8,909.9 510.3,910.1 511.9,911.1 513.5,910.5 515.1,910.5 516.7,911.9 518.2,911.1 519.8,911.9 521.4,911.5 523.6,908.6 525.8,907.6 527.3,907.6 528.8,908.2 530.3,907.3 531.8,908 533.3,907.6 534.8,906.9 536.3,908.2 537.8,906.6 539.3,908 540.8,906.6 542.3,906.2 543.8,906.6 545.3,907.6 546.8,908 548.3,906 549.8,906.9 551.3,906.9 552.8,907.3 554.3,905.9 555.9,906.4 557.4,905.9 558.9,906.7 560.4,905.4 561.9,906.6 563.5,905.1 565,904.8 566.5,905.6 568,905 569.5,904 571.1,904.9 572.6,903.6 574.1,904.9 575.9,904.2 577.7,904 579.4,903.2 581.2,902.2 582.8,902.5 584.4,902.6 586,903.7 587.6,902.3 589.2,904 590.9,902.5 592.5,903 594.1,903.2 595.7,904.7 597.3,904 598.9,903.9 600.5,905.1 602.2,900.7 604,898 605.5,898.2 607.1,898.7 608.6,898.7 610.1,898.5 611.7,897.9 613.2,897.9 614.7,897.6 616.3,899 617.8,898.7 619.3,898.9 620.9,897.8 622.4,898.3 623.9,899 625.5,898.7 627,897.8 628.5,898.5 630,899.4 631.6,898.1 633.1,898 634.6,898.3 636.2,899.1 637.7,899.4 639.2,898.1 640.8,898.1 642.3,898.3 643.8,898.5 645.4,898.9 646.9,898.2 648.4,898.6 650,898.3 651.5,900 653.2,899 655,897.3 656.8,898.6 658.5,896.4 660,896.8 661.6,897.7 663.1,897.2 664.6,896.8 666.2,896 667.7,895.3 669.3,896 670.8,894.7 672.4,895 674.1,895.5 675.7,895 677.3,895.8 678.9,896.7 680.6,896.7 682.2,896.4" fill="none" stroke="#32cd32" stroke-width="4.6" stroke-linejoin="round" stroke-linecap="round"/>
<circle cx="186.1" cy="1084.6" r="2.9" fill="#32cd32"/><circle cx="190.3" cy="1091.5" r="2.9" fill="#32cd32"/><circle cx="193.7" cy="1091.3" r="2.9" fill="#32cd32"/><circle cx="197.1" cy="1091.6" r="2.9" fill="#32cd32"/><circle cx="200.5" cy="1089.1" r="2.9" fill="#32cd32"/><circle cx="203.9" cy="1086.5" r="2.9" fill="#32cd32"/><circle cx="207.3" cy="1075.2" r="2.9" fill="#32cd32"/><circle cx="210.7" cy="1073.8" r="2.9" fill="#32cd32"/><circle cx="214.1" cy="1074.4" r="2.9" fill="#32cd32"/><circle cx="217.5" cy="1067.2" r="2.9" fill="#32cd32"/><circle cx="220.8" cy="1064" r="2.9" fill="#32cd32"/><circle cx="224.2" cy="1059.5" r="2.9" fill="#32cd32"/><circle cx="227.6" cy="1060.5" r="2.9" fill="#32cd32"/><circle cx="231" cy="1062.4" r="2.9" fill="#32cd32"/><circle cx="235.3" cy="1049.1" r="2.9" fill="#32cd32"/><circle cx="239.5" cy="1049.7" r="2.9" fill="#32cd32"/><circle cx="242.9" cy="1058.8" r="2.9" fill="#32cd32"/><circle cx="246.3" cy="1049.6" r="2.9" fill="#32cd32"/><circle cx="249.7" cy="1042.9" r="2.9" fill="#32cd32"/><circle cx="253.1" cy="1038" r="2.9" fill="#32cd32"/><circle cx="256.4" cy="1034.9" r="2.9" fill="#32cd32"/><circle cx="259.8" cy="1037.6" r="2.9" fill="#32cd32"/><circle cx="263.2" cy="1040.6" r="2.9" fill="#32cd32"/><circle cx="266.6" cy="1041.4" r="2.9" fill="#32cd32"/><circle cx="270" cy="1041" r="2.9" fill="#32cd32"/><circle cx="273.4" cy="1045.1" r="2.9" fill="#32cd32"/><circle cx="276.8" cy="1045.3" r="2.9" fill="#32cd32"/><circle cx="280.2" cy="1034.8" r="2.9" fill="#32cd32"/><circle cx="283.6" cy="1036.3" r="2.9" fill="#32cd32"/><circle cx="286.9" cy="1036.5" r="2.9" fill="#32cd32"/><circle cx="290.3" cy="1033.3" r="2.9" fill="#32cd32"/><circle cx="293.7" cy="1025.8" r="2.9" fill="#32cd32"/><circle cx="296.8" cy="1027.2" r="2.9" fill="#32cd32"/><circle cx="299.9" cy="1031.3" r="2.9" fill="#32cd32"/><circle cx="303.5" cy="1028" r="2.9" fill="#32cd32"/><circle cx="307.3" cy="1021.1" r="2.9" fill="#32cd32"/><circle cx="310.7" cy="1020.1" r="2.9" fill="#32cd32"/><circle cx="314.1" cy="1017.8" r="2.9" fill="#32cd32"/><circle cx="317.5" cy="1008.4" r="2.9" fill="#32cd32"/><circle cx="320.9" cy="1005" r="2.9" fill="#32cd32"/><circle cx="324.2" cy="1007.1" r="2.9" fill="#32cd32"/><circle cx="328.9" cy="997.9" r="2.9" fill="#32cd32"/><circle cx="332.5" cy="998.9" r="2.9" fill="#32cd32"/><circle cx="335.5" cy="998.3" r="2.9" fill="#32cd32"/><circle cx="338.6" cy="996.2" r="2.9" fill="#32cd32"/><circle cx="341.6" cy="993.7" r="2.9" fill="#32cd32"/><circle cx="344.6" cy="992.9" r="2.9" fill="#32cd32"/><circle cx="348" cy="993.3" r="2.9" fill="#32cd32"/><circle cx="351.4" cy="992.8" r="2.9" fill="#32cd32"/><circle cx="354.8" cy="992.5" r="2.9" fill="#32cd32"/><circle cx="358.2" cy="992.2" r="2.9" fill="#32cd32"/><circle cx="361.5" cy="990.4" r="2.9" fill="#32cd32"/><circle cx="364.9" cy="989.2" r="2.9" fill="#32cd32"/><circle cx="368.3" cy="987.6" r="2.9" fill="#32cd32"/><circle cx="371.7" cy="986.7" r="2.9" fill="#32cd32"/><circle cx="374.1" cy="959.1" r="2.9" fill="#32cd32"/><circle cx="377.3" cy="957.9" r="2.9" fill="#32cd32"/><circle cx="380.6" cy="958.2" r="2.9" fill="#32cd32"/><circle cx="383.8" cy="957.2" r="2.9" fill="#32cd32"/><circle cx="387" cy="954.9" r="2.9" fill="#32cd32"/><circle cx="390.4" cy="954.4" r="2.9" fill="#32cd32"/><circle cx="393.7" cy="953.8" r="2.9" fill="#32cd32"/><circle cx="397.1" cy="953.2" r="2.9" fill="#32cd32"/><circle cx="400.5" cy="925.6" r="2.9" fill="#32cd32"/><circle cx="403.8" cy="922.2" r="2.9" fill="#32cd32"/><circle cx="406.9" cy="922.5" r="2.9" fill="#32cd32"/><circle cx="410.1" cy="923.8" r="2.9" fill="#32cd32"/><circle cx="413.2" cy="922.5" r="2.9" fill="#32cd32"/><circle cx="416.3" cy="922.3" r="2.9" fill="#32cd32"/><circle cx="419.5" cy="923.4" r="2.9" fill="#32cd32"/><circle cx="422.6" cy="922.8" r="2.9" fill="#32cd32"/><circle cx="425.8" cy="923.1" r="2.9" fill="#32cd32"/><circle cx="428.9" cy="922.4" r="2.9" fill="#32cd32"/><circle cx="432" cy="922" r="2.9" fill="#32cd32"/><circle cx="435.1" cy="921.4" r="2.9" fill="#32cd32"/><circle cx="438.2" cy="920.1" r="2.9" fill="#32cd32"/><circle cx="441.4" cy="920.3" r="2.9" fill="#32cd32"/><circle cx="444.5" cy="920.4" r="2.9" fill="#32cd32"/><circle cx="447.6" cy="918.3" r="2.9" fill="#32cd32"/><circle cx="450.7" cy="920" r="2.9" fill="#32cd32"/><circle cx="453.9" cy="918.3" r="2.9" fill="#32cd32"/><circle cx="457" cy="918" r="2.9" fill="#32cd32"/><circle cx="460.2" cy="919.1" r="2.9" fill="#32cd32"/><circle cx="463.3" cy="919.2" r="2.9" fill="#32cd32"/><circle cx="466.5" cy="918.8" r="2.9" fill="#32cd32"/><circle cx="469.6" cy="919.2" r="2.9" fill="#32cd32"/><circle cx="472.8" cy="919.2" r="2.9" fill="#32cd32"/><circle cx="475.9" cy="919.1" r="2.9" fill="#32cd32"/><circle cx="479.2" cy="917" r="2.9" fill="#32cd32"/><circle cx="482.6" cy="913.3" r="2.9" fill="#32cd32"/><circle cx="485.7" cy="913" r="2.9" fill="#32cd32"/><circle cx="488.8" cy="914.5" r="2.9" fill="#32cd32"/><circle cx="491.9" cy="914.6" r="2.9" fill="#32cd32"/><circle cx="495" cy="913.5" r="2.9" fill="#32cd32"/><circle cx="499.3" cy="908.9" r="2.9" fill="#32cd32"/><circle cx="502.4" cy="909.3" r="2.9" fill="#32cd32"/><circle cx="505.6" cy="910" r="2.9" fill="#32cd32"/><circle cx="508.8" cy="909.9" r="2.9" fill="#32cd32"/><circle cx="511.9" cy="911.1" r="2.9" fill="#32cd32"/><circle cx="515.1" cy="910.5" r="2.9" fill="#32cd32"/><circle cx="518.2" cy="911.1" r="2.9" fill="#32cd32"/><circle cx="521.4" cy="911.5" r="2.9" fill="#32cd32"/><circle cx="525.8" cy="907.6" r="2.9" fill="#32cd32"/><circle cx="528.8" cy="908.2" r="2.9" fill="#32cd32"/><circle cx="531.8" cy="908" r="2.9" fill="#32cd32"/><circle cx="534.8" cy="906.9" r="2.9" fill="#32cd32"/><circle cx="537.8" cy="906.6" r="2.9" fill="#32cd32"/><circle cx="540.8" cy="906.6" r="2.9" fill="#32cd32"/><circle cx="543.8" cy="906.6" r="2.9" fill="#32cd32"/><circle cx="546.8" cy="908" r="2.9" fill="#32cd32"/><circle cx="549.8" cy="906.9" r="2.9" fill="#32cd32"/><circle cx="552.8" cy="907.3" r="2.9" fill="#32cd32"/><circle cx="555.9" cy="906.4" r="2.9" fill="#32cd32"/><circle cx="558.9" cy="906.7" r="2.9" fill="#32cd32"/><circle cx="561.9" cy="906.6" r="2.9" fill="#32cd32"/><circle cx="565" cy="904.8" r="2.9" fill="#32cd32"/><circle cx="568" cy="905" r="2.9" fill="#32cd32"/><circle cx="571.1" cy="904.9" r="2.9" fill="#32cd32"/><circle cx="574.1" cy="904.9" r="2.9" fill="#32cd32"/><circle cx="577.7" cy="904" r="2.9" fill="#32cd32"/><circle cx="581.2" cy="902.2" r="2.9" fill="#32cd32"/><circle cx="584.4" cy="902.6" r="2.9" fill="#32cd32"/><circle cx="587.6" cy="902.3" r="2.9" fill="#32cd32"/><circle cx="590.9" cy="902.5" r="2.9" fill="#32cd32"/><circle cx="594.1" cy="903.2" r="2.9" fill="#32cd32"/><circle cx="597.3" cy="904" r="2.9" fill="#32cd32"/><circle cx="600.5" cy="905.1" r="2.9" fill="#32cd32"/><circle cx="604" cy="898" r="2.9" fill="#32cd32"/><circle cx="607.1" cy="898.7" r="2.9" fill="#32cd32"/><circle cx="610.1" cy="898.5" r="2.9" fill="#32cd32"/><circle cx="613.2" cy="897.9" r="2.9" fill="#32cd32"/><circle cx="616.3" cy="899" r="2.9" fill="#32cd32"/><circle cx="619.3" cy="898.9" r="2.9" fill="#32cd32"/><circle cx="622.4" cy="898.3" r="2.9" fill="#32cd32"/><circle cx="625.5" cy="898.7" r="2.9" fill="#32cd32"/><circle cx="628.5" cy="898.5" r="2.9" fill="#32cd32"/><circle cx="631.6" cy="898.1" r="2.9" fill="#32cd32"/><circle cx="634.6" cy="898.3" r="2.9" fill="#32cd32"/><circle cx="637.7" cy="899.4" r="2.9" fill="#32cd32"/><circle cx="640.8" cy="898.1" r="2.9" fill="#32cd32"/><circle cx="643.8" cy="898.5" r="2.9" fill="#32cd32"/><circle cx="646.9" cy="898.2" r="2.9" fill="#32cd32"/><circle cx="650" cy="898.3" r="2.9" fill="#32cd32"/><circle cx="653.2" cy="899" r="2.9" fill="#32cd32"/><circle cx="656.8" cy="898.6" r="2.9" fill="#32cd32"/><circle cx="660" cy="896.8" r="2.9" fill="#32cd32"/><circle cx="663.1" cy="897.2" r="2.9" fill="#32cd32"/><circle cx="666.2" cy="896" r="2.9" fill="#32cd32"/><circle cx="669.3" cy="896" r="2.9" fill="#32cd32"/><circle cx="672.4" cy="895" r="2.9" fill="#32cd32"/><circle cx="675.7" cy="895" r="2.9" fill="#32cd32"/><circle cx="678.9" cy="896.7" r="2.9" fill="#32cd32"/><circle cx="682.2" cy="896.4" r="2.9" fill="#32cd32"/>
<polyline points="988.6,1081.9 990.3,1085.2 992,1087.9 993.6,1086.7 995.2,1087 996.8,1086 998.4,1086.1 1000,1085.8 1001.7,1082.5 1003.3,1080.5 1005,1078.5 1006.8,1079.1 1008.5,1080 1010.2,1082.2 1012,1083.8 1013.6,1082.5 1015.2,1081.4 1016.8,1080.7 1018.4,1079.4 1020,1078.3 1021.7,1077.4 1023.3,1076.6 1025,1076.8 1026.7,1075.2 1028.3,1075.3 1030,1075.6 1031.7,1074.9 1033.3,1074.3 1035,1073 1036.7,1072.8 1038.3,1072.4 1040,1072.2 1041.7,1072 1043.3,1072.7 1045,1073.4 1046.7,1072 1048.3,1073.1 1050,1073.6 1051.7,1073.1 1053.3,1073.6 1055,1074.9 1056.7,1073.4 1058.3,1074.8 1060,1074.3 1061.5,1074.6 1063,1073.9 1064.5,1072 1066,1070.2 1067.7,1070.1 1069.3,1069.1 1071,1068.4 1073,1060 1075,1015.3 1076.7,1009.3 1078.3,1002.4 1080,995.8 1081.7,1006.6 1083.3,1014.8 1085,1025.4 1086.7,1015.5 1088.3,1006.9 1090,996.2 1091.8,1004.5 1093.5,1009.7 1095.2,1015.6 1097,1022.5 1098.5,1003.8 1100,984 1101.5,978.3 1103,975.3 1104.7,978.5 1106.4,980.5 1108.1,982.9 1109.8,985.4 1111.7,980.5 1113.6,974.9 1113.6,957.5 1115.1,957.4 1116.6,959.2 1118.1,959 1119.6,959.2 1121.1,959.7 1122.6,954.4 1124.1,948 1125.6,941.1 1127.5,944.9 1129.4,949.2 1131.1,946.8 1132.7,946.4 1134.4,943.4 1136,942.2 1137.7,940.7 1139.2,942.4 1140.7,943.3 1142.2,944.6 1143.7,946.8 1145.2,947.6 1146.7,947.8 1148.2,945.8 1149.7,945.6 1151.2,943.3 1152.7,943.9 1154.2,943.9 1155.8,944.6 1157.3,944.4 1158.8,944.3 1160.3,952.5 1161.8,958.5 1163.3,958.4 1164.8,958.5 1166.3,958.9 1167.8,958.8 1169.3,959.2 1170.8,951.7 1172.3,943.5 1173.8,945.9 1175.3,946.9 1176.8,946.6 1178.3,949.3 1179.8,950.7 1181.3,950.9 1182.8,950 1184.3,951.8 1185.9,951.9 1187.4,951.1 1188.9,951.5 1190.4,953.8 1191.9,951.3 1193.4,948.6 1194.9,946.4 1196.4,944.6 1197.9,945.3 1199.4,946.9 1201,946.5 1202.5,946.6 1204,948.6 1205.5,948.9 1207,953.7 1208.5,961.2 1210.2,960.9 1212,961.4 1213.7,961.4 1213,937.1 1214.5,936.5 1216,936.2 1217.5,934.6 1219,935.2 1220.5,935.3 1222,936.1 1223.5,936 1225.1,937.3 1226.6,937.1 1228.1,936.9 1229.6,937.3 1231.1,940.8 1232.6,945.3 1234.1,944.3 1235.6,945 1237.1,944.2 1238.6,944.8 1240.1,944.7 1241.7,944.6 1243.2,945.2 1244.7,943.3 1246.2,944.9 1247.7,944 1249.2,944.1 1250.7,944.1 1252.2,944.5 1253.7,943.5 1255.2,943.6 1256.7,944.7 1258.2,943 1259.7,944.1 1261.2,943.6 1262.7,941.9 1264.2,942.5 1265.7,942.2 1267.3,942.2 1268.8,940.5 1270.3,941.3 1271.8,939.8 1273.3,939.3 1274.8,939.5 1276.3,937.2 1277.8,938 1279.3,937.3 1280.8,936.2 1282.3,936.6 1283.8,935.1 1285.3,934.7 1286.8,934.8 1288.3,935.2 1289.8,934 1291.3,934.3 1292.9,934.2 1294.4,934.4 1295.9,934.8 1297.4,933.7 1298.9,934.7 1300.6,933.9 1302.2,934.2 1303.9,933.8 1305.5,934.4 1307.2,935.4 1308.8,934.9 1310.5,935.3 1312.1,934.5 1313.8,934.5 1315.3,934.8 1316.9,935.7 1318.4,936.1 1319.9,936.7 1321.5,935.5 1323,937.2 1324.5,937.8 1326.1,937.5 1327.6,936.8 1329.3,936.2 1330.9,934.5 1332.6,933.7 1334.2,934.1 1335.9,932.3 1337.5,932.7 1339,933.2 1340.5,933.7 1342.1,933.4 1343.7,933.6 1345.2,933.9 1346.8,934.3 1348.3,934.4 1350,935.9 1351.8,936.4 1353.5,938.7 1355.2,939.6 1355.2,929.9 1357.3,927.2 1359.4,926 1362.1,934 1364.2,928.5 1366.3,921.9 1367.9,921.2 1369.4,920.4 1371,921.1 1372.6,920.9 1374.2,920.2 1375.7,919.4 1377.3,919.3 1378.8,919.9 1380.4,920 1381.9,920.5 1383.4,921.2 1385,922.1 1386.5,920.7 1388,922 1389.6,921.3 1391.1,921.7 1392.8,920.9 1394.4,918.2 1396.1,916.7 1397.7,913.5 1399.4,910.4 1401.5,914.6 1403.6,918.5 1405.4,917.8 1407.3,916.5 1409.1,914.2 1407.7,901.6 1409.4,899.6 1411.2,899.3 1412.9,897 1414.6,895.5 1416.1,895.4 1417.6,895.6 1419.1,897.1 1420.6,896.2 1422.1,898.1 1423.7,896.5 1425.2,898.3 1426.7,897 1428.2,897 1429.7,898.5 1431.2,897.8 1432.8,898 1434.3,896.1 1435.9,895 1437.5,895.7 1439.1,894.8 1440.6,894.3 1442.2,893.3 1443.7,891.8 1445.2,892.7 1446.7,892.6 1448.2,892 1449.7,892.7 1451.3,891.2 1452.8,892.4 1454.3,891.7 1455.8,890.1 1457.3,889.9 1458.8,891 1460.4,891.1 1462,889.4 1463.6,889.7 1465.2,890.3 1466.8,889 1468.4,890.2 1469.9,889.2 1471.5,888.2 1473.1,888.6 1474.7,888.8 1476.3,888.3 1477.9,888.6 1479.5,887.3 1482.3,893.4 1484,892 1485.6,892 1487.3,891.4 1488.9,890.4 1490.6,890" fill="none" stroke="#32cd32" stroke-width="4.6" stroke-linejoin="round" stroke-linecap="round"/>
<circle cx="988.6" cy="1081.9" r="2.9" fill="#32cd32"/><circle cx="992" cy="1087.9" r="2.9" fill="#32cd32"/><circle cx="995.2" cy="1087" r="2.9" fill="#32cd32"/><circle cx="998.4" cy="1086.1" r="2.9" fill="#32cd32"/><circle cx="1001.7" cy="1082.5" r="2.9" fill="#32cd32"/><circle cx="1005" cy="1078.5" r="2.9" fill="#32cd32"/><circle cx="1008.5" cy="1080" r="2.9" fill="#32cd32"/><circle cx="1012" cy="1083.8" r="2.9" fill="#32cd32"/><circle cx="1015.2" cy="1081.4" r="2.9" fill="#32cd32"/><circle cx="1018.4" cy="1079.4" r="2.9" fill="#32cd32"/><circle cx="1021.7" cy="1077.4" r="2.9" fill="#32cd32"/><circle cx="1025" cy="1076.8" r="2.9" fill="#32cd32"/><circle cx="1028.3" cy="1075.3" r="2.9" fill="#32cd32"/><circle cx="1031.7" cy="1074.9" r="2.9" fill="#32cd32"/><circle cx="1035" cy="1073" r="2.9" fill="#32cd32"/><circle cx="1038.3" cy="1072.4" r="2.9" fill="#32cd32"/><circle cx="1041.7" cy="1072" r="2.9" fill="#32cd32"/><circle cx="1045" cy="1073.4" r="2.9" fill="#32cd32"/><circle cx="1048.3" cy="1073.1" r="2.9" fill="#32cd32"/><circle cx="1051.7" cy="1073.1" r="2.9" fill="#32cd32"/><circle cx="1055" cy="1074.9" r="2.9" fill="#32cd32"/><circle cx="1058.3" cy="1074.8" r="2.9" fill="#32cd32"/><circle cx="1061.5" cy="1074.6" r="2.9" fill="#32cd32"/><circle cx="1064.5" cy="1072" r="2.9" fill="#32cd32"/><circle cx="1067.7" cy="1070.1" r="2.9" fill="#32cd32"/><circle cx="1071" cy="1068.4" r="2.9" fill="#32cd32"/><circle cx="1075" cy="1015.3" r="2.9" fill="#32cd32"/><circle cx="1078.3" cy="1002.4" r="2.9" fill="#32cd32"/><circle cx="1081.7" cy="1006.6" r="2.9" fill="#32cd32"/><circle cx="1085" cy="1025.4" r="2.9" fill="#32cd32"/><circle cx="1088.3" cy="1006.9" r="2.9" fill="#32cd32"/><circle cx="1091.8" cy="1004.5" r="2.9" fill="#32cd32"/><circle cx="1095.2" cy="1015.6" r="2.9" fill="#32cd32"/><circle cx="1098.5" cy="1003.8" r="2.9" fill="#32cd32"/><circle cx="1101.5" cy="978.3" r="2.9" fill="#32cd32"/><circle cx="1104.7" cy="978.5" r="2.9" fill="#32cd32"/><circle cx="1108.1" cy="982.9" r="2.9" fill="#32cd32"/><circle cx="1111.7" cy="980.5" r="2.9" fill="#32cd32"/><circle cx="1113.6" cy="957.5" r="2.9" fill="#32cd32"/><circle cx="1116.6" cy="959.2" r="2.9" fill="#32cd32"/><circle cx="1119.6" cy="959.2" r="2.9" fill="#32cd32"/><circle cx="1122.6" cy="954.4" r="2.9" fill="#32cd32"/><circle cx="1125.6" cy="941.1" r="2.9" fill="#32cd32"/><circle cx="1129.4" cy="949.2" r="2.9" fill="#32cd32"/><circle cx="1132.7" cy="946.4" r="2.9" fill="#32cd32"/><circle cx="1136" cy="942.2" r="2.9" fill="#32cd32"/><circle cx="1139.2" cy="942.4" r="2.9" fill="#32cd32"/><circle cx="1142.2" cy="944.6" r="2.9" fill="#32cd32"/><circle cx="1145.2" cy="947.6" r="2.9" fill="#32cd32"/><circle cx="1148.2" cy="945.8" r="2.9" fill="#32cd32"/><circle cx="1151.2" cy="943.3" r="2.9" fill="#32cd32"/><circle cx="1154.2" cy="943.9" r="2.9" fill="#32cd32"/><circle cx="1157.3" cy="944.4" r="2.9" fill="#32cd32"/><circle cx="1160.3" cy="952.5" r="2.9" fill="#32cd32"/><circle cx="1163.3" cy="958.4" r="2.9" fill="#32cd32"/><circle cx="1166.3" cy="958.9" r="2.9" fill="#32cd32"/><circle cx="1169.3" cy="959.2" r="2.9" fill="#32cd32"/><circle cx="1172.3" cy="943.5" r="2.9" fill="#32cd32"/><circle cx="1175.3" cy="946.9" r="2.9" fill="#32cd32"/><circle cx="1178.3" cy="949.3" r="2.9" fill="#32cd32"/><circle cx="1181.3" cy="950.9" r="2.9" fill="#32cd32"/><circle cx="1184.3" cy="951.8" r="2.9" fill="#32cd32"/><circle cx="1187.4" cy="951.1" r="2.9" fill="#32cd32"/><circle cx="1190.4" cy="953.8" r="2.9" fill="#32cd32"/><circle cx="1193.4" cy="948.6" r="2.9" fill="#32cd32"/><circle cx="1196.4" cy="944.6" r="2.9" fill="#32cd32"/><circle cx="1199.4" cy="946.9" r="2.9" fill="#32cd32"/><circle cx="1202.5" cy="946.6" r="2.9" fill="#32cd32"/><circle cx="1205.5" cy="948.9" r="2.9" fill="#32cd32"/><circle cx="1208.5" cy="961.2" r="2.9" fill="#32cd32"/><circle cx="1212" cy="961.4" r="2.9" fill="#32cd32"/><circle cx="1213" cy="937.1" r="2.9" fill="#32cd32"/><circle cx="1216" cy="936.2" r="2.9" fill="#32cd32"/><circle cx="1219" cy="935.2" r="2.9" fill="#32cd32"/><circle cx="1222" cy="936.1" r="2.9" fill="#32cd32"/><circle cx="1225.1" cy="937.3" r="2.9" fill="#32cd32"/><circle cx="1228.1" cy="936.9" r="2.9" fill="#32cd32"/><circle cx="1231.1" cy="940.8" r="2.9" fill="#32cd32"/><circle cx="1234.1" cy="944.3" r="2.9" fill="#32cd32"/><circle cx="1237.1" cy="944.2" r="2.9" fill="#32cd32"/><circle cx="1240.1" cy="944.7" r="2.9" fill="#32cd32"/><circle cx="1243.2" cy="945.2" r="2.9" fill="#32cd32"/><circle cx="1246.2" cy="944.9" r="2.9" fill="#32cd32"/><circle cx="1249.2" cy="944.1" r="2.9" fill="#32cd32"/><circle cx="1252.2" cy="944.5" r="2.9" fill="#32cd32"/><circle cx="1255.2" cy="943.6" r="2.9" fill="#32cd32"/><circle cx="1258.2" cy="943" r="2.9" fill="#32cd32"/><circle cx="1261.2" cy="943.6" r="2.9" fill="#32cd32"/><circle cx="1264.2" cy="942.5" r="2.9" fill="#32cd32"/><circle cx="1267.3" cy="942.2" r="2.9" fill="#32cd32"/><circle cx="1270.3" cy="941.3" r="2.9" fill="#32cd32"/><circle cx="1273.3" cy="939.3" r="2.9" fill="#32cd32"/><circle cx="1276.3" cy="937.2" r="2.9" fill="#32cd32"/><circle cx="1279.3" cy="937.3" r="2.9" fill="#32cd32"/><circle cx="1282.3" cy="936.6" r="2.9" fill="#32cd32"/><circle cx="1285.3" cy="934.7" r="2.9" fill="#32cd32"/><circle cx="1288.3" cy="935.2" r="2.9" fill="#32cd32"/><circle cx="1291.3" cy="934.3" r="2.9" fill="#32cd32"/><circle cx="1294.4" cy="934.4" r="2.9" fill="#32cd32"/><circle cx="1297.4" cy="933.7" r="2.9" fill="#32cd32"/><circle cx="1300.6" cy="933.9" r="2.9" fill="#32cd32"/><circle cx="1303.9" cy="933.8" r="2.9" fill="#32cd32"/><circle cx="1307.2" cy="935.4" r="2.9" fill="#32cd32"/><circle cx="1310.5" cy="935.3" r="2.9" fill="#32cd32"/><circle cx="1313.8" cy="934.5" r="2.9" fill="#32cd32"/><circle cx="1316.9" cy="935.7" r="2.9" fill="#32cd32"/><circle cx="1319.9" cy="936.7" r="2.9" fill="#32cd32"/><circle cx="1323" cy="937.2" r="2.9" fill="#32cd32"/><circle cx="1326.1" cy="937.5" r="2.9" fill="#32cd32"/><circle cx="1329.3" cy="936.2" r="2.9" fill="#32cd32"/><circle cx="1332.6" cy="933.7" r="2.9" fill="#32cd32"/><circle cx="1335.9" cy="932.3" r="2.9" fill="#32cd32"/><circle cx="1339" cy="933.2" r="2.9" fill="#32cd32"/><circle cx="1342.1" cy="933.4" r="2.9" fill="#32cd32"/><circle cx="1345.2" cy="933.9" r="2.9" fill="#32cd32"/><circle cx="1348.3" cy="934.4" r="2.9" fill="#32cd32"/><circle cx="1351.8" cy="936.4" r="2.9" fill="#32cd32"/><circle cx="1355.2" cy="939.6" r="2.9" fill="#32cd32"/><circle cx="1357.3" cy="927.2" r="2.9" fill="#32cd32"/><circle cx="1362.1" cy="934" r="2.9" fill="#32cd32"/><circle cx="1366.3" cy="921.9" r="2.9" fill="#32cd32"/><circle cx="1369.4" cy="920.4" r="2.9" fill="#32cd32"/><circle cx="1372.6" cy="920.9" r="2.9" fill="#32cd32"/><circle cx="1375.7" cy="919.4" r="2.9" fill="#32cd32"/><circle cx="1378.8" cy="919.9" r="2.9" fill="#32cd32"/><circle cx="1381.9" cy="920.5" r="2.9" fill="#32cd32"/><circle cx="1385" cy="922.1" r="2.9" fill="#32cd32"/><circle cx="1388" cy="922" r="2.9" fill="#32cd32"/><circle cx="1391.1" cy="921.7" r="2.9" fill="#32cd32"/><circle cx="1394.4" cy="918.2" r="2.9" fill="#32cd32"/><circle cx="1397.7" cy="913.5" r="2.9" fill="#32cd32"/><circle cx="1401.5" cy="914.6" r="2.9" fill="#32cd32"/><circle cx="1405.4" cy="917.8" r="2.9" fill="#32cd32"/><circle cx="1409.1" cy="914.2" r="2.9" fill="#32cd32"/><circle cx="1409.4" cy="899.6" r="2.9" fill="#32cd32"/><circle cx="1412.9" cy="897" r="2.9" fill="#32cd32"/><circle cx="1416.1" cy="895.4" r="2.9" fill="#32cd32"/><circle cx="1419.1" cy="897.1" r="2.9" fill="#32cd32"/><circle cx="1422.1" cy="898.1" r="2.9" fill="#32cd32"/><circle cx="1425.2" cy="898.3" r="2.9" fill="#32cd32"/><circle cx="1428.2" cy="897" r="2.9" fill="#32cd32"/><circle cx="1431.2" cy="897.8" r="2.9" fill="#32cd32"/><circle cx="1434.3" cy="896.1" r="2.9" fill="#32cd32"/><circle cx="1437.5" cy="895.7" r="2.9" fill="#32cd32"/><circle cx="1440.6" cy="894.3" r="2.9" fill="#32cd32"/><circle cx="1443.7" cy="891.8" r="2.9" fill="#32cd32"/><circle cx="1446.7" cy="892.6" r="2.9" fill="#32cd32"/><circle cx="1449.7" cy="892.7" r="2.9" fill="#32cd32"/><circle cx="1452.8" cy="892.4" r="2.9" fill="#32cd32"/><circle cx="1455.8" cy="890.1" r="2.9" fill="#32cd32"/><circle cx="1458.8" cy="891" r="2.9" fill="#32cd32"/><circle cx="1462" cy="889.4" r="2.9" fill="#32cd32"/><circle cx="1465.2" cy="890.3" r="2.9" fill="#32cd32"/><circle cx="1468.4" cy="890.2" r="2.9" fill="#32cd32"/><circle cx="1471.5" cy="888.2" r="2.9" fill="#32cd32"/><circle cx="1474.7" cy="888.8" r="2.9" fill="#32cd32"/><circle cx="1477.9" cy="888.6" r="2.9" fill="#32cd32"/><circle cx="1482.3" cy="893.4" r="2.9" fill="#32cd32"/><circle cx="1485.6" cy="892" r="2.9" fill="#32cd32"/><circle cx="1488.9" cy="890.4" r="2.9" fill="#32cd32"/>
<polygon points="434,1012 507.5,994.3 503.3,975.2 557.5,986.3 515.3,1022.3 511.4,1004.9 436.6,1023.3" fill="#1f77b4" stroke="#000" stroke-width="3.2" stroke-linejoin="miter"/>
<polygon points="1237.5,1030 1315.6,992.9 1309.6,974.6 1363,977 1328.6,1019 1321.3,1001.3 1242.4,1039" fill="#1f77b4" stroke="#000" stroke-width="3.2" stroke-linejoin="miter"/>
<text x="310.2" y="1045.3" font-size="33.8" text-anchor="start">closing</text>
<text x="1114" y="1063.7" font-size="33.8" text-anchor="start">closing</text>
<circle cx="186.1" cy="1138" r="3.2" fill="#32cd32" fill-opacity="0.12" stroke="#32cd32" stroke-opacity="0.156" stroke-width="1.2"/>
<circle cx="189.4" cy="1132.2" r="3.2" fill="#32cd32" fill-opacity="0.12" stroke="#32cd32" stroke-opacity="0.156" stroke-width="1.2"/>
<circle cx="194.3" cy="1144.5" r="3.2" fill="#32cd32" fill-opacity="0.12" stroke="#32cd32" stroke-opacity="0.156" stroke-width="1.2"/>
<circle cx="199.2" cy="1136.3" r="3.2" fill="#32cd32" fill-opacity="0.12" stroke="#32cd32" stroke-opacity="0.156" stroke-width="1.2"/>
<circle cx="204.1" cy="1146.9" r="3.2" fill="#32cd32" fill-opacity="0.12" stroke="#32cd32" stroke-opacity="0.156" stroke-width="1.2"/>
<circle cx="209" cy="1156.7" r="3.2" fill="#32cd32" fill-opacity="0.12" stroke="#32cd32" stroke-opacity="0.156" stroke-width="1.2"/>
<circle cx="209.8" cy="1180.4" r="3.2" fill="#32cd32" fill-opacity="0.12" stroke="#32cd32" stroke-opacity="0.156" stroke-width="1.2"/>
<circle cx="214.7" cy="1186.9" r="3.2" fill="#32cd32" fill-opacity="0.12" stroke="#32cd32" stroke-opacity="0.156" stroke-width="1.2"/>
<circle cx="217.1" cy="1198.3" r="3.2" fill="#32cd32" fill-opacity="0.12" stroke="#32cd32" stroke-opacity="0.156" stroke-width="1.2"/>
<circle cx="220.4" cy="1206.5" r="3.2" fill="#32cd32" fill-opacity="0.12" stroke="#32cd32" stroke-opacity="0.156" stroke-width="1.2"/>
<circle cx="225.3" cy="1217.9" r="3.2" fill="#32cd32" fill-opacity="0.12" stroke="#32cd32" stroke-opacity="0.156" stroke-width="1.2"/>
<circle cx="230.2" cy="1217.9" r="3.2" fill="#32cd32" fill-opacity="0.12" stroke="#32cd32" stroke-opacity="0.156" stroke-width="1.2"/>
<circle cx="233.4" cy="1231" r="3.2" fill="#32cd32" fill-opacity="0.12" stroke="#32cd32" stroke-opacity="0.156" stroke-width="1.2"/>
<circle cx="237.5" cy="1231" r="3.2" fill="#32cd32" fill-opacity="0.12" stroke="#32cd32" stroke-opacity="0.156" stroke-width="1.2"/>
<circle cx="240.8" cy="1216.3" r="3.2" fill="#32cd32" fill-opacity="0.12" stroke="#32cd32" stroke-opacity="0.156" stroke-width="1.2"/>
<circle cx="243.2" cy="1198.3" r="3.2" fill="#32cd32" fill-opacity="0.12" stroke="#32cd32" stroke-opacity="0.156" stroke-width="1.2"/>
<circle cx="244.9" cy="1209" r="3.2" fill="#32cd32" fill-opacity="0.12" stroke="#32cd32" stroke-opacity="0.156" stroke-width="1.2"/>
<polyline points="186.1,1138 189.4,1132.2 194.3,1144.5 199.2,1136.3 204.1,1146.9 209,1156.7 209.8,1180.4 214.7,1186.9 217.1,1198.3 220.4,1206.5 225.3,1217.9 230.2,1217.9 233.4,1231 237.5,1231 240.8,1216.3 243.2,1198.3 244.9,1209" fill="none" stroke="#32cd32" stroke-width="2.4" stroke-linejoin="round" stroke-linecap="round" stroke-opacity="0.096"/>
<polyline points="247.3,1235.7 249.4,1238.9 251.4,1241.7 253,1241.6 254.7,1241.5 256.3,1241.2 257.9,1240.2 259.6,1241.4 261.2,1240.4 262.8,1240.1 264.5,1238.5 266.1,1238.5 267.7,1237.4 269.4,1235.2 271,1232.8 272.6,1233.2 274.2,1234.5 275.9,1236.5 277.5,1236.5 279.1,1238.4 280.8,1239.6 282.4,1241.6 284,1241.4 285.7,1240.4 287.3,1239.8 288.9,1240.3 290.5,1240.6 292.2,1241 293.8,1241.4 295.4,1239.1 297.1,1235 298.8,1234.1 300.4,1231.6 301,1240.7 303.6,1244.1 305.2,1243.9 306.9,1245.3 308.5,1245.6 310.1,1245.6 311.8,1246.4 313.4,1245.6 315.1,1245.4 316.7,1246.6 318.3,1247.6 320,1247 321.6,1248.7 323.2,1249.6 324.9,1248.7 326.5,1250 328.1,1249.2 329.8,1247.9 331.4,1246.4 333,1245.6 334.6,1245.7 336.2,1244.8 337.9,1243.2 339.5,1241.6 341.1,1243 342.6,1242.9 344.2,1241.8 345.7,1242.4 347.3,1243 348.8,1242.9 350.4,1242.2 352,1242 353.5,1242.2 355.1,1241.4 356.6,1241.4 358.2,1241.3 359.7,1242.3 361.3,1241.6 362.9,1242 364.4,1241.6 366,1241.8 367.5,1241 369.1,1240.8 370.6,1242.6 372.2,1241.3 373.7,1241 375.3,1242.3 376.8,1242.8 378.4,1241.8 379.9,1242.9 381.5,1242.6 383,1243.1 384.6,1242.4 386.1,1242.6 387.7,1244.7 389.2,1244.7 390.8,1244.2 392.3,1244.5 393.9,1244.1 395.4,1245.4 397,1244.9 398.5,1246.2 400.1,1246 401.6,1246.3 403.1,1246.6 404.7,1245.2 406.2,1244.8 407.7,1245.1 409.3,1245.1 410.8,1244.9 412.3,1244.8 413.9,1245.8 415.4,1246.4 416.9,1245.6 418.5,1246.6 420,1246.5 421.5,1244.8 423.1,1245.8 424.6,1245.4 426.2,1244.8 427.7,1246.4 429.2,1245 430.8,1245.6 432.3,1245.7 433.8,1246.3 435.4,1245.7 436.9,1245.1 438.5,1245.2 440,1244.6 441.5,1246.1 443.1,1246.2 444.6,1244.6 446.2,1244.2 447.7,1244.6 449.2,1244.7 450.8,1245.8 452.3,1245.8 453.8,1245.6 455.4,1244 456.9,1245.4 458.5,1245.3 460,1245.1 461.5,1245.7 463.1,1243.8 464.6,1244 466.2,1245.2 467.7,1245.5 469.2,1245 470.8,1244.2 472.3,1244.7 473.8,1245 475.4,1243.7 476.9,1244.1 478.5,1243.9 480,1243.6 481.5,1244.3 483.1,1243.7 484.6,1243.8 486.2,1243.6 487.7,1244.6 489.2,1243.2 490.8,1244.6 492.3,1243.5 493.8,1243.2 495.4,1244.9 496.9,1243.5 498.5,1244.9 500,1244.7 501.5,1244.9 503.1,1243.4 504.6,1244.1 506.2,1243.5 507.7,1245.2 509.2,1245.1 510.8,1244.8 512.3,1244.5 513.8,1244.4 515.4,1245.4 516.9,1244.8 518.5,1245.2 520,1244.3 521.5,1244.5 523.1,1244.3 524.6,1245.7 526.2,1245.4 527.7,1244.7 529.2,1246.2 530.8,1245.1 532.3,1245.4 533.8,1245 535.4,1245.3 536.9,1246.5 538.5,1245.6 540,1245.3 541.5,1246 543.1,1245.6 544.6,1246.7 546.2,1245.1 547.7,1246.8 549.2,1244.9 550.8,1246.6 552.3,1246.1 553.8,1245.1 555.4,1245.6 556.9,1245.2 558.5,1245.1 560,1245 561.5,1245.3 563.1,1246.5 564.6,1246.5 566.2,1246.3 567.7,1244.6 569.2,1245 570.8,1246.2 572.3,1244.5 573.8,1245.8 575.4,1244.9 576.9,1246.2 578.5,1244.3 580,1245.8 581.5,1244.9 583.1,1244.5 584.6,1244.2 586.2,1245.9 587.7,1245.3 589.2,1244.6 590.8,1245.2 592.3,1246.1 593.8,1244.7 595.4,1245.5 596.9,1244.6 598.5,1244.7 600,1245.9 601.5,1245.8 603.1,1244.8 604.6,1244.5 606.2,1244.6 607.7,1245.6 609.2,1245.4 610.8,1245 612.3,1244.9 613.8,1245.7 615.4,1245.9 616.9,1246.1 618.5,1245.7 620,1244.9 621.5,1244.6 623.1,1245.9 624.6,1245.3 626.2,1245.9 627.7,1244.6 629.2,1246.1 630.8,1245.1 632.3,1246.1 633.8,1246.1 635.4,1245.4 636.9,1244.4 638.5,1246.2 640,1245.3 641.5,1246.1 643.1,1244.9 644.6,1244.7 646.2,1246 647.7,1245 649.2,1244.6 650.8,1245 652.3,1245.4 653.8,1244.3 655.4,1245.3 656.9,1245.1 658.5,1245.2 660,1244.4 661.5,1245.7 663,1245.9 664.5,1246 666,1244.9 667.5,1245.7 669,1245.1 670.5,1245.9 672,1244.5 673.5,1246.2 675,1246.4 676.5,1245.5 678,1245.5 679.5,1245.6 681,1245.6 682.5,1244.6 684,1245.6" fill="none" stroke="#32cd32" stroke-width="4.6" stroke-linejoin="round" stroke-linecap="round"/>
<circle cx="247.3" cy="1235.7" r="2.9" fill="#32cd32"/><circle cx="251.4" cy="1241.7" r="2.9" fill="#32cd32"/><circle cx="254.7" cy="1241.5" r="2.9" fill="#32cd32"/><circle cx="257.9" cy="1240.2" r="2.9" fill="#32cd32"/><circle cx="261.2" cy="1240.4" r="2.9" fill="#32cd32"/><circle cx="264.5" cy="1238.5" r="2.9" fill="#32cd32"/><circle cx="267.7" cy="1237.4" r="2.9" fill="#32cd32"/><circle cx="271" cy="1232.8" r="2.9" fill="#32cd32"/><circle cx="274.2" cy="1234.5" r="2.9" fill="#32cd32"/><circle cx="277.5" cy="1236.5" r="2.9" fill="#32cd32"/><circle cx="280.8" cy="1239.6" r="2.9" fill="#32cd32"/><circle cx="284" cy="1241.4" r="2.9" fill="#32cd32"/><circle cx="287.3" cy="1239.8" r="2.9" fill="#32cd32"/><circle cx="290.5" cy="1240.6" r="2.9" fill="#32cd32"/><circle cx="293.8" cy="1241.4" r="2.9" fill="#32cd32"/><circle cx="297.1" cy="1235" r="2.9" fill="#32cd32"/><circle cx="300.4" cy="1231.6" r="2.9" fill="#32cd32"/><circle cx="303.6" cy="1244.1" r="2.9" fill="#32cd32"/><circle cx="306.9" cy="1245.3" r="2.9" fill="#32cd32"/><circle cx="310.1" cy="1245.6" r="2.9" fill="#32cd32"/><circle cx="313.4" cy="1245.6" r="2.9" fill="#32cd32"/><circle cx="316.7" cy="1246.6" r="2.9" fill="#32cd32"/><circle cx="320" cy="1247" r="2.9" fill="#32cd32"/><circle cx="323.2" cy="1249.6" r="2.9" fill="#32cd32"/><circle cx="326.5" cy="1250" r="2.9" fill="#32cd32"/><circle cx="329.8" cy="1247.9" r="2.9" fill="#32cd32"/><circle cx="333" cy="1245.6" r="2.9" fill="#32cd32"/><circle cx="336.2" cy="1244.8" r="2.9" fill="#32cd32"/><circle cx="339.5" cy="1241.6" r="2.9" fill="#32cd32"/><circle cx="342.6" cy="1242.9" r="2.9" fill="#32cd32"/><circle cx="345.7" cy="1242.4" r="2.9" fill="#32cd32"/><circle cx="348.8" cy="1242.9" r="2.9" fill="#32cd32"/><circle cx="352" cy="1242" r="2.9" fill="#32cd32"/><circle cx="355.1" cy="1241.4" r="2.9" fill="#32cd32"/><circle cx="358.2" cy="1241.3" r="2.9" fill="#32cd32"/><circle cx="361.3" cy="1241.6" r="2.9" fill="#32cd32"/><circle cx="364.4" cy="1241.6" r="2.9" fill="#32cd32"/><circle cx="367.5" cy="1241" r="2.9" fill="#32cd32"/><circle cx="370.6" cy="1242.6" r="2.9" fill="#32cd32"/><circle cx="373.7" cy="1241" r="2.9" fill="#32cd32"/><circle cx="376.8" cy="1242.8" r="2.9" fill="#32cd32"/><circle cx="379.9" cy="1242.9" r="2.9" fill="#32cd32"/><circle cx="383" cy="1243.1" r="2.9" fill="#32cd32"/><circle cx="386.1" cy="1242.6" r="2.9" fill="#32cd32"/><circle cx="389.2" cy="1244.7" r="2.9" fill="#32cd32"/><circle cx="392.3" cy="1244.5" r="2.9" fill="#32cd32"/><circle cx="395.4" cy="1245.4" r="2.9" fill="#32cd32"/><circle cx="398.5" cy="1246.2" r="2.9" fill="#32cd32"/><circle cx="401.6" cy="1246.3" r="2.9" fill="#32cd32"/><circle cx="404.7" cy="1245.2" r="2.9" fill="#32cd32"/><circle cx="407.7" cy="1245.1" r="2.9" fill="#32cd32"/><circle cx="410.8" cy="1244.9" r="2.9" fill="#32cd32"/><circle cx="413.9" cy="1245.8" r="2.9" fill="#32cd32"/><circle cx="416.9" cy="1245.6" r="2.9" fill="#32cd32"/><circle cx="420" cy="1246.5" r="2.9" fill="#32cd32"/><circle cx="423.1" cy="1245.8" r="2.9" fill="#32cd32"/><circle cx="426.2" cy="1244.8" r="2.9" fill="#32cd32"/><circle cx="429.2" cy="1245" r="2.9" fill="#32cd32"/><circle cx="432.3" cy="1245.7" r="2.9" fill="#32cd32"/><circle cx="435.4" cy="1245.7" r="2.9" fill="#32cd32"/><circle cx="438.5" cy="1245.2" r="2.9" fill="#32cd32"/><circle cx="441.5" cy="1246.1" r="2.9" fill="#32cd32"/><circle cx="444.6" cy="1244.6" r="2.9" fill="#32cd32"/><circle cx="447.7" cy="1244.6" r="2.9" fill="#32cd32"/><circle cx="450.8" cy="1245.8" r="2.9" fill="#32cd32"/><circle cx="453.8" cy="1245.6" r="2.9" fill="#32cd32"/><circle cx="456.9" cy="1245.4" r="2.9" fill="#32cd32"/><circle cx="460" cy="1245.1" r="2.9" fill="#32cd32"/><circle cx="463.1" cy="1243.8" r="2.9" fill="#32cd32"/><circle cx="466.2" cy="1245.2" r="2.9" fill="#32cd32"/><circle cx="469.2" cy="1245" r="2.9" fill="#32cd32"/><circle cx="472.3" cy="1244.7" r="2.9" fill="#32cd32"/><circle cx="475.4" cy="1243.7" r="2.9" fill="#32cd32"/><circle cx="478.5" cy="1243.9" r="2.9" fill="#32cd32"/><circle cx="481.5" cy="1244.3" r="2.9" fill="#32cd32"/><circle cx="484.6" cy="1243.8" r="2.9" fill="#32cd32"/><circle cx="487.7" cy="1244.6" r="2.9" fill="#32cd32"/><circle cx="490.8" cy="1244.6" r="2.9" fill="#32cd32"/><circle cx="493.8" cy="1243.2" r="2.9" fill="#32cd32"/><circle cx="496.9" cy="1243.5" r="2.9" fill="#32cd32"/><circle cx="500" cy="1244.7" r="2.9" fill="#32cd32"/><circle cx="503.1" cy="1243.4" r="2.9" fill="#32cd32"/><circle cx="506.2" cy="1243.5" r="2.9" fill="#32cd32"/><circle cx="509.2" cy="1245.1" r="2.9" fill="#32cd32"/><circle cx="512.3" cy="1244.5" r="2.9" fill="#32cd32"/><circle cx="515.4" cy="1245.4" r="2.9" fill="#32cd32"/><circle cx="518.5" cy="1245.2" r="2.9" fill="#32cd32"/><circle cx="521.5" cy="1244.5" r="2.9" fill="#32cd32"/><circle cx="524.6" cy="1245.7" r="2.9" fill="#32cd32"/><circle cx="527.7" cy="1244.7" r="2.9" fill="#32cd32"/><circle cx="530.8" cy="1245.1" r="2.9" fill="#32cd32"/><circle cx="533.8" cy="1245" r="2.9" fill="#32cd32"/><circle cx="536.9" cy="1246.5" r="2.9" fill="#32cd32"/><circle cx="540" cy="1245.3" r="2.9" fill="#32cd32"/><circle cx="543.1" cy="1245.6" r="2.9" fill="#32cd32"/><circle cx="546.2" cy="1245.1" r="2.9" fill="#32cd32"/><circle cx="549.2" cy="1244.9" r="2.9" fill="#32cd32"/><circle cx="552.3" cy="1246.1" r="2.9" fill="#32cd32"/><circle cx="555.4" cy="1245.6" r="2.9" fill="#32cd32"/><circle cx="558.5" cy="1245.1" r="2.9" fill="#32cd32"/><circle cx="561.5" cy="1245.3" r="2.9" fill="#32cd32"/><circle cx="564.6" cy="1246.5" r="2.9" fill="#32cd32"/><circle cx="567.7" cy="1244.6" r="2.9" fill="#32cd32"/><circle cx="570.8" cy="1246.2" r="2.9" fill="#32cd32"/><circle cx="573.8" cy="1245.8" r="2.9" fill="#32cd32"/><circle cx="576.9" cy="1246.2" r="2.9" fill="#32cd32"/><circle cx="580" cy="1245.8" r="2.9" fill="#32cd32"/><circle cx="583.1" cy="1244.5" r="2.9" fill="#32cd32"/><circle cx="586.2" cy="1245.9" r="2.9" fill="#32cd32"/><circle cx="589.2" cy="1244.6" r="2.9" fill="#32cd32"/><circle cx="592.3" cy="1246.1" r="2.9" fill="#32cd32"/><circle cx="595.4" cy="1245.5" r="2.9" fill="#32cd32"/><circle cx="598.5" cy="1244.7" r="2.9" fill="#32cd32"/><circle cx="601.5" cy="1245.8" r="2.9" fill="#32cd32"/><circle cx="604.6" cy="1244.5" r="2.9" fill="#32cd32"/><circle cx="607.7" cy="1245.6" r="2.9" fill="#32cd32"/><circle cx="610.8" cy="1245" r="2.9" fill="#32cd32"/><circle cx="613.8" cy="1245.7" r="2.9" fill="#32cd32"/><circle cx="616.9" cy="1246.1" r="2.9" fill="#32cd32"/><circle cx="620" cy="1244.9" r="2.9" fill="#32cd32"/><circle cx="623.1" cy="1245.9" r="2.9" fill="#32cd32"/><circle cx="626.2" cy="1245.9" r="2.9" fill="#32cd32"/><circle cx="629.2" cy="1246.1" r="2.9" fill="#32cd32"/><circle cx="632.3" cy="1246.1" r="2.9" fill="#32cd32"/><circle cx="635.4" cy="1245.4" r="2.9" fill="#32cd32"/><circle cx="638.5" cy="1246.2" r="2.9" fill="#32cd32"/><circle cx="641.5" cy="1246.1" r="2.9" fill="#32cd32"/><circle cx="644.6" cy="1244.7" r="2.9" fill="#32cd32"/><circle cx="647.7" cy="1245" r="2.9" fill="#32cd32"/><circle cx="650.8" cy="1245" r="2.9" fill="#32cd32"/><circle cx="653.8" cy="1244.3" r="2.9" fill="#32cd32"/><circle cx="656.9" cy="1245.1" r="2.9" fill="#32cd32"/><circle cx="660" cy="1244.4" r="2.9" fill="#32cd32"/><circle cx="663" cy="1245.9" r="2.9" fill="#32cd32"/><circle cx="666" cy="1244.9" r="2.9" fill="#32cd32"/><circle cx="669" cy="1245.1" r="2.9" fill="#32cd32"/><circle cx="672" cy="1244.5" r="2.9" fill="#32cd32"/><circle cx="675" cy="1246.4" r="2.9" fill="#32cd32"/><circle cx="678" cy="1245.5" r="2.9" fill="#32cd32"/><circle cx="681" cy="1245.6" r="2.9" fill="#32cd32"/><circle cx="684" cy="1245.6" r="2.9" fill="#32cd32"/>
<circle cx="989" cy="1189.3" r="3.2" fill="#32cd32" fill-opacity="0.1" stroke="#32cd32" stroke-opacity="0.16" stroke-width="1.2"/>
<circle cx="993.8" cy="1193.6" r="3.2" fill="#32cd32" fill-opacity="0.1" stroke="#32cd32" stroke-opacity="0.16" stroke-width="1.2"/>
<circle cx="996.3" cy="1187.5" r="3.2" fill="#32cd32" fill-opacity="0.1" stroke="#32cd32" stroke-opacity="0.16" stroke-width="1.2"/>
<circle cx="996.9" cy="1200.7" r="3.2" fill="#32cd32" fill-opacity="0.1" stroke="#32cd32" stroke-opacity="0.16" stroke-width="1.2"/>
<circle cx="997.2" cy="1190.2" r="3.2" fill="#32cd32" fill-opacity="0.1" stroke="#32cd32" stroke-opacity="0.16" stroke-width="1.2"/>
<circle cx="1002.4" cy="1193.1" r="3.2" fill="#32cd32" fill-opacity="0.1" stroke="#32cd32" stroke-opacity="0.16" stroke-width="1.2"/>
<circle cx="1006" cy="1189" r="3.2" fill="#32cd32" fill-opacity="0.1" stroke="#32cd32" stroke-opacity="0.16" stroke-width="1.2"/>
<circle cx="1011.3" cy="1187.4" r="3.2" fill="#32cd32" fill-opacity="0.1" stroke="#32cd32" stroke-opacity="0.16" stroke-width="1.2"/>
<circle cx="1009.9" cy="1202.7" r="3.2" fill="#32cd32" fill-opacity="0.1" stroke="#32cd32" stroke-opacity="0.16" stroke-width="1.2"/>
<circle cx="1016.4" cy="1210.1" r="3.2" fill="#32cd32" fill-opacity="0.1" stroke="#32cd32" stroke-opacity="0.16" stroke-width="1.2"/>
<circle cx="1018.3" cy="1204.5" r="3.2" fill="#32cd32" fill-opacity="0.1" stroke="#32cd32" stroke-opacity="0.16" stroke-width="1.2"/>
<circle cx="1022.6" cy="1211" r="3.2" fill="#32cd32" fill-opacity="0.1" stroke="#32cd32" stroke-opacity="0.16" stroke-width="1.2"/>
<circle cx="1023.6" cy="1211.2" r="3.2" fill="#32cd32" fill-opacity="0.1" stroke="#32cd32" stroke-opacity="0.16" stroke-width="1.2"/>
<circle cx="1025" cy="1225.1" r="3.2" fill="#32cd32" fill-opacity="0.1" stroke="#32cd32" stroke-opacity="0.16" stroke-width="1.2"/>
<circle cx="1030.1" cy="1222.1" r="3.2" fill="#32cd32" fill-opacity="0.1" stroke="#32cd32" stroke-opacity="0.16" stroke-width="1.2"/>
<circle cx="1033.8" cy="1221" r="3.2" fill="#32cd32" fill-opacity="0.1" stroke="#32cd32" stroke-opacity="0.16" stroke-width="1.2"/>
<circle cx="1029.6" cy="1224" r="3.2" fill="#32cd32" fill-opacity="0.1" stroke="#32cd32" stroke-opacity="0.16" stroke-width="1.2"/>
<circle cx="1032.1" cy="1206.3" r="3.2" fill="#32cd32" fill-opacity="0.1" stroke="#32cd32" stroke-opacity="0.16" stroke-width="1.2"/>
<circle cx="1038.2" cy="1215.2" r="3.2" fill="#32cd32" fill-opacity="0.1" stroke="#32cd32" stroke-opacity="0.16" stroke-width="1.2"/>
<circle cx="1042.8" cy="1205.7" r="3.2" fill="#32cd32" fill-opacity="0.1" stroke="#32cd32" stroke-opacity="0.16" stroke-width="1.2"/>
<circle cx="1045.1" cy="1195.1" r="3.2" fill="#32cd32" fill-opacity="0.1" stroke="#32cd32" stroke-opacity="0.16" stroke-width="1.2"/>
<circle cx="1053.7" cy="1194.6" r="3.2" fill="#32cd32" fill-opacity="0.1" stroke="#32cd32" stroke-opacity="0.16" stroke-width="1.2"/>
<circle cx="1051.1" cy="1199" r="3.2" fill="#32cd32" fill-opacity="0.1" stroke="#32cd32" stroke-opacity="0.16" stroke-width="1.2"/>
<circle cx="1056.1" cy="1205.6" r="3.2" fill="#32cd32" fill-opacity="0.1" stroke="#32cd32" stroke-opacity="0.16" stroke-width="1.2"/>
<circle cx="1056.7" cy="1206.7" r="3.2" fill="#32cd32" fill-opacity="0.1" stroke="#32cd32" stroke-opacity="0.16" stroke-width="1.2"/>
<circle cx="1058.7" cy="1214.1" r="3.2" fill="#32cd32" fill-opacity="0.1" stroke="#32cd32" stroke-opacity="0.16" stroke-width="1.2"/>
<circle cx="1062.4" cy="1217.6" r="3.2" fill="#32cd32" fill-opacity="0.1" stroke="#32cd32" stroke-opacity="0.16" stroke-width="1.2"/>
<circle cx="1064.3" cy="1227.4" r="3.2" fill="#32cd32" fill-opacity="0.1" stroke="#32cd32" stroke-opacity="0.16" stroke-width="1.2"/>
<circle cx="1071.1" cy="1222" r="3.2" fill="#32cd32" fill-opacity="0.1" stroke="#32cd32" stroke-opacity="0.16" stroke-width="1.2"/>
<circle cx="1073.5" cy="1241.9" r="3.2" fill="#32cd32" fill-opacity="0.1" stroke="#32cd32" stroke-opacity="0.16" stroke-width="1.2"/>
<circle cx="1069.1" cy="1248.6" r="3.2" fill="#32cd32" fill-opacity="0.1" stroke="#32cd32" stroke-opacity="0.16" stroke-width="1.2"/>
<circle cx="1066.4" cy="1239" r="3.2" fill="#32cd32" fill-opacity="0.1" stroke="#32cd32" stroke-opacity="0.16" stroke-width="1.2"/>
<circle cx="1061.7" cy="1233.8" r="3.2" fill="#32cd32" fill-opacity="0.1" stroke="#32cd32" stroke-opacity="0.16" stroke-width="1.2"/>
<circle cx="994.2" cy="1200.2" r="3.2" fill="#32cd32" fill-opacity="0.1" stroke="#32cd32" stroke-opacity="0.16" stroke-width="1.2"/>
<circle cx="992.1" cy="1183.3" r="3.2" fill="#32cd32" fill-opacity="0.1" stroke="#32cd32" stroke-opacity="0.16" stroke-width="1.2"/>
<circle cx="999.4" cy="1187.9" r="3.2" fill="#32cd32" fill-opacity="0.1" stroke="#32cd32" stroke-opacity="0.16" stroke-width="1.2"/>
<circle cx="1008.4" cy="1194.6" r="3.2" fill="#32cd32" fill-opacity="0.1" stroke="#32cd32" stroke-opacity="0.16" stroke-width="1.2"/>
<circle cx="1013.1" cy="1201.8" r="3.2" fill="#32cd32" fill-opacity="0.1" stroke="#32cd32" stroke-opacity="0.16" stroke-width="1.2"/>
<circle cx="1018.4" cy="1213.8" r="3.2" fill="#32cd32" fill-opacity="0.1" stroke="#32cd32" stroke-opacity="0.16" stroke-width="1.2"/>
<circle cx="1018.5" cy="1212.1" r="3.2" fill="#32cd32" fill-opacity="0.1" stroke="#32cd32" stroke-opacity="0.16" stroke-width="1.2"/>
<circle cx="1030.5" cy="1205.3" r="3.2" fill="#32cd32" fill-opacity="0.1" stroke="#32cd32" stroke-opacity="0.16" stroke-width="1.2"/>
<circle cx="1037.9" cy="1232.2" r="3.2" fill="#32cd32" fill-opacity="0.1" stroke="#32cd32" stroke-opacity="0.16" stroke-width="1.2"/>
<circle cx="1039.6" cy="1215.2" r="3.2" fill="#32cd32" fill-opacity="0.1" stroke="#32cd32" stroke-opacity="0.16" stroke-width="1.2"/>
<circle cx="1043.5" cy="1214.5" r="3.2" fill="#32cd32" fill-opacity="0.1" stroke="#32cd32" stroke-opacity="0.16" stroke-width="1.2"/>
<circle cx="1053.4" cy="1202.2" r="3.2" fill="#32cd32" fill-opacity="0.1" stroke="#32cd32" stroke-opacity="0.16" stroke-width="1.2"/>
<circle cx="1051.9" cy="1218.8" r="3.2" fill="#32cd32" fill-opacity="0.1" stroke="#32cd32" stroke-opacity="0.16" stroke-width="1.2"/>
<circle cx="1060" cy="1222.5" r="3.2" fill="#32cd32" fill-opacity="0.1" stroke="#32cd32" stroke-opacity="0.16" stroke-width="1.2"/>
<circle cx="1069.1" cy="1214.8" r="3.2" fill="#32cd32" fill-opacity="0.1" stroke="#32cd32" stroke-opacity="0.16" stroke-width="1.2"/>
<circle cx="1074.1" cy="1228.5" r="3.2" fill="#32cd32" fill-opacity="0.1" stroke="#32cd32" stroke-opacity="0.16" stroke-width="1.2"/>
<circle cx="1062.7" cy="1237.7" r="3.2" fill="#32cd32" fill-opacity="0.1" stroke="#32cd32" stroke-opacity="0.16" stroke-width="1.2"/>
<polyline points="990.1,1187 993.1,1189.5 996.2,1192.1 999.2,1194.6 1001.8,1193.6 1004.5,1192.7 1007.1,1191.8 1009.7,1190.8 1012.2,1196.8 1014.7,1202.9 1017.2,1208.9 1020.2,1213.4 1023.3,1217.9 1026.3,1222.4 1028.8,1221.9 1031.3,1221.5 1033.8,1221 1036.5,1216.5 1039.1,1212 1041.8,1207.4 1044.4,1202.9 1048.9,1196.1 1051.4,1200.4 1053.9,1204.6 1056.4,1208.9 1059.4,1212.9 1062.5,1217 1065.5,1221 1070,1211.9 1072.2,1240.5 1069.2,1242.5 1066.2,1244.6 1063.2,1246.6" fill="none" stroke="#32cd32" stroke-width="2.4" stroke-linejoin="round" stroke-linecap="round" stroke-opacity="0.1"/>
<polyline points="1074,1255.6 1075.3,1272.2 1078.3,1343 1080.5,1309.8 1082.4,1307.5 1084.3,1308.3 1086.2,1326.4 1088.1,1355 1091.1,1358 1093.3,1323.4 1095.1,1318.9 1096.8,1310.1 1098.6,1297 1100.8,1302.6 1103.1,1318.9 1105.1,1337.4 1107.2,1341.1 1109.2,1343 1112.2,1296.3 1114.1,1287.7 1116,1303.5 1117.8,1298.9 1119.7,1293.3 1122,1317.4 1124.2,1266.1 1126.1,1286.2 1128,1320.4 1130.2,1267.6 1132.5,1274.7 1134.8,1293.3 1136.3,1252.6 1138.5,1267.1 1140.8,1267.6 1143.8,1222.4 1146.8,1207.4 1148.7,1197.1 1150.6,1210.4 1152.8,1270.7 1155.9,1220.9 1158.9,1236 1159.6,1164.4 1161.3,1159.8 1162.9,1171.7 1164.6,1149 1166.2,1153 1167.9,1150.1 1170.9,1208.9 1172.4,1135.8 1174.3,1172.1 1176.2,1193.8 1178,1190 1179.7,1177.9 1181.5,1162.2 1183.8,1177.8 1186,1192.3 1188.2,1178.9 1190.5,1150.1 1191.8,1149.8 1193.6,1171.3 1196,1203.5 1198.3,1186.8 1203.1,1161.7 1205.5,1184.4 1208.5,1161.1 1212.7,1187.4 1216.2,1165.3 1223.4,1158.2 1230,1143.3 1231.7,1161.7 1237.7,1155.8 1241.9,1159.4 1243.1,1140.9 1247.3,1149.8 1248.4,1173.7 1254.4,1171.3 1259.2,1195.1 1261.6,1202.3 1266.3,1207.1 1273.5,1203.5 1278.3,1189.2 1284.2,1176.1 1285.4,1165.9 1295,1160.6 1299.7,1161.7 1300.9,1148.6 1309.3,1131.3 1312.9,1150.4 1316.4,1134.3 1327.2,1139.1 1335.5,1151.6 1345.1,1149.2 1355.8,1166.5 1359.4,1135.5 1361.2,1164.1 1363,1177.3 1368,1186.3 1378.1,1184.3 1380.1,1177.3 1387.1,1186.3 1390.1,1176.2 1394.2,1189.3 1397.2,1150.1 1399.7,1147.1 1402.2,1162.2 1404.2,1178.3 1407.2,1196.3 1410.2,1194.3 1414.2,1176.2 1418.3,1173.2 1422.3,1178.3 1428.3,1173.2 1435.3,1180.3 1445.4,1175.2 1450.4,1182.3 1455.4,1184.3 1460.4,1174.2 1467.5,1181.3 1470.5,1170.2 1478.5,1174.2 1479.5,1162.2 1483.5,1158.2 1489.6,1164.2 1490.6,1174.2" fill="none" stroke="#32cd32" stroke-width="4.4" stroke-linejoin="round" stroke-linecap="round"/>
<circle cx="1074" cy="1255.6" r="3.2" fill="#32cd32"/><circle cx="1075.3" cy="1272.2" r="3.2" fill="#32cd32"/><circle cx="1078.3" cy="1343" r="3.2" fill="#32cd32"/><circle cx="1080.5" cy="1309.8" r="3.2" fill="#32cd32"/><circle cx="1082.4" cy="1307.5" r="3.2" fill="#32cd32"/><circle cx="1084.3" cy="1308.3" r="3.2" fill="#32cd32"/><circle cx="1086.2" cy="1326.4" r="3.2" fill="#32cd32"/><circle cx="1088.1" cy="1355" r="3.2" fill="#32cd32"/><circle cx="1091.1" cy="1358" r="3.2" fill="#32cd32"/><circle cx="1093.3" cy="1323.4" r="3.2" fill="#32cd32"/><circle cx="1095.1" cy="1318.9" r="3.2" fill="#32cd32"/><circle cx="1096.8" cy="1310.1" r="3.2" fill="#32cd32"/><circle cx="1098.6" cy="1297" r="3.2" fill="#32cd32"/><circle cx="1100.8" cy="1302.6" r="3.2" fill="#32cd32"/><circle cx="1103.1" cy="1318.9" r="3.2" fill="#32cd32"/><circle cx="1105.1" cy="1337.4" r="3.2" fill="#32cd32"/><circle cx="1107.2" cy="1341.1" r="3.2" fill="#32cd32"/><circle cx="1109.2" cy="1343" r="3.2" fill="#32cd32"/><circle cx="1112.2" cy="1296.3" r="3.2" fill="#32cd32"/><circle cx="1114.1" cy="1287.7" r="3.2" fill="#32cd32"/><circle cx="1116" cy="1303.5" r="3.2" fill="#32cd32"/><circle cx="1117.8" cy="1298.9" r="3.2" fill="#32cd32"/><circle cx="1119.7" cy="1293.3" r="3.2" fill="#32cd32"/><circle cx="1122" cy="1317.4" r="3.2" fill="#32cd32"/><circle cx="1124.2" cy="1266.1" r="3.2" fill="#32cd32"/><circle cx="1126.1" cy="1286.2" r="3.2" fill="#32cd32"/><circle cx="1128" cy="1320.4" r="3.2" fill="#32cd32"/><circle cx="1130.2" cy="1267.6" r="3.2" fill="#32cd32"/><circle cx="1132.5" cy="1274.7" r="3.2" fill="#32cd32"/><circle cx="1134.8" cy="1293.3" r="3.2" fill="#32cd32"/><circle cx="1136.3" cy="1252.6" r="3.2" fill="#32cd32"/><circle cx="1138.5" cy="1267.1" r="3.2" fill="#32cd32"/><circle cx="1140.8" cy="1267.6" r="3.2" fill="#32cd32"/><circle cx="1143.8" cy="1222.4" r="3.2" fill="#32cd32"/><circle cx="1146.8" cy="1207.4" r="3.2" fill="#32cd32"/><circle cx="1148.7" cy="1197.1" r="3.2" fill="#32cd32"/><circle cx="1150.6" cy="1210.4" r="3.2" fill="#32cd32"/><circle cx="1152.8" cy="1270.7" r="3.2" fill="#32cd32"/><circle cx="1155.9" cy="1220.9" r="3.2" fill="#32cd32"/><circle cx="1158.9" cy="1236" r="3.2" fill="#32cd32"/><circle cx="1159.6" cy="1164.4" r="3.2" fill="#32cd32"/><circle cx="1161.3" cy="1159.8" r="3.2" fill="#32cd32"/><circle cx="1162.9" cy="1171.7" r="3.2" fill="#32cd32"/><circle cx="1164.6" cy="1149" r="3.2" fill="#32cd32"/><circle cx="1166.2" cy="1153" r="3.2" fill="#32cd32"/><circle cx="1167.9" cy="1150.1" r="3.2" fill="#32cd32"/><circle cx="1170.9" cy="1208.9" r="3.2" fill="#32cd32"/><circle cx="1172.4" cy="1135.8" r="3.2" fill="#32cd32"/><circle cx="1174.3" cy="1172.1" r="3.2" fill="#32cd32"/><circle cx="1176.2" cy="1193.8" r="3.2" fill="#32cd32"/><circle cx="1178" cy="1190" r="3.2" fill="#32cd32"/><circle cx="1179.7" cy="1177.9" r="3.2" fill="#32cd32"/><circle cx="1181.5" cy="1162.2" r="3.2" fill="#32cd32"/><circle cx="1183.8" cy="1177.8" r="3.2" fill="#32cd32"/><circle cx="1186" cy="1192.3" r="3.2" fill="#32cd32"/><circle cx="1188.2" cy="1178.9" r="3.2" fill="#32cd32"/><circle cx="1190.5" cy="1150.1" r="3.2" fill="#32cd32"/><circle cx="1191.8" cy="1149.8" r="3.2" fill="#32cd32"/><circle cx="1193.6" cy="1171.3" r="3.2" fill="#32cd32"/><circle cx="1196" cy="1203.5" r="3.2" fill="#32cd32"/><circle cx="1198.3" cy="1186.8" r="3.2" fill="#32cd32"/><circle cx="1203.1" cy="1161.7" r="3.2" fill="#32cd32"/><circle cx="1205.5" cy="1184.4" r="3.2" fill="#32cd32"/><circle cx="1208.5" cy="1161.1" r="3.2" fill="#32cd32"/><circle cx="1212.7" cy="1187.4" r="3.2" fill="#32cd32"/><circle cx="1216.2" cy="1165.3" r="3.2" fill="#32cd32"/><circle cx="1223.4" cy="1158.2" r="3.2" fill="#32cd32"/><circle cx="1230" cy="1143.3" r="3.2" fill="#32cd32"/><circle cx="1231.7" cy="1161.7" r="3.2" fill="#32cd32"/><circle cx="1237.7" cy="1155.8" r="3.2" fill="#32cd32"/><circle cx="1241.9" cy="1159.4" r="3.2" fill="#32cd32"/><circle cx="1243.1" cy="1140.9" r="3.2" fill="#32cd32"/><circle cx="1247.3" cy="1149.8" r="3.2" fill="#32cd32"/><circle cx="1248.4" cy="1173.7" r="3.2" fill="#32cd32"/><circle cx="1254.4" cy="1171.3" r="3.2" fill="#32cd32"/><circle cx="1259.2" cy="1195.1" r="3.2" fill="#32cd32"/><circle cx="1261.6" cy="1202.3" r="3.2" fill="#32cd32"/><circle cx="1266.3" cy="1207.1" r="3.2" fill="#32cd32"/><circle cx="1273.5" cy="1203.5" r="3.2" fill="#32cd32"/><circle cx="1278.3" cy="1189.2" r="3.2" fill="#32cd32"/><circle cx="1284.2" cy="1176.1" r="3.2" fill="#32cd32"/><circle cx="1285.4" cy="1165.9" r="3.2" fill="#32cd32"/><circle cx="1295" cy="1160.6" r="3.2" fill="#32cd32"/><circle cx="1299.7" cy="1161.7" r="3.2" fill="#32cd32"/><circle cx="1300.9" cy="1148.6" r="3.2" fill="#32cd32"/><circle cx="1309.3" cy="1131.3" r="3.2" fill="#32cd32"/><circle cx="1312.9" cy="1150.4" r="3.2" fill="#32cd32"/><circle cx="1316.4" cy="1134.3" r="3.2" fill="#32cd32"/><circle cx="1327.2" cy="1139.1" r="3.2" fill="#32cd32"/><circle cx="1335.5" cy="1151.6" r="3.2" fill="#32cd32"/><circle cx="1345.1" cy="1149.2" r="3.2" fill="#32cd32"/><circle cx="1355.8" cy="1166.5" r="3.2" fill="#32cd32"/><circle cx="1359.4" cy="1135.5" r="3.2" fill="#32cd32"/><circle cx="1361.2" cy="1164.1" r="3.2" fill="#32cd32"/><circle cx="1363" cy="1177.3" r="3.2" fill="#32cd32"/><circle cx="1368" cy="1186.3" r="3.2" fill="#32cd32"/><circle cx="1378.1" cy="1184.3" r="3.2" fill="#32cd32"/><circle cx="1380.1" cy="1177.3" r="3.2" fill="#32cd32"/><circle cx="1387.1" cy="1186.3" r="3.2" fill="#32cd32"/><circle cx="1390.1" cy="1176.2" r="3.2" fill="#32cd32"/><circle cx="1394.2" cy="1189.3" r="3.2" fill="#32cd32"/><circle cx="1397.2" cy="1150.1" r="3.2" fill="#32cd32"/><circle cx="1399.7" cy="1147.1" r="3.2" fill="#32cd32"/><circle cx="1402.2" cy="1162.2" r="3.2" fill="#32cd32"/><circle cx="1404.2" cy="1178.3" r="3.2" fill="#32cd32"/><circle cx="1407.2" cy="1196.3" r="3.2" fill="#32cd32"/><circle cx="1410.2" cy="1194.3" r="3.2" fill="#32cd32"/><circle cx="1414.2" cy="1176.2" r="3.2" fill="#32cd32"/><circle cx="1418.3" cy="1173.2" r="3.2" fill="#32cd32"/><circle cx="1422.3" cy="1178.3" r="3.2" fill="#32cd32"/><circle cx="1428.3" cy="1173.2" r="3.2" fill="#32cd32"/><circle cx="1435.3" cy="1180.3" r="3.2" fill="#32cd32"/><circle cx="1445.4" cy="1175.2" r="3.2" fill="#32cd32"/><circle cx="1450.4" cy="1182.3" r="3.2" fill="#32cd32"/><circle cx="1455.4" cy="1184.3" r="3.2" fill="#32cd32"/><circle cx="1460.4" cy="1174.2" r="3.2" fill="#32cd32"/><circle cx="1467.5" cy="1181.3" r="3.2" fill="#32cd32"/><circle cx="1470.5" cy="1170.2" r="3.2" fill="#32cd32"/><circle cx="1478.5" cy="1174.2" r="3.2" fill="#32cd32"/><circle cx="1479.5" cy="1162.2" r="3.2" fill="#32cd32"/><circle cx="1483.5" cy="1158.2" r="3.2" fill="#32cd32"/><circle cx="1489.6" cy="1164.2" r="3.2" fill="#32cd32"/><circle cx="1490.6" cy="1174.2" r="3.2" fill="#32cd32"/>
<defs><pattern id="dots" width="48" height="48" patternUnits="userSpaceOnUse"><rect width="48" height="48" fill="#2a0000"/><circle cx="7.9" cy="33.1" r="3.0" fill="#d80000" stroke="#000" stroke-opacity="0.55" stroke-width="1.3"/><circle cx="30.5" cy="23.0" r="3.0" fill="#d80000" stroke="#000" stroke-opacity="0.55" stroke-width="1.3"/><circle cx="10.4" cy="38.0" r="3.0" fill="#b00000" stroke="#000" stroke-opacity="0.55" stroke-width="1.3"/><circle cx="38.8" cy="24.6" r="3.0" fill="#b00000" stroke="#000" stroke-opacity="0.55" stroke-width="1.3"/><circle cx="24.2" cy="11.3" r="3.0" fill="#b00000" stroke="#000" stroke-opacity="0.55" stroke-width="1.3"/><circle cx="0.2" cy="17.8" r="3.0" fill="#e80000" stroke="#000" stroke-opacity="0.55" stroke-width="1.3"/><circle cx="48.2" cy="17.8" r="3.0" fill="#d80000" stroke="#000" stroke-opacity="0.55" stroke-width="1.3"/><circle cx="28.1" cy="3.3" r="3.0" fill="#b00000" stroke="#000" stroke-opacity="0.55" stroke-width="1.3"/><circle cx="28.1" cy="51.3" r="3.0" fill="#b00000" stroke="#000" stroke-opacity="0.55" stroke-width="1.3"/><circle cx="38.1" cy="11.1" r="3.0" fill="#d80000" stroke="#000" stroke-opacity="0.55" stroke-width="1.3"/><circle cx="11.2" cy="2.0" r="3.0" fill="#b00000" stroke="#000" stroke-opacity="0.55" stroke-width="1.3"/><circle cx="11.2" cy="50.0" r="3.0" fill="#b00000" stroke="#000" stroke-opacity="0.55" stroke-width="1.3"/><circle cx="-0.1" cy="35.5" r="3.0" fill="#e80000" stroke="#000" stroke-opacity="0.55" stroke-width="1.3"/><circle cx="47.9" cy="35.5" r="3.0" fill="#c00000" stroke="#000" stroke-opacity="0.55" stroke-width="1.3"/><circle cx="42.0" cy="29.6" r="3.0" fill="#b00000" stroke="#000" stroke-opacity="0.55" stroke-width="1.3"/><circle cx="6.0" cy="-3.5" r="3.0" fill="#c00000" stroke="#000" stroke-opacity="0.55" stroke-width="1.3"/><circle cx="6.0" cy="44.5" r="3.0" fill="#b00000" stroke="#000" stroke-opacity="0.55" stroke-width="1.3"/><circle cx="21.8" cy="26.5" r="3.0" fill="#c00000" stroke="#000" stroke-opacity="0.55" stroke-width="1.3"/><circle cx="16.5" cy="23.3" r="3.0" fill="#b00000" stroke="#000" stroke-opacity="0.55" stroke-width="1.3"/><circle cx="-1.5" cy="42.9" r="3.0" fill="#e80000" stroke="#000" stroke-opacity="0.55" stroke-width="1.3"/><circle cx="46.5" cy="42.9" r="3.0" fill="#c00000" stroke="#000" stroke-opacity="0.55" stroke-width="1.3"/><circle cx="36.2" cy="36.6" r="3.0" fill="#c00000" stroke="#000" stroke-opacity="0.55" stroke-width="1.3"/><circle cx="27.9" cy="35.0" r="3.0" fill="#b00000" stroke="#000" stroke-opacity="0.55" stroke-width="1.3"/><circle cx="5.9" cy="22.9" r="3.0" fill="#b00000" stroke="#000" stroke-opacity="0.55" stroke-width="1.3"/><circle cx="19.7" cy="17.5" r="3.0" fill="#b00000" stroke="#000" stroke-opacity="0.55" stroke-width="1.3"/><circle cx="1.3" cy="4.5" r="3.0" fill="#e80000" stroke="#000" stroke-opacity="0.55" stroke-width="1.3"/><circle cx="1.3" cy="52.5" r="3.0" fill="#e80000" stroke="#000" stroke-opacity="0.55" stroke-width="1.3"/><circle cx="49.3" cy="4.5" r="3.0" fill="#d80000" stroke="#000" stroke-opacity="0.55" stroke-width="1.3"/><circle cx="49.3" cy="52.5" r="3.0" fill="#b00000" stroke="#000" stroke-opacity="0.55" stroke-width="1.3"/><circle cx="34.5" cy="-0.3" r="3.0" fill="#c00000" stroke="#000" stroke-opacity="0.55" stroke-width="1.3"/><circle cx="34.5" cy="47.7" r="3.0" fill="#b00000" stroke="#000" stroke-opacity="0.55" stroke-width="1.3"/><circle cx="26.7" cy="29.9" r="3.0" fill="#c00000" stroke="#000" stroke-opacity="0.55" stroke-width="1.3"/><circle cx="8.7" cy="8.2" r="3.0" fill="#c00000" stroke="#000" stroke-opacity="0.55" stroke-width="1.3"/><circle cx="16.7" cy="-3.5" r="3.0" fill="#b00000" stroke="#000" stroke-opacity="0.55" stroke-width="1.3"/><circle cx="16.7" cy="44.5" r="3.0" fill="#c00000" stroke="#000" stroke-opacity="0.55" stroke-width="1.3"/><circle cx="16.6" cy="28.7" r="3.0" fill="#b00000" stroke="#000" stroke-opacity="0.55" stroke-width="1.3"/><circle cx="37.3" cy="18.0" r="3.0" fill="#d80000" stroke="#000" stroke-opacity="0.55" stroke-width="1.3"/><circle cx="32.8" cy="32.4" r="3.0" fill="#b00000" stroke="#000" stroke-opacity="0.55" stroke-width="1.3"/><circle cx="18.0" cy="11.9" r="3.0" fill="#e80000" stroke="#000" stroke-opacity="0.55" stroke-width="1.3"/><circle cx="42.1" cy="7.8" r="3.0" fill="#c00000" stroke="#000" stroke-opacity="0.55" stroke-width="1.3"/><circle cx="40.2" cy="2.5" r="3.0" fill="#d80000" stroke="#000" stroke-opacity="0.55" stroke-width="1.3"/><circle cx="40.2" cy="50.5" r="3.0" fill="#d80000" stroke="#000" stroke-opacity="0.55" stroke-width="1.3"/><circle cx="12.4" cy="13.9" r="3.0" fill="#b00000" stroke="#000" stroke-opacity="0.55" stroke-width="1.3"/><circle cx="1.4" cy="10.2" r="3.0" fill="#b00000" stroke="#000" stroke-opacity="0.55" stroke-width="1.3"/><circle cx="49.4" cy="10.2" r="3.0" fill="#d80000" stroke="#000" stroke-opacity="0.55" stroke-width="1.3"/><circle cx="1.1" cy="28.5" r="3.0" fill="#c00000" stroke="#000" stroke-opacity="0.55" stroke-width="1.3"/><circle cx="49.1" cy="28.5" r="3.0" fill="#c00000" stroke="#000" stroke-opacity="0.55" stroke-width="1.3"/><circle cx="30.9" cy="40.9" r="3.0" fill="#d80000" stroke="#000" stroke-opacity="0.55" stroke-width="1.3"/><circle cx="18.1" cy="34.1" r="3.0" fill="#c00000" stroke="#000" stroke-opacity="0.55" stroke-width="1.3"/><circle cx="-4.8" cy="14.2" r="3.0" fill="#c00000" stroke="#000" stroke-opacity="0.55" stroke-width="1.3"/><circle cx="43.2" cy="14.2" r="3.0" fill="#c00000" stroke="#000" stroke-opacity="0.55" stroke-width="1.3"/><circle cx="3.5" cy="39.1" r="3.0" fill="#e80000" stroke="#000" stroke-opacity="0.55" stroke-width="1.3"/><circle cx="51.5" cy="39.1" r="3.0" fill="#e80000" stroke="#000" stroke-opacity="0.55" stroke-width="1.3"/><circle cx="24.8" cy="18.7" r="3.0" fill="#e80000" stroke="#000" stroke-opacity="0.55" stroke-width="1.3"/><circle cx="42.7" cy="37.4" r="3.0" fill="#c00000" stroke="#000" stroke-opacity="0.55" stroke-width="1.3"/><circle cx="32.7" cy="12.5" r="3.0" fill="#c00000" stroke="#000" stroke-opacity="0.55" stroke-width="1.3"/><circle cx="-2.8" cy="22.4" r="3.0" fill="#e80000" stroke="#000" stroke-opacity="0.55" stroke-width="1.3"/><circle cx="45.2" cy="22.4" r="3.0" fill="#c00000" stroke="#000" stroke-opacity="0.55" stroke-width="1.3"/><circle cx="4.5" cy="14.8" r="3.0" fill="#b00000" stroke="#000" stroke-opacity="0.55" stroke-width="1.3"/><circle cx="52.5" cy="14.8" r="3.0" fill="#d80000" stroke="#000" stroke-opacity="0.55" stroke-width="1.3"/><circle cx="21.8" cy="42.9" r="3.0" fill="#b00000" stroke="#000" stroke-opacity="0.55" stroke-width="1.3"/><circle cx="17.8" cy="6.5" r="3.0" fill="#b00000" stroke="#000" stroke-opacity="0.55" stroke-width="1.3"/><circle cx="38.7" cy="-4.5" r="3.0" fill="#c00000" stroke="#000" stroke-opacity="0.55" stroke-width="1.3"/><circle cx="38.7" cy="43.5" r="3.0" fill="#e80000" stroke="#000" stroke-opacity="0.55" stroke-width="1.3"/><circle cx="31.0" cy="7.8" r="3.0" fill="#c00000" stroke="#000" stroke-opacity="0.55" stroke-width="1.3"/><circle cx="22.7" cy="37.0" r="3.0" fill="#e80000" stroke="#000" stroke-opacity="0.55" stroke-width="1.3"/><circle cx="11.4" cy="20.7" r="3.0" fill="#e80000" stroke="#000" stroke-opacity="0.55" stroke-width="1.3"/><circle cx="8.9" cy="28.1" r="3.0" fill="#e80000" stroke="#000" stroke-opacity="0.55" stroke-width="1.3"/><circle cx="22.9" cy="4.0" r="3.0" fill="#e80000" stroke="#000" stroke-opacity="0.55" stroke-width="1.3"/><circle cx="22.9" cy="52.0" r="3.0" fill="#c00000" stroke="#000" stroke-opacity="0.55" stroke-width="1.3"/><circle cx="-1.8" cy="0.1" r="3.0" fill="#b00000" stroke="#000" stroke-opacity="0.55" stroke-width="1.3"/><circle cx="-1.8" cy="48.1" r="3.0" fill="#d80000" stroke="#000" stroke-opacity="0.55" stroke-width="1.3"/><circle cx="46.2" cy="0.1" r="3.0" fill="#b00000" stroke="#000" stroke-opacity="0.55" stroke-width="1.3"/><circle cx="46.2" cy="48.1" r="3.0" fill="#b00000" stroke="#000" stroke-opacity="0.55" stroke-width="1.3"/><circle cx="11.0" cy="-3.8" r="3.0" fill="#c00000" stroke="#000" stroke-opacity="0.55" stroke-width="1.3"/><circle cx="11.0" cy="44.2" r="3.0" fill="#d80000" stroke="#000" stroke-opacity="0.55" stroke-width="1.3"/><circle cx="16.5" cy="39.1" r="3.0" fill="#e80000" stroke="#000" stroke-opacity="0.55" stroke-width="1.3"/><circle cx="26.7" cy="-2.7" r="3.0" fill="#e80000" stroke="#000" stroke-opacity="0.55" stroke-width="1.3"/><circle cx="26.7" cy="45.3" r="3.0" fill="#c00000" stroke="#000" stroke-opacity="0.55" stroke-width="1.3"/><circle cx="35.6" cy="5.3" r="3.0" fill="#b00000" stroke="#000" stroke-opacity="0.55" stroke-width="1.3"/><circle cx="33.2" cy="27.3" r="3.0" fill="#e80000" stroke="#000" stroke-opacity="0.55" stroke-width="1.3"/><circle cx="31.4" cy="17.6" r="3.0" fill="#b00000" stroke="#000" stroke-opacity="0.55" stroke-width="1.3"/><circle cx="16.9" cy="1.5" r="3.0" fill="#e80000" stroke="#000" stroke-opacity="0.55" stroke-width="1.3"/><circle cx="16.9" cy="49.5" r="3.0" fill="#d80000" stroke="#000" stroke-opacity="0.55" stroke-width="1.3"/><circle cx="6.3" cy="3.7" r="3.0" fill="#e80000" stroke="#000" stroke-opacity="0.55" stroke-width="1.3"/><circle cx="6.3" cy="51.7" r="3.0" fill="#b00000" stroke="#000" stroke-opacity="0.55" stroke-width="1.3"/><circle cx="13.1" cy="32.5" r="3.0" fill="#d80000" stroke="#000" stroke-opacity="0.55" stroke-width="1.3"/></pattern><clipPath id="clipC"><rect x="162.5" y="1568" width="543.5" height="308.8"/></clipPath><clipPath id="clipD"><rect x="964.3" y="1566.3" width="550.7" height="310.3"/></clipPath></defs>
<g clip-path="url(#clipC)">
<g fill="#ff0000" stroke="#000" stroke-width="1.3" fill-opacity="0.09" stroke-opacity="0.15"><circle cx="183.9" cy="1672.5" r="3.9"/><circle cx="216.1" cy="1702.7" r="3.9"/><circle cx="218.1" cy="1706.5" r="3.9"/><circle cx="236.7" cy="1716.3" r="3.9"/><circle cx="185.8" cy="1681.8" r="3.9"/><circle cx="204.4" cy="1715.4" r="3.9"/><circle cx="236.6" cy="1707.4" r="3.9"/><circle cx="176.3" cy="1672" r="3.9"/><circle cx="218.9" cy="1711" r="3.9"/><circle cx="228.2" cy="1706.3" r="3.9"/><circle cx="222.1" cy="1717.4" r="3.9"/><circle cx="215" cy="1707.5" r="3.9"/><circle cx="189.5" cy="1695" r="3.9"/><circle cx="204.6" cy="1698.2" r="3.9"/><circle cx="226.3" cy="1717.5" r="3.9"/><circle cx="244.1" cy="1712.1" r="3.9"/><circle cx="197.8" cy="1692.4" r="3.9"/><circle cx="245.3" cy="1712.8" r="3.9"/><circle cx="240.3" cy="1720" r="3.9"/><circle cx="182.1" cy="1678.2" r="3.9"/><circle cx="248" cy="1711.8" r="3.9"/><circle cx="189.5" cy="1686.5" r="3.9"/><circle cx="207.6" cy="1694" r="3.9"/><circle cx="214.5" cy="1706.8" r="3.9"/><circle cx="214.4" cy="1710.6" r="3.9"/><circle cx="244.7" cy="1713.7" r="3.9"/><circle cx="238.4" cy="1725.5" r="3.9"/><circle cx="177.4" cy="1671.3" r="3.9"/><circle cx="238.7" cy="1729.4" r="3.9"/><circle cx="213.1" cy="1699.3" r="3.9"/><circle cx="225.8" cy="1713.1" r="3.9"/><circle cx="213.5" cy="1713.4" r="3.9"/><circle cx="188.1" cy="1692.8" r="3.9"/><circle cx="250.1" cy="1724.5" r="3.9"/><circle cx="170.8" cy="1667.1" r="3.9"/><circle cx="176.3" cy="1664.8" r="3.9"/><circle cx="188.9" cy="1684.1" r="3.9"/><circle cx="166.9" cy="1649" r="3.9"/><circle cx="217.1" cy="1714.1" r="3.9"/><circle cx="192.1" cy="1688.2" r="3.9"/><circle cx="240.5" cy="1724.5" r="3.9"/><circle cx="250.9" cy="1719.1" r="3.9"/><circle cx="190.3" cy="1691.1" r="3.9"/><circle cx="165.8" cy="1663.7" r="3.9"/><circle cx="180.4" cy="1667.8" r="3.9"/><circle cx="176.7" cy="1675.7" r="3.9"/><circle cx="166.7" cy="1664.5" r="3.9"/><circle cx="247.4" cy="1715.6" r="3.9"/><circle cx="241.9" cy="1713.1" r="3.9"/><circle cx="208.8" cy="1703.7" r="3.9"/><circle cx="219.7" cy="1700.3" r="3.9"/><circle cx="217.6" cy="1700.9" r="3.9"/><circle cx="245.8" cy="1712.7" r="3.9"/><circle cx="226.4" cy="1710.4" r="3.9"/><circle cx="183.9" cy="1672.8" r="3.9"/><circle cx="208.9" cy="1714.8" r="3.9"/><circle cx="211.3" cy="1707.1" r="3.9"/><circle cx="214" cy="1703.3" r="3.9"/><circle cx="164.8" cy="1652.5" r="3.9"/><circle cx="168.3" cy="1656.9" r="3.9"/><circle cx="218.2" cy="1696.8" r="3.9"/><circle cx="194" cy="1689.1" r="3.9"/><circle cx="225.2" cy="1709.9" r="3.9"/><circle cx="168.3" cy="1661.4" r="3.9"/><circle cx="222.5" cy="1712.8" r="3.9"/><circle cx="203.2" cy="1693.7" r="3.9"/><circle cx="215.2" cy="1701.2" r="3.9"/><circle cx="190.5" cy="1689.3" r="3.9"/><circle cx="195.5" cy="1684.3" r="3.9"/><circle cx="196.2" cy="1686.2" r="3.9"/><circle cx="231" cy="1720.8" r="3.9"/><circle cx="227.7" cy="1712.7" r="3.9"/><circle cx="190.3" cy="1685.8" r="3.9"/><circle cx="184" cy="1688.8" r="3.9"/><circle cx="179.5" cy="1665.3" r="3.9"/><circle cx="172" cy="1670" r="3.9"/><circle cx="191.3" cy="1679.1" r="3.9"/><circle cx="201.6" cy="1703.3" r="3.9"/><circle cx="238.3" cy="1719.2" r="3.9"/><circle cx="220.2" cy="1711.7" r="3.9"/><circle cx="240.9" cy="1713.5" r="3.9"/><circle cx="173.6" cy="1669.4" r="3.9"/><circle cx="209.6" cy="1703.6" r="3.9"/><circle cx="236.8" cy="1726" r="3.9"/><circle cx="179.2" cy="1671.6" r="3.9"/><circle cx="219.5" cy="1717.2" r="3.9"/><circle cx="234" cy="1712.8" r="3.9"/><circle cx="188.7" cy="1685.1" r="3.9"/><circle cx="232.9" cy="1713.4" r="3.9"/><circle cx="199.7" cy="1697.4" r="3.9"/><circle cx="199.9" cy="1680.8" r="3.9"/><circle cx="176.7" cy="1678.4" r="3.9"/><circle cx="163.4" cy="1669" r="3.9"/><circle cx="249.8" cy="1715.6" r="3.9"/><circle cx="201.2" cy="1706.3" r="3.9"/><circle cx="182.5" cy="1672.5" r="3.9"/><circle cx="228.6" cy="1716.5" r="3.9"/><circle cx="208.7" cy="1691.4" r="3.9"/><circle cx="188.4" cy="1679.9" r="3.9"/><circle cx="169" cy="1666.9" r="3.9"/><circle cx="214.8" cy="1700.9" r="3.9"/><circle cx="167" cy="1671.9" r="3.9"/><circle cx="242.5" cy="1713.4" r="3.9"/><circle cx="241.9" cy="1705.1" r="3.9"/><circle cx="242.2" cy="1717.1" r="3.9"/><circle cx="228.6" cy="1711.4" r="3.9"/><circle cx="178.1" cy="1669.8" r="3.9"/><circle cx="209.2" cy="1707.8" r="3.9"/><circle cx="199.4" cy="1699.4" r="3.9"/><circle cx="193" cy="1683.2" r="3.9"/><circle cx="185.2" cy="1683.7" r="3.9"/><circle cx="231.8" cy="1708.4" r="3.9"/><circle cx="194" cy="1689.5" r="3.9"/><circle cx="234.9" cy="1722.1" r="3.9"/><circle cx="178.1" cy="1676" r="3.9"/><circle cx="233.9" cy="1701.5" r="3.9"/><circle cx="235.5" cy="1723.8" r="3.9"/><circle cx="238.9" cy="1717.2" r="3.9"/><circle cx="167.4" cy="1661" r="3.9"/><circle cx="209.4" cy="1704.2" r="3.9"/><circle cx="200.2" cy="1682.2" r="3.9"/><circle cx="163.2" cy="1658.9" r="3.9"/><circle cx="167.8" cy="1664.3" r="3.9"/><circle cx="169" cy="1665.6" r="3.9"/><circle cx="248.8" cy="1721.3" r="3.9"/><circle cx="207.2" cy="1695.9" r="3.9"/><circle cx="190.8" cy="1682.1" r="3.9"/><circle cx="219.9" cy="1711.9" r="3.9"/><circle cx="214.6" cy="1700.7" r="3.9"/><circle cx="191.9" cy="1688.4" r="3.9"/><circle cx="173.9" cy="1659.4" r="3.9"/><circle cx="196.5" cy="1686" r="3.9"/><circle cx="170" cy="1666.9" r="3.9"/><circle cx="216.2" cy="1709.6" r="3.9"/><circle cx="231.9" cy="1705.7" r="3.9"/><circle cx="217.8" cy="1712.8" r="3.9"/><circle cx="201" cy="1688.1" r="3.9"/><circle cx="224.9" cy="1714.8" r="3.9"/><circle cx="200" cy="1689.9" r="3.9"/><circle cx="184.6" cy="1672.4" r="3.9"/><circle cx="210.2" cy="1699.3" r="3.9"/><circle cx="200.4" cy="1690.3" r="3.9"/><circle cx="200.5" cy="1702.8" r="3.9"/><circle cx="195.9" cy="1679.1" r="3.9"/><circle cx="242" cy="1719.1" r="3.9"/><circle cx="203.8" cy="1690.8" r="3.9"/><circle cx="173.8" cy="1671.7" r="3.9"/><circle cx="241.1" cy="1709.5" r="3.9"/><circle cx="232.7" cy="1709.2" r="3.9"/><circle cx="212.6" cy="1693.4" r="3.9"/><circle cx="172.1" cy="1666" r="3.9"/><circle cx="175.6" cy="1669.8" r="3.9"/><circle cx="231.1" cy="1715.8" r="3.9"/><circle cx="171.7" cy="1666.9" r="3.9"/><circle cx="240.5" cy="1718" r="3.9"/><circle cx="237.1" cy="1717.2" r="3.9"/><circle cx="173.7" cy="1673.1" r="3.9"/><circle cx="236.6" cy="1708.4" r="3.9"/><circle cx="246.8" cy="1709.9" r="3.9"/><circle cx="166.2" cy="1655.3" r="3.9"/><circle cx="230.5" cy="1703.4" r="3.9"/><circle cx="172.4" cy="1666.1" r="3.9"/><circle cx="228.9" cy="1714" r="3.9"/><circle cx="191.5" cy="1684.2" r="3.9"/><circle cx="212.6" cy="1704" r="3.9"/><circle cx="178.8" cy="1669.3" r="3.9"/><circle cx="185" cy="1671.6" r="3.9"/><circle cx="197.6" cy="1683.6" r="3.9"/><circle cx="195.3" cy="1683.9" r="3.9"/><circle cx="199.8" cy="1695.4" r="3.9"/><circle cx="170.3" cy="1648.6" r="3.9"/><circle cx="199.3" cy="1691.6" r="3.9"/><circle cx="228.8" cy="1716.9" r="3.9"/><circle cx="229.5" cy="1720.2" r="3.9"/><circle cx="222.3" cy="1701.4" r="3.9"/><circle cx="219.6" cy="1705.8" r="3.9"/><circle cx="242" cy="1719.5" r="3.9"/><circle cx="228.8" cy="1714.2" r="3.9"/><circle cx="243.7" cy="1712" r="3.9"/><circle cx="226.3" cy="1709.9" r="3.9"/><circle cx="179.4" cy="1673.3" r="3.9"/><circle cx="214.5" cy="1707.2" r="3.9"/><circle cx="190.7" cy="1685.3" r="3.9"/><circle cx="246.9" cy="1728.5" r="3.9"/><circle cx="189" cy="1681.1" r="3.9"/><circle cx="238.1" cy="1710.5" r="3.9"/><circle cx="214.4" cy="1702.7" r="3.9"/><circle cx="165" cy="1663.4" r="3.9"/><circle cx="205.2" cy="1693.6" r="3.9"/><circle cx="194.7" cy="1690.3" r="3.9"/><circle cx="191.3" cy="1685.3" r="3.9"/><circle cx="250.2" cy="1716.6" r="3.9"/><circle cx="205.2" cy="1690.9" r="3.9"/><circle cx="236.4" cy="1711.8" r="3.9"/><circle cx="235.3" cy="1708.8" r="3.9"/><circle cx="226.4" cy="1708.3" r="3.9"/><circle cx="238.4" cy="1708.7" r="3.9"/><circle cx="247.5" cy="1725.2" r="3.9"/><circle cx="204.1" cy="1696.1" r="3.9"/><circle cx="226.2" cy="1714.9" r="3.9"/><circle cx="222.4" cy="1719.7" r="3.9"/><circle cx="184.3" cy="1675.4" r="3.9"/><circle cx="179.7" cy="1673.8" r="3.9"/><circle cx="225" cy="1713.7" r="3.9"/><circle cx="238.6" cy="1720.4" r="3.9"/><circle cx="239.1" cy="1714.2" r="3.9"/><circle cx="190.6" cy="1675.6" r="3.9"/><circle cx="170.6" cy="1669.4" r="3.9"/><circle cx="171.2" cy="1668.1" r="3.9"/><circle cx="194.4" cy="1683.2" r="3.9"/><circle cx="214.1" cy="1702.6" r="3.9"/><circle cx="192.5" cy="1685.2" r="3.9"/><circle cx="201.4" cy="1689.2" r="3.9"/><circle cx="214.5" cy="1703.5" r="3.9"/><circle cx="247.1" cy="1713.6" r="3.9"/><circle cx="173.5" cy="1672.7" r="3.9"/><circle cx="187.2" cy="1679.6" r="3.9"/><circle cx="241.1" cy="1715.1" r="3.9"/><circle cx="243" cy="1730" r="3.9"/><circle cx="195.9" cy="1697" r="3.9"/><circle cx="231" cy="1713.4" r="3.9"/><circle cx="222.5" cy="1703.4" r="3.9"/><circle cx="220.6" cy="1708.8" r="3.9"/><circle cx="229.4" cy="1707.9" r="3.9"/><circle cx="247.6" cy="1716.1" r="3.9"/><circle cx="173" cy="1660.8" r="3.9"/><circle cx="206.5" cy="1691.6" r="3.9"/><circle cx="222.7" cy="1716.2" r="3.9"/><circle cx="212.8" cy="1705.6" r="3.9"/><circle cx="218.5" cy="1713.7" r="3.9"/><circle cx="178.8" cy="1679.9" r="3.9"/><circle cx="173.8" cy="1662.7" r="3.9"/><circle cx="245" cy="1722.3" r="3.9"/><circle cx="226.4" cy="1714.9" r="3.9"/><circle cx="215.6" cy="1695.8" r="3.9"/><circle cx="203.3" cy="1691.9" r="3.9"/><circle cx="190.5" cy="1685.1" r="3.9"/><circle cx="226" cy="1712.5" r="3.9"/><circle cx="229.4" cy="1702.9" r="3.9"/><circle cx="194.6" cy="1685" r="3.9"/><circle cx="186.4" cy="1671.3" r="3.9"/><circle cx="166.7" cy="1669.1" r="3.9"/><circle cx="207.4" cy="1698.2" r="3.9"/><circle cx="194.2" cy="1697.6" r="3.9"/><circle cx="192.3" cy="1679.5" r="3.9"/><circle cx="230.9" cy="1717.4" r="3.9"/><circle cx="194.1" cy="1688.9" r="3.9"/><circle cx="186.8" cy="1678.3" r="3.9"/><circle cx="171.8" cy="1674.1" r="3.9"/><circle cx="227" cy="1717.8" r="3.9"/><circle cx="179.3" cy="1676" r="3.9"/><circle cx="228.4" cy="1717.6" r="3.9"/><circle cx="234.8" cy="1715" r="3.9"/><circle cx="175.9" cy="1662.3" r="3.9"/><circle cx="198.1" cy="1693.2" r="3.9"/><circle cx="213" cy="1709" r="3.9"/><circle cx="180.8" cy="1675.1" r="3.9"/><circle cx="165.6" cy="1670.3" r="3.9"/><circle cx="233.7" cy="1725.9" r="3.9"/><circle cx="196.7" cy="1680.2" r="3.9"/><circle cx="211.6" cy="1693.8" r="3.9"/><circle cx="249" cy="1715.5" r="3.9"/><circle cx="223.4" cy="1705.3" r="3.9"/><circle cx="205.6" cy="1708" r="3.9"/><circle cx="215.9" cy="1704.1" r="3.9"/><circle cx="230.8" cy="1712.7" r="3.9"/><circle cx="221.3" cy="1700.3" r="3.9"/><circle cx="203.5" cy="1695.4" r="3.9"/><circle cx="180" cy="1672.7" r="3.9"/><circle cx="207" cy="1697.5" r="3.9"/><circle cx="219.8" cy="1699.4" r="3.9"/><circle cx="247.4" cy="1722.1" r="3.9"/><circle cx="241.5" cy="1724.8" r="3.9"/><circle cx="217.8" cy="1713.4" r="3.9"/><circle cx="167.5" cy="1658.9" r="3.9"/><circle cx="169.8" cy="1667.6" r="3.9"/><circle cx="210.4" cy="1705.1" r="3.9"/><circle cx="239.6" cy="1714.8" r="3.9"/><circle cx="224.1" cy="1717.3" r="3.9"/><circle cx="215.9" cy="1713" r="3.9"/><circle cx="244.6" cy="1716.7" r="3.9"/><circle cx="193.2" cy="1676.9" r="3.9"/><circle cx="234" cy="1725.5" r="3.9"/><circle cx="201.5" cy="1688.4" r="3.9"/><circle cx="229.6" cy="1709.6" r="3.9"/><circle cx="166.8" cy="1661.3" r="3.9"/><circle cx="169.9" cy="1665.3" r="3.9"/><circle cx="206.7" cy="1700.9" r="3.9"/><circle cx="224.5" cy="1703.5" r="3.9"/><circle cx="220.1" cy="1705.4" r="3.9"/><circle cx="189.8" cy="1673.6" r="3.9"/><circle cx="198.3" cy="1693.1" r="3.9"/><circle cx="178.9" cy="1681" r="3.9"/><circle cx="195.3" cy="1682.6" r="3.9"/><circle cx="195.6" cy="1680.6" r="3.9"/><circle cx="182.7" cy="1675.4" r="3.9"/><circle cx="163.2" cy="1659.9" r="3.9"/><circle cx="175.6" cy="1680.2" r="3.9"/><circle cx="203.5" cy="1696.4" r="3.9"/><circle cx="178" cy="1676.3" r="3.9"/><circle cx="198.5" cy="1691.7" r="3.9"/><circle cx="172.7" cy="1668.3" r="3.9"/><circle cx="177.8" cy="1670.1" r="3.9"/><circle cx="165" cy="1659.2" r="3.9"/><circle cx="202.4" cy="1686.3" r="3.9"/><circle cx="167.5" cy="1666.9" r="3.9"/><circle cx="198.5" cy="1689.9" r="3.9"/><circle cx="248" cy="1720.4" r="3.9"/><circle cx="182.3" cy="1682.2" r="3.9"/><circle cx="177.5" cy="1675.7" r="3.9"/><circle cx="217.8" cy="1703.6" r="3.9"/><circle cx="167.6" cy="1664.4" r="3.9"/><circle cx="227" cy="1709.4" r="3.9"/><circle cx="204" cy="1705.8" r="3.9"/><circle cx="245.1" cy="1717.5" r="3.9"/><circle cx="186.4" cy="1684.7" r="3.9"/><circle cx="234.7" cy="1711.2" r="3.9"/><circle cx="171.2" cy="1661.6" r="3.9"/><circle cx="223.1" cy="1716.6" r="3.9"/><circle cx="163.3" cy="1655.8" r="3.9"/><circle cx="165.7" cy="1662.9" r="3.9"/><circle cx="166.2" cy="1662.4" r="3.9"/><circle cx="167.7" cy="1654.7" r="3.9"/><circle cx="180.7" cy="1664.4" r="3.9"/><circle cx="248.7" cy="1709" r="3.9"/><circle cx="243.7" cy="1720.1" r="3.9"/><circle cx="245.7" cy="1724.1" r="3.9"/><circle cx="216.4" cy="1705.6" r="3.9"/><circle cx="246.3" cy="1723.5" r="3.9"/><circle cx="237.8" cy="1719" r="3.9"/><circle cx="173.1" cy="1663.4" r="3.9"/><circle cx="222.8" cy="1712.1" r="3.9"/><circle cx="244.7" cy="1723.3" r="3.9"/><circle cx="227.6" cy="1720.1" r="3.9"/><circle cx="236.5" cy="1703" r="3.9"/><circle cx="194.9" cy="1683.5" r="3.9"/><circle cx="199.5" cy="1693.1" r="3.9"/><circle cx="205.3" cy="1706.8" r="3.9"/><circle cx="186.7" cy="1685.3" r="3.9"/><circle cx="216.3" cy="1712.8" r="3.9"/><circle cx="225.5" cy="1704.9" r="3.9"/><circle cx="176.5" cy="1675.5" r="3.9"/><circle cx="225.5" cy="1716.9" r="3.9"/><circle cx="229.7" cy="1713.5" r="3.9"/><circle cx="222.6" cy="1712.1" r="3.9"/><circle cx="237.2" cy="1718.6" r="3.9"/><circle cx="219.5" cy="1715.3" r="3.9"/><circle cx="202.6" cy="1685.9" r="3.9"/><circle cx="241.9" cy="1717.3" r="3.9"/><circle cx="195.6" cy="1683.1" r="3.9"/><circle cx="169.3" cy="1651.6" r="3.9"/><circle cx="172.2" cy="1675.5" r="3.9"/><circle cx="213.1" cy="1704.1" r="3.9"/><circle cx="220.1" cy="1708.5" r="3.9"/><circle cx="184.2" cy="1681.6" r="3.9"/><circle cx="219.7" cy="1707.7" r="3.9"/><circle cx="214.5" cy="1707.5" r="3.9"/><circle cx="248.1" cy="1719.9" r="3.9"/><circle cx="182.4" cy="1670.8" r="3.9"/><circle cx="231.7" cy="1711.2" r="3.9"/><circle cx="216.2" cy="1706.1" r="3.9"/><circle cx="179.6" cy="1666.7" r="3.9"/><circle cx="178.6" cy="1682.9" r="3.9"/><circle cx="172.9" cy="1672.7" r="3.9"/><circle cx="165.1" cy="1663.2" r="3.9"/><circle cx="241.6" cy="1717" r="3.9"/><circle cx="170.5" cy="1660.8" r="3.9"/><circle cx="236" cy="1716.5" r="3.9"/><circle cx="217.2" cy="1698.6" r="3.9"/><circle cx="239.7" cy="1709.2" r="3.9"/><circle cx="193.5" cy="1681.5" r="3.9"/><circle cx="172.8" cy="1663.3" r="3.9"/><circle cx="236.5" cy="1706.7" r="3.9"/><circle cx="181.1" cy="1669.3" r="3.9"/><circle cx="210.4" cy="1690.9" r="3.9"/><circle cx="169.8" cy="1666.3" r="3.9"/><circle cx="193.5" cy="1684.4" r="3.9"/><circle cx="211.6" cy="1701.4" r="3.9"/><circle cx="227.7" cy="1703.7" r="3.9"/><circle cx="216.3" cy="1708.5" r="3.9"/><circle cx="181.8" cy="1664.4" r="3.9"/><circle cx="192.5" cy="1701.9" r="3.9"/><circle cx="200.9" cy="1696.6" r="3.9"/><circle cx="177.5" cy="1674.1" r="3.9"/><circle cx="244.9" cy="1717" r="3.9"/><circle cx="249.8" cy="1707.8" r="3.9"/><circle cx="216.9" cy="1711.5" r="3.9"/><circle cx="199.8" cy="1689" r="3.9"/><circle cx="246.4" cy="1731.3" r="3.9"/><circle cx="205.6" cy="1688.3" r="3.9"/><circle cx="231.1" cy="1696" r="3.9"/><circle cx="244" cy="1730" r="3.9"/><circle cx="188.7" cy="1686" r="3.9"/><circle cx="171.4" cy="1664.3" r="3.9"/><circle cx="226.6" cy="1708.8" r="3.9"/><circle cx="219.3" cy="1713.3" r="3.9"/><circle cx="166.6" cy="1660.6" r="3.9"/><circle cx="201.1" cy="1688.2" r="3.9"/><circle cx="193.3" cy="1686.1" r="3.9"/><circle cx="188.3" cy="1672.2" r="3.9"/><circle cx="172.1" cy="1664.6" r="3.9"/><circle cx="169.8" cy="1670.1" r="3.9"/><circle cx="176.5" cy="1671.7" r="3.9"/><circle cx="248.9" cy="1710.5" r="3.9"/><circle cx="249.2" cy="1723.9" r="3.9"/><circle cx="177.2" cy="1667.5" r="3.9"/><circle cx="190.5" cy="1676.9" r="3.9"/><circle cx="210.7" cy="1702.2" r="3.9"/><circle cx="194.7" cy="1690.7" r="3.9"/><circle cx="203.8" cy="1691.3" r="3.9"/><circle cx="241" cy="1719.4" r="3.9"/><circle cx="184.3" cy="1673.8" r="3.9"/><circle cx="234" cy="1717.8" r="3.9"/><circle cx="209.7" cy="1700" r="3.9"/><circle cx="210.2" cy="1701.1" r="3.9"/><circle cx="180.9" cy="1676.9" r="3.9"/><circle cx="230.8" cy="1696.7" r="3.9"/><circle cx="232.1" cy="1717.3" r="3.9"/><circle cx="249.2" cy="1723.6" r="3.9"/><circle cx="164.2" cy="1659.1" r="3.9"/></g><g fill="#ff0000" stroke="#000" stroke-width="1.3" fill-opacity="0.07" stroke-opacity="0.12"><circle cx="200.6" cy="1668.8" r="3.9"/><circle cx="167.5" cy="1686.4" r="3.9"/><circle cx="171.2" cy="1666.5" r="3.9"/><circle cx="184.5" cy="1708.2" r="3.9"/><circle cx="199.4" cy="1662.1" r="3.9"/><circle cx="166.8" cy="1676.5" r="3.9"/><circle cx="217.6" cy="1697.4" r="3.9"/><circle cx="242.4" cy="1708.7" r="3.9"/><circle cx="184.5" cy="1651.5" r="3.9"/><circle cx="229" cy="1707.1" r="3.9"/><circle cx="207.3" cy="1710.6" r="3.9"/><circle cx="211" cy="1663.8" r="3.9"/><circle cx="177.7" cy="1641.4" r="3.9"/><circle cx="218.9" cy="1716.2" r="3.9"/><circle cx="241.8" cy="1679.7" r="3.9"/><circle cx="220.9" cy="1718.9" r="3.9"/><circle cx="233.8" cy="1691.2" r="3.9"/><circle cx="199.1" cy="1684.1" r="3.9"/><circle cx="177.9" cy="1655.6" r="3.9"/><circle cx="222.5" cy="1724.3" r="3.9"/><circle cx="210.6" cy="1674.7" r="3.9"/><circle cx="193.6" cy="1678.7" r="3.9"/><circle cx="232.9" cy="1678.5" r="3.9"/><circle cx="246.5" cy="1653.2" r="3.9"/><circle cx="190.4" cy="1684.4" r="3.9"/><circle cx="198.8" cy="1712.3" r="3.9"/><circle cx="235" cy="1719.2" r="3.9"/><circle cx="216.3" cy="1642.6" r="3.9"/><circle cx="213" cy="1686.7" r="3.9"/><circle cx="205.4" cy="1663.8" r="3.9"/><circle cx="224.7" cy="1717.5" r="3.9"/><circle cx="171.9" cy="1696.8" r="3.9"/><circle cx="195.3" cy="1683.8" r="3.9"/><circle cx="240.9" cy="1721.6" r="3.9"/><circle cx="219" cy="1656.6" r="3.9"/><circle cx="243.1" cy="1655.4" r="3.9"/><circle cx="196.3" cy="1710.4" r="3.9"/><circle cx="190.5" cy="1663" r="3.9"/><circle cx="245.6" cy="1720.2" r="3.9"/><circle cx="190.6" cy="1673.4" r="3.9"/><circle cx="187.5" cy="1651.2" r="3.9"/><circle cx="184.8" cy="1723.3" r="3.9"/><circle cx="169.9" cy="1659.5" r="3.9"/><circle cx="180.4" cy="1646.8" r="3.9"/><circle cx="208.8" cy="1703.2" r="3.9"/></g>
<polygon points="250,1703 300,1702 330,1708 400,1710 480,1712 525,1712 560,1712 600,1714 640,1718 706,1718 706,1728 640,1727 600,1730 560,1731 525,1731 480,1732 400,1733 330,1732 300,1731 250,1727" fill="url(#dots)"/>
<polygon points="636,1718.5 706,1718.5 706,1727.5 636,1727.5" fill="#1a0000" opacity="0.75"/>
<g fill="#ff0000" stroke="#000" stroke-width="1.3" fill-opacity="0.5" stroke-opacity="0.60"><circle cx="573.1" cy="1715.2" r="3.9"/><circle cx="612.8" cy="1726.3" r="3.9"/><circle cx="354.5" cy="1710.6" r="3.9"/><circle cx="318.9" cy="1707.7" r="3.9"/><circle cx="598.8" cy="1726.1" r="3.9"/><circle cx="499.8" cy="1712.6" r="3.9"/><circle cx="371.1" cy="1711.8" r="3.9"/><circle cx="270.7" cy="1726.5" r="3.9"/><circle cx="550.3" cy="1713.7" r="3.9"/><circle cx="359.5" cy="1709.4" r="3.9"/><circle cx="398.9" cy="1713.7" r="3.9"/><circle cx="254.8" cy="1726.8" r="3.9"/><circle cx="346.2" cy="1728.4" r="3.9"/><circle cx="291.8" cy="1728.4" r="3.9"/><circle cx="455.3" cy="1730.5" r="3.9"/><circle cx="429.7" cy="1730.9" r="3.9"/><circle cx="571" cy="1713.4" r="3.9"/><circle cx="367.2" cy="1728.7" r="3.9"/><circle cx="353.8" cy="1709.5" r="3.9"/><circle cx="408.8" cy="1713.7" r="3.9"/><circle cx="312.5" cy="1729.8" r="3.9"/><circle cx="453.2" cy="1732" r="3.9"/><circle cx="376.8" cy="1731.8" r="3.9"/><circle cx="445.9" cy="1731.2" r="3.9"/><circle cx="521.1" cy="1728.2" r="3.9"/><circle cx="582.2" cy="1729.3" r="3.9"/><circle cx="355.3" cy="1730.4" r="3.9"/><circle cx="531.1" cy="1729.3" r="3.9"/><circle cx="425.5" cy="1712.5" r="3.9"/><circle cx="629.8" cy="1719.1" r="3.9"/><circle cx="278.5" cy="1725.9" r="3.9"/><circle cx="274.7" cy="1705.9" r="3.9"/><circle cx="392.4" cy="1710.6" r="3.9"/><circle cx="417.1" cy="1729.9" r="3.9"/><circle cx="256.5" cy="1726" r="3.9"/><circle cx="394.7" cy="1729.4" r="3.9"/><circle cx="308" cy="1704.5" r="3.9"/><circle cx="305.4" cy="1729.9" r="3.9"/><circle cx="327.4" cy="1729" r="3.9"/><circle cx="456.7" cy="1714.4" r="3.9"/><circle cx="421.1" cy="1732.3" r="3.9"/><circle cx="338.1" cy="1708.8" r="3.9"/><circle cx="296.9" cy="1727.2" r="3.9"/><circle cx="262.7" cy="1704.2" r="3.9"/><circle cx="433" cy="1731.8" r="3.9"/><circle cx="476.5" cy="1730.9" r="3.9"/><circle cx="289.2" cy="1706.1" r="3.9"/><circle cx="276.7" cy="1726.1" r="3.9"/><circle cx="277.3" cy="1727.3" r="3.9"/><circle cx="493.8" cy="1729.1" r="3.9"/><circle cx="589.6" cy="1729" r="3.9"/><circle cx="618.9" cy="1716.1" r="3.9"/><circle cx="471.8" cy="1731.2" r="3.9"/><circle cx="567.7" cy="1729.2" r="3.9"/><circle cx="628.1" cy="1719.5" r="3.9"/><circle cx="471.5" cy="1729.8" r="3.9"/><circle cx="489.4" cy="1713.4" r="3.9"/><circle cx="423.2" cy="1713.5" r="3.9"/><circle cx="441" cy="1714.4" r="3.9"/><circle cx="611.1" cy="1725.5" r="3.9"/><circle cx="574.6" cy="1727.6" r="3.9"/><circle cx="443" cy="1712.6" r="3.9"/><circle cx="342.7" cy="1731.3" r="3.9"/><circle cx="348" cy="1729.5" r="3.9"/><circle cx="532.4" cy="1712.8" r="3.9"/><circle cx="468.3" cy="1712.7" r="3.9"/><circle cx="562.5" cy="1730" r="3.9"/><circle cx="481.2" cy="1731.3" r="3.9"/><circle cx="421.4" cy="1729.6" r="3.9"/><circle cx="439.7" cy="1731.4" r="3.9"/><circle cx="514.6" cy="1728" r="3.9"/><circle cx="384.5" cy="1713.5" r="3.9"/><circle cx="296" cy="1703.8" r="3.9"/><circle cx="475.5" cy="1729.9" r="3.9"/><circle cx="435" cy="1729.1" r="3.9"/><circle cx="395.6" cy="1710" r="3.9"/><circle cx="490.7" cy="1727.9" r="3.9"/><circle cx="475.7" cy="1730.9" r="3.9"/><circle cx="630.6" cy="1724.7" r="3.9"/><circle cx="605.8" cy="1727.3" r="3.9"/><circle cx="413.9" cy="1732.1" r="3.9"/><circle cx="519.2" cy="1714.3" r="3.9"/><circle cx="376.1" cy="1729" r="3.9"/><circle cx="318.1" cy="1730.8" r="3.9"/><circle cx="463.7" cy="1729.3" r="3.9"/><circle cx="520.8" cy="1712.7" r="3.9"/><circle cx="290.6" cy="1726.6" r="3.9"/><circle cx="404.2" cy="1731.8" r="3.9"/><circle cx="340.3" cy="1709.3" r="3.9"/><circle cx="434.6" cy="1712.6" r="3.9"/><circle cx="353.4" cy="1711.8" r="3.9"/><circle cx="346.6" cy="1730.8" r="3.9"/><circle cx="597.8" cy="1714.3" r="3.9"/><circle cx="338.3" cy="1728.2" r="3.9"/><circle cx="569.3" cy="1730.6" r="3.9"/><circle cx="355.2" cy="1730.9" r="3.9"/><circle cx="537.3" cy="1728.3" r="3.9"/><circle cx="626.6" cy="1726.8" r="3.9"/><circle cx="476.3" cy="1713.5" r="3.9"/><circle cx="417.2" cy="1710.4" r="3.9"/><circle cx="445.4" cy="1729" r="3.9"/><circle cx="350.4" cy="1730" r="3.9"/><circle cx="329.6" cy="1708.6" r="3.9"/><circle cx="437.6" cy="1731.9" r="3.9"/><circle cx="508.1" cy="1714.4" r="3.9"/><circle cx="285.2" cy="1702.6" r="3.9"/><circle cx="254.7" cy="1724.2" r="3.9"/><circle cx="523.2" cy="1728.4" r="3.9"/><circle cx="352.9" cy="1732.3" r="3.9"/><circle cx="513.4" cy="1731.2" r="3.9"/><circle cx="450.5" cy="1712.6" r="3.9"/><circle cx="269" cy="1728.5" r="3.9"/><circle cx="610.3" cy="1726.7" r="3.9"/><circle cx="425.3" cy="1713.8" r="3.9"/><circle cx="312.4" cy="1706.1" r="3.9"/><circle cx="460.9" cy="1713.9" r="3.9"/><circle cx="407.5" cy="1732" r="3.9"/><circle cx="469.9" cy="1729.1" r="3.9"/><circle cx="505.7" cy="1729.3" r="3.9"/><circle cx="495.9" cy="1730.9" r="3.9"/><circle cx="443.5" cy="1711.5" r="3.9"/><circle cx="420" cy="1711" r="3.9"/><circle cx="338.5" cy="1710.3" r="3.9"/><circle cx="443.3" cy="1731.5" r="3.9"/><circle cx="259.8" cy="1702.9" r="3.9"/><circle cx="523.4" cy="1715.5" r="3.9"/><circle cx="383.9" cy="1729.5" r="3.9"/><circle cx="367.1" cy="1710.3" r="3.9"/><circle cx="407.4" cy="1712.8" r="3.9"/><circle cx="342.9" cy="1709" r="3.9"/><circle cx="493.5" cy="1712.3" r="3.9"/><circle cx="441.9" cy="1712.5" r="3.9"/><circle cx="413.5" cy="1730.6" r="3.9"/><circle cx="418.2" cy="1729" r="3.9"/><circle cx="369.1" cy="1731.5" r="3.9"/><circle cx="538.4" cy="1730.6" r="3.9"/><circle cx="536.8" cy="1715.8" r="3.9"/><circle cx="527.7" cy="1714.4" r="3.9"/><circle cx="486" cy="1713" r="3.9"/><circle cx="502.5" cy="1729.7" r="3.9"/><circle cx="590.5" cy="1728.9" r="3.9"/><circle cx="565.7" cy="1727.6" r="3.9"/><circle cx="391.3" cy="1712.7" r="3.9"/><circle cx="304.9" cy="1706.5" r="3.9"/><circle cx="497.9" cy="1731.2" r="3.9"/><circle cx="435.2" cy="1730.5" r="3.9"/><circle cx="486.7" cy="1713.9" r="3.9"/><circle cx="602.5" cy="1715" r="3.9"/><circle cx="627.1" cy="1717.3" r="3.9"/><circle cx="298.7" cy="1727.1" r="3.9"/></g><g fill="#ff0000" stroke="#000" stroke-width="1.3" fill-opacity="0.35" stroke-opacity="0.42"><circle cx="675.2" cy="1721.1" r="3.9"/><circle cx="667" cy="1725.5" r="3.9"/><circle cx="650.1" cy="1724" r="3.9"/><circle cx="680.1" cy="1723" r="3.9"/><circle cx="680.1" cy="1723.1" r="3.9"/><circle cx="641.9" cy="1723.2" r="3.9"/><circle cx="677.8" cy="1722.2" r="3.9"/><circle cx="675.4" cy="1721.6" r="3.9"/><circle cx="647.8" cy="1721.5" r="3.9"/><circle cx="653.2" cy="1722.4" r="3.9"/><circle cx="694.7" cy="1724.9" r="3.9"/><circle cx="661.4" cy="1724.2" r="3.9"/><circle cx="645.9" cy="1723.3" r="3.9"/><circle cx="689.5" cy="1724.7" r="3.9"/><circle cx="653.3" cy="1724.1" r="3.9"/><circle cx="640.1" cy="1723.7" r="3.9"/><circle cx="692.2" cy="1721.7" r="3.9"/><circle cx="649.3" cy="1721.9" r="3.9"/><circle cx="677.5" cy="1724.5" r="3.9"/><circle cx="662" cy="1722" r="3.9"/><circle cx="662" cy="1721.6" r="3.9"/><circle cx="652.8" cy="1723.6" r="3.9"/><circle cx="690" cy="1722.8" r="3.9"/><circle cx="656.1" cy="1723.2" r="3.9"/><circle cx="665.3" cy="1723.4" r="3.9"/></g><g fill="#ff0000" stroke="#000" stroke-width="1.3" fill-opacity="0.5" stroke-opacity="0.60"><circle cx="273.4" cy="1662" r="3.9"/><circle cx="255.8" cy="1678.3" r="3.9"/><circle cx="312" cy="1683.1" r="3.9"/><circle cx="305" cy="1700.6" r="3.9"/><circle cx="553.9" cy="1655.8" r="3.9"/><circle cx="529" cy="1671.1" r="3.9"/><circle cx="602.8" cy="1676" r="3.9"/><circle cx="606.3" cy="1702.9" r="3.9"/><circle cx="522.8" cy="1707.3" r="3.9"/><circle cx="511.7" cy="1732.8" r="3.9"/><circle cx="238" cy="1734" r="3.9"/><circle cx="257" cy="1738" r="3.9"/><circle cx="298" cy="1736" r="3.9"/></g>
<polyline points="251,1718.1 256.6,1716.3 260.6,1715.7 264.1,1716.1 271,1717.6 277.9,1717.9 282.1,1717.7 288.2,1714.6 292,1715.6 298,1715.1 301.3,1717.9 307.3,1714.3 314.8,1716.8 317.9,1716.2 324.4,1719 328.2,1714 335.2,1717.8 342.4,1717.4 349.7,1717 355,1718.4 361.5,1719.7 369.1,1717.6 374.9,1718.7 378,1716.4 382.5,1717.2 388.2,1719.3 392,1719.7 399.9,1717.6 404.7,1718 408.8,1719.7 411.9,1721.1 419.8,1718.8 426,1720.5 430.7,1720.4 433.8,1720.3 438.9,1721.3 445.6,1718.5 452.5,1721.3 456.5,1718.5 459.9,1719.7 466.9,1718.2 472.1,1718.6 479.5,1721.6 484.2,1720.2 492.1,1719.5 496.7,1722.8 504,1721.5 510.2,1718.1 517,1720.2 523.5,1719.7 529.1,1720.1 534.4,1721.1 542,1719.5 548.1,1718.4 554.9,1720.7 559.6,1722 563.8,1722.5 569.5,1719.5 574.2,1721.8 578.1,1719.9 582,1719.9 586.5,1720.3 594.3,1720.6 601.4,1722.6 607.6,1718 614.2,1720.2 617.5,1721.2 623.2,1722.1 627.4,1722.4 633.1,1721.7 640,1721.7 647.2,1723 650.7,1721.5 657.7,1721.9 662.7,1718.8 670,1721.6 677.8,1722.5 682.1,1723 689.8,1721.1 694,1721.4 697.5,1719.8 701.5,1720.6 705,1719.6" fill="none" stroke="#2a9a2a" stroke-width="2.5" stroke-linejoin="round" stroke-linecap="round" stroke-opacity="0.6"/>
<circle cx="251" cy="1718.1" r="4.0" fill="#32cd32" opacity="0.85"/><circle cx="256.6" cy="1716.3" r="4.0" fill="#32cd32" opacity="0.85"/><circle cx="260.6" cy="1715.7" r="4.0" fill="#32cd32" opacity="0.85"/><circle cx="264.1" cy="1716.1" r="4.0" fill="#32cd32" opacity="0.85"/><circle cx="271" cy="1717.6" r="4.0" fill="#32cd32" opacity="0.85"/><circle cx="277.9" cy="1717.9" r="4.0" fill="#32cd32" opacity="0.85"/><circle cx="282.1" cy="1717.7" r="4.0" fill="#32cd32" opacity="0.85"/><circle cx="288.2" cy="1714.6" r="4.0" fill="#32cd32" opacity="0.85"/><circle cx="292" cy="1715.6" r="4.0" fill="#32cd32" opacity="0.85"/><circle cx="298" cy="1715.1" r="4.0" fill="#32cd32" opacity="0.85"/><circle cx="301.3" cy="1717.9" r="4.0" fill="#32cd32" opacity="0.85"/><circle cx="307.3" cy="1714.3" r="4.0" fill="#32cd32" opacity="0.85"/><circle cx="314.8" cy="1716.8" r="4.0" fill="#32cd32" opacity="0.85"/><circle cx="317.9" cy="1716.2" r="4.0" fill="#32cd32" opacity="0.85"/><circle cx="324.4" cy="1719" r="4.0" fill="#32cd32" opacity="0.85"/><circle cx="328.2" cy="1714" r="4.0" fill="#32cd32" opacity="0.85"/><circle cx="335.2" cy="1717.8" r="4.0" fill="#32cd32" opacity="0.85"/><circle cx="342.4" cy="1717.4" r="4.0" fill="#32cd32" opacity="0.85"/><circle cx="349.7" cy="1717" r="4.0" fill="#32cd32" opacity="0.85"/><circle cx="355" cy="1718.4" r="4.0" fill="#32cd32" opacity="0.85"/><circle cx="361.5" cy="1719.7" r="4.0" fill="#32cd32" opacity="0.85"/><circle cx="369.1" cy="1717.6" r="4.0" fill="#32cd32" opacity="0.85"/><circle cx="374.9" cy="1718.7" r="4.0" fill="#32cd32" opacity="0.85"/><circle cx="378" cy="1716.4" r="4.0" fill="#32cd32" opacity="0.85"/><circle cx="382.5" cy="1717.2" r="4.0" fill="#32cd32" opacity="0.85"/><circle cx="388.2" cy="1719.3" r="4.0" fill="#32cd32" opacity="0.85"/><circle cx="392" cy="1719.7" r="4.0" fill="#32cd32" opacity="0.85"/><circle cx="399.9" cy="1717.6" r="4.0" fill="#32cd32" opacity="0.85"/><circle cx="404.7" cy="1718" r="4.0" fill="#32cd32" opacity="0.85"/><circle cx="408.8" cy="1719.7" r="4.0" fill="#32cd32" opacity="0.85"/><circle cx="411.9" cy="1721.1" r="4.0" fill="#32cd32" opacity="0.85"/><circle cx="419.8" cy="1718.8" r="4.0" fill="#32cd32" opacity="0.85"/><circle cx="426" cy="1720.5" r="4.0" fill="#32cd32" opacity="0.85"/><circle cx="430.7" cy="1720.4" r="4.0" fill="#32cd32" opacity="0.85"/><circle cx="433.8" cy="1720.3" r="4.0" fill="#32cd32" opacity="0.85"/><circle cx="438.9" cy="1721.3" r="4.0" fill="#32cd32" opacity="0.85"/><circle cx="445.6" cy="1718.5" r="4.0" fill="#32cd32" opacity="0.85"/><circle cx="452.5" cy="1721.3" r="4.0" fill="#32cd32" opacity="0.85"/><circle cx="456.5" cy="1718.5" r="4.0" fill="#32cd32" opacity="0.85"/><circle cx="459.9" cy="1719.7" r="4.0" fill="#32cd32" opacity="0.85"/><circle cx="466.9" cy="1718.2" r="4.0" fill="#32cd32" opacity="0.85"/><circle cx="472.1" cy="1718.6" r="4.0" fill="#32cd32" opacity="0.85"/><circle cx="479.5" cy="1721.6" r="4.0" fill="#32cd32" opacity="0.85"/><circle cx="484.2" cy="1720.2" r="4.0" fill="#32cd32" opacity="0.85"/><circle cx="492.1" cy="1719.5" r="4.0" fill="#32cd32" opacity="0.85"/><circle cx="496.7" cy="1722.8" r="4.0" fill="#32cd32" opacity="0.85"/><circle cx="504" cy="1721.5" r="4.0" fill="#32cd32" opacity="0.85"/><circle cx="510.2" cy="1718.1" r="4.0" fill="#32cd32" opacity="0.85"/><circle cx="517" cy="1720.2" r="4.0" fill="#32cd32" opacity="0.85"/><circle cx="523.5" cy="1719.7" r="4.0" fill="#32cd32" opacity="0.85"/><circle cx="529.1" cy="1720.1" r="4.0" fill="#32cd32" opacity="0.85"/><circle cx="534.4" cy="1721.1" r="4.0" fill="#32cd32" opacity="0.85"/><circle cx="542" cy="1719.5" r="4.0" fill="#32cd32" opacity="0.85"/><circle cx="548.1" cy="1718.4" r="4.0" fill="#32cd32" opacity="0.85"/><circle cx="554.9" cy="1720.7" r="4.0" fill="#32cd32" opacity="0.85"/><circle cx="559.6" cy="1722" r="4.0" fill="#32cd32" opacity="0.85"/><circle cx="563.8" cy="1722.5" r="4.0" fill="#32cd32" opacity="0.85"/><circle cx="569.5" cy="1719.5" r="4.0" fill="#32cd32" opacity="0.85"/><circle cx="574.2" cy="1721.8" r="4.0" fill="#32cd32" opacity="0.85"/><circle cx="578.1" cy="1719.9" r="4.0" fill="#32cd32" opacity="0.85"/><circle cx="582" cy="1719.9" r="4.0" fill="#32cd32" opacity="0.85"/><circle cx="586.5" cy="1720.3" r="4.0" fill="#32cd32" opacity="0.85"/><circle cx="594.3" cy="1720.6" r="4.0" fill="#32cd32" opacity="0.85"/><circle cx="601.4" cy="1722.6" r="4.0" fill="#32cd32" opacity="0.85"/><circle cx="607.6" cy="1718" r="4.0" fill="#32cd32" opacity="0.85"/><circle cx="614.2" cy="1720.2" r="4.0" fill="#32cd32" opacity="0.85"/><circle cx="617.5" cy="1721.2" r="4.0" fill="#32cd32" opacity="0.85"/><circle cx="623.2" cy="1722.1" r="4.0" fill="#32cd32" opacity="0.85"/><circle cx="627.4" cy="1722.4" r="4.0" fill="#32cd32" opacity="0.85"/><circle cx="633.1" cy="1721.7" r="4.0" fill="#32cd32" opacity="0.85"/><circle cx="640" cy="1721.7" r="4.0" fill="#32cd32" opacity="0.85"/><circle cx="647.2" cy="1723" r="4.0" fill="#32cd32" opacity="0.85"/><circle cx="650.7" cy="1721.5" r="4.0" fill="#32cd32" opacity="0.85"/><circle cx="657.7" cy="1721.9" r="4.0" fill="#32cd32" opacity="0.85"/><circle cx="662.7" cy="1718.8" r="4.0" fill="#32cd32" opacity="0.85"/><circle cx="670" cy="1721.6" r="4.0" fill="#32cd32" opacity="0.85"/><circle cx="677.8" cy="1722.5" r="4.0" fill="#32cd32" opacity="0.85"/><circle cx="682.1" cy="1723" r="4.0" fill="#32cd32" opacity="0.85"/><circle cx="689.8" cy="1721.1" r="4.0" fill="#32cd32" opacity="0.85"/><circle cx="694" cy="1721.4" r="4.0" fill="#32cd32" opacity="0.85"/><circle cx="697.5" cy="1719.8" r="4.0" fill="#32cd32" opacity="0.85"/><circle cx="701.5" cy="1720.6" r="4.0" fill="#32cd32" opacity="0.85"/><circle cx="705" cy="1719.6" r="4.0" fill="#32cd32" opacity="0.85"/>
</g>
<line x1="411.5" y1="1568" x2="637.6" y2="1722.4" stroke="#808080" stroke-width="7.5" stroke-opacity="0.7"/>
<line x1="411.5" y1="1876.8" x2="637.6" y2="1722.4" stroke="#808080" stroke-width="7.5" stroke-opacity="0.7"/>
<g clip-path="url(#clipD)">
<g fill="#ff0000" stroke="#000" stroke-width="1.3" fill-opacity="0.08" stroke-opacity="0.14"><circle cx="1004.8" cy="1688.9" r="3.9"/><circle cx="1051.4" cy="1689.8" r="3.9"/><circle cx="1032.8" cy="1707.7" r="3.9"/><circle cx="1034.5" cy="1722.9" r="3.9"/><circle cx="998.8" cy="1724.7" r="3.9"/><circle cx="1047.3" cy="1693.6" r="3.9"/><circle cx="1047.1" cy="1749.1" r="3.9"/><circle cx="1040.7" cy="1674.9" r="3.9"/><circle cx="1050.9" cy="1720.1" r="3.9"/><circle cx="1044.4" cy="1683.7" r="3.9"/><circle cx="1030.8" cy="1708.2" r="3.9"/><circle cx="1039.1" cy="1757.9" r="3.9"/><circle cx="1041.3" cy="1680.3" r="3.9"/><circle cx="1050.1" cy="1728.3" r="3.9"/><circle cx="1053.3" cy="1700.2" r="3.9"/><circle cx="1031.7" cy="1725.7" r="3.9"/><circle cx="1006.3" cy="1711.1" r="3.9"/><circle cx="1013.8" cy="1734.9" r="3.9"/><circle cx="1055" cy="1743.9" r="3.9"/><circle cx="991.7" cy="1717.8" r="3.9"/><circle cx="1033.3" cy="1700.6" r="3.9"/><circle cx="1034.7" cy="1726" r="3.9"/><circle cx="1035" cy="1715.9" r="3.9"/><circle cx="1023" cy="1729.6" r="3.9"/><circle cx="1040.6" cy="1759" r="3.9"/><circle cx="1054.5" cy="1727.4" r="3.9"/><circle cx="1018.1" cy="1773.5" r="3.9"/><circle cx="1053" cy="1656.5" r="3.9"/><circle cx="1000.3" cy="1739.1" r="3.9"/><circle cx="1037.2" cy="1741.2" r="3.9"/><circle cx="1044" cy="1712.6" r="3.9"/><circle cx="1010.3" cy="1758.2" r="3.9"/><circle cx="1022.9" cy="1731.9" r="3.9"/><circle cx="1031.6" cy="1668.3" r="3.9"/><circle cx="1025.5" cy="1711.8" r="3.9"/><circle cx="1048.8" cy="1738.8" r="3.9"/><circle cx="1038.4" cy="1776.9" r="3.9"/><circle cx="1052.4" cy="1687.6" r="3.9"/><circle cx="1013.4" cy="1755.9" r="3.9"/><circle cx="1050.7" cy="1759.1" r="3.9"/><circle cx="1053.2" cy="1762.2" r="3.9"/><circle cx="1020.9" cy="1761.1" r="3.9"/><circle cx="1049.7" cy="1719.3" r="3.9"/><circle cx="1008.6" cy="1750.1" r="3.9"/><circle cx="1038.5" cy="1671.9" r="3.9"/><circle cx="1045" cy="1764.5" r="3.9"/><circle cx="1013.3" cy="1733" r="3.9"/><circle cx="1007.1" cy="1719.5" r="3.9"/><circle cx="1053.6" cy="1761.7" r="3.9"/><circle cx="1013.1" cy="1694.3" r="3.9"/><circle cx="1045.9" cy="1765.4" r="3.9"/><circle cx="1028.4" cy="1651.7" r="3.9"/><circle cx="1042.3" cy="1731.6" r="3.9"/><circle cx="1034.9" cy="1741.3" r="3.9"/><circle cx="1007.7" cy="1694.3" r="3.9"/><circle cx="1040.5" cy="1787.8" r="3.9"/><circle cx="1052.4" cy="1714.9" r="3.9"/><circle cx="1051.7" cy="1733.3" r="3.9"/><circle cx="1041.5" cy="1694.9" r="3.9"/><circle cx="1007.3" cy="1715.3" r="3.9"/><circle cx="1022.4" cy="1726.4" r="3.9"/><circle cx="1026.1" cy="1714.2" r="3.9"/><circle cx="1033.8" cy="1729.8" r="3.9"/><circle cx="1028.9" cy="1727.6" r="3.9"/><circle cx="1035.3" cy="1745.3" r="3.9"/><circle cx="1015.3" cy="1715" r="3.9"/><circle cx="1046.1" cy="1731.8" r="3.9"/><circle cx="1029.8" cy="1708.6" r="3.9"/><circle cx="1037.8" cy="1733.5" r="3.9"/><circle cx="1014.1" cy="1722.9" r="3.9"/><circle cx="1050.1" cy="1780.9" r="3.9"/><circle cx="1027.7" cy="1708" r="3.9"/><circle cx="1041.9" cy="1789" r="3.9"/><circle cx="1044.5" cy="1699.9" r="3.9"/><circle cx="1009.5" cy="1725.6" r="3.9"/><circle cx="1041.6" cy="1725.3" r="3.9"/><circle cx="1031.5" cy="1720.1" r="3.9"/><circle cx="1044.3" cy="1702" r="3.9"/><circle cx="1024.4" cy="1725.3" r="3.9"/><circle cx="1009.5" cy="1753.1" r="3.9"/><circle cx="1041.9" cy="1704.9" r="3.9"/><circle cx="1029.8" cy="1715.6" r="3.9"/><circle cx="1000.1" cy="1731" r="3.9"/><circle cx="1048.5" cy="1720.7" r="3.9"/><circle cx="1037.7" cy="1673.4" r="3.9"/><circle cx="1049.3" cy="1739.6" r="3.9"/><circle cx="1048.5" cy="1692.7" r="3.9"/><circle cx="1007.2" cy="1685.1" r="3.9"/><circle cx="1028.3" cy="1717.7" r="3.9"/><circle cx="1013.1" cy="1691.7" r="3.9"/><circle cx="1049.9" cy="1717.4" r="3.9"/><circle cx="1037.8" cy="1723.1" r="3.9"/><circle cx="1027.4" cy="1677" r="3.9"/><circle cx="1051.8" cy="1723.2" r="3.9"/><circle cx="1002.5" cy="1728.2" r="3.9"/><circle cx="1025" cy="1782" r="3.9"/><circle cx="1048.8" cy="1706.6" r="3.9"/><circle cx="1040.8" cy="1795.3" r="3.9"/><circle cx="1046.1" cy="1735.1" r="3.9"/><circle cx="1021.7" cy="1722.6" r="3.9"/><circle cx="1051.3" cy="1741" r="3.9"/><circle cx="1050.4" cy="1657.2" r="3.9"/><circle cx="1054.6" cy="1760.4" r="3.9"/><circle cx="1000.5" cy="1757.8" r="3.9"/><circle cx="1044.1" cy="1794.1" r="3.9"/><circle cx="1030.7" cy="1772.6" r="3.9"/><circle cx="1035.9" cy="1709.3" r="3.9"/><circle cx="1011.1" cy="1735.9" r="3.9"/><circle cx="1038.9" cy="1652" r="3.9"/><circle cx="1045.9" cy="1769.7" r="3.9"/><circle cx="1044" cy="1717.1" r="3.9"/><circle cx="1036.9" cy="1717.2" r="3.9"/><circle cx="1031.1" cy="1701.8" r="3.9"/><circle cx="1048.8" cy="1680.7" r="3.9"/><circle cx="1020.1" cy="1734.8" r="3.9"/><circle cx="999" cy="1726.7" r="3.9"/><circle cx="1050.9" cy="1686.8" r="3.9"/><circle cx="998.2" cy="1727.8" r="3.9"/><circle cx="1044.9" cy="1715.5" r="3.9"/><circle cx="1020.5" cy="1714.6" r="3.9"/><circle cx="1031.4" cy="1743.5" r="3.9"/><circle cx="1035.8" cy="1715.4" r="3.9"/><circle cx="1054.2" cy="1669.4" r="3.9"/><circle cx="1035.1" cy="1731.9" r="3.9"/><circle cx="1038.6" cy="1711.1" r="3.9"/><circle cx="999.6" cy="1700.8" r="3.9"/><circle cx="1015.1" cy="1696.6" r="3.9"/><circle cx="1028.7" cy="1723.1" r="3.9"/><circle cx="1042.5" cy="1690.1" r="3.9"/><circle cx="1027.7" cy="1722.7" r="3.9"/><circle cx="1008.6" cy="1687.9" r="3.9"/><circle cx="1033.8" cy="1723.6" r="3.9"/><circle cx="1023.4" cy="1728.4" r="3.9"/><circle cx="1051.1" cy="1729.2" r="3.9"/><circle cx="1020" cy="1713.3" r="3.9"/><circle cx="1054.5" cy="1780.1" r="3.9"/><circle cx="1003.9" cy="1727.2" r="3.9"/><circle cx="1012.4" cy="1727.4" r="3.9"/><circle cx="1052.9" cy="1719.3" r="3.9"/><circle cx="1042.9" cy="1732.5" r="3.9"/><circle cx="1047" cy="1675.1" r="3.9"/><circle cx="1046.9" cy="1695" r="3.9"/><circle cx="1032.4" cy="1763.2" r="3.9"/><circle cx="1040.3" cy="1719.1" r="3.9"/><circle cx="1041.4" cy="1715.3" r="3.9"/><circle cx="1024.6" cy="1711.1" r="3.9"/><circle cx="1032.4" cy="1723.5" r="3.9"/><circle cx="1043" cy="1723.6" r="3.9"/><circle cx="1040.5" cy="1697.3" r="3.9"/><circle cx="1044.2" cy="1698.7" r="3.9"/><circle cx="1049.8" cy="1631.7" r="3.9"/><circle cx="1038.8" cy="1706.1" r="3.9"/><circle cx="1038.7" cy="1692.1" r="3.9"/><circle cx="1051.6" cy="1735.4" r="3.9"/><circle cx="1050.9" cy="1715.3" r="3.9"/><circle cx="1045.2" cy="1766.1" r="3.9"/><circle cx="1031.1" cy="1758.9" r="3.9"/><circle cx="1022.7" cy="1700.9" r="3.9"/><circle cx="1034.3" cy="1744.6" r="3.9"/><circle cx="1048" cy="1684.8" r="3.9"/><circle cx="1050.4" cy="1777.9" r="3.9"/><circle cx="1029" cy="1624.4" r="3.9"/><circle cx="1041.2" cy="1725.5" r="3.9"/><circle cx="1038" cy="1733.1" r="3.9"/><circle cx="1019.4" cy="1725.7" r="3.9"/><circle cx="1052.5" cy="1730.7" r="3.9"/><circle cx="1021.3" cy="1690.3" r="3.9"/><circle cx="1022.4" cy="1818.3" r="3.9"/><circle cx="1011.8" cy="1717.4" r="3.9"/><circle cx="1015.8" cy="1745" r="3.9"/><circle cx="1046.7" cy="1746.3" r="3.9"/><circle cx="1010.7" cy="1700.7" r="3.9"/><circle cx="1022.8" cy="1721.2" r="3.9"/><circle cx="1046.7" cy="1752.8" r="3.9"/><circle cx="1051.3" cy="1702.6" r="3.9"/><circle cx="1010.8" cy="1744.9" r="3.9"/><circle cx="1052.1" cy="1691.1" r="3.9"/><circle cx="1053.5" cy="1769.9" r="3.9"/><circle cx="1027.6" cy="1720.4" r="3.9"/><circle cx="1037.6" cy="1712.9" r="3.9"/><circle cx="1039.4" cy="1714" r="3.9"/><circle cx="1009.4" cy="1723.2" r="3.9"/><circle cx="1045.8" cy="1710.4" r="3.9"/><circle cx="1026.3" cy="1724.1" r="3.9"/><circle cx="1023.6" cy="1720.9" r="3.9"/><circle cx="1050.6" cy="1648.2" r="3.9"/><circle cx="1018.3" cy="1729.2" r="3.9"/><circle cx="1040.5" cy="1664.8" r="3.9"/><circle cx="1030.9" cy="1675.8" r="3.9"/><circle cx="1054" cy="1658.6" r="3.9"/><circle cx="1042.4" cy="1728.7" r="3.9"/><circle cx="1045.4" cy="1688.6" r="3.9"/><circle cx="1040.5" cy="1732.4" r="3.9"/><circle cx="1040.2" cy="1714.2" r="3.9"/><circle cx="1029.9" cy="1726.7" r="3.9"/><circle cx="1021.5" cy="1722.6" r="3.9"/><circle cx="1040.9" cy="1727.3" r="3.9"/><circle cx="1029.4" cy="1719.8" r="3.9"/><circle cx="1019.7" cy="1723.4" r="3.9"/><circle cx="1019.5" cy="1726.2" r="3.9"/><circle cx="1047.6" cy="1787.2" r="3.9"/><circle cx="1046.4" cy="1676.2" r="3.9"/><circle cx="1045.9" cy="1658.1" r="3.9"/><circle cx="1043.6" cy="1732.1" r="3.9"/><circle cx="1041" cy="1728" r="3.9"/><circle cx="1021.9" cy="1721.4" r="3.9"/><circle cx="1051.3" cy="1850.8" r="3.9"/><circle cx="1049.6" cy="1722.4" r="3.9"/><circle cx="1038.6" cy="1781.8" r="3.9"/><circle cx="1042.7" cy="1731.4" r="3.9"/><circle cx="1017.8" cy="1731.2" r="3.9"/><circle cx="1028.4" cy="1761.4" r="3.9"/><circle cx="1039.2" cy="1719.3" r="3.9"/><circle cx="1003.2" cy="1733.9" r="3.9"/><circle cx="994.4" cy="1725.3" r="3.9"/><circle cx="1045.2" cy="1760.2" r="3.9"/><circle cx="1049.4" cy="1675" r="3.9"/><circle cx="1025.5" cy="1673.5" r="3.9"/><circle cx="1040.1" cy="1750.8" r="3.9"/><circle cx="1015.9" cy="1695.2" r="3.9"/><circle cx="1018.1" cy="1774.9" r="3.9"/><circle cx="1050.8" cy="1726.4" r="3.9"/><circle cx="1002.9" cy="1736.2" r="3.9"/><circle cx="1015.4" cy="1778.7" r="3.9"/><circle cx="1054.7" cy="1690" r="3.9"/><circle cx="1046.7" cy="1722.8" r="3.9"/><circle cx="1025.3" cy="1734.7" r="3.9"/><circle cx="1054.7" cy="1717" r="3.9"/><circle cx="1043" cy="1697.1" r="3.9"/><circle cx="995.1" cy="1734.9" r="3.9"/><circle cx="1049.3" cy="1813.9" r="3.9"/><circle cx="1022.9" cy="1773" r="3.9"/><circle cx="1012.7" cy="1723.3" r="3.9"/><circle cx="1005.6" cy="1721.8" r="3.9"/><circle cx="1044.6" cy="1721.8" r="3.9"/><circle cx="1051.8" cy="1664.1" r="3.9"/><circle cx="1020" cy="1769.7" r="3.9"/><circle cx="1031" cy="1741" r="3.9"/><circle cx="1052.3" cy="1783" r="3.9"/><circle cx="1036.5" cy="1736.7" r="3.9"/><circle cx="1025" cy="1727.8" r="3.9"/><circle cx="1015.7" cy="1705.9" r="3.9"/><circle cx="1042.1" cy="1729.2" r="3.9"/><circle cx="1016.1" cy="1729.8" r="3.9"/><circle cx="1043.4" cy="1708" r="3.9"/><circle cx="1036.8" cy="1692" r="3.9"/><circle cx="1039.8" cy="1668.7" r="3.9"/><circle cx="1041" cy="1631.2" r="3.9"/><circle cx="1019.8" cy="1728.7" r="3.9"/><circle cx="1025.5" cy="1720.2" r="3.9"/><circle cx="1031.4" cy="1714.8" r="3.9"/><circle cx="1038.7" cy="1692.7" r="3.9"/><circle cx="1037.7" cy="1754.5" r="3.9"/><circle cx="1036.4" cy="1713.6" r="3.9"/><circle cx="1003.7" cy="1721.3" r="3.9"/><circle cx="1049.7" cy="1702.5" r="3.9"/><circle cx="1042.9" cy="1747.1" r="3.9"/><circle cx="1052.5" cy="1716.2" r="3.9"/><circle cx="1010.1" cy="1705.8" r="3.9"/><circle cx="1051.1" cy="1655.1" r="3.9"/><circle cx="1000.3" cy="1712.6" r="3.9"/><circle cx="1042.4" cy="1665.6" r="3.9"/><circle cx="1022.2" cy="1746.3" r="3.9"/><circle cx="1049.1" cy="1621.7" r="3.9"/><circle cx="1045.1" cy="1713.6" r="3.9"/><circle cx="1039.5" cy="1725" r="3.9"/><circle cx="1008.4" cy="1729.5" r="3.9"/><circle cx="1018.4" cy="1768.3" r="3.9"/><circle cx="1047.7" cy="1742.2" r="3.9"/><circle cx="1033.4" cy="1729.2" r="3.9"/><circle cx="1036.1" cy="1757.1" r="3.9"/><circle cx="1023.6" cy="1653.8" r="3.9"/><circle cx="1028.5" cy="1720.3" r="3.9"/><circle cx="1054.1" cy="1667.8" r="3.9"/><circle cx="1050.3" cy="1716.5" r="3.9"/><circle cx="1042.6" cy="1720.9" r="3.9"/><circle cx="1037.2" cy="1714" r="3.9"/><circle cx="1012.2" cy="1692" r="3.9"/><circle cx="1028.8" cy="1747.9" r="3.9"/><circle cx="1008.8" cy="1727.2" r="3.9"/><circle cx="1016.5" cy="1721.2" r="3.9"/><circle cx="998.9" cy="1722.6" r="3.9"/><circle cx="1039.7" cy="1699.2" r="3.9"/><circle cx="1028.9" cy="1763.5" r="3.9"/><circle cx="1033.5" cy="1718.7" r="3.9"/><circle cx="1042" cy="1726" r="3.9"/><circle cx="1026.2" cy="1722.1" r="3.9"/><circle cx="1035.5" cy="1670.9" r="3.9"/><circle cx="1048.9" cy="1687.3" r="3.9"/><circle cx="1048.8" cy="1723.5" r="3.9"/><circle cx="1048.1" cy="1686.4" r="3.9"/><circle cx="1048.5" cy="1712" r="3.9"/><circle cx="1001.5" cy="1716.1" r="3.9"/><circle cx="1018.7" cy="1714.7" r="3.9"/><circle cx="998.5" cy="1719.3" r="3.9"/><circle cx="1037.5" cy="1700.4" r="3.9"/><circle cx="1050.6" cy="1719.9" r="3.9"/><circle cx="1032.4" cy="1697" r="3.9"/><circle cx="1050.6" cy="1711.9" r="3.9"/><circle cx="1052" cy="1759.3" r="3.9"/><circle cx="1015.6" cy="1707.3" r="3.9"/><circle cx="1040.6" cy="1676.7" r="3.9"/><circle cx="1034" cy="1643.3" r="3.9"/><circle cx="1031.8" cy="1744.8" r="3.9"/><circle cx="1043.5" cy="1712.8" r="3.9"/><circle cx="1049.3" cy="1718.9" r="3.9"/><circle cx="1051.5" cy="1743.5" r="3.9"/><circle cx="1040.1" cy="1716.3" r="3.9"/><circle cx="1017.9" cy="1717.4" r="3.9"/><circle cx="1026.3" cy="1729.7" r="3.9"/><circle cx="1039.5" cy="1664.2" r="3.9"/><circle cx="1031.8" cy="1726.6" r="3.9"/><circle cx="1028.2" cy="1719.8" r="3.9"/><circle cx="1054.8" cy="1714.8" r="3.9"/><circle cx="1031.5" cy="1721.5" r="3.9"/><circle cx="1020.7" cy="1724.2" r="3.9"/><circle cx="1040.1" cy="1744.2" r="3.9"/><circle cx="1036.1" cy="1719.6" r="3.9"/><circle cx="1004.4" cy="1713.4" r="3.9"/><circle cx="1052.3" cy="1734.7" r="3.9"/><circle cx="1045.1" cy="1717.7" r="3.9"/><circle cx="1040.9" cy="1838.2" r="3.9"/><circle cx="978.8" cy="1717" r="3.9"/><circle cx="1043.2" cy="1610.2" r="3.9"/><circle cx="1031.9" cy="1706.6" r="3.9"/><circle cx="1035.2" cy="1716.6" r="3.9"/><circle cx="1052.3" cy="1711.7" r="3.9"/><circle cx="1014" cy="1729.4" r="3.9"/><circle cx="1047.3" cy="1746.2" r="3.9"/><circle cx="997" cy="1728.6" r="3.9"/></g><g fill="#ff0000" stroke="#000" stroke-width="1.3" fill-opacity="0.12" stroke-opacity="0.20"><circle cx="1030.6" cy="1678.5" r="3.9"/><circle cx="1047.7" cy="1671.6" r="3.9"/><circle cx="1025.1" cy="1683.8" r="3.9"/><circle cx="1036.4" cy="1710.1" r="3.9"/><circle cx="1043.9" cy="1666.3" r="3.9"/><circle cx="1025.2" cy="1690" r="3.9"/><circle cx="1030.8" cy="1661" r="3.9"/><circle cx="1036.8" cy="1652.8" r="3.9"/><circle cx="1045.5" cy="1684.3" r="3.9"/><circle cx="1029" cy="1696.4" r="3.9"/><circle cx="1029.4" cy="1660" r="3.9"/><circle cx="1044.1" cy="1680.6" r="3.9"/><circle cx="1038.1" cy="1660.2" r="3.9"/><circle cx="1028.4" cy="1670" r="3.9"/><circle cx="1045.1" cy="1678.4" r="3.9"/><circle cx="1049.9" cy="1705.6" r="3.9"/><circle cx="1050.1" cy="1677.5" r="3.9"/><circle cx="1029.2" cy="1689.7" r="3.9"/><circle cx="1035.3" cy="1666.4" r="3.9"/><circle cx="1024.7" cy="1682.2" r="3.9"/><circle cx="1029.5" cy="1663.2" r="3.9"/><circle cx="1038.4" cy="1647.8" r="3.9"/><circle cx="1038.9" cy="1683.5" r="3.9"/><circle cx="1039.3" cy="1662.9" r="3.9"/><circle cx="1032.9" cy="1674" r="3.9"/><circle cx="1042.1" cy="1687.2" r="3.9"/><circle cx="1034.1" cy="1669.6" r="3.9"/><circle cx="1025.4" cy="1664.2" r="3.9"/><circle cx="1032.3" cy="1670.7" r="3.9"/><circle cx="1037" cy="1703.1" r="3.9"/><circle cx="1049.1" cy="1703.4" r="3.9"/><circle cx="1030.1" cy="1698.8" r="3.9"/><circle cx="1041.6" cy="1657.7" r="3.9"/><circle cx="1044.2" cy="1695.3" r="3.9"/><circle cx="1041.9" cy="1663.2" r="3.9"/><circle cx="1029.9" cy="1695.3" r="3.9"/><circle cx="1024.6" cy="1668.7" r="3.9"/><circle cx="1047.6" cy="1674.8" r="3.9"/><circle cx="1047.4" cy="1667.6" r="3.9"/><circle cx="1044.9" cy="1684" r="3.9"/><circle cx="1050.5" cy="1650.8" r="3.9"/><circle cx="1030.2" cy="1671.2" r="3.9"/><circle cx="1029.2" cy="1696.6" r="3.9"/><circle cx="1034" cy="1696.6" r="3.9"/><circle cx="1039.8" cy="1665" r="3.9"/><circle cx="1042.7" cy="1660.5" r="3.9"/><circle cx="1036.2" cy="1663.8" r="3.9"/><circle cx="1034.2" cy="1661" r="3.9"/><circle cx="1049.4" cy="1687.3" r="3.9"/><circle cx="1048.1" cy="1675.8" r="3.9"/></g><g fill="#ff0000" stroke="#000" stroke-width="1.3" fill-opacity="0.14" stroke-opacity="0.24"><circle cx="1046" cy="1716.3" r="3.9"/><circle cx="1008.8" cy="1726.9" r="3.9"/><circle cx="1047.9" cy="1721.3" r="3.9"/><circle cx="1028.6" cy="1714.2" r="3.9"/><circle cx="1051.9" cy="1729.6" r="3.9"/><circle cx="1051.6" cy="1725.8" r="3.9"/><circle cx="1015.3" cy="1727.3" r="3.9"/><circle cx="1015.9" cy="1728.6" r="3.9"/><circle cx="1009.7" cy="1718.7" r="3.9"/><circle cx="1032.7" cy="1719.6" r="3.9"/><circle cx="1041.7" cy="1723.8" r="3.9"/><circle cx="1008.7" cy="1721.7" r="3.9"/><circle cx="1042.3" cy="1726.7" r="3.9"/><circle cx="1043" cy="1715.6" r="3.9"/><circle cx="1014.5" cy="1736" r="3.9"/><circle cx="1042.4" cy="1725.1" r="3.9"/><circle cx="1030.7" cy="1719.1" r="3.9"/><circle cx="1045.5" cy="1731.8" r="3.9"/><circle cx="1049.8" cy="1721.7" r="3.9"/><circle cx="1008.5" cy="1709.4" r="3.9"/><circle cx="1025.3" cy="1725.3" r="3.9"/><circle cx="1039.2" cy="1718.1" r="3.9"/><circle cx="1006.1" cy="1727.7" r="3.9"/><circle cx="1050" cy="1727.4" r="3.9"/><circle cx="1017.6" cy="1718.8" r="3.9"/><circle cx="1050.4" cy="1717.9" r="3.9"/><circle cx="1045.9" cy="1722.5" r="3.9"/><circle cx="1002.2" cy="1715.9" r="3.9"/><circle cx="1031.2" cy="1720.5" r="3.9"/><circle cx="1005.6" cy="1727.7" r="3.9"/><circle cx="1028.5" cy="1724.5" r="3.9"/><circle cx="1028" cy="1712.5" r="3.9"/><circle cx="1007.4" cy="1726.8" r="3.9"/><circle cx="1001.7" cy="1719.8" r="3.9"/><circle cx="1043.3" cy="1720.6" r="3.9"/><circle cx="1033.9" cy="1718.1" r="3.9"/><circle cx="1007.3" cy="1721.6" r="3.9"/><circle cx="1007" cy="1723" r="3.9"/><circle cx="1025.7" cy="1716.2" r="3.9"/><circle cx="1046.8" cy="1724.4" r="3.9"/><circle cx="1051.8" cy="1717.4" r="3.9"/><circle cx="1024" cy="1728.1" r="3.9"/><circle cx="1038.8" cy="1721.2" r="3.9"/><circle cx="1033" cy="1719.9" r="3.9"/><circle cx="1013" cy="1721" r="3.9"/><circle cx="1011" cy="1729.6" r="3.9"/><circle cx="1005" cy="1723" r="3.9"/><circle cx="1016.6" cy="1723.7" r="3.9"/><circle cx="1005.1" cy="1728.8" r="3.9"/><circle cx="1045.4" cy="1731.4" r="3.9"/></g>
<circle cx="1018.5" cy="1739" r="3.6" fill="#4e8a26" fill-opacity="0.22"/><circle cx="1025.5" cy="1743" r="3.6" fill="#4e8a26" fill-opacity="0.22"/><circle cx="1012.5" cy="1734.9" r="3.6" fill="#4e8a26" fill-opacity="0.22"/><circle cx="1023.2" cy="1735.3" r="3.6" fill="#4e8a26" fill-opacity="0.22"/><circle cx="1008.5" cy="1737.8" r="3.6" fill="#4e8a26" fill-opacity="0.22"/><circle cx="1033" cy="1740.9" r="3.6" fill="#4e8a26" fill-opacity="0.22"/><circle cx="1002.8" cy="1733" r="3.6" fill="#4e8a26" fill-opacity="0.22"/><circle cx="1035.4" cy="1746.9" r="3.6" fill="#4e8a26" fill-opacity="0.22"/><circle cx="1016.8" cy="1741.3" r="3.6" fill="#4e8a26" fill-opacity="0.22"/><circle cx="1028.1" cy="1745.3" r="3.6" fill="#4e8a26" fill-opacity="0.22"/><circle cx="1031.4" cy="1741.3" r="3.6" fill="#4e8a26" fill-opacity="0.22"/><circle cx="1006" cy="1739.3" r="3.6" fill="#4e8a26" fill-opacity="0.22"/><circle cx="1009.7" cy="1737.6" r="3.6" fill="#4e8a26" fill-opacity="0.22"/><circle cx="1016.4" cy="1744.6" r="3.6" fill="#4e8a26" fill-opacity="0.22"/><circle cx="1026.9" cy="1739.2" r="3.6" fill="#4e8a26" fill-opacity="0.22"/><circle cx="1031" cy="1744.9" r="3.6" fill="#4e8a26" fill-opacity="0.22"/><circle cx="1023.2" cy="1744.9" r="3.6" fill="#4e8a26" fill-opacity="0.22"/><circle cx="1044.8" cy="1750.2" r="3.6" fill="#4e8a26" fill-opacity="0.22"/><circle cx="1012.7" cy="1737.5" r="3.6" fill="#4e8a26" fill-opacity="0.22"/><circle cx="1008.9" cy="1737.7" r="3.6" fill="#4e8a26" fill-opacity="0.22"/><circle cx="1028.8" cy="1746.7" r="3.6" fill="#4e8a26" fill-opacity="0.22"/><circle cx="1010.6" cy="1738.4" r="3.6" fill="#4e8a26" fill-opacity="0.22"/><circle cx="1032.6" cy="1741.4" r="3.6" fill="#4e8a26" fill-opacity="0.22"/><circle cx="1017.8" cy="1733.2" r="3.6" fill="#4e8a26" fill-opacity="0.22"/><circle cx="1003.4" cy="1728.9" r="3.6" fill="#4e8a26" fill-opacity="0.22"/><circle cx="1014.9" cy="1739.6" r="3.6" fill="#4e8a26" fill-opacity="0.22"/><circle cx="1044.2" cy="1744.9" r="3.6" fill="#4e8a26" fill-opacity="0.22"/><circle cx="1024.4" cy="1743.8" r="3.6" fill="#4e8a26" fill-opacity="0.22"/><circle cx="1011.7" cy="1739.6" r="3.6" fill="#4e8a26" fill-opacity="0.22"/><circle cx="1046.7" cy="1742.5" r="3.6" fill="#4e8a26" fill-opacity="0.22"/><circle cx="1018.3" cy="1741.6" r="3.6" fill="#4e8a26" fill-opacity="0.22"/><circle cx="1039.1" cy="1744.8" r="3.6" fill="#4e8a26" fill-opacity="0.22"/><circle cx="1041.5" cy="1749.9" r="3.6" fill="#4e8a26" fill-opacity="0.22"/><circle cx="1024.5" cy="1745.3" r="3.6" fill="#4e8a26" fill-opacity="0.22"/><circle cx="1036.8" cy="1749.9" r="3.6" fill="#4e8a26" fill-opacity="0.22"/><circle cx="1011" cy="1737.7" r="3.6" fill="#4e8a26" fill-opacity="0.22"/><circle cx="1033.5" cy="1743.4" r="3.6" fill="#4e8a26" fill-opacity="0.22"/><circle cx="1029.5" cy="1743.6" r="3.6" fill="#4e8a26" fill-opacity="0.22"/><circle cx="1035.5" cy="1749.7" r="3.6" fill="#4e8a26" fill-opacity="0.22"/><circle cx="1032.4" cy="1745.3" r="3.6" fill="#4e8a26" fill-opacity="0.22"/>
<polygon points="1053,1636 1058,1632 1068,1624 1078,1620 1092,1628 1110,1638 1125,1643 1141,1648 1158,1654 1160,1668 1166,1684 1172,1676 1178,1664 1200,1668 1230,1644 1263,1643 1279,1654 1293,1656 1312,1654 1323,1671 1334,1672 1344,1684 1358,1696 1381,1701 1418,1707 1443,1719 1449,1722 1443.7,1722.5 1415.6,1743.2 1395.5,1747.2 1377.4,1746.2 1375.4,1756.2 1368.3,1760.3 1364,1762 1356,1758 1350,1762 1350.3,1776.3 1337.2,1787.4 1323.1,1797.4 1313.1,1805.5 1303.1,1815.5 1290,1828 1279,1835 1244,1849 1226,1854 1200,1844 1160,1842 1124,1839 1088,1840 1063,1833 1055,1810" fill="url(#dots)"/>
<polygon points="1053,1714 1449,1719.5 1449,1725 1053,1729" fill="#1a0000" opacity="0.55"/>
<g fill="#ff0000" stroke="#000" stroke-width="1.3" fill-opacity="0.5" stroke-opacity="0.60"><circle cx="1057.9" cy="1633.1" r="3.9"/><circle cx="1059" cy="1629" r="3.9"/><circle cx="1064.6" cy="1622" r="3.9"/><circle cx="1062.1" cy="1624.7" r="3.9"/><circle cx="1059.5" cy="1625.3" r="3.9"/><circle cx="1067.1" cy="1625.2" r="3.9"/><circle cx="1066.4" cy="1617.3" r="3.9"/><circle cx="1073.6" cy="1621.1" r="3.9"/><circle cx="1077" cy="1620" r="3.9"/><circle cx="1083.4" cy="1623.3" r="3.9"/><circle cx="1076.1" cy="1621.1" r="3.9"/><circle cx="1085.9" cy="1621.9" r="3.9"/><circle cx="1088.8" cy="1628.1" r="3.9"/><circle cx="1091.8" cy="1630.5" r="3.9"/><circle cx="1088.8" cy="1628.6" r="3.9"/><circle cx="1097.9" cy="1631.5" r="3.9"/><circle cx="1094.5" cy="1623.4" r="3.9"/><circle cx="1101.9" cy="1631.7" r="3.9"/><circle cx="1096.7" cy="1632" r="3.9"/><circle cx="1099.8" cy="1632.6" r="3.9"/><circle cx="1109" cy="1631.1" r="3.9"/><circle cx="1106.1" cy="1637.8" r="3.9"/><circle cx="1110.4" cy="1636.3" r="3.9"/><circle cx="1113.7" cy="1636.8" r="3.9"/><circle cx="1117.9" cy="1637.6" r="3.9"/><circle cx="1118.7" cy="1642.4" r="3.9"/><circle cx="1127.7" cy="1649.1" r="3.9"/><circle cx="1122.2" cy="1643.6" r="3.9"/><circle cx="1126.2" cy="1645.2" r="3.9"/><circle cx="1131.2" cy="1638" r="3.9"/><circle cx="1135.1" cy="1644.4" r="3.9"/><circle cx="1138" cy="1646.6" r="3.9"/><circle cx="1132.3" cy="1649.2" r="3.9"/><circle cx="1140.8" cy="1646.1" r="3.9"/><circle cx="1143.9" cy="1654.7" r="3.9"/><circle cx="1143.5" cy="1648.9" r="3.9"/><circle cx="1147" cy="1653.1" r="3.9"/><circle cx="1155.7" cy="1654.8" r="3.9"/><circle cx="1155.8" cy="1656.3" r="3.9"/><circle cx="1159" cy="1658.4" r="3.9"/><circle cx="1159.9" cy="1662.5" r="3.9"/><circle cx="1158.4" cy="1666.2" r="3.9"/><circle cx="1159.6" cy="1671.2" r="3.9"/><circle cx="1164.3" cy="1672.1" r="3.9"/><circle cx="1169.2" cy="1667.9" r="3.9"/><circle cx="1160.2" cy="1673.5" r="3.9"/><circle cx="1166.2" cy="1681.2" r="3.9"/><circle cx="1164.8" cy="1683.6" r="3.9"/><circle cx="1171" cy="1678" r="3.9"/><circle cx="1172.6" cy="1678" r="3.9"/><circle cx="1174.3" cy="1674.9" r="3.9"/><circle cx="1174.7" cy="1669.2" r="3.9"/><circle cx="1175.8" cy="1666.9" r="3.9"/><circle cx="1177.1" cy="1668.9" r="3.9"/><circle cx="1179.2" cy="1662" r="3.9"/><circle cx="1182.3" cy="1664.7" r="3.9"/><circle cx="1184.9" cy="1665.9" r="3.9"/><circle cx="1191.1" cy="1670.2" r="3.9"/><circle cx="1192.7" cy="1668.9" r="3.9"/><circle cx="1183.5" cy="1667.9" r="3.9"/><circle cx="1193.8" cy="1665.6" r="3.9"/><circle cx="1197.7" cy="1666.4" r="3.9"/><circle cx="1202.7" cy="1667.2" r="3.9"/><circle cx="1207.4" cy="1665.5" r="3.9"/><circle cx="1204.9" cy="1665.3" r="3.9"/><circle cx="1202.5" cy="1667.9" r="3.9"/><circle cx="1210.3" cy="1662.8" r="3.9"/><circle cx="1205.6" cy="1663.5" r="3.9"/><circle cx="1211.8" cy="1659.1" r="3.9"/><circle cx="1214" cy="1654.8" r="3.9"/><circle cx="1214.4" cy="1647.6" r="3.9"/><circle cx="1217" cy="1649.4" r="3.9"/><circle cx="1213.2" cy="1652" r="3.9"/><circle cx="1224.2" cy="1651.2" r="3.9"/><circle cx="1222" cy="1649.3" r="3.9"/><circle cx="1225.8" cy="1647" r="3.9"/><circle cx="1227" cy="1651.6" r="3.9"/><circle cx="1231.9" cy="1642.9" r="3.9"/><circle cx="1235.3" cy="1646.8" r="3.9"/><circle cx="1231.8" cy="1642.9" r="3.9"/><circle cx="1239.2" cy="1640.7" r="3.9"/><circle cx="1239.4" cy="1642.7" r="3.9"/><circle cx="1238.3" cy="1648.4" r="3.9"/><circle cx="1243.5" cy="1646.3" r="3.9"/><circle cx="1245.5" cy="1636.9" r="3.9"/><circle cx="1249" cy="1642.7" r="3.9"/><circle cx="1247.8" cy="1645" r="3.9"/><circle cx="1246.5" cy="1649.2" r="3.9"/><circle cx="1256.4" cy="1644.4" r="3.9"/><circle cx="1248.8" cy="1638" r="3.9"/><circle cx="1258.4" cy="1640.9" r="3.9"/><circle cx="1265.5" cy="1643.9" r="3.9"/><circle cx="1269.6" cy="1648.7" r="3.9"/><circle cx="1273.5" cy="1649.4" r="3.9"/><circle cx="1276.6" cy="1649.1" r="3.9"/><circle cx="1281.8" cy="1654.7" r="3.9"/><circle cx="1281.8" cy="1656.8" r="3.9"/><circle cx="1281.4" cy="1653.2" r="3.9"/><circle cx="1290.2" cy="1662.6" r="3.9"/><circle cx="1290.6" cy="1657.3" r="3.9"/><circle cx="1290.3" cy="1653.1" r="3.9"/><circle cx="1295.7" cy="1652.7" r="3.9"/><circle cx="1295.7" cy="1653" r="3.9"/><circle cx="1304.4" cy="1657.1" r="3.9"/><circle cx="1308.5" cy="1654.9" r="3.9"/><circle cx="1310.9" cy="1651.3" r="3.9"/><circle cx="1313" cy="1654.5" r="3.9"/><circle cx="1310.7" cy="1656.1" r="3.9"/><circle cx="1314.5" cy="1662.9" r="3.9"/><circle cx="1317.4" cy="1665.7" r="3.9"/><circle cx="1319.4" cy="1661.9" r="3.9"/><circle cx="1318.5" cy="1667.5" r="3.9"/><circle cx="1323.5" cy="1675.1" r="3.9"/><circle cx="1325.8" cy="1668" r="3.9"/><circle cx="1331.5" cy="1672.6" r="3.9"/><circle cx="1333.7" cy="1670" r="3.9"/><circle cx="1337.3" cy="1673.8" r="3.9"/><circle cx="1343.4" cy="1681.8" r="3.9"/><circle cx="1341.3" cy="1683.4" r="3.9"/><circle cx="1344.9" cy="1689.2" r="3.9"/><circle cx="1340.4" cy="1683.8" r="3.9"/><circle cx="1350.3" cy="1689.5" r="3.9"/><circle cx="1344.8" cy="1695.9" r="3.9"/><circle cx="1357.4" cy="1694.3" r="3.9"/><circle cx="1357.3" cy="1689.7" r="3.9"/><circle cx="1355.9" cy="1694.5" r="3.9"/><circle cx="1350.4" cy="1691" r="3.9"/><circle cx="1364.7" cy="1695.5" r="3.9"/><circle cx="1366.1" cy="1699.9" r="3.9"/><circle cx="1374.4" cy="1696.7" r="3.9"/><circle cx="1364.3" cy="1697.4" r="3.9"/><circle cx="1378.5" cy="1699.3" r="3.9"/><circle cx="1378.4" cy="1699.9" r="3.9"/><circle cx="1374.2" cy="1707" r="3.9"/><circle cx="1382.9" cy="1703.6" r="3.9"/><circle cx="1386.6" cy="1699.5" r="3.9"/><circle cx="1392.2" cy="1703.3" r="3.9"/><circle cx="1392.1" cy="1702.7" r="3.9"/><circle cx="1398.3" cy="1702.3" r="3.9"/><circle cx="1403.2" cy="1705.9" r="3.9"/><circle cx="1406.1" cy="1706.1" r="3.9"/><circle cx="1407.5" cy="1703.9" r="3.9"/><circle cx="1413.1" cy="1706.5" r="3.9"/><circle cx="1416.5" cy="1709.3" r="3.9"/><circle cx="1424.7" cy="1710.6" r="3.9"/><circle cx="1427.5" cy="1710.4" r="3.9"/><circle cx="1432.5" cy="1712.7" r="3.9"/><circle cx="1432.3" cy="1717.3" r="3.9"/><circle cx="1439" cy="1716.6" r="3.9"/><circle cx="1444.8" cy="1719.2" r="3.9"/><circle cx="1442.9" cy="1724.3" r="3.9"/><circle cx="1449" cy="1723.5" r="3.9"/><circle cx="1443.7" cy="1723.4" r="3.9"/><circle cx="1446.4" cy="1730.2" r="3.9"/><circle cx="1442.8" cy="1724.7" r="3.9"/><circle cx="1434.6" cy="1725.5" r="3.9"/><circle cx="1435.7" cy="1728.8" r="3.9"/><circle cx="1428.9" cy="1735.9" r="3.9"/><circle cx="1432.1" cy="1734.5" r="3.9"/><circle cx="1424.7" cy="1729.2" r="3.9"/><circle cx="1429" cy="1733.3" r="3.9"/><circle cx="1422.5" cy="1740" r="3.9"/><circle cx="1420.9" cy="1740" r="3.9"/><circle cx="1416.3" cy="1741.1" r="3.9"/><circle cx="1416.3" cy="1738.7" r="3.9"/><circle cx="1410.8" cy="1746.2" r="3.9"/><circle cx="1406.4" cy="1746.3" r="3.9"/><circle cx="1413.8" cy="1736.9" r="3.9"/><circle cx="1405.3" cy="1747.8" r="3.9"/><circle cx="1401" cy="1750.2" r="3.9"/><circle cx="1397.8" cy="1748.1" r="3.9"/><circle cx="1405.7" cy="1748.5" r="3.9"/><circle cx="1394.4" cy="1746.8" r="3.9"/><circle cx="1388.7" cy="1746.1" r="3.9"/><circle cx="1383.6" cy="1749.1" r="3.9"/><circle cx="1385.5" cy="1743.4" r="3.9"/><circle cx="1381.1" cy="1746.7" r="3.9"/><circle cx="1385.5" cy="1745" r="3.9"/><circle cx="1378.3" cy="1744.6" r="3.9"/><circle cx="1374.8" cy="1752" r="3.9"/><circle cx="1376.7" cy="1756.9" r="3.9"/><circle cx="1379.3" cy="1751.7" r="3.9"/><circle cx="1372.3" cy="1755.3" r="3.9"/><circle cx="1369" cy="1759.4" r="3.9"/><circle cx="1364" cy="1756.9" r="3.9"/><circle cx="1361.3" cy="1759.4" r="3.9"/><circle cx="1358.2" cy="1759.2" r="3.9"/><circle cx="1361.2" cy="1759.4" r="3.9"/><circle cx="1354.8" cy="1757.3" r="3.9"/><circle cx="1351.2" cy="1763.1" r="3.9"/><circle cx="1347.2" cy="1767.2" r="3.9"/><circle cx="1347.7" cy="1770.6" r="3.9"/><circle cx="1350.8" cy="1763.6" r="3.9"/><circle cx="1348.5" cy="1777.9" r="3.9"/><circle cx="1347.6" cy="1777.6" r="3.9"/><circle cx="1350.7" cy="1784.5" r="3.9"/><circle cx="1341" cy="1779.6" r="3.9"/><circle cx="1339.3" cy="1782.6" r="3.9"/><circle cx="1336.5" cy="1786.5" r="3.9"/><circle cx="1340.9" cy="1791.3" r="3.9"/><circle cx="1331.9" cy="1788" r="3.9"/><circle cx="1332" cy="1793.7" r="3.9"/><circle cx="1328.9" cy="1792.3" r="3.9"/><circle cx="1325" cy="1794.6" r="3.9"/><circle cx="1320.8" cy="1791" r="3.9"/><circle cx="1320.5" cy="1797.8" r="3.9"/><circle cx="1312.5" cy="1801.9" r="3.9"/><circle cx="1315.4" cy="1803.8" r="3.9"/><circle cx="1320.1" cy="1798.9" r="3.9"/><circle cx="1313.6" cy="1807.4" r="3.9"/><circle cx="1312" cy="1809.5" r="3.9"/><circle cx="1306.5" cy="1814.9" r="3.9"/><circle cx="1311.9" cy="1807.2" r="3.9"/><circle cx="1305.3" cy="1813.1" r="3.9"/><circle cx="1300.7" cy="1818.4" r="3.9"/><circle cx="1306.7" cy="1822.4" r="3.9"/><circle cx="1295.3" cy="1820.4" r="3.9"/><circle cx="1292.9" cy="1821.5" r="3.9"/><circle cx="1292.2" cy="1825.1" r="3.9"/><circle cx="1287.9" cy="1827.3" r="3.9"/><circle cx="1287.9" cy="1824.1" r="3.9"/><circle cx="1287.3" cy="1831" r="3.9"/><circle cx="1284.8" cy="1835.6" r="3.9"/><circle cx="1288.5" cy="1829.4" r="3.9"/><circle cx="1279.3" cy="1836.8" r="3.9"/><circle cx="1277.6" cy="1834.7" r="3.9"/><circle cx="1275.8" cy="1837.3" r="3.9"/><circle cx="1283.1" cy="1832.4" r="3.9"/><circle cx="1273" cy="1838.5" r="3.9"/><circle cx="1267.4" cy="1833.7" r="3.9"/><circle cx="1268.8" cy="1842.2" r="3.9"/><circle cx="1265.8" cy="1840.2" r="3.9"/><circle cx="1267.3" cy="1838.8" r="3.9"/><circle cx="1259.4" cy="1844.8" r="3.9"/><circle cx="1257.9" cy="1847.1" r="3.9"/><circle cx="1249.8" cy="1852" r="3.9"/><circle cx="1253.9" cy="1843.6" r="3.9"/><circle cx="1257.6" cy="1843" r="3.9"/><circle cx="1247.4" cy="1847" r="3.9"/><circle cx="1254.6" cy="1855" r="3.9"/><circle cx="1243.8" cy="1850.6" r="3.9"/><circle cx="1246.2" cy="1856.4" r="3.9"/><circle cx="1241.6" cy="1848.2" r="3.9"/><circle cx="1238.6" cy="1848.7" r="3.9"/><circle cx="1236.7" cy="1854.1" r="3.9"/><circle cx="1230.8" cy="1853.2" r="3.9"/><circle cx="1235.2" cy="1852.1" r="3.9"/><circle cx="1223.5" cy="1856.6" r="3.9"/><circle cx="1218.2" cy="1849.1" r="3.9"/><circle cx="1220.7" cy="1850.7" r="3.9"/><circle cx="1216.5" cy="1853.4" r="3.9"/><circle cx="1215.3" cy="1851.1" r="3.9"/><circle cx="1209.9" cy="1850" r="3.9"/><circle cx="1205.4" cy="1848.5" r="3.9"/><circle cx="1199.6" cy="1841.4" r="3.9"/><circle cx="1194.8" cy="1842.1" r="3.9"/><circle cx="1191.1" cy="1843.6" r="3.9"/><circle cx="1189.1" cy="1847.4" r="3.9"/><circle cx="1190.3" cy="1846" r="3.9"/><circle cx="1183.2" cy="1841.1" r="3.9"/><circle cx="1180.5" cy="1841.5" r="3.9"/><circle cx="1177.4" cy="1844.1" r="3.9"/><circle cx="1170.9" cy="1840.1" r="3.9"/><circle cx="1169" cy="1843.9" r="3.9"/><circle cx="1165.8" cy="1843.6" r="3.9"/><circle cx="1166.9" cy="1845.1" r="3.9"/><circle cx="1156.3" cy="1836.6" r="3.9"/><circle cx="1158.8" cy="1843.7" r="3.9"/><circle cx="1167.3" cy="1848.1" r="3.9"/><circle cx="1154.5" cy="1842" r="3.9"/><circle cx="1152.7" cy="1841.3" r="3.9"/><circle cx="1145.5" cy="1838.8" r="3.9"/><circle cx="1142.9" cy="1841.6" r="3.9"/><circle cx="1138.3" cy="1842.1" r="3.9"/><circle cx="1133.3" cy="1838.3" r="3.9"/><circle cx="1132.8" cy="1843.6" r="3.9"/><circle cx="1130.8" cy="1838" r="3.9"/><circle cx="1126.2" cy="1840.7" r="3.9"/><circle cx="1124.4" cy="1836.1" r="3.9"/><circle cx="1122.7" cy="1839.3" r="3.9"/><circle cx="1115.3" cy="1836.8" r="3.9"/><circle cx="1110.3" cy="1836.9" r="3.9"/><circle cx="1108.1" cy="1842.8" r="3.9"/><circle cx="1106" cy="1839" r="3.9"/><circle cx="1113.5" cy="1843" r="3.9"/><circle cx="1105.9" cy="1838.6" r="3.9"/><circle cx="1097.8" cy="1841.9" r="3.9"/><circle cx="1097" cy="1837.1" r="3.9"/><circle cx="1101" cy="1833.9" r="3.9"/><circle cx="1091.9" cy="1839.7" r="3.9"/><circle cx="1089.7" cy="1842.7" r="3.9"/><circle cx="1081.8" cy="1839.9" r="3.9"/><circle cx="1079.2" cy="1839.8" r="3.9"/><circle cx="1073.7" cy="1833.7" r="3.9"/><circle cx="1070.4" cy="1835.9" r="3.9"/><circle cx="1072.4" cy="1834.6" r="3.9"/><circle cx="1068.3" cy="1837.3" r="3.9"/><circle cx="1069.4" cy="1836.4" r="3.9"/><circle cx="1063.8" cy="1830.5" r="3.9"/><circle cx="1061.9" cy="1828.5" r="3.9"/><circle cx="1062.2" cy="1827.4" r="3.9"/><circle cx="1057.3" cy="1820.9" r="3.9"/><circle cx="1060.1" cy="1817.5" r="3.9"/><circle cx="1147.1" cy="1835.6" r="3.9"/><circle cx="1073.3" cy="1844.8" r="3.9"/><circle cx="1078.1" cy="1842.1" r="3.9"/><circle cx="1139.9" cy="1830.9" r="3.9"/><circle cx="1193.7" cy="1836.6" r="3.9"/><circle cx="1183.4" cy="1838.9" r="3.9"/><circle cx="1297" cy="1834.8" r="3.9"/><circle cx="1284.7" cy="1841.2" r="3.9"/><circle cx="1220.3" cy="1847.4" r="3.9"/><circle cx="1213.6" cy="1838.5" r="3.9"/><circle cx="1231.8" cy="1841.4" r="3.9"/><circle cx="1164.3" cy="1853.2" r="3.9"/><circle cx="1061.6" cy="1846.9" r="3.9"/><circle cx="1094.3" cy="1842.1" r="3.9"/><circle cx="1063.6" cy="1843.7" r="3.9"/><circle cx="1283.6" cy="1853.2" r="3.9"/><circle cx="1312.1" cy="1845.5" r="3.9"/><circle cx="1302" cy="1851.5" r="3.9"/><circle cx="1087" cy="1846.3" r="3.9"/><circle cx="1197.9" cy="1839.9" r="3.9"/><circle cx="1130.2" cy="1833.4" r="3.9"/><circle cx="1269.9" cy="1851.4" r="3.9"/><circle cx="1101.1" cy="1857.3" r="3.9"/><circle cx="1076.4" cy="1840.7" r="3.9"/><circle cx="1231.1" cy="1840" r="3.9"/><circle cx="1268.7" cy="1859.4" r="3.9"/><circle cx="1247" cy="1848.9" r="3.9"/><circle cx="1112.6" cy="1848.3" r="3.9"/><circle cx="1076.7" cy="1858" r="3.9"/><circle cx="1072.5" cy="1834.4" r="3.9"/><circle cx="1143" cy="1833.2" r="3.9"/><circle cx="1212.3" cy="1840.8" r="3.9"/><circle cx="1250.8" cy="1837.8" r="3.9"/><circle cx="1104.7" cy="1843.1" r="3.9"/><circle cx="1155" cy="1858.3" r="3.9"/><circle cx="1285" cy="1858.3" r="3.9"/><circle cx="1290.1" cy="1856.1" r="3.9"/><circle cx="1156.1" cy="1834.8" r="3.9"/><circle cx="1184.1" cy="1833.9" r="3.9"/><circle cx="1316.1" cy="1836.3" r="3.9"/><circle cx="1130.1" cy="1635.4" r="3.9"/><circle cx="1312.7" cy="1634.1" r="3.9"/><circle cx="1087.5" cy="1634.8" r="3.9"/><circle cx="1137.5" cy="1635.5" r="3.9"/><circle cx="1169.6" cy="1635.6" r="3.9"/><circle cx="1122.5" cy="1639.7" r="3.9"/><circle cx="1106.4" cy="1645.8" r="3.9"/><circle cx="1209.9" cy="1627.5" r="3.9"/><circle cx="1101.9" cy="1647.8" r="3.9"/><circle cx="1241.5" cy="1632.6" r="3.9"/><circle cx="1277.2" cy="1625.6" r="3.9"/><circle cx="1208" cy="1620.1" r="3.9"/><circle cx="1117.6" cy="1618.5" r="3.9"/><circle cx="1289.7" cy="1638.1" r="3.9"/><circle cx="1254" cy="1639.5" r="3.9"/><circle cx="1164.1" cy="1648.6" r="3.9"/><circle cx="1315.1" cy="1621.1" r="3.9"/><circle cx="1327.8" cy="1639" r="3.9"/><circle cx="1313.8" cy="1647.7" r="3.9"/><circle cx="1168.9" cy="1629.4" r="3.9"/><circle cx="1173.9" cy="1621.2" r="3.9"/><circle cx="1198.7" cy="1632.6" r="3.9"/><circle cx="1077.7" cy="1630.9" r="3.9"/><circle cx="1117.1" cy="1636" r="3.9"/><circle cx="1158.3" cy="1630.6" r="3.9"/><circle cx="1195.8" cy="1648.9" r="3.9"/><circle cx="1233.5" cy="1628.2" r="3.9"/><circle cx="1241" cy="1645.3" r="3.9"/><circle cx="1299.3" cy="1649" r="3.9"/><circle cx="1119.7" cy="1623.1" r="3.9"/><circle cx="1176.6" cy="1633.3" r="3.9"/><circle cx="1146.3" cy="1625.4" r="3.9"/><circle cx="1241.1" cy="1645.1" r="3.9"/><circle cx="1105.2" cy="1649.9" r="3.9"/><circle cx="1204.2" cy="1643.6" r="3.9"/><circle cx="1151.7" cy="1626.6" r="3.9"/><circle cx="1227.1" cy="1634.9" r="3.9"/><circle cx="1110.4" cy="1648.2" r="3.9"/><circle cx="1178.5" cy="1647.1" r="3.9"/><circle cx="1095" cy="1637.2" r="3.9"/></g><g fill="#ff0000" stroke="#000" stroke-width="1.3" fill-opacity="0.7" stroke-opacity="0.84"><circle cx="1450" cy="1722" r="3.9"/><circle cx="1453.5" cy="1721.1" r="3.9"/><circle cx="1457" cy="1722.8" r="3.9"/><circle cx="1460.5" cy="1721.5" r="3.9"/><circle cx="1464" cy="1722.3" r="3.9"/><circle cx="1467.5" cy="1721.5" r="3.9"/><circle cx="1471" cy="1722.1" r="3.9"/><circle cx="1474.5" cy="1721.7" r="3.9"/><circle cx="1478" cy="1721.2" r="3.9"/><circle cx="1481.5" cy="1721.5" r="3.9"/><circle cx="1485" cy="1721.4" r="3.9"/></g>
<circle cx="1253" cy="1800" r="5.3" fill="#ffa500" stroke="#000" stroke-width="0.8" stroke-opacity="0.5"/><circle cx="1260" cy="1797" r="5.3" fill="#ffa500" stroke="#000" stroke-width="0.8" stroke-opacity="0.5"/><circle cx="1268" cy="1796" r="5.3" fill="#ffa500" stroke="#000" stroke-width="0.8" stroke-opacity="0.5"/><circle cx="1275" cy="1800" r="5.3" fill="#ffa500" stroke="#000" stroke-width="0.8" stroke-opacity="0.5"/><circle cx="1263" cy="1805" r="5.3" fill="#ffa500" stroke="#000" stroke-width="0.8" stroke-opacity="0.5"/><circle cx="1271" cy="1808" r="5.3" fill="#ffa500" stroke="#000" stroke-width="0.8" stroke-opacity="0.5"/><circle cx="1278" cy="1810" r="5.3" fill="#ffa500" stroke="#000" stroke-width="0.8" stroke-opacity="0.5"/><circle cx="1256" cy="1813" r="5.3" fill="#ffa500" stroke="#000" stroke-width="0.8" stroke-opacity="0.5"/><circle cx="1265" cy="1815" r="5.3" fill="#ffa500" stroke="#000" stroke-width="0.8" stroke-opacity="0.5"/><circle cx="1273" cy="1818" r="5.3" fill="#ffa500" stroke="#000" stroke-width="0.8" stroke-opacity="0.5"/><circle cx="1250" cy="1822" r="5.3" fill="#ffa500" stroke="#000" stroke-width="0.8" stroke-opacity="0.5"/><circle cx="1260" cy="1823" r="5.3" fill="#ffa500" stroke="#000" stroke-width="0.8" stroke-opacity="0.5"/><circle cx="1268" cy="1825" r="5.3" fill="#ffa500" stroke="#000" stroke-width="0.8" stroke-opacity="0.5"/><circle cx="1248" cy="1830" r="5.3" fill="#ffa500" stroke="#000" stroke-width="0.8" stroke-opacity="0.5"/><circle cx="1258" cy="1832" r="5.3" fill="#ffa500" stroke="#000" stroke-width="0.8" stroke-opacity="0.5"/><circle cx="1266" cy="1833" r="5.3" fill="#ffa500" stroke="#000" stroke-width="0.8" stroke-opacity="0.5"/><circle cx="1245" cy="1824" r="5.3" fill="#ffa500" stroke="#000" stroke-width="0.8" stroke-opacity="0.5"/>
<polyline points="1065,1771 1083,1779 1139,1801 1150,1795 1160,1812 1155,1820 1170,1810 1180,1800 1190,1790 1205,1815 1200,1800 1221,1803 1245,1793 1285,1790 1290,1780 1300,1785 1302,1770 1306,1760 1303,1745 1306,1730 1300,1722 1290,1715 1282,1712 1280,1700 1288,1704 1296,1712 1300,1705 1306,1700 1312,1710 1320,1706 1325,1700 1328,1712 1318,1720 1310,1730 1322,1727 1335,1724 1350,1725 1365,1728 1372,1722 1380,1728 1395,1735 1410,1727 1420,1720 1425,1717 1430,1712" fill="none" stroke="#2a9a2a" stroke-width="2.5" stroke-linejoin="round" stroke-linecap="round" stroke-opacity="0.7"/>
<circle cx="1065" cy="1771" r="4" fill="#32cd32" opacity="0.9"/><circle cx="1083" cy="1779" r="4" fill="#32cd32" opacity="0.9"/><circle cx="1139" cy="1801" r="4" fill="#32cd32" opacity="0.9"/><circle cx="1150" cy="1795" r="4" fill="#32cd32" opacity="0.9"/><circle cx="1160" cy="1812" r="4" fill="#32cd32" opacity="0.9"/><circle cx="1155" cy="1820" r="4" fill="#32cd32" opacity="0.9"/><circle cx="1170" cy="1810" r="4" fill="#32cd32" opacity="0.9"/><circle cx="1180" cy="1800" r="4" fill="#32cd32" opacity="0.9"/><circle cx="1190" cy="1790" r="4" fill="#32cd32" opacity="0.9"/><circle cx="1205" cy="1815" r="4" fill="#32cd32" opacity="0.9"/><circle cx="1200" cy="1800" r="4" fill="#32cd32" opacity="0.9"/><circle cx="1221" cy="1803" r="4" fill="#32cd32" opacity="0.9"/><circle cx="1224.7" cy="1802.7" r="4" fill="#32cd32" opacity="0.9"/><circle cx="1218.7" cy="1802" r="4" fill="#32cd32" opacity="0.9"/><circle cx="1245" cy="1793" r="4" fill="#32cd32" opacity="0.9"/><circle cx="1249" cy="1788.3" r="4" fill="#32cd32" opacity="0.9"/><circle cx="1241.2" cy="1792" r="4" fill="#32cd32" opacity="0.9"/><circle cx="1285" cy="1790" r="4" fill="#32cd32" opacity="0.9"/><circle cx="1289.6" cy="1794.1" r="4" fill="#32cd32" opacity="0.9"/><circle cx="1287.7" cy="1786.1" r="4" fill="#32cd32" opacity="0.9"/><circle cx="1290" cy="1780" r="4" fill="#32cd32" opacity="0.9"/><circle cx="1293.6" cy="1782.8" r="4" fill="#32cd32" opacity="0.9"/><circle cx="1292.3" cy="1777.3" r="4" fill="#32cd32" opacity="0.9"/><circle cx="1300" cy="1785" r="4" fill="#32cd32" opacity="0.9"/><circle cx="1298.4" cy="1780.2" r="4" fill="#32cd32" opacity="0.9"/><circle cx="1299.9" cy="1783.6" r="4" fill="#32cd32" opacity="0.9"/><circle cx="1302" cy="1770" r="4" fill="#32cd32" opacity="0.9"/><circle cx="1298.2" cy="1766.3" r="4" fill="#32cd32" opacity="0.9"/><circle cx="1302.9" cy="1772.5" r="4" fill="#32cd32" opacity="0.9"/><circle cx="1306" cy="1760" r="4" fill="#32cd32" opacity="0.9"/><circle cx="1305.9" cy="1758.6" r="4" fill="#32cd32" opacity="0.9"/><circle cx="1308.8" cy="1762.1" r="4" fill="#32cd32" opacity="0.9"/><circle cx="1303" cy="1745" r="4" fill="#32cd32" opacity="0.9"/><circle cx="1303.3" cy="1746.4" r="4" fill="#32cd32" opacity="0.9"/><circle cx="1307.2" cy="1745.7" r="4" fill="#32cd32" opacity="0.9"/><circle cx="1306" cy="1730" r="4" fill="#32cd32" opacity="0.9"/><circle cx="1303.8" cy="1727.8" r="4" fill="#32cd32" opacity="0.9"/><circle cx="1302.3" cy="1730.6" r="4" fill="#32cd32" opacity="0.9"/><circle cx="1300" cy="1722" r="4" fill="#32cd32" opacity="0.9"/><circle cx="1296.4" cy="1725.7" r="4" fill="#32cd32" opacity="0.9"/><circle cx="1303.6" cy="1720.8" r="4" fill="#32cd32" opacity="0.9"/><circle cx="1290" cy="1715" r="4" fill="#32cd32" opacity="0.9"/><circle cx="1293.6" cy="1718.7" r="4" fill="#32cd32" opacity="0.9"/><circle cx="1291.6" cy="1716.5" r="4" fill="#32cd32" opacity="0.9"/><circle cx="1282" cy="1712" r="4" fill="#32cd32" opacity="0.9"/><circle cx="1286.3" cy="1712.2" r="4" fill="#32cd32" opacity="0.9"/><circle cx="1282.7" cy="1709.2" r="4" fill="#32cd32" opacity="0.9"/><circle cx="1280" cy="1700" r="4" fill="#32cd32" opacity="0.9"/><circle cx="1280.2" cy="1702.2" r="4" fill="#32cd32" opacity="0.9"/><circle cx="1280.7" cy="1702.1" r="4" fill="#32cd32" opacity="0.9"/><circle cx="1288" cy="1704" r="4" fill="#32cd32" opacity="0.9"/><circle cx="1290.9" cy="1706.7" r="4" fill="#32cd32" opacity="0.9"/><circle cx="1285.9" cy="1701.4" r="4" fill="#32cd32" opacity="0.9"/><circle cx="1296" cy="1712" r="4" fill="#32cd32" opacity="0.9"/><circle cx="1293.1" cy="1709.3" r="4" fill="#32cd32" opacity="0.9"/><circle cx="1293.5" cy="1714.9" r="4" fill="#32cd32" opacity="0.9"/><circle cx="1300" cy="1705" r="4" fill="#32cd32" opacity="0.9"/><circle cx="1295.7" cy="1709.2" r="4" fill="#32cd32" opacity="0.9"/><circle cx="1303.5" cy="1708" r="4" fill="#32cd32" opacity="0.9"/><circle cx="1306" cy="1700" r="4" fill="#32cd32" opacity="0.9"/><circle cx="1308.9" cy="1698.9" r="4" fill="#32cd32" opacity="0.9"/><circle cx="1307.3" cy="1698.6" r="4" fill="#32cd32" opacity="0.9"/><circle cx="1312" cy="1710" r="4" fill="#32cd32" opacity="0.9"/><circle cx="1309.6" cy="1713.4" r="4" fill="#32cd32" opacity="0.9"/><circle cx="1316.6" cy="1713.5" r="4" fill="#32cd32" opacity="0.9"/><circle cx="1320" cy="1706" r="4" fill="#32cd32" opacity="0.9"/><circle cx="1322.3" cy="1710.1" r="4" fill="#32cd32" opacity="0.9"/><circle cx="1324.1" cy="1710.1" r="4" fill="#32cd32" opacity="0.9"/><circle cx="1325" cy="1700" r="4" fill="#32cd32" opacity="0.9"/><circle cx="1326.5" cy="1701.6" r="4" fill="#32cd32" opacity="0.9"/><circle cx="1323.6" cy="1703.3" r="4" fill="#32cd32" opacity="0.9"/><circle cx="1328" cy="1712" r="4" fill="#32cd32" opacity="0.9"/><circle cx="1332.2" cy="1714.8" r="4" fill="#32cd32" opacity="0.9"/><circle cx="1324.9" cy="1715.2" r="4" fill="#32cd32" opacity="0.9"/><circle cx="1318" cy="1720" r="4" fill="#32cd32" opacity="0.9"/><circle cx="1314.2" cy="1716.7" r="4" fill="#32cd32" opacity="0.9"/><circle cx="1313.9" cy="1719.8" r="4" fill="#32cd32" opacity="0.9"/><circle cx="1310" cy="1730" r="4" fill="#32cd32" opacity="0.9"/><circle cx="1306.6" cy="1725.4" r="4" fill="#32cd32" opacity="0.9"/><circle cx="1311.6" cy="1726.6" r="4" fill="#32cd32" opacity="0.9"/><circle cx="1322" cy="1727" r="4" fill="#32cd32" opacity="0.9"/><circle cx="1322.7" cy="1728.8" r="4" fill="#32cd32" opacity="0.9"/><circle cx="1320.4" cy="1727.9" r="4" fill="#32cd32" opacity="0.9"/><circle cx="1335" cy="1724" r="4" fill="#32cd32" opacity="0.9"/><circle cx="1335.9" cy="1726" r="4" fill="#32cd32" opacity="0.9"/><circle cx="1337.8" cy="1722.3" r="4" fill="#32cd32" opacity="0.9"/><circle cx="1350" cy="1725" r="4" fill="#32cd32" opacity="0.9"/><circle cx="1348.4" cy="1723" r="4" fill="#32cd32" opacity="0.9"/><circle cx="1354.1" cy="1723.6" r="4" fill="#32cd32" opacity="0.9"/><circle cx="1365" cy="1728" r="4" fill="#32cd32" opacity="0.9"/><circle cx="1369.5" cy="1728.1" r="4" fill="#32cd32" opacity="0.9"/><circle cx="1366.2" cy="1723.4" r="4" fill="#32cd32" opacity="0.9"/><circle cx="1372" cy="1722" r="4" fill="#32cd32" opacity="0.9"/><circle cx="1372.4" cy="1723.5" r="4" fill="#32cd32" opacity="0.9"/><circle cx="1375.4" cy="1725.5" r="4" fill="#32cd32" opacity="0.9"/><circle cx="1380" cy="1728" r="4" fill="#32cd32" opacity="0.9"/><circle cx="1376.6" cy="1723.9" r="4" fill="#32cd32" opacity="0.9"/><circle cx="1378" cy="1732.1" r="4" fill="#32cd32" opacity="0.9"/><circle cx="1395" cy="1735" r="4" fill="#32cd32" opacity="0.9"/><circle cx="1397.8" cy="1731.7" r="4" fill="#32cd32" opacity="0.9"/><circle cx="1398.7" cy="1735" r="4" fill="#32cd32" opacity="0.9"/><circle cx="1410" cy="1727" r="4" fill="#32cd32" opacity="0.9"/><circle cx="1405.1" cy="1727.5" r="4" fill="#32cd32" opacity="0.9"/><circle cx="1413.4" cy="1729.7" r="4" fill="#32cd32" opacity="0.9"/><circle cx="1420" cy="1720" r="4" fill="#32cd32" opacity="0.9"/><circle cx="1424.5" cy="1724" r="4" fill="#32cd32" opacity="0.9"/><circle cx="1419.5" cy="1715.5" r="4" fill="#32cd32" opacity="0.9"/><circle cx="1425" cy="1717" r="4" fill="#32cd32" opacity="0.9"/><circle cx="1424.2" cy="1718.8" r="4" fill="#32cd32" opacity="0.9"/><circle cx="1428.6" cy="1719.7" r="4" fill="#32cd32" opacity="0.9"/><circle cx="1430" cy="1712" r="4" fill="#32cd32" opacity="0.9"/><circle cx="1425.2" cy="1716.4" r="4" fill="#32cd32" opacity="0.9"/><circle cx="1434.9" cy="1712.6" r="4" fill="#32cd32" opacity="0.9"/>
</g>
<line x1="1219.4" y1="1566.3" x2="1449.6" y2="1722.2" stroke="#808080" stroke-width="7.5" stroke-opacity="0.7"/>
<line x1="1217.4" y1="1876.6" x2="1449.6" y2="1722.2" stroke="#808080" stroke-width="7.5" stroke-opacity="0.7"/>
<g fill="none" stroke="#1e1e1e" stroke-width="1.25" stroke-linejoin="round"><circle cx="1161.4" cy="64.8" r="24.2" stroke-width="1.7"/><circle cx="1161.4" cy="64.8" r="20.8" stroke-width="1.1"/><line x1="1182" y1="67.9" x2="1185.1" y2="68.4" stroke-width="1.0"/><line x1="1179.7" y1="74.8" x2="1182.4" y2="76.3" stroke-width="1.0"/><line x1="1175.2" y1="80.4" x2="1177.2" y2="82.8" stroke-width="1.0"/><line x1="1169" y1="84.2" x2="1170.1" y2="87.1" stroke-width="1.0"/><line x1="1161.9" y1="85.6" x2="1162" y2="88.8" stroke-width="1.0"/><line x1="1154.8" y1="84.5" x2="1153.8" y2="87.5" stroke-width="1.0"/><line x1="1148.4" y1="81.1" x2="1146.5" y2="83.5" stroke-width="1.0"/><line x1="1143.6" y1="75.6" x2="1141" y2="77.3" stroke-width="1.0"/><line x1="1141" y1="68.9" x2="1137.9" y2="69.5" stroke-width="1.0"/><line x1="1140.8" y1="61.7" x2="1137.7" y2="61.2" stroke-width="1.0"/><line x1="1143.1" y1="54.8" x2="1140.4" y2="53.3" stroke-width="1.0"/><line x1="1147.6" y1="49.2" x2="1145.6" y2="46.8" stroke-width="1.0"/><line x1="1153.8" y1="45.4" x2="1152.7" y2="42.5" stroke-width="1.0"/><line x1="1160.9" y1="44" x2="1160.8" y2="40.8" stroke-width="1.0"/><line x1="1168" y1="45.1" x2="1169" y2="42.1" stroke-width="1.0"/><line x1="1174.4" y1="48.5" x2="1176.3" y2="46.1" stroke-width="1.0"/><line x1="1179.2" y1="54" x2="1181.8" y2="52.3" stroke-width="1.0"/><line x1="1181.8" y1="60.7" x2="1184.9" y2="60.1" stroke-width="1.0"/><polygon points="1175.8,67 1171.7,75 1163.8,79.1 1154.9,77.8 1148.5,71.5 1147,62.6 1151.1,54.6 1159,50.5 1167.9,51.8 1174.3,58.1" stroke-width="1.5"/><polygon points="1162.6,56.9 1169.3,63.5 1165.1,71.9 1155.8,70.5 1154.3,61.2" stroke-width="1.5"/><line x1="1162.6" y1="56.9" x2="1163.6" y2="50.4" stroke-width="1.6"/><line x1="1169.3" y1="63.5" x2="1175.7" y2="62.4" stroke-width="1.6"/><line x1="1165.1" y1="71.9" x2="1168.1" y2="77.7" stroke-width="1.6"/><line x1="1155.8" y1="70.5" x2="1151.2" y2="75.1" stroke-width="1.6"/><line x1="1154.3" y1="61.2" x2="1148.4" y2="58.3" stroke-width="1.6"/><line x1="1168.5" y1="57.6" x2="1171.6" y2="54.5" stroke-width="1.2"/><line x1="1170.5" y1="69.4" x2="1174.4" y2="71.3" stroke-width="1.2"/><line x1="1159.9" y1="74.8" x2="1159.2" y2="79.2" stroke-width="1.2"/><line x1="1151.4" y1="66.5" x2="1147.1" y2="67.2" stroke-width="1.2"/><line x1="1156.7" y1="55.8" x2="1154.7" y2="51.9" stroke-width="1.2"/><line x1="1174.4" y1="71.3" x2="1180" y2="74.1" stroke-width="1.3"/><line x1="1168.1" y1="77.7" x2="1171" y2="83.3" stroke-width="1.3"/><line x1="1159.2" y1="79.2" x2="1158.3" y2="85.4" stroke-width="1.3"/><line x1="1151.2" y1="75.1" x2="1146.8" y2="79.6" stroke-width="1.3"/><line x1="1147.1" y1="67.2" x2="1140.9" y2="68.2" stroke-width="1.3"/><line x1="1148.4" y1="58.3" x2="1142.8" y2="55.5" stroke-width="1.3"/><line x1="1154.7" y1="51.9" x2="1151.8" y2="46.3" stroke-width="1.3"/><line x1="1163.6" y1="50.4" x2="1164.5" y2="44.2" stroke-width="1.3"/><line x1="1171.6" y1="54.5" x2="1176" y2="50" stroke-width="1.3"/><line x1="1175.7" y1="62.4" x2="1181.9" y2="61.4" stroke-width="1.3"/></g>
<g fill="none" stroke="#1e1e1e" stroke-width="1.25" stroke-linejoin="round"><circle cx="1288.9" cy="78.8" r="24.2" stroke-width="1.7"/><circle cx="1288.9" cy="78.8" r="20.8" stroke-width="1.1"/><line x1="1309.7" y1="78.8" x2="1312.9" y2="78.8" stroke-width="1.0"/><line x1="1308.5" y1="85.9" x2="1311.4" y2="87" stroke-width="1.0"/><line x1="1304.8" y1="92.2" x2="1307.3" y2="94.2" stroke-width="1.0"/><line x1="1299.3" y1="96.8" x2="1300.9" y2="99.5" stroke-width="1.0"/><line x1="1292.5" y1="99.3" x2="1293.1" y2="102.4" stroke-width="1.0"/><line x1="1285.3" y1="99.3" x2="1284.7" y2="102.4" stroke-width="1.0"/><line x1="1278.5" y1="96.8" x2="1276.9" y2="99.5" stroke-width="1.0"/><line x1="1273" y1="92.2" x2="1270.5" y2="94.2" stroke-width="1.0"/><line x1="1269.3" y1="85.9" x2="1266.4" y2="87" stroke-width="1.0"/><line x1="1268.1" y1="78.8" x2="1264.9" y2="78.8" stroke-width="1.0"/><line x1="1269.3" y1="71.7" x2="1266.4" y2="70.6" stroke-width="1.0"/><line x1="1273" y1="65.4" x2="1270.5" y2="63.4" stroke-width="1.0"/><line x1="1278.5" y1="60.8" x2="1276.9" y2="58.1" stroke-width="1.0"/><line x1="1285.3" y1="58.3" x2="1284.7" y2="55.2" stroke-width="1.0"/><line x1="1292.5" y1="58.3" x2="1293.1" y2="55.2" stroke-width="1.0"/><line x1="1299.3" y1="60.8" x2="1300.9" y2="58.1" stroke-width="1.0"/><line x1="1304.8" y1="65.4" x2="1307.3" y2="63.4" stroke-width="1.0"/><line x1="1308.5" y1="71.7" x2="1311.4" y2="70.6" stroke-width="1.0"/><polygon points="1303.4,78.8 1300.6,87.3 1293.4,92.6 1284.4,92.6 1277.2,87.3 1274.4,78.8 1277.2,70.3 1284.4,65 1293.4,65 1300.6,70.3" stroke-width="1.5"/><circle cx="1288.9" cy="78.8" r="6.5" stroke-width="1.5"/><line x1="1295.4" y1="78.8" x2="1303.4" y2="78.8" stroke-width="1.6"/><line x1="1294.2" y1="82.6" x2="1300.6" y2="87.3" stroke-width="1.6"/><line x1="1290.9" y1="85" x2="1293.4" y2="92.6" stroke-width="1.6"/><line x1="1286.9" y1="85" x2="1284.4" y2="92.6" stroke-width="1.6"/><line x1="1283.6" y1="82.6" x2="1277.2" y2="87.3" stroke-width="1.6"/><line x1="1282.4" y1="78.8" x2="1274.4" y2="78.8" stroke-width="1.6"/><line x1="1283.6" y1="75" x2="1277.2" y2="70.3" stroke-width="1.6"/><line x1="1286.9" y1="72.6" x2="1284.4" y2="65" stroke-width="1.6"/><line x1="1290.9" y1="72.6" x2="1293.4" y2="65" stroke-width="1.6"/><line x1="1294.2" y1="75" x2="1300.6" y2="70.3" stroke-width="1.6"/><line x1="1302.7" y1="83.3" x2="1308.7" y2="85.2" stroke-width="1.3"/><line x1="1297.4" y1="90.5" x2="1301.1" y2="95.6" stroke-width="1.3"/><line x1="1288.9" y1="93.3" x2="1288.9" y2="99.6" stroke-width="1.3"/><line x1="1280.4" y1="90.5" x2="1276.7" y2="95.6" stroke-width="1.3"/><line x1="1275.1" y1="83.3" x2="1269.1" y2="85.2" stroke-width="1.3"/><line x1="1275.1" y1="74.3" x2="1269.1" y2="72.4" stroke-width="1.3"/><line x1="1280.4" y1="67.1" x2="1276.7" y2="62" stroke-width="1.3"/><line x1="1288.9" y1="64.3" x2="1288.9" y2="58" stroke-width="1.3"/><line x1="1297.4" y1="67.1" x2="1301.1" y2="62" stroke-width="1.3"/><line x1="1302.7" y1="74.3" x2="1308.7" y2="72.4" stroke-width="1.3"/></g>
<text x="1139.3" y="16.8" font-size="7.6" font-weight="bold" fill="#2ea05a" font-family="'Liberation Sans', sans-serif">Oct</text>
<text x="1171.6" y="6.4" font-size="7.6" font-weight="bold" fill="#2ea05a" font-family="'Liberation Sans', sans-serif">Hex</text>
<text x="1192" y="55.3" font-size="7.6" font-weight="bold" fill="#2ea05a" font-family="'Liberation Sans', sans-serif">Hex</text>
<text x="1245.8" y="25.9" font-size="7.6" font-weight="bold" fill="#2ea05a" font-family="'Liberation Sans', sans-serif">Hex</text>
<text x="1268.4" y="32.7" font-size="7.6" font-weight="bold" fill="#2ea05a" font-family="'Liberation Sans', sans-serif">Oct</text>
<text x="1245.5" y="80.1" font-size="7.6" font-weight="bold" fill="#2ea05a" font-family="'Liberation Sans', sans-serif">Hex</text>
<polyline points="1143.5,35.2 1148.8,27.6 1160.1,30.8 1160.1,39.5 1148.8,42.7 1143.5,35.2" fill="none" stroke="#333" stroke-width="1.15" stroke-linejoin="round"/>
<polyline points="1148.8,27.6 1147.3,18.5" fill="none" stroke="#333" stroke-width="1.15" stroke-linejoin="round"/>
<polyline points="1168.6,30.8 1172.9,23.5 1181.5,23.5 1185.2,30.8 1180.8,37.5 1172.2,37.5 1168.6,30.8" fill="none" stroke="#333" stroke-width="1.15" stroke-linejoin="round"/>
<polyline points="1170.4,30 1173.8,24.8" fill="none" stroke="#333" stroke-width="1.15" stroke-linejoin="round"/>
<polyline points="1173.5,36 1180,36" fill="none" stroke="#333" stroke-width="1.15" stroke-linejoin="round"/>
<polyline points="1160.1,30.8 1168.6,30.8" fill="none" stroke="#333" stroke-width="1.15" stroke-linejoin="round"/>
<circle cx="1169.5" cy="15.3" r="2.1" fill="none" stroke="#333" stroke-width="1.1"/>
<polyline points="1170.6,17.4 1172.9,23.5" fill="none" stroke="#333" stroke-width="1.15" stroke-linejoin="round"/>
<polyline points="1170.6,13.2 1174,7.2" fill="none" stroke="#333" stroke-width="1.15" stroke-linejoin="round"/>
<circle cx="1186.4" cy="45.8" r="2.1" fill="none" stroke="#333" stroke-width="1.1"/>
<polyline points="1180.8,37.5 1185.3,43.9" fill="none" stroke="#333" stroke-width="1.15" stroke-linejoin="round"/>
<polyline points="1188.3,47.2 1192,50" fill="none" stroke="#333" stroke-width="1.15" stroke-linejoin="round"/>
<polyline points="1185.2,30.8 1192.8,30.8 1196.5,37.7 1205,37.7" fill="none" stroke="#333" stroke-width="1.15" stroke-linejoin="round"/>
<polyline points="1193.6,32.8 1196.6,38.6" fill="none" stroke="#333" stroke-width="1.15" stroke-linejoin="round"/>
<polyline points="1206.5,42.5 1210.5,35.5 1219,35.5 1223,42.5 1219,49.5 1210.5,49.5 1206.5,42.5" fill="none" stroke="#333" stroke-width="1.15" stroke-linejoin="round"/>
<polyline points="1207.5,38 1211.5,31 1220,31 1224,38 1220,45 1211.5,45 1207.5,38" fill="none" stroke="#333" stroke-width="1.15" stroke-linejoin="round"/>
<polyline points="1207,24 1211.5,31" fill="none" stroke="#333" stroke-width="1.15" stroke-linejoin="round"/>
<polyline points="1219,49.5 1223,57" fill="none" stroke="#333" stroke-width="1.15" stroke-linejoin="round"/>
<polyline points="1224,43 1230,43.1" fill="none" stroke="#333" stroke-width="1.15" stroke-linejoin="round"/>
<polyline points="1222.6,43.1 1231.6,43.1 1235.4,49.5 1244.4,49.9" fill="none" stroke="#333" stroke-width="1.15" stroke-linejoin="round"/>
<polyline points="1232.6,45 1235.2,51" fill="none" stroke="#333" stroke-width="1.15" stroke-linejoin="round"/>
<polyline points="1244.4,49.9 1248.3,42.8 1256.5,42.8 1260.6,49.9 1256.5,57 1248.3,57 1244.4,49.9" fill="none" stroke="#333" stroke-width="1.15" stroke-linejoin="round"/>
<polyline points="1249.2,44.3 1255.6,44.3" fill="none" stroke="#333" stroke-width="1.15" stroke-linejoin="round"/>
<polyline points="1257.2,55.4 1259.3,51.2" fill="none" stroke="#333" stroke-width="1.15" stroke-linejoin="round"/>
<circle cx="1244.4" cy="34.9" r="2.1" fill="none" stroke="#333" stroke-width="1.1"/>
<polyline points="1245.6,37 1248.3,42.8" fill="none" stroke="#333" stroke-width="1.15" stroke-linejoin="round"/>
<polyline points="1245.8,32.9 1248.8,27" fill="none" stroke="#333" stroke-width="1.15" stroke-linejoin="round"/>
<circle cx="1260.6" cy="66.1" r="2.1" fill="none" stroke="#333" stroke-width="1.1"/>
<polyline points="1256.5,57 1259.4,64" fill="none" stroke="#333" stroke-width="1.15" stroke-linejoin="round"/>
<polyline points="1259,68.2 1256,73.5" fill="none" stroke="#333" stroke-width="1.15" stroke-linejoin="round"/>
<polyline points="1260.6,49.9 1268.9,50.7" fill="none" stroke="#333" stroke-width="1.15" stroke-linejoin="round"/>
<polyline points="1268.9,50.7 1275.3,43.1 1284.4,44.7 1284.4,54.4 1274.6,57.5 1268.9,50.7" fill="none" stroke="#333" stroke-width="1.15" stroke-linejoin="round"/>
<polyline points="1275.3,43.1 1272.8,33.5" fill="none" stroke="#333" stroke-width="1.15" stroke-linejoin="round"/>
<line x1="163.5" y1="515.4" x2="706.1" y2="515.4" stroke="#acacac" stroke-width="2.6"/>
<line x1="163.5" y1="590.7" x2="706.1" y2="590.7" stroke="#acacac" stroke-width="2.6"/>
<line x1="163.5" y1="666" x2="706.1" y2="666" stroke="#acacac" stroke-width="2.6"/>
<line x1="163.5" y1="741.4" x2="706.1" y2="741.4" stroke="#acacac" stroke-width="2.6"/>
<line x1="163.5" y1="816.7" x2="706.1" y2="816.7" stroke="#acacac" stroke-width="2.6"/>
<line x1="287.9" y1="502.5" x2="287.9" y2="832.4" stroke="#acacac" stroke-width="2.6"/>
<line x1="443.5" y1="502.5" x2="443.5" y2="832.4" stroke="#acacac" stroke-width="2.6"/>
<line x1="599.2" y1="502.5" x2="599.2" y2="832.4" stroke="#acacac" stroke-width="2.6"/>
<line x1="964.4" y1="513" x2="1514.5" y2="513" stroke="#acacac" stroke-width="2.6"/>
<line x1="964.4" y1="588.6" x2="1514.5" y2="588.6" stroke="#acacac" stroke-width="2.6"/>
<line x1="964.4" y1="664.2" x2="1514.5" y2="664.2" stroke="#acacac" stroke-width="2.6"/>
<line x1="964.4" y1="739.8" x2="1514.5" y2="739.8" stroke="#acacac" stroke-width="2.6"/>
<line x1="964.4" y1="815.4" x2="1514.5" y2="815.4" stroke="#acacac" stroke-width="2.6"/>
<line x1="1134.9" y1="500.6" x2="1134.9" y2="831.5" stroke="#acacac" stroke-width="2.6"/>
<line x1="1313.8" y1="500.6" x2="1313.8" y2="831.5" stroke="#acacac" stroke-width="2.6"/>
<line x1="1492.6" y1="500.6" x2="1492.6" y2="831.5" stroke="#acacac" stroke-width="2.6"/>
<rect x="241" y="115" width="404.5" height="147.2" fill="none" stroke="#000" stroke-width="3"/>
<line x1="227" y1="115" x2="241" y2="115" stroke="#000" stroke-width="3"/>
<text x="211.5" y="125.2" font-size="28" text-anchor="end">0.008</text>
<line x1="227" y1="188.6" x2="241" y2="188.6" stroke="#000" stroke-width="3"/>
<text x="211.5" y="198.8" font-size="28" text-anchor="end">0.005</text>
<line x1="227" y1="262.2" x2="241" y2="262.2" stroke="#000" stroke-width="3"/>
<text x="211.5" y="272.4" font-size="28" text-anchor="end">0.002</text>
<line x1="259.1" y1="262.2" x2="259.1" y2="276.2" stroke="#000" stroke-width="3"/>
<text x="259.1" y="313" font-size="28" text-anchor="middle">−100</text>
<line x1="445.6" y1="262.2" x2="445.6" y2="276.2" stroke="#000" stroke-width="3"/>
<text x="445.6" y="313" font-size="28" text-anchor="middle">0</text>
<line x1="632" y1="262.2" x2="632" y2="276.2" stroke="#000" stroke-width="3"/>
<text x="632" y="313" font-size="28" text-anchor="middle">100</text>
<rect x="1029.7" y="114.1" width="422.8" height="146.5" fill="none" stroke="#000" stroke-width="3"/>
<line x1="1015.7" y1="114.1" x2="1029.7" y2="114.1" stroke="#000" stroke-width="3"/>
<text x="1000.2" y="124.3" font-size="28" text-anchor="end">0.08</text>
<line x1="1015.7" y1="187.3" x2="1029.7" y2="187.3" stroke="#000" stroke-width="3"/>
<text x="1000.2" y="197.5" font-size="28" text-anchor="end">0.05</text>
<line x1="1015.7" y1="260.6" x2="1029.7" y2="260.6" stroke="#000" stroke-width="3"/>
<text x="1000.2" y="270.8" font-size="28" text-anchor="end">0.02</text>
<line x1="1048.6" y1="260.6" x2="1048.6" y2="274.6" stroke="#000" stroke-width="3"/>
<text x="1048.6" y="311.4" font-size="28" text-anchor="middle">−100</text>
<line x1="1146" y1="260.6" x2="1146" y2="274.6" stroke="#000" stroke-width="3"/>
<text x="1146" y="311.4" font-size="28" text-anchor="middle">−50</text>
<line x1="1243.5" y1="260.6" x2="1243.5" y2="274.6" stroke="#000" stroke-width="3"/>
<text x="1243.5" y="311.4" font-size="28" text-anchor="middle">0</text>
<line x1="1341" y1="260.6" x2="1341" y2="274.6" stroke="#000" stroke-width="3"/>
<text x="1341" y="311.4" font-size="28" text-anchor="middle">50</text>
<line x1="1438.4" y1="260.6" x2="1438.4" y2="274.6" stroke="#000" stroke-width="3"/>
<text x="1438.4" y="311.4" font-size="28" text-anchor="middle">100</text>
<rect x="163.5" y="502.5" width="542.6" height="329.9" fill="none" stroke="#000" stroke-width="3"/>
<line x1="149.5" y1="515.4" x2="163.5" y2="515.4" stroke="#000" stroke-width="3"/>
<text x="134" y="525.6" font-size="28" text-anchor="end">100</text>
<line x1="149.5" y1="590.7" x2="163.5" y2="590.7" stroke="#000" stroke-width="3"/>
<text x="134" y="600.9" font-size="28" text-anchor="end">50</text>
<line x1="149.5" y1="666" x2="163.5" y2="666" stroke="#000" stroke-width="3"/>
<text x="134" y="676.2" font-size="28" text-anchor="end">0</text>
<line x1="149.5" y1="741.4" x2="163.5" y2="741.4" stroke="#000" stroke-width="3"/>
<text x="134" y="751.6" font-size="28" text-anchor="end">−50</text>
<line x1="149.5" y1="816.7" x2="163.5" y2="816.7" stroke="#000" stroke-width="3"/>
<text x="134" y="826.9" font-size="28" text-anchor="end">−100</text>
<line x1="287.9" y1="832.4" x2="287.9" y2="846.4" stroke="#000" stroke-width="3"/>
<line x1="443.5" y1="832.4" x2="443.5" y2="846.4" stroke="#000" stroke-width="3"/>
<line x1="599.2" y1="832.4" x2="599.2" y2="846.4" stroke="#000" stroke-width="3"/>
<line x1="192.7" y1="502.5" x2="192.7" y2="488.5" stroke="#000" stroke-width="3"/>
<text x="192.7" y="468.5" font-size="28" text-anchor="middle">0.06</text>
<line x1="363.8" y1="502.5" x2="363.8" y2="488.5" stroke="#000" stroke-width="3"/>
<text x="363.8" y="468.5" font-size="28" text-anchor="middle">0.04</text>
<line x1="535" y1="502.5" x2="535" y2="488.5" stroke="#000" stroke-width="3"/>
<text x="535" y="468.5" font-size="28" text-anchor="middle">0.02</text>
<line x1="706.1" y1="502.5" x2="706.1" y2="488.5" stroke="#000" stroke-width="3"/>
<text x="706.1" y="468.5" font-size="28" text-anchor="middle">0.00</text>
<rect x="964.4" y="500.6" width="550.1" height="330.9" fill="none" stroke="#000" stroke-width="3"/>
<line x1="950.4" y1="513" x2="964.4" y2="513" stroke="#000" stroke-width="3"/>
<text x="934.9" y="523.2" font-size="28" text-anchor="end">100</text>
<line x1="950.4" y1="588.6" x2="964.4" y2="588.6" stroke="#000" stroke-width="3"/>
<text x="934.9" y="598.8" font-size="28" text-anchor="end">50</text>
<line x1="950.4" y1="664.2" x2="964.4" y2="664.2" stroke="#000" stroke-width="3"/>
<text x="934.9" y="674.4" font-size="28" text-anchor="end">0</text>
<line x1="950.4" y1="739.8" x2="964.4" y2="739.8" stroke="#000" stroke-width="3"/>
<text x="934.9" y="750" font-size="28" text-anchor="end">−50</text>
<line x1="950.4" y1="815.4" x2="964.4" y2="815.4" stroke="#000" stroke-width="3"/>
<text x="934.9" y="825.6" font-size="28" text-anchor="end">−100</text>
<line x1="1134.9" y1="831.5" x2="1134.9" y2="845.5" stroke="#000" stroke-width="3"/>
<line x1="1313.8" y1="831.5" x2="1313.8" y2="845.5" stroke="#000" stroke-width="3"/>
<line x1="1492.6" y1="831.5" x2="1492.6" y2="845.5" stroke="#000" stroke-width="3"/>
<line x1="1056.7" y1="500.6" x2="1056.7" y2="486.6" stroke="#000" stroke-width="3"/>
<text x="1056.7" y="466.6" font-size="28" text-anchor="middle">1.5</text>
<line x1="1209.5" y1="500.6" x2="1209.5" y2="486.6" stroke="#000" stroke-width="3"/>
<text x="1209.5" y="466.6" font-size="28" text-anchor="middle">1.0</text>
<line x1="1362.4" y1="500.6" x2="1362.4" y2="486.6" stroke="#000" stroke-width="3"/>
<text x="1362.4" y="466.6" font-size="28" text-anchor="middle">0.5</text>
<line x1="1515.2" y1="500.6" x2="1515.2" y2="486.6" stroke="#000" stroke-width="3"/>
<text x="1515.2" y="466.6" font-size="28" text-anchor="middle">0.0</text>
<rect x="162.4" y="857.8" width="543.9" height="248" fill="none" stroke="#000" stroke-width="3"/>
<line x1="148.4" y1="926" x2="162.4" y2="926" stroke="#000" stroke-width="3"/>
<text x="134.9" y="936.8" font-size="28" text-anchor="end"><tspan font-size="27">10</tspan><tspan font-size="19.6" dy="-11">0</tspan></text>
<line x1="148.4" y1="1015.9" x2="162.4" y2="1015.9" stroke="#000" stroke-width="3"/>
<text x="134.9" y="1026.7" font-size="28" text-anchor="end"><tspan font-size="27">10</tspan><tspan font-size="19.6" dy="-11">−3</tspan></text>
<line x1="148.4" y1="1105.8" x2="162.4" y2="1105.8" stroke="#000" stroke-width="3"/>
<text x="134.9" y="1116.6" font-size="28" text-anchor="end"><tspan font-size="27">10</tspan><tspan font-size="19.6" dy="-11">−6</tspan></text>
<line x1="287.9" y1="1105.8" x2="287.9" y2="1119.8" stroke="#000" stroke-width="3"/>
<line x1="443.5" y1="1105.8" x2="443.5" y2="1119.8" stroke="#000" stroke-width="3"/>
<line x1="599.2" y1="1105.8" x2="599.2" y2="1119.8" stroke="#000" stroke-width="3"/>
<rect x="964.4" y="857.9" width="550.3" height="248.1" fill="none" stroke="#000" stroke-width="3"/>
<line x1="950.4" y1="932.3" x2="964.4" y2="932.3" stroke="#000" stroke-width="3"/>
<text x="936.9" y="943.1" font-size="28" text-anchor="end"><tspan font-size="27">10</tspan><tspan font-size="19.6" dy="-11">−1</tspan></text>
<line x1="950.4" y1="1019.9" x2="964.4" y2="1019.9" stroke="#000" stroke-width="3"/>
<text x="936.9" y="1030.7" font-size="28" text-anchor="end"><tspan font-size="27">10</tspan><tspan font-size="19.6" dy="-11">−3</tspan></text>
<line x1="1134.9" y1="1106" x2="1134.9" y2="1120" stroke="#000" stroke-width="3"/>
<line x1="1313.8" y1="1106" x2="1313.8" y2="1120" stroke="#000" stroke-width="3"/>
<line x1="1492.6" y1="1106" x2="1492.6" y2="1120" stroke="#000" stroke-width="3"/>
<rect x="162.6" y="1122.1" width="543.7" height="246.4" fill="none" stroke="#000" stroke-width="3"/>
<line x1="148.6" y1="1161.7" x2="162.6" y2="1161.7" stroke="#000" stroke-width="3"/>
<text x="133.1" y="1171.9" font-size="28" text-anchor="end">100</text>
<line x1="148.6" y1="1244.2" x2="162.6" y2="1244.2" stroke="#000" stroke-width="3"/>
<text x="133.1" y="1254.4" font-size="28" text-anchor="end">0</text>
<line x1="148.6" y1="1326.7" x2="162.6" y2="1326.7" stroke="#000" stroke-width="3"/>
<text x="133.1" y="1336.9" font-size="28" text-anchor="end">−100</text>
<line x1="287.9" y1="1368.5" x2="287.9" y2="1382.5" stroke="#000" stroke-width="3"/>
<text x="287.9" y="1419.3" font-size="28" text-anchor="middle">3.6</text>
<line x1="443.5" y1="1368.5" x2="443.5" y2="1382.5" stroke="#000" stroke-width="3"/>
<text x="443.5" y="1419.3" font-size="28" text-anchor="middle">3.8</text>
<line x1="599.2" y1="1368.5" x2="599.2" y2="1382.5" stroke="#000" stroke-width="3"/>
<text x="599.2" y="1419.3" font-size="28" text-anchor="middle">4.0</text>
<rect x="964" y="1121.2" width="550.7" height="246.2" fill="none" stroke="#000" stroke-width="3"/>
<line x1="950" y1="1170.3" x2="964" y2="1170.3" stroke="#000" stroke-width="3"/>
<text x="934.5" y="1180.5" font-size="28" text-anchor="end">0</text>
<line x1="950" y1="1261.6" x2="964" y2="1261.6" stroke="#000" stroke-width="3"/>
<text x="934.5" y="1271.8" font-size="28" text-anchor="end">−100</text>
<line x1="950" y1="1352.9" x2="964" y2="1352.9" stroke="#000" stroke-width="3"/>
<text x="934.5" y="1363.1" font-size="28" text-anchor="end">−200</text>
<line x1="1134.9" y1="1367.4" x2="1134.9" y2="1381.4" stroke="#000" stroke-width="3"/>
<text x="1134.9" y="1418.2" font-size="28" text-anchor="middle">30</text>
<line x1="1313.8" y1="1367.4" x2="1313.8" y2="1381.4" stroke="#000" stroke-width="3"/>
<text x="1313.8" y="1418.2" font-size="28" text-anchor="middle">35</text>
<line x1="1492.6" y1="1367.4" x2="1492.6" y2="1381.4" stroke="#000" stroke-width="3"/>
<text x="1492.6" y="1418.2" font-size="28" text-anchor="middle">40</text>
<rect x="162.5" y="1568" width="543.5" height="308.8" fill="none" stroke="#000" stroke-width="3"/>
<line x1="148.5" y1="1619.8" x2="162.5" y2="1619.8" stroke="#000" stroke-width="3"/>
<text x="133" y="1630" font-size="28" text-anchor="end">200</text>
<line x1="148.5" y1="1722.4" x2="162.5" y2="1722.4" stroke="#000" stroke-width="3"/>
<text x="133" y="1732.6" font-size="28" text-anchor="end">0</text>
<line x1="148.5" y1="1825" x2="162.5" y2="1825" stroke="#000" stroke-width="3"/>
<text x="133" y="1835.2" font-size="28" text-anchor="end">−200</text>
<line x1="162.3" y1="1876.8" x2="162.3" y2="1890.8" stroke="#000" stroke-width="3"/>
<text x="163.6" y="1927.6" font-size="28" text-anchor="middle"><tspan font-size="27">10</tspan><tspan font-size="19.6" dy="-11">−5</tspan></text>
<line x1="343.5" y1="1876.8" x2="343.5" y2="1890.8" stroke="#000" stroke-width="3"/>
<text x="344.8" y="1927.6" font-size="28" text-anchor="middle"><tspan font-size="27">10</tspan><tspan font-size="19.6" dy="-11">−3</tspan></text>
<line x1="524.8" y1="1876.8" x2="524.8" y2="1890.8" stroke="#000" stroke-width="3"/>
<text x="526.1" y="1927.6" font-size="28" text-anchor="middle"><tspan font-size="27">10</tspan><tspan font-size="19.6" dy="-11">−1</tspan></text>
<line x1="706" y1="1876.8" x2="706" y2="1890.8" stroke="#000" stroke-width="3"/>
<text x="707.3" y="1927.6" font-size="28" text-anchor="middle"><tspan font-size="27">10</tspan><tspan font-size="19.6" dy="-11">1</tspan></text>
<rect x="964.3" y="1566.3" width="550.7" height="310.3" fill="none" stroke="#000" stroke-width="3"/>
<line x1="950.3" y1="1618" x2="964.3" y2="1618" stroke="#000" stroke-width="3"/>
<text x="934.8" y="1628.2" font-size="28" text-anchor="end">200</text>
<line x1="950.3" y1="1721.7" x2="964.3" y2="1721.7" stroke="#000" stroke-width="3"/>
<text x="934.8" y="1731.9" font-size="28" text-anchor="end">0</text>
<line x1="950.3" y1="1825.4" x2="964.3" y2="1825.4" stroke="#000" stroke-width="3"/>
<text x="934.8" y="1835.6" font-size="28" text-anchor="end">−200</text>
<line x1="964.4" y1="1876.6" x2="964.4" y2="1890.6" stroke="#000" stroke-width="3"/>
<text x="965.7" y="1927.4" font-size="28" text-anchor="middle"><tspan font-size="27">10</tspan><tspan font-size="19.6" dy="-11">−5</tspan></text>
<line x1="1147.9" y1="1876.6" x2="1147.9" y2="1890.6" stroke="#000" stroke-width="3"/>
<text x="1149.2" y="1927.4" font-size="28" text-anchor="middle"><tspan font-size="27">10</tspan><tspan font-size="19.6" dy="-11">−3</tspan></text>
<line x1="1331.3" y1="1876.6" x2="1331.3" y2="1890.6" stroke="#000" stroke-width="3"/>
<text x="1332.6" y="1927.4" font-size="28" text-anchor="middle"><tspan font-size="27">10</tspan><tspan font-size="19.6" dy="-11">−1</tspan></text>
<line x1="1514.8" y1="1876.6" x2="1514.8" y2="1890.6" stroke="#000" stroke-width="3"/>
<text x="1516.1" y="1927.4" font-size="28" text-anchor="middle"><tspan font-size="27">10</tspan><tspan font-size="19.6" dy="-11">1</tspan></text>
<text transform="translate(108.5,188.5) rotate(-90)" font-size="33.1" text-anchor="middle"><tspan font-style="italic">dI</tspan>/<tspan font-style="italic">dV</tspan> in <tspan font-style="italic">G</tspan><tspan font-size="23.5" dy="5">0</tspan></text>
<text transform="translate(915.5,187.5) rotate(-90)" font-size="33.1" text-anchor="middle"><tspan font-style="italic">dI</tspan>/<tspan font-style="italic">dV</tspan> in <tspan font-style="italic">G</tspan><tspan font-size="23.5" dy="5">0</tspan></text>
<text x="443.3" y="361.2" font-size="33.1" text-anchor="middle"><tspan font-style="italic">V</tspan> in mV</text>
<text x="1241" y="358.5" font-size="33.1" text-anchor="middle"><tspan font-style="italic">V</tspan> in mV</text>
<text x="434.9" y="430.8" font-size="33.1" text-anchor="middle"><tspan font-style="italic">d</tspan> in nm</text>
<text x="1240.5" y="427.8" font-size="33.1" text-anchor="middle"><tspan font-style="italic">d</tspan> in nm</text>
<text transform="translate(51.5,676.5) rotate(-90)" font-size="33.1" text-anchor="middle"><tspan font-style="italic">V</tspan> in mV</text>
<text transform="translate(854.5,673) rotate(-90)" font-size="33.1" text-anchor="middle"><tspan font-style="italic">V</tspan> in mV</text>
<text transform="translate(1589.5,674.5) rotate(-90)" font-size="33.1" text-anchor="middle"><tspan font-style="italic">dI</tspan>/<tspan font-style="italic">dV</tspan> (normalized)</text>
<text transform="translate(780,674.5) rotate(-90)" font-size="33.1" text-anchor="middle"><tspan font-style="italic">dI</tspan>/<tspan font-style="italic">dV</tspan> (normalized)</text>
<text transform="translate(46.5,981) rotate(-90)" font-size="33.1" text-anchor="middle"><tspan font-style="italic">G</tspan> in <tspan font-style="italic">G</tspan><tspan font-size="23.5" dy="5">0</tspan></text>
<text transform="translate(854.5,987.7) rotate(-90)" font-size="33.1" text-anchor="middle"><tspan font-style="italic">G</tspan> in <tspan font-style="italic">G</tspan><tspan font-size="23.5" dy="5">0</tspan></text>
<text transform="translate(53,1229) rotate(-90)" font-size="33.1" text-anchor="middle">S in <tspan font-style="italic">μ</tspan> V/K</text>
<text transform="translate(855,1232.5) rotate(-90)" font-size="33.1" text-anchor="middle">S in <tspan font-style="italic">μ</tspan> V/K</text>
<text x="434.5" y="1467" font-size="33.1" text-anchor="middle"><tspan font-style="italic">V</tspan><tspan font-size="23.5" dy="5" font-style="italic">Piezo</tspan><tspan dy="-5"> in V</tspan></text>
<text x="1239.5" y="1467" font-size="33.1" text-anchor="middle"><tspan font-style="italic">V</tspan><tspan font-size="23.5" dy="5" font-style="italic">Piezo</tspan><tspan dy="-5"> in V</tspan></text>
<text x="434.3" y="1976.4" font-size="33.1" text-anchor="middle"><tspan font-style="italic">G</tspan> in <tspan font-style="italic">G</tspan><tspan font-size="23.5" dy="5">0</tspan></text>
<text x="1239.6" y="1976.4" font-size="33.1" text-anchor="middle"><tspan font-style="italic">G</tspan> in <tspan font-style="italic">G</tspan><tspan font-size="23.5" dy="5">0</tspan></text>
<text x="12" y="1540.9" font-size="45" text-anchor="start" letter-spacing="1.0" font-family="'Liberation Sans', Arial, sans-serif" fill="#231f20">(c)</text>
<text x="812.6" y="1541.5" font-size="45" text-anchor="start" letter-spacing="1.2" font-family="'Liberation Sans', Arial, sans-serif" fill="#231f20">(d)</text>
<text x="433.3" y="1543.5" font-size="33.1" text-anchor="middle"><tspan font-style="italic">T</tspan><tspan font-size="23.5" dy="5" font-style="italic">H</tspan><tspan dy="-5">=180K </tspan><tspan font-style="italic">T</tspan><tspan font-size="23.5" dy="5" font-style="italic">C</tspan><tspan dy="-5">=155K</tspan></text>
<text x="1238.6" y="1543.5" font-size="33.1" text-anchor="middle"><tspan font-style="italic">T</tspan><tspan font-size="23.5" dy="5" font-style="italic">H</tspan><tspan dy="-5">=180K </tspan><tspan font-style="italic">T</tspan><tspan font-size="23.5" dy="5" font-style="italic">C</tspan><tspan dy="-5">=162K</tspan></text>
<line x1="337.6" y1="284.5" x2="337.6" y2="443.5" stroke="#231f20" stroke-width="2.1"/>
<line x1="337.6" y1="474" x2="337.6" y2="478.7" stroke="#231f20" stroke-width="2.1"/>
<path d="M325.4,474.7 Q337.6,482.2 349.8,474.7 L337.6,502 Z" fill="#231f20"/>
<line x1="1138.9" y1="321.6" x2="1138.9" y2="476.3" stroke="#231f20" stroke-width="2.1"/>
<path d="M1126.7,472.3 Q1138.9,479.8 1151.1,472.3 L1138.9,499.6 Z" fill="#231f20"/>
<ellipse cx="10.2" cy="604.9" rx="1.4" ry="1" fill="#8c8c8c"/>
<ellipse cx="810.6" cy="601.8" rx="1.1" ry="1.1" fill="#d4d4d4"/></svg></body></html>
